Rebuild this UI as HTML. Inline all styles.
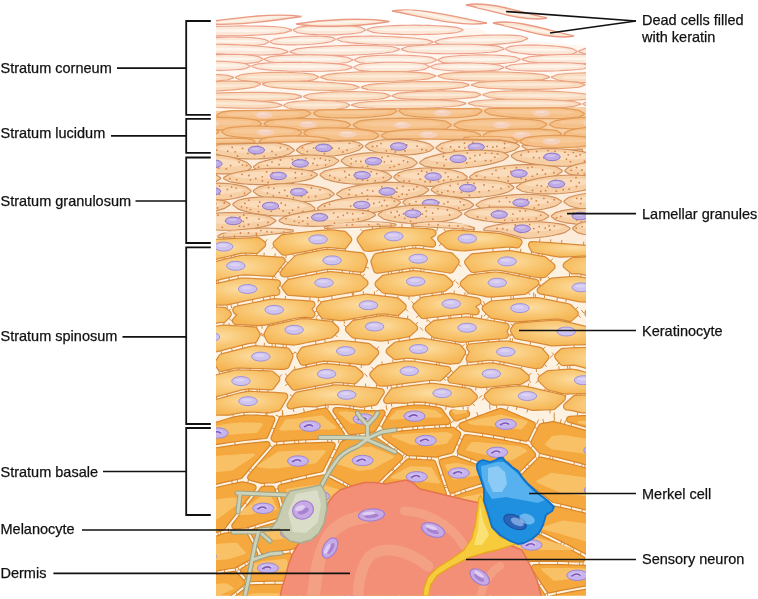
<!DOCTYPE html>
<html><head><meta charset="utf-8"><style>
html,body{margin:0;padding:0;background:#fff;width:758px;height:599px;overflow:hidden}
svg{display:block}
text{font-family:"Liberation Sans",sans-serif;font-size:14.5px;fill:#111;stroke:#111;stroke-width:0.25px}
body{-webkit-font-smoothing:antialiased}
#lbl{will-change:transform}
</style></head><body>
<svg width="758" height="599" viewBox="0 0 758 599">
<defs>
<clipPath id="blk"><rect x="216" y="0" width="370" height="595.7"/></clipPath>
<radialGradient id="gs" cx="0.5" cy="0.4" r="0.6"><stop offset="0" stop-color="#fcdda2"/><stop offset="0.5" stop-color="#f9c977"/><stop offset="1" stop-color="#f5b655"/></radialGradient>
</defs>
<g clip-path="url(#blk)">
<rect x="216" y="0" width="370" height="595.7" fill="#fff"/>
<path d="M216,28 L480,28 L492,38 L586,46 L586,112 L216,112Z" fill="#fff6ef"/>
<rect x="216" y="222" width="370" height="373.70000000000005" fill="#fdf2e1"/>
<path d="M216,111 L586,107 L586,149.0 L581,148.8913043478261 L576,148.7826086956522 L571,148.67391304347825 L566,148.56521739130434 L561,148.45652173913044 L556,148.34782608695653 L551,148.2391304347826 L546,148.1304347826087 L541,148.02173913043478 L536,147.2 L531,146.2 L526,145.2 L521,144.2 L516,143.2 L511,142.2 L506,141.2 L501,140.2 L496,139.96 L491,139.91 L486,139.86 L481,139.81 L476,139.76 L471,139.71 L466,139.66 L461,139.61 L456,139.56 L451,139.51 L446,139.46 L441,139.41 L436,139.36 L431,139.31 L426,139.26 L421,139.21 L416,139.16 L411,139.11 L406,139.06 L401,139.01 L396,139.12 L391,139.27 L386,139.42 L381,139.57 L376,139.72 L371,139.87 L366,140.02 L361,140.17 L356,140.32 L351,140.47 L346,140.62 L341,140.77 L336,140.92 L331,141.07 L326,141.22 L321,141.37 L316,141.52 L311,141.67 L306,141.82 L301,141.97 L296,142.0952380952381 L291,142.21428571428572 L286,142.33333333333334 L281,142.45238095238096 L276,142.57142857142858 L271,142.6904761904762 L266,142.8095238095238 L261,142.92857142857142 L256,143.04761904761904 L251,143.16666666666666 L246,143.28571428571428 L241,143.4047619047619 L236,143.52380952380952 L231,143.64285714285714 L226,143.76190476190476 L221,143.88095238095238 L216,144.0Z" fill="#f6cfa4"/>
<path d="M216,144.0 L221,143.88095238095238 L226,143.76190476190476 L231,143.64285714285714 L236,143.52380952380952 L241,143.4047619047619 L246,143.28571428571428 L251,143.16666666666666 L256,143.04761904761904 L261,142.92857142857142 L266,142.8095238095238 L271,142.6904761904762 L276,142.57142857142858 L281,142.45238095238096 L286,142.33333333333334 L291,142.21428571428572 L296,142.0952380952381 L301,141.97 L306,141.82 L311,141.67 L316,141.52 L321,141.37 L326,141.22 L331,141.07 L336,140.92 L341,140.77 L346,140.62 L351,140.47 L356,140.32 L361,140.17 L366,140.02 L371,139.87 L376,139.72 L381,139.57 L386,139.42 L391,139.27 L396,139.12 L401,139.01 L406,139.06 L411,139.11 L416,139.16 L421,139.21 L426,139.26 L431,139.31 L436,139.36 L441,139.41 L446,139.46 L451,139.51 L456,139.56 L461,139.61 L466,139.66 L471,139.71 L476,139.76 L481,139.81 L486,139.86 L491,139.91 L496,139.96 L501,140.2 L506,141.2 L511,142.2 L516,143.2 L521,144.2 L526,145.2 L531,146.2 L536,147.2 L541,148.02173913043478 L546,148.1304347826087 L551,148.2391304347826 L556,148.34782608695653 L561,148.45652173913044 L566,148.56521739130434 L571,148.67391304347825 L576,148.7826086956522 L581,148.8913043478261 L586,149.0 L586,244.0 L581,243.64285714285714 L576,243.28571428571428 L571,242.92857142857142 L566,242.57142857142858 L561,242.21428571428572 L556,241.85714285714286 L551,241.5 L546,241.14285714285714 L541,240.78571428571428 L536,240.42857142857142 L531,240.07142857142858 L526,238.93333333333334 L521,237.6 L516,236.26666666666668 L511,234.93333333333334 L506,233.6 L501,232.26666666666668 L496,231.7 L491,231.325 L486,230.95 L481,230.575 L476,230.2 L471,229.825 L466,229.45 L461,229.075 L456,228.8 L451,228.55 L446,228.3 L441,228.05 L436,227.8 L431,227.55 L426,227.3 L421,227.05 L416,226.8 L411,226.55 L406,226.3 L401,226.05 L396,226.15 L391,226.3375 L386,226.525 L381,226.7125 L376,226.9 L371,227.0875 L366,227.275 L361,227.4625 L356,227.65 L351,227.8375 L346,228.025 L341,228.2125 L336,228.4 L331,228.5875 L326,228.775 L321,228.9625 L316,229.46666666666667 L311,230.05 L306,230.63333333333333 L301,231.21666666666667 L296,231.8 L291,232.38333333333333 L286,232.96666666666667 L281,233.55 L276,234.13333333333333 L271,234.71666666666667 L266,235.3 L261,235.88333333333333 L256,236.1818181818182 L251,236.4090909090909 L246,236.63636363636363 L241,236.86363636363637 L236,237.0909090909091 L231,237.3181818181818 L226,237.54545454545453 L221,237.77272727272728 L216,238.0Z" fill="#fcebd9"/>
<path d="M176.4,31.3 L176.2,31.4 L176.1,31.5 L176.0,31.7 L176.1,31.9 L176.2,32.1 L176.4,32.2 L183.3,34.3 L183.4,34.3 L191.7,35.0 L191.7,35.0 L200.1,35.5 L200.1,35.5 L208.5,35.7 L208.6,35.7 L217.0,35.9 L217.0,35.9 L225.4,35.9 L225.4,35.9 L233.8,35.8 L233.8,35.8 L242.2,35.7 L242.2,35.7 L250.6,35.4 L250.6,35.4 L259.0,35.0 L259.0,35.0 L267.4,34.5 L267.4,34.5 L275.8,33.9 L275.8,33.9 L284.2,32.9 L284.3,32.9 L291.2,30.6 L291.4,30.5 L291.5,30.3 L291.5,30.1 L291.5,29.9 L291.4,29.8 L291.2,29.6 L284.3,27.5 L284.2,27.5 L275.8,26.8 L275.8,26.8 L267.4,26.4 L267.4,26.4 L259.0,26.1 L259.0,26.1 L250.6,26.0 L250.6,26.0 L242.2,25.9 L242.2,25.9 L233.8,26.0 L233.8,26.0 L225.4,26.2 L225.4,26.2 L217.0,26.4 L217.0,26.4 L208.6,26.8 L208.5,26.8 L200.1,27.3 L200.1,27.3 L191.7,28.0 L191.7,28.0 L183.4,28.9 L183.3,29.0Z" fill="#fce8d8" stroke="#eca08a" stroke-width="1.15"/>
<path d="M187.9,30.7 L187.7,30.8 L187.6,30.8 L187.6,30.9 L187.6,30.9 L187.7,31.0 L187.9,31.0 L193.4,31.6 L193.5,31.7 L200.1,31.9 L200.1,31.9 L206.9,32.0 L206.9,32.0 L213.6,32.1 L213.6,32.1 L220.3,32.1 L220.3,32.1 L227.1,32.1 L227.1,32.1 L233.8,32.1 L233.8,32.1 L240.5,32.1 L240.5,32.1 L247.2,32.0 L247.2,32.0 L254.0,31.9 L254.0,31.9 L260.7,31.7 L260.7,31.7 L267.4,31.5 L267.4,31.5 L274.1,31.2 L274.2,31.2 L279.7,30.5 L279.8,30.5 L279.9,30.4 L280.0,30.4 L279.9,30.3 L279.8,30.3 L279.7,30.2 L274.2,29.6 L274.1,29.6 L267.4,29.4 L267.4,29.4 L260.7,29.3 L260.7,29.3 L254.0,29.2 L254.0,29.2 L247.2,29.1 L247.2,29.1 L240.5,29.1 L240.5,29.1 L233.8,29.2 L233.8,29.2 L227.1,29.2 L227.1,29.2 L220.3,29.3 L220.3,29.3 L213.6,29.4 L213.6,29.4 L206.9,29.5 L206.9,29.5 L200.1,29.7 L200.1,29.8 L193.5,30.0 L193.4,30.0Z" fill="#fef5ec" opacity="1"/>
<path d="M293.5,29.7 L293.4,29.8 L293.3,29.9 L293.3,30.1 L293.3,30.3 L293.4,30.4 L293.5,30.5 L297.8,32.7 L298.0,32.8 L303.2,33.5 L303.2,33.5 L308.4,34.1 L308.4,34.1 L313.7,34.4 L313.7,34.4 L318.9,34.7 L318.9,34.7 L324.2,34.8 L324.2,34.8 L329.4,34.8 L329.4,34.8 L334.7,34.8 L334.7,34.8 L339.9,34.6 L340.0,34.6 L345.2,34.3 L345.2,34.3 L350.5,33.9 L350.5,33.9 L355.7,33.3 L355.7,33.3 L360.9,32.5 L361.0,32.5 L365.3,30.3 L365.5,30.1 L365.6,30.0 L365.6,29.8 L365.6,29.6 L365.5,29.5 L365.3,29.4 L361.0,27.2 L360.9,27.1 L355.7,26.4 L355.7,26.4 L350.5,25.8 L350.5,25.8 L345.2,25.5 L345.2,25.5 L340.0,25.2 L339.9,25.2 L334.7,25.1 L334.7,25.1 L329.4,25.1 L329.4,25.1 L324.2,25.2 L324.2,25.2 L318.9,25.3 L318.9,25.3 L313.7,25.6 L313.7,25.6 L308.4,26.0 L308.4,26.0 L303.2,26.6 L303.2,26.6 L298.0,27.4 L297.8,27.5Z" fill="#fce8d8" stroke="#eca08a" stroke-width="1.15"/>
<path d="M300.7,29.6 L300.6,29.6 L300.5,29.6 L300.5,29.7 L300.5,29.8 L300.6,29.8 L300.7,29.8 L304.2,30.5 L304.3,30.5 L308.4,30.7 L308.4,30.7 L312.6,30.9 L312.6,30.9 L316.8,31.0 L316.8,31.0 L321.0,31.1 L321.0,31.1 L325.2,31.1 L325.2,31.1 L329.4,31.1 L329.4,31.1 L333.6,31.1 L333.7,31.1 L337.8,31.0 L337.9,31.0 L342.0,31.0 L342.1,31.0 L346.3,30.8 L346.3,30.8 L350.5,30.7 L350.5,30.7 L354.6,30.4 L354.7,30.4 L358.2,29.7 L358.3,29.7 L358.4,29.7 L358.4,29.6 L358.4,29.6 L358.3,29.5 L358.2,29.5 L354.7,28.8 L354.6,28.8 L350.5,28.6 L350.5,28.6 L346.3,28.4 L346.3,28.4 L342.1,28.3 L342.0,28.3 L337.9,28.2 L337.8,28.2 L333.7,28.2 L333.6,28.2 L329.4,28.2 L329.4,28.2 L325.2,28.2 L325.2,28.2 L321.0,28.3 L321.0,28.3 L316.8,28.4 L316.8,28.4 L312.6,28.5 L312.6,28.5 L308.4,28.6 L308.4,28.6 L304.3,28.9 L304.2,28.9Z" fill="#fef5ec" opacity="1"/>
<path d="M367.5,29.3 L367.3,29.4 L367.2,29.6 L367.2,29.8 L367.2,30.0 L367.3,30.2 L367.5,30.3 L373.1,32.4 L373.3,32.4 L380.2,33.2 L380.2,33.2 L387.2,33.7 L387.2,33.7 L394.1,34.1 L394.1,34.1 L401.1,34.4 L401.1,34.4 L408.1,34.5 L408.1,34.5 L415.1,34.6 L415.1,34.6 L422.0,34.5 L422.1,34.5 L429.0,34.4 L429.0,34.4 L436.0,34.2 L436.0,34.2 L443.0,33.8 L443.0,33.8 L449.9,33.3 L450.0,33.3 L456.9,32.5 L457.0,32.5 L462.6,30.5 L462.8,30.4 L462.9,30.2 L463.0,30.0 L462.9,29.8 L462.8,29.6 L462.6,29.5 L457.0,27.4 L456.9,27.4 L450.0,26.6 L449.9,26.6 L443.0,26.1 L443.0,26.1 L436.0,25.7 L436.0,25.7 L429.0,25.4 L429.0,25.4 L422.1,25.3 L422.0,25.3 L415.1,25.2 L415.1,25.2 L408.1,25.3 L408.1,25.3 L401.1,25.4 L401.1,25.4 L394.1,25.6 L394.1,25.6 L387.2,26.0 L387.2,26.0 L380.2,26.5 L380.2,26.5 L373.3,27.3 L373.1,27.3Z" fill="#fce8d8" stroke="#eca08a" stroke-width="1.15"/>
<path d="M377.0,29.4 L376.9,29.5 L376.8,29.5 L376.8,29.6 L376.8,29.6 L376.9,29.7 L377.0,29.7 L381.5,30.3 L381.6,30.3 L387.1,30.6 L387.2,30.6 L392.7,30.7 L392.7,30.7 L398.3,30.9 L398.3,30.9 L403.9,30.9 L403.9,30.9 L409.5,31.0 L409.5,31.0 L415.1,31.0 L415.1,31.0 L420.6,31.0 L420.7,31.0 L426.2,31.0 L426.2,31.0 L431.8,30.9 L431.8,30.9 L437.4,30.8 L437.4,30.8 L443.0,30.6 L443.0,30.6 L448.5,30.4 L448.6,30.4 L453.1,29.8 L453.3,29.7 L453.4,29.7 L453.4,29.6 L453.4,29.6 L453.3,29.5 L453.1,29.5 L448.6,28.9 L448.5,28.9 L443.0,28.6 L443.0,28.6 L437.4,28.5 L437.4,28.5 L431.8,28.3 L431.8,28.3 L426.2,28.3 L426.2,28.3 L420.7,28.2 L420.6,28.2 L415.1,28.2 L415.1,28.2 L409.5,28.2 L409.5,28.2 L403.9,28.2 L403.9,28.2 L398.3,28.3 L398.3,28.3 L392.7,28.4 L392.7,28.4 L387.2,28.6 L387.1,28.6 L381.6,28.8 L381.5,28.8Z" fill="#fef5ec" opacity="1"/>
<path d="M116.7,41.7 L116.5,41.9 L116.4,42.0 L116.4,42.2 L116.4,42.4 L116.5,42.6 L116.7,42.7 L121.5,44.7 L121.7,44.7 L127.5,45.4 L127.6,45.4 L133.5,45.9 L133.5,45.9 L139.5,46.2 L139.5,46.2 L145.4,46.4 L145.4,46.4 L151.4,46.5 L151.4,46.5 L157.3,46.5 L157.3,46.5 L163.3,46.4 L163.3,46.4 L169.2,46.2 L169.2,46.2 L175.2,45.9 L175.2,45.9 L181.2,45.4 L181.2,45.4 L187.1,44.9 L187.1,44.9 L193.0,44.0 L193.1,44.0 L198.0,41.8 L198.1,41.7 L198.2,41.6 L198.3,41.4 L198.2,41.2 L198.1,41.0 L198.0,40.9 L193.1,38.9 L193.0,38.9 L187.1,38.1 L187.1,38.1 L181.2,37.7 L181.2,37.7 L175.2,37.4 L175.2,37.4 L169.2,37.2 L169.2,37.2 L163.3,37.1 L163.3,37.1 L157.3,37.1 L157.3,37.1 L151.4,37.2 L151.4,37.2 L145.4,37.4 L145.4,37.4 L139.5,37.7 L139.5,37.7 L133.5,38.2 L133.5,38.2 L127.6,38.7 L127.5,38.7 L121.7,39.6 L121.5,39.6Z" fill="#fce8d8" stroke="#eca08a" stroke-width="1.15"/>
<path d="M124.8,41.5 L124.7,41.5 L124.6,41.6 L124.6,41.6 L124.6,41.7 L124.7,41.7 L124.8,41.8 L128.7,42.4 L128.8,42.4 L133.5,42.6 L133.5,42.6 L138.3,42.7 L138.3,42.7 L143.0,42.8 L143.0,42.8 L147.8,42.9 L147.8,42.9 L152.6,42.9 L152.6,42.9 L157.3,42.9 L157.3,42.9 L162.1,42.9 L162.1,42.9 L166.9,42.8 L166.9,42.8 L171.6,42.7 L171.6,42.7 L176.4,42.6 L176.4,42.6 L181.2,42.4 L181.2,42.4 L185.9,42.2 L186.0,42.1 L189.8,41.5 L190.0,41.5 L190.1,41.4 L190.1,41.4 L190.1,41.3 L190.0,41.3 L189.8,41.2 L186.0,40.6 L185.9,40.6 L181.2,40.4 L181.2,40.4 L176.4,40.3 L176.4,40.3 L171.6,40.2 L171.6,40.2 L166.9,40.1 L166.9,40.1 L162.1,40.1 L162.1,40.1 L157.3,40.1 L157.3,40.1 L152.6,40.1 L152.6,40.1 L147.8,40.2 L147.8,40.2 L143.0,40.3 L143.0,40.3 L138.3,40.4 L138.3,40.4 L133.5,40.6 L133.5,40.6 L128.8,40.8 L128.7,40.8Z" fill="#fef5ec" opacity="1"/>
<path d="M199.9,40.9 L199.8,41.0 L199.7,41.2 L199.7,41.4 L199.7,41.6 L199.8,41.7 L199.9,41.8 L204.0,43.9 L204.1,43.9 L209.1,44.7 L209.1,44.7 L214.1,45.2 L214.1,45.2 L219.1,45.6 L219.1,45.6 L224.2,45.9 L224.2,45.9 L229.2,46.1 L229.2,46.1 L234.2,46.1 L234.2,46.1 L239.2,46.1 L239.2,46.1 L244.3,46.0 L244.3,46.0 L249.3,45.8 L249.3,45.8 L254.3,45.5 L254.3,45.5 L259.3,45.0 L259.4,45.0 L264.3,44.3 L264.4,44.2 L268.5,42.2 L268.6,42.1 L268.7,42.0 L268.8,41.8 L268.7,41.6 L268.6,41.5 L268.5,41.3 L264.4,39.3 L264.3,39.3 L259.4,38.5 L259.3,38.5 L254.3,37.9 L254.3,37.9 L249.3,37.5 L249.3,37.5 L244.3,37.3 L244.3,37.3 L239.2,37.1 L239.2,37.1 L234.2,37.0 L234.2,37.0 L229.2,37.0 L229.2,37.0 L224.2,37.2 L224.2,37.2 L219.1,37.4 L219.1,37.4 L214.1,37.7 L214.1,37.7 L209.1,38.2 L209.1,38.2 L204.1,38.9 L204.0,38.9Z" fill="#fce8d8" stroke="#eca08a" stroke-width="1.15"/>
<path d="M206.8,41.1 L206.7,41.1 L206.6,41.2 L206.6,41.2 L206.6,41.3 L206.7,41.3 L206.8,41.4 L210.0,42.0 L210.2,42.0 L214.1,42.2 L214.1,42.2 L218.1,42.4 L218.1,42.4 L222.1,42.5 L222.2,42.5 L226.2,42.6 L226.2,42.6 L230.2,42.6 L230.2,42.6 L234.2,42.7 L234.2,42.7 L238.2,42.7 L238.2,42.7 L242.3,42.6 L242.3,42.6 L246.3,42.6 L246.3,42.6 L250.3,42.5 L250.3,42.5 L254.3,42.3 L254.3,42.3 L258.3,42.1 L258.4,42.1 L261.6,41.5 L261.8,41.5 L261.8,41.4 L261.9,41.4 L261.8,41.3 L261.8,41.2 L261.6,41.2 L258.4,40.6 L258.3,40.6 L254.3,40.4 L254.3,40.4 L250.3,40.2 L250.3,40.2 L246.3,40.1 L246.3,40.1 L242.3,40.0 L242.3,40.0 L238.2,39.9 L238.2,39.9 L234.2,39.9 L234.2,39.9 L230.2,39.9 L230.2,39.9 L226.2,40.0 L226.2,40.0 L222.2,40.0 L222.1,40.0 L218.1,40.1 L218.1,40.1 L214.1,40.3 L214.1,40.3 L210.2,40.5 L210.0,40.5Z" fill="#fef5ec" opacity="1"/>
<path d="M270.3,41.3 L270.2,41.4 L270.1,41.6 L270.0,41.8 L270.1,42.0 L270.2,42.1 L270.3,42.2 L274.1,43.9 L274.2,43.9 L278.9,44.4 L278.9,44.4 L283.6,44.7 L283.6,44.7 L288.4,44.9 L288.4,44.9 L293.1,44.9 L293.1,44.9 L297.9,44.8 L297.9,44.8 L302.6,44.7 L302.6,44.7 L307.3,44.5 L307.4,44.5 L312.1,44.2 L312.1,44.2 L316.8,43.7 L316.8,43.7 L321.6,43.2 L321.6,43.2 L326.3,42.6 L326.3,42.6 L331.0,41.7 L331.1,41.7 L334.9,39.7 L335.1,39.6 L335.1,39.4 L335.2,39.2 L335.1,39.0 L335.0,38.9 L334.9,38.8 L331.1,37.1 L331.0,37.1 L326.3,36.6 L326.3,36.6 L321.6,36.3 L321.6,36.3 L316.8,36.1 L316.8,36.1 L312.1,36.1 L312.1,36.1 L307.4,36.2 L307.3,36.2 L302.6,36.3 L302.6,36.3 L297.9,36.5 L297.9,36.5 L293.1,36.9 L293.1,36.9 L288.4,37.3 L288.4,37.3 L283.6,37.8 L283.6,37.8 L278.9,38.4 L278.9,38.4 L274.2,39.3 L274.1,39.4Z" fill="#fce8d8" stroke="#eca08a" stroke-width="1.15"/>
<path d="M276.8,40.4 L276.7,40.5 L276.6,40.5 L276.6,40.6 L276.6,40.6 L276.7,40.7 L276.8,40.7 L279.8,41.2 L279.9,41.2 L283.6,41.4 L283.6,41.4 L287.4,41.5 L287.4,41.5 L291.2,41.5 L291.2,41.5 L295.0,41.5 L295.0,41.5 L298.8,41.5 L298.8,41.5 L302.6,41.5 L302.6,41.5 L306.4,41.4 L306.4,41.4 L310.2,41.3 L310.2,41.3 L314.0,41.2 L314.0,41.2 L317.8,41.0 L317.8,41.0 L321.6,40.8 L321.6,40.8 L325.3,40.6 L325.4,40.5 L328.4,40.0 L328.6,39.9 L328.6,39.9 L328.7,39.8 L328.6,39.8 L328.5,39.7 L328.4,39.7 L325.4,39.2 L325.3,39.2 L321.6,39.0 L321.6,39.0 L317.8,38.9 L317.8,38.9 L314.0,38.9 L314.0,38.9 L310.2,38.9 L310.2,38.9 L306.4,38.9 L306.4,38.9 L302.6,38.9 L302.6,38.9 L298.8,39.0 L298.8,39.0 L295.0,39.1 L295.0,39.1 L291.2,39.2 L291.2,39.2 L287.4,39.4 L287.4,39.4 L283.6,39.6 L283.6,39.6 L279.9,39.8 L279.8,39.9Z" fill="#fef5ec" opacity="1"/>
<path d="M337.3,38.8 L337.1,38.9 L337.0,39.0 L336.9,39.2 L337.0,39.4 L337.1,39.6 L337.3,39.7 L342.8,41.7 L342.9,41.7 L349.8,42.6 L349.8,42.6 L356.8,43.3 L356.9,43.3 L363.9,43.8 L363.9,43.8 L370.9,44.2 L370.9,44.2 L377.9,44.6 L377.9,44.6 L384.9,44.8 L384.9,44.8 L391.9,45.0 L391.9,45.0 L398.9,45.1 L398.9,45.1 L405.9,45.1 L405.9,45.1 L412.9,44.9 L412.9,44.9 L419.9,44.7 L419.9,44.7 L426.9,44.2 L427.0,44.2 L432.5,42.6 L432.6,42.5 L432.8,42.3 L432.8,42.1 L432.8,41.9 L432.7,41.7 L432.5,41.6 L427.0,39.6 L426.9,39.6 L419.9,38.7 L419.9,38.7 L412.9,38.0 L412.9,38.0 L405.9,37.5 L405.9,37.5 L398.9,37.1 L398.9,37.1 L391.9,36.7 L391.9,36.7 L384.9,36.5 L384.9,36.5 L377.9,36.3 L377.9,36.3 L370.9,36.2 L370.9,36.2 L363.9,36.3 L363.9,36.3 L356.9,36.4 L356.8,36.4 L349.8,36.6 L349.8,36.6 L342.9,37.1 L342.8,37.1Z" fill="#fce8d8" stroke="#eca08a" stroke-width="1.15"/>
<path d="M346.8,39.8 L346.7,39.8 L346.6,39.9 L346.5,39.9 L346.6,40.0 L346.6,40.0 L346.8,40.1 L351.2,40.7 L351.3,40.7 L356.8,40.9 L356.9,40.9 L362.4,41.1 L362.5,41.1 L368.1,41.3 L368.1,41.3 L373.7,41.4 L373.7,41.4 L379.3,41.5 L379.3,41.5 L384.9,41.6 L384.9,41.6 L390.5,41.7 L390.5,41.7 L396.1,41.7 L396.1,41.7 L401.7,41.7 L401.7,41.7 L407.3,41.6 L407.3,41.6 L412.9,41.6 L412.9,41.6 L418.5,41.4 L418.6,41.4 L422.9,40.9 L423.1,40.9 L423.2,40.9 L423.2,40.8 L423.2,40.7 L423.1,40.7 L423.0,40.6 L418.6,40.1 L418.5,40.0 L412.9,39.8 L412.9,39.8 L407.3,39.6 L407.3,39.6 L401.7,39.4 L401.7,39.4 L396.1,39.3 L396.1,39.3 L390.5,39.2 L390.5,39.2 L384.9,39.1 L384.9,39.1 L379.3,39.1 L379.3,39.1 L373.7,39.0 L373.7,39.0 L368.1,39.0 L368.1,39.0 L362.5,39.1 L362.4,39.1 L356.9,39.2 L356.8,39.2 L351.3,39.3 L351.2,39.3Z" fill="#fef5ec" opacity="1"/>
<path d="M435.1,41.6 L434.9,41.7 L434.8,41.9 L434.8,42.1 L434.8,42.3 L435.0,42.4 L435.1,42.5 L440.6,44.5 L440.8,44.6 L447.4,45.1 L447.4,45.1 L454.2,45.4 L454.2,45.4 L460.9,45.5 L460.9,45.5 L467.7,45.5 L467.7,45.5 L474.4,45.4 L474.4,45.4 L481.2,45.2 L481.2,45.2 L487.9,44.8 L487.9,44.8 L494.7,44.4 L494.7,44.4 L501.4,43.9 L501.4,43.9 L508.2,43.3 L508.2,43.3 L514.9,42.4 L514.9,42.4 L521.6,41.4 L521.7,41.3 L527.3,38.9 L527.4,38.8 L527.5,38.6 L527.6,38.4 L527.5,38.2 L527.4,38.1 L527.2,38.0 L521.7,36.0 L521.6,36.0 L514.9,35.4 L514.9,35.4 L508.2,35.1 L508.2,35.1 L501.4,35.0 L501.4,35.0 L494.7,35.0 L494.7,35.0 L487.9,35.1 L487.9,35.1 L481.2,35.3 L481.2,35.3 L474.4,35.7 L474.4,35.7 L467.7,36.1 L467.7,36.1 L460.9,36.6 L460.9,36.6 L454.2,37.3 L454.2,37.3 L447.4,38.1 L447.4,38.1 L440.8,39.2 L440.6,39.2Z" fill="#fce8d8" stroke="#eca08a" stroke-width="1.15"/>
<path d="M444.3,40.4 L444.2,40.4 L444.1,40.4 L444.1,40.5 L444.1,40.6 L444.2,40.6 L444.3,40.6 L448.7,41.2 L448.8,41.2 L454.2,41.4 L454.2,41.4 L459.6,41.5 L459.6,41.5 L465.0,41.5 L465.0,41.5 L470.4,41.5 L470.4,41.5 L475.8,41.5 L475.8,41.5 L481.2,41.4 L481.2,41.4 L486.6,41.3 L486.6,41.3 L492.0,41.2 L492.0,41.2 L497.4,41.0 L497.4,41.0 L502.8,40.9 L502.8,40.9 L508.2,40.6 L508.2,40.6 L513.5,40.3 L513.6,40.3 L518.1,39.5 L518.2,39.5 L518.3,39.5 L518.3,39.4 L518.3,39.3 L518.2,39.3 L518.0,39.3 L513.6,38.7 L513.5,38.7 L508.2,38.5 L508.2,38.5 L502.8,38.4 L502.8,38.4 L497.4,38.4 L497.4,38.4 L492.0,38.4 L492.0,38.4 L486.6,38.4 L486.6,38.4 L481.2,38.5 L481.2,38.5 L475.8,38.6 L475.8,38.6 L470.4,38.7 L470.4,38.7 L465.0,38.9 L465.0,38.9 L459.6,39.1 L459.6,39.1 L454.2,39.3 L454.2,39.3 L448.8,39.6 L448.7,39.6Z" fill="#fef5ec" opacity="1"/>
<path d="M179.4,47.0 L179.2,47.1 L179.0,47.3 L179.0,47.5 L179.0,47.7 L179.1,47.9 L179.3,48.0 L185.8,50.4 L185.9,50.5 L193.8,51.6 L193.8,51.6 L201.7,52.4 L201.7,52.4 L209.7,53.1 L209.7,53.1 L217.6,53.7 L217.6,53.7 L225.5,54.2 L225.5,54.2 L233.5,54.5 L233.5,54.5 L241.4,54.8 L241.4,54.8 L249.3,54.9 L249.3,54.9 L257.3,55.0 L257.3,55.0 L265.2,54.9 L265.2,54.9 L273.1,54.6 L273.1,54.6 L281.0,54.1 L281.1,54.1 L287.6,52.1 L287.8,52.0 L287.9,51.9 L287.9,51.7 L287.9,51.5 L287.8,51.3 L287.6,51.2 L281.1,48.7 L281.0,48.7 L273.1,47.6 L273.1,47.6 L265.2,46.7 L265.2,46.7 L257.3,46.0 L257.3,46.0 L249.3,45.4 L249.3,45.4 L241.4,45.0 L241.4,45.0 L233.5,44.6 L233.5,44.6 L225.5,44.4 L225.5,44.4 L217.6,44.2 L217.6,44.2 L209.7,44.2 L209.7,44.2 L201.7,44.3 L201.7,44.3 L193.8,44.5 L193.8,44.5 L185.9,45.0 L185.8,45.1Z" fill="#fce8d8" stroke="#eca08a" stroke-width="1.15"/>
<path d="M190.2,48.5 L190.0,48.5 L189.9,48.6 L189.9,48.6 L189.9,48.7 L190.0,48.8 L190.1,48.8 L195.4,49.5 L195.4,49.5 L201.7,49.9 L201.7,49.9 L208.1,50.1 L208.1,50.1 L214.4,50.3 L214.4,50.3 L220.8,50.5 L220.8,50.5 L227.1,50.6 L227.1,50.6 L233.5,50.8 L233.5,50.8 L239.8,50.8 L239.8,50.8 L246.2,50.9 L246.2,50.9 L252.5,50.9 L252.5,50.9 L258.8,50.9 L258.8,50.9 L265.2,50.8 L265.2,50.8 L271.5,50.6 L271.6,50.6 L276.8,50.0 L276.9,50.0 L277.0,50.0 L277.0,49.9 L277.0,49.8 L276.9,49.8 L276.8,49.8 L271.6,49.0 L271.5,49.0 L265.2,48.7 L265.2,48.7 L258.8,48.4 L258.8,48.4 L252.5,48.2 L252.5,48.2 L246.2,48.0 L246.2,48.0 L239.8,47.9 L239.8,47.9 L233.5,47.8 L233.5,47.8 L227.1,47.7 L227.1,47.7 L220.8,47.7 L220.8,47.7 L214.4,47.7 L214.4,47.7 L208.1,47.7 L208.1,47.7 L201.7,47.8 L201.7,47.8 L195.4,47.9 L195.4,47.9Z" fill="#fef5ec" opacity="1"/>
<path d="M290.4,51.2 L290.2,51.3 L290.1,51.5 L290.1,51.7 L290.1,51.9 L290.2,52.0 L290.4,52.1 L296.9,54.2 L297.0,54.2 L304.9,54.8 L304.9,54.8 L312.9,55.2 L312.9,55.2 L320.8,55.4 L320.8,55.4 L328.8,55.4 L328.8,55.4 L336.7,55.4 L336.7,55.4 L344.7,55.3 L344.7,55.3 L352.7,55.1 L352.7,55.0 L360.6,54.7 L360.6,54.7 L368.6,54.3 L368.6,54.3 L376.5,53.7 L376.5,53.7 L384.5,53.0 L384.5,53.0 L392.4,52.0 L392.5,52.0 L399.0,49.6 L399.2,49.5 L399.3,49.4 L399.3,49.2 L399.3,49.0 L399.2,48.8 L399.0,48.7 L392.5,46.7 L392.4,46.7 L384.5,46.0 L384.5,46.0 L376.5,45.7 L376.5,45.7 L368.6,45.5 L368.6,45.5 L360.6,45.4 L360.6,45.4 L352.7,45.4 L352.7,45.4 L344.7,45.6 L344.7,45.6 L336.7,45.8 L336.7,45.8 L328.8,46.1 L328.8,46.1 L320.8,46.6 L320.8,46.6 L312.9,47.1 L312.9,47.1 L304.9,47.8 L304.9,47.9 L297.0,48.8 L296.9,48.9Z" fill="#fce8d8" stroke="#eca08a" stroke-width="1.15"/>
<path d="M301.2,50.4 L301.1,50.4 L301.0,50.4 L301.0,50.5 L301.0,50.6 L301.1,50.6 L301.3,50.6 L306.4,51.2 L306.5,51.2 L312.9,51.4 L312.9,51.4 L319.2,51.5 L319.2,51.5 L325.6,51.6 L325.6,51.6 L332.0,51.6 L332.0,51.6 L338.3,51.6 L338.3,51.6 L344.7,51.6 L344.7,51.6 L351.1,51.5 L351.1,51.5 L357.4,51.4 L357.4,51.4 L363.8,51.3 L363.8,51.3 L370.2,51.1 L370.2,51.1 L376.5,50.9 L376.5,50.9 L382.9,50.6 L383.0,50.6 L388.2,49.9 L388.3,49.9 L388.4,49.8 L388.4,49.7 L388.4,49.7 L388.3,49.6 L388.1,49.6 L383.0,49.0 L382.9,49.0 L376.5,48.8 L376.5,48.8 L370.2,48.7 L370.2,48.7 L363.8,48.6 L363.8,48.6 L357.4,48.6 L357.4,48.6 L351.1,48.6 L351.1,48.6 L344.7,48.7 L344.7,48.7 L338.3,48.7 L338.3,48.7 L332.0,48.8 L332.0,48.8 L325.6,49.0 L325.6,49.0 L319.2,49.1 L319.2,49.1 L312.9,49.3 L312.9,49.3 L306.5,49.6 L306.4,49.7Z" fill="#fef5ec" opacity="1"/>
<path d="M401.8,48.7 L401.6,48.8 L401.5,48.9 L401.4,49.1 L401.5,49.3 L401.6,49.5 L401.8,49.6 L407.8,51.7 L408.0,51.7 L415.4,52.5 L415.4,52.5 L422.8,53.0 L422.9,53.0 L430.3,53.4 L430.3,53.4 L437.8,53.6 L437.8,53.6 L445.3,53.7 L445.3,53.7 L452.8,53.7 L452.8,53.7 L460.2,53.6 L460.2,53.6 L467.7,53.5 L467.7,53.5 L475.2,53.2 L475.2,53.2 L482.7,52.8 L482.7,52.8 L490.1,52.2 L490.1,52.2 L497.6,51.4 L497.7,51.3 L503.7,49.2 L503.9,49.1 L504.0,48.9 L504.1,48.7 L504.0,48.5 L503.9,48.4 L503.7,48.3 L497.7,46.1 L497.6,46.1 L490.1,45.4 L490.1,45.4 L482.7,44.9 L482.7,44.9 L475.2,44.5 L475.2,44.5 L467.7,44.3 L467.7,44.3 L460.2,44.2 L460.2,44.2 L452.8,44.2 L452.8,44.2 L445.3,44.2 L445.3,44.2 L437.8,44.4 L437.8,44.4 L430.3,44.7 L430.3,44.7 L422.9,45.1 L422.8,45.1 L415.4,45.7 L415.4,45.7 L408.0,46.5 L407.8,46.5Z" fill="#fce8d8" stroke="#eca08a" stroke-width="1.15"/>
<path d="M412.0,48.6 L411.8,48.6 L411.7,48.6 L411.7,48.7 L411.7,48.8 L411.8,48.8 L412.0,48.8 L416.8,49.5 L416.9,49.5 L422.8,49.7 L422.9,49.7 L428.8,49.9 L428.8,49.9 L434.8,50.0 L434.8,50.0 L440.8,50.0 L440.8,50.0 L446.8,50.1 L446.8,50.1 L452.8,50.1 L452.8,50.1 L458.7,50.0 L458.7,50.0 L464.7,50.0 L464.7,50.0 L470.7,49.9 L470.7,49.9 L476.7,49.8 L476.7,49.8 L482.7,49.6 L482.7,49.6 L488.6,49.4 L488.7,49.4 L493.5,48.7 L493.7,48.7 L493.8,48.6 L493.8,48.6 L493.8,48.5 L493.7,48.5 L493.5,48.4 L488.7,47.8 L488.6,47.8 L482.7,47.6 L482.7,47.6 L476.7,47.4 L476.7,47.4 L470.7,47.3 L470.7,47.3 L464.7,47.2 L464.7,47.2 L458.7,47.2 L458.7,47.2 L452.8,47.2 L452.8,47.2 L446.8,47.2 L446.8,47.2 L440.8,47.3 L440.8,47.3 L434.8,47.4 L434.8,47.4 L428.8,47.5 L428.8,47.5 L422.9,47.6 L422.8,47.6 L416.9,47.9 L416.8,47.9Z" fill="#fef5ec" opacity="1"/>
<path d="M506.0,48.3 L505.8,48.4 L505.7,48.6 L505.7,48.7 L505.7,48.9 L505.8,49.1 L505.9,49.2 L510.2,51.5 L510.3,51.6 L515.4,52.6 L515.5,52.6 L520.6,53.3 L520.6,53.3 L525.8,53.9 L525.8,53.9 L531.0,54.4 L531.0,54.4 L536.2,54.7 L536.2,54.7 L541.3,54.9 L541.3,54.9 L546.5,55.1 L546.5,55.1 L551.7,55.1 L551.7,55.1 L556.9,55.1 L556.9,55.1 L562.0,54.9 L562.1,54.9 L567.2,54.6 L567.2,54.6 L572.3,54.0 L572.5,53.9 L576.7,51.9 L576.8,51.8 L576.9,51.7 L577.0,51.5 L577.0,51.3 L576.9,51.1 L576.7,51.0 L572.5,48.7 L572.3,48.6 L567.2,47.6 L567.2,47.6 L562.1,46.9 L562.0,46.9 L556.9,46.3 L556.9,46.3 L551.7,45.9 L551.7,45.9 L546.5,45.5 L546.5,45.5 L541.3,45.3 L541.3,45.3 L536.2,45.1 L536.2,45.1 L531.0,45.1 L531.0,45.1 L525.8,45.1 L525.8,45.1 L520.6,45.3 L520.6,45.3 L515.5,45.7 L515.4,45.7 L510.4,46.3 L510.2,46.3Z" fill="#fce8d8" stroke="#eca08a" stroke-width="1.15"/>
<path d="M513.0,49.3 L512.9,49.3 L512.8,49.3 L512.8,49.4 L512.8,49.5 L512.9,49.5 L513.0,49.5 L516.4,50.2 L516.5,50.3 L520.6,50.5 L520.6,50.6 L524.8,50.8 L524.8,50.8 L528.9,50.9 L528.9,50.9 L533.0,51.1 L533.1,51.1 L537.2,51.2 L537.2,51.2 L541.3,51.3 L541.3,51.3 L545.5,51.3 L545.5,51.3 L549.6,51.3 L549.6,51.3 L553.8,51.3 L553.8,51.3 L557.9,51.2 L557.9,51.2 L562.0,51.1 L562.1,51.1 L566.1,51.0 L566.2,51.0 L569.6,50.4 L569.7,50.3 L569.8,50.3 L569.9,50.2 L569.8,50.2 L569.8,50.1 L569.6,50.1 L566.2,49.4 L566.1,49.4 L562.1,49.1 L562.0,49.1 L557.9,48.8 L557.9,48.8 L553.8,48.7 L553.8,48.7 L549.6,48.5 L549.6,48.5 L545.5,48.4 L545.5,48.4 L541.3,48.4 L541.3,48.4 L537.2,48.3 L537.2,48.3 L533.1,48.3 L533.0,48.3 L528.9,48.3 L528.9,48.3 L524.8,48.4 L524.8,48.4 L520.6,48.5 L520.6,48.5 L516.5,48.7 L516.4,48.7Z" fill="#fef5ec" opacity="1"/>
<path d="M578.8,51.0 L578.7,51.1 L578.5,51.3 L578.5,51.5 L578.6,51.7 L578.7,51.8 L578.9,51.9 L584.6,53.8 L584.7,53.8 L591.7,54.3 L591.7,54.3 L598.8,54.5 L598.8,54.5 L605.9,54.6 L605.9,54.6 L612.9,54.5 L612.9,54.5 L620.0,54.4 L620.0,54.4 L627.1,54.1 L627.1,54.1 L634.2,53.8 L634.2,53.8 L641.2,53.3 L641.2,53.3 L648.3,52.7 L648.3,52.7 L655.4,52.0 L655.4,52.0 L662.4,51.2 L662.5,51.2 L669.5,50.1 L669.6,50.1 L675.3,47.7 L675.5,47.6 L675.6,47.4 L675.6,47.2 L675.6,47.0 L675.5,46.8 L675.3,46.7 L669.6,44.9 L669.5,44.8 L662.5,44.3 L662.4,44.3 L655.4,44.1 L655.4,44.1 L648.3,44.1 L648.3,44.1 L641.2,44.1 L641.2,44.1 L634.2,44.3 L634.2,44.3 L627.1,44.5 L627.1,44.5 L620.0,44.9 L620.0,44.9 L612.9,45.4 L612.9,45.4 L605.9,45.9 L605.9,45.9 L598.8,46.6 L598.8,46.6 L591.7,47.4 L591.7,47.5 L584.7,48.6 L584.6,48.6Z" fill="#fce8d8" stroke="#eca08a" stroke-width="1.15"/>
<path d="M588.5,49.5 L588.3,49.6 L588.3,49.6 L588.2,49.7 L588.3,49.7 L588.4,49.8 L588.5,49.8 L593.1,50.4 L593.2,50.4 L598.8,50.5 L598.8,50.5 L604.4,50.6 L604.5,50.6 L610.1,50.6 L610.1,50.6 L615.8,50.6 L615.8,50.6 L621.4,50.5 L621.4,50.5 L627.1,50.5 L627.1,50.5 L632.7,50.4 L632.7,50.4 L638.4,50.2 L638.4,50.2 L644.1,50.0 L644.1,50.0 L649.7,49.8 L649.7,49.8 L655.4,49.6 L655.4,49.6 L661.0,49.3 L661.1,49.2 L665.7,48.5 L665.8,48.5 L665.9,48.4 L665.9,48.4 L665.9,48.3 L665.8,48.3 L665.7,48.2 L661.1,47.7 L661.0,47.7 L655.4,47.5 L655.4,47.5 L649.7,47.5 L649.7,47.5 L644.1,47.4 L644.1,47.4 L638.4,47.5 L638.4,47.5 L632.7,47.5 L632.7,47.5 L627.1,47.6 L627.1,47.6 L621.4,47.7 L621.4,47.7 L615.8,47.8 L615.8,47.8 L610.1,48.0 L610.1,48.0 L604.5,48.2 L604.4,48.2 L598.8,48.5 L598.8,48.5 L593.2,48.8 L593.1,48.8Z" fill="#fef5ec" opacity="1"/>
<path d="M118.9,58.9 L118.7,59.0 L118.6,59.2 L118.6,59.4 L118.7,59.5 L118.8,59.7 L118.9,59.8 L123.6,62.0 L123.8,62.1 L129.5,62.9 L129.5,62.9 L135.2,63.4 L135.2,63.4 L141.0,63.7 L141.0,63.7 L146.7,64.0 L146.7,64.0 L152.5,64.1 L152.5,64.1 L158.3,64.1 L158.3,64.1 L164.0,64.0 L164.0,64.0 L169.8,63.8 L169.8,63.8 L175.5,63.5 L175.5,63.5 L181.3,63.1 L181.3,63.1 L187.0,62.5 L187.1,62.5 L192.7,61.6 L192.9,61.6 L197.6,59.3 L197.8,59.1 L197.9,59.0 L197.9,58.8 L197.9,58.6 L197.8,58.5 L197.6,58.4 L192.9,56.1 L192.7,56.1 L187.1,55.3 L187.0,55.3 L181.3,54.8 L181.3,54.8 L175.5,54.4 L175.5,54.4 L169.8,54.2 L169.8,54.2 L164.0,54.1 L164.0,54.1 L158.3,54.1 L158.3,54.1 L152.5,54.2 L152.5,54.2 L146.7,54.4 L146.7,54.4 L141.0,54.7 L141.0,54.7 L135.2,55.1 L135.2,55.1 L129.5,55.7 L129.5,55.7 L123.8,56.6 L123.6,56.6Z" fill="#fce8d8" stroke="#eca08a" stroke-width="1.15"/>
<path d="M126.8,58.7 L126.6,58.8 L126.6,58.8 L126.5,58.9 L126.6,58.9 L126.7,59.0 L126.8,59.0 L130.6,59.7 L130.7,59.7 L135.2,59.9 L135.2,59.9 L139.8,60.1 L139.8,60.1 L144.4,60.2 L144.4,60.2 L149.0,60.2 L149.1,60.2 L153.7,60.3 L153.7,60.3 L158.3,60.3 L158.3,60.3 L162.9,60.3 L162.9,60.3 L167.5,60.2 L167.5,60.2 L172.1,60.1 L172.1,60.1 L176.7,60.0 L176.7,60.0 L181.3,59.8 L181.3,59.8 L185.8,59.5 L186.0,59.5 L189.8,58.8 L189.9,58.8 L190.0,58.8 L190.0,58.7 L190.0,58.6 L189.9,58.6 L189.7,58.6 L186.0,57.9 L185.8,57.9 L181.3,57.6 L181.3,57.6 L176.7,57.5 L176.7,57.5 L172.1,57.4 L172.1,57.4 L167.5,57.3 L167.5,57.3 L162.9,57.3 L162.9,57.3 L158.3,57.3 L158.3,57.3 L153.7,57.3 L153.7,57.3 L149.1,57.4 L149.0,57.4 L144.4,57.5 L144.4,57.5 L139.8,57.6 L139.8,57.6 L135.2,57.8 L135.2,57.8 L130.7,58.0 L130.6,58.0Z" fill="#fef5ec" opacity="1"/>
<path d="M199.3,58.4 L199.2,58.5 L199.1,58.7 L199.1,58.9 L199.2,59.1 L199.3,59.2 L203.1,61.4 L203.3,61.5 L207.8,62.3 L207.9,62.3 L212.5,62.9 L212.5,62.9 L217.1,63.3 L217.2,63.3 L221.8,63.5 L221.8,63.5 L226.4,63.7 L226.5,63.7 L231.1,63.8 L231.1,63.8 L235.7,63.8 L235.7,63.8 L240.4,63.7 L240.4,63.7 L245.0,63.5 L245.0,63.5 L249.7,63.1 L249.7,63.1 L254.3,62.6 L254.3,62.6 L258.9,61.9 L259.0,61.8 L262.8,59.7 L263.0,59.6 L263.1,59.4 L263.1,59.2 L263.0,59.0 L262.8,58.8 L259.0,56.7 L258.9,56.6 L254.3,55.8 L254.3,55.8 L249.7,55.2 L249.7,55.2 L245.0,54.8 L245.0,54.8 L240.4,54.5 L240.4,54.5 L235.7,54.3 L235.7,54.3 L231.1,54.3 L231.1,54.3 L226.5,54.3 L226.4,54.3 L221.8,54.4 L221.8,54.4 L217.2,54.6 L217.1,54.6 L212.5,54.9 L212.5,54.9 L207.9,55.4 L207.8,55.5 L203.3,56.2 L203.1,56.3Z" fill="#fce8d8" stroke="#eca08a" stroke-width="1.15"/>
<path d="M205.7,58.5 L205.6,58.6 L205.5,58.6 L205.5,58.7 L205.6,58.8 L205.7,58.8 L208.7,59.4 L208.9,59.5 L212.5,59.7 L212.5,59.7 L216.2,59.9 L216.2,59.9 L219.9,60.0 L219.9,60.0 L223.7,60.1 L223.7,60.1 L227.4,60.1 L227.4,60.1 L231.1,60.2 L231.1,60.2 L234.8,60.2 L234.8,60.2 L238.5,60.1 L238.5,60.1 L242.2,60.1 L242.2,60.1 L246.0,60.0 L246.0,60.0 L249.7,59.8 L249.7,59.8 L253.3,59.6 L253.5,59.6 L256.5,58.9 L256.6,58.9 L256.7,58.8 L256.7,58.8 L256.6,58.7 L256.5,58.7 L253.5,58.0 L253.3,58.0 L249.7,57.8 L249.7,57.8 L246.0,57.6 L246.0,57.6 L242.2,57.5 L242.2,57.5 L238.5,57.4 L238.5,57.4 L234.8,57.3 L234.8,57.3 L231.1,57.3 L231.1,57.3 L227.4,57.3 L227.4,57.3 L223.7,57.3 L223.7,57.3 L219.9,57.4 L219.9,57.4 L216.2,57.5 L216.2,57.5 L212.5,57.7 L212.5,57.7 L208.9,57.9 L208.7,57.9Z" fill="#fef5ec" opacity="1"/>
<path d="M264.7,58.8 L264.6,58.9 L264.5,59.1 L264.4,59.3 L264.5,59.5 L264.6,59.6 L264.7,59.7 L270.0,61.9 L270.1,61.9 L276.5,62.8 L276.5,62.8 L282.9,63.4 L282.9,63.4 L289.3,63.8 L289.3,63.8 L295.7,64.1 L295.7,64.1 L302.2,64.3 L302.2,64.3 L308.6,64.4 L308.6,64.4 L315.0,64.4 L315.0,64.4 L321.4,64.3 L321.4,64.3 L327.9,64.1 L327.9,64.1 L334.3,63.7 L334.3,63.7 L340.7,63.2 L340.7,63.2 L347.1,62.5 L347.2,62.5 L352.4,60.3 L352.6,60.2 L352.7,60.1 L352.7,59.9 L352.7,59.7 L352.6,59.5 L352.4,59.4 L347.2,57.2 L347.1,57.2 L340.7,56.4 L340.7,56.4 L334.3,55.8 L334.3,55.8 L327.9,55.3 L327.9,55.3 L321.4,55.0 L321.4,55.0 L315.0,54.9 L315.0,54.9 L308.6,54.8 L308.6,54.8 L302.2,54.8 L302.2,54.8 L295.7,54.9 L295.7,54.9 L289.3,55.1 L289.3,55.1 L282.9,55.4 L282.9,55.4 L276.5,55.9 L276.5,55.9 L270.1,56.7 L270.0,56.7Z" fill="#fce8d8" stroke="#eca08a" stroke-width="1.15"/>
<path d="M273.5,59.0 L273.4,59.1 L273.3,59.1 L273.3,59.2 L273.3,59.2 L273.4,59.3 L273.5,59.3 L277.7,60.0 L277.8,60.0 L282.9,60.2 L282.9,60.2 L288.0,60.4 L288.0,60.4 L293.2,60.5 L293.2,60.5 L298.3,60.6 L298.3,60.6 L303.4,60.7 L303.5,60.7 L308.6,60.7 L308.6,60.7 L313.7,60.7 L313.7,60.7 L318.9,60.7 L318.9,60.7 L324.0,60.6 L324.0,60.6 L329.1,60.5 L329.2,60.5 L334.3,60.4 L334.3,60.4 L339.4,60.1 L339.5,60.1 L343.7,59.5 L343.8,59.5 L343.9,59.4 L343.9,59.4 L343.9,59.3 L343.8,59.3 L343.7,59.2 L339.5,58.6 L339.4,58.6 L334.3,58.3 L334.3,58.3 L329.2,58.1 L329.1,58.1 L324.0,58.0 L324.0,58.0 L318.9,57.9 L318.9,57.9 L313.7,57.9 L313.7,57.9 L308.6,57.8 L308.6,57.8 L303.5,57.8 L303.4,57.8 L298.3,57.9 L298.3,57.9 L293.2,57.9 L293.2,57.9 L288.0,58.0 L288.0,58.0 L282.9,58.2 L282.9,58.2 L277.8,58.4 L277.7,58.4Z" fill="#fef5ec" opacity="1"/>
<path d="M354.6,59.4 L354.4,59.5 L354.3,59.7 L354.3,59.9 L354.3,60.1 L354.4,60.2 L354.6,60.3 L359.5,62.5 L359.6,62.6 L365.5,63.4 L365.5,63.4 L371.5,63.9 L371.5,63.9 L377.4,64.3 L377.5,64.3 L383.4,64.6 L383.4,64.6 L389.4,64.8 L389.4,64.8 L395.4,64.8 L395.4,64.8 L401.3,64.8 L401.3,64.8 L407.3,64.6 L407.3,64.6 L413.3,64.4 L413.3,64.4 L419.2,64.0 L419.3,64.0 L425.2,63.5 L425.2,63.5 L431.1,62.7 L431.3,62.7 L436.1,60.5 L436.3,60.4 L436.4,60.2 L436.4,60.0 L436.4,59.9 L436.3,59.7 L436.1,59.6 L431.3,57.4 L431.1,57.4 L425.2,56.5 L425.2,56.5 L419.3,56.0 L419.2,56.0 L413.3,55.6 L413.3,55.6 L407.3,55.3 L407.3,55.3 L401.3,55.2 L401.3,55.2 L395.4,55.1 L395.4,55.1 L389.4,55.1 L389.4,55.1 L383.4,55.3 L383.4,55.3 L377.5,55.5 L377.4,55.5 L371.5,55.9 L371.5,55.9 L365.5,56.4 L365.5,56.4 L359.6,57.2 L359.5,57.3Z" fill="#fce8d8" stroke="#eca08a" stroke-width="1.15"/>
<path d="M362.7,59.5 L362.6,59.5 L362.5,59.6 L362.5,59.6 L362.5,59.7 L362.6,59.7 L362.7,59.8 L366.7,60.4 L366.8,60.4 L371.5,60.7 L371.5,60.7 L376.3,60.9 L376.3,60.9 L381.0,61.0 L381.0,61.0 L385.8,61.1 L385.8,61.1 L390.6,61.1 L390.6,61.1 L395.4,61.1 L395.4,61.1 L400.1,61.1 L400.1,61.1 L404.9,61.1 L404.9,61.1 L409.7,61.0 L409.7,61.0 L414.5,60.9 L414.5,60.9 L419.2,60.7 L419.3,60.7 L424.0,60.5 L424.1,60.5 L428.0,59.8 L428.1,59.8 L428.2,59.7 L428.2,59.7 L428.2,59.6 L428.1,59.6 L428.0,59.5 L424.1,58.9 L424.0,58.9 L419.3,58.6 L419.2,58.6 L414.5,58.5 L414.5,58.5 L409.7,58.4 L409.7,58.4 L404.9,58.3 L404.9,58.3 L400.1,58.2 L400.1,58.2 L395.4,58.2 L395.4,58.2 L390.6,58.2 L390.6,58.2 L385.8,58.3 L385.8,58.3 L381.0,58.3 L381.0,58.3 L376.3,58.4 L376.3,58.4 L371.5,58.6 L371.5,58.6 L366.8,58.8 L366.7,58.9Z" fill="#fef5ec" opacity="1"/>
<path d="M438.2,59.6 L438.1,59.7 L438.0,59.8 L437.9,60.0 L438.0,60.2 L438.1,60.4 L438.2,60.5 L443.1,62.6 L443.2,62.6 L449.1,63.3 L449.1,63.3 L455.1,63.8 L455.1,63.8 L461.1,64.1 L461.1,64.1 L467.1,64.3 L467.1,64.3 L473.0,64.4 L473.1,64.4 L479.0,64.4 L479.0,64.4 L485.0,64.3 L485.0,64.3 L491.0,64.1 L491.0,64.1 L497.0,63.8 L497.0,63.8 L502.9,63.4 L503.0,63.4 L508.9,62.8 L508.9,62.8 L514.8,62.0 L515.0,62.0 L519.8,59.8 L520.0,59.7 L520.1,59.5 L520.1,59.3 L520.1,59.2 L520.0,59.0 L519.8,58.9 L515.0,56.8 L514.8,56.8 L508.9,56.0 L508.9,56.0 L503.0,55.6 L502.9,55.6 L497.0,55.2 L497.0,55.2 L491.0,55.0 L491.0,55.0 L485.0,54.9 L485.0,54.9 L479.0,54.9 L479.0,54.9 L473.1,55.0 L473.0,55.0 L467.1,55.2 L467.1,55.2 L461.1,55.5 L461.1,55.5 L455.1,56.0 L455.1,56.0 L449.1,56.5 L449.1,56.5 L443.2,57.4 L443.1,57.4Z" fill="#fce8d8" stroke="#eca08a" stroke-width="1.15"/>
<path d="M446.4,59.4 L446.3,59.4 L446.2,59.4 L446.1,59.5 L446.2,59.6 L446.3,59.6 L446.4,59.6 L450.3,60.3 L450.4,60.3 L455.1,60.5 L455.1,60.5 L459.9,60.6 L459.9,60.6 L464.7,60.7 L464.7,60.7 L469.5,60.8 L469.5,60.8 L474.2,60.8 L474.2,60.8 L479.0,60.8 L479.0,60.8 L483.8,60.8 L483.8,60.8 L488.6,60.7 L488.6,60.7 L493.4,60.6 L493.4,60.6 L498.2,60.5 L498.2,60.5 L502.9,60.3 L503.0,60.3 L507.7,60.1 L507.8,60.1 L511.7,59.4 L511.8,59.4 L511.9,59.3 L511.9,59.3 L511.9,59.2 L511.8,59.2 L511.7,59.2 L507.8,58.5 L507.7,58.5 L503.0,58.3 L502.9,58.3 L498.2,58.2 L498.2,58.2 L493.4,58.1 L493.4,58.1 L488.6,58.0 L488.6,58.0 L483.8,58.0 L483.8,58.0 L479.0,58.0 L479.0,58.0 L474.2,58.0 L474.2,58.0 L469.5,58.1 L469.5,58.1 L464.7,58.1 L464.7,58.1 L459.9,58.3 L459.9,58.3 L455.1,58.4 L455.1,58.4 L450.4,58.7 L450.3,58.7Z" fill="#fef5ec" opacity="1"/>
<path d="M522.5,58.9 L522.3,59.0 L522.1,59.1 L522.1,59.3 L522.1,59.5 L522.3,59.7 L522.5,59.8 L529.3,61.9 L529.4,61.9 L537.8,62.6 L537.8,62.6 L546.2,63.1 L546.2,63.1 L554.7,63.4 L554.7,63.4 L563.1,63.6 L563.1,63.6 L571.6,63.7 L571.6,63.7 L580.0,63.7 L580.0,63.7 L588.5,63.6 L588.5,63.6 L596.9,63.4 L596.9,63.4 L605.4,63.0 L605.4,63.0 L613.8,62.6 L613.8,62.6 L622.3,62.0 L622.3,62.0 L630.7,61.2 L630.8,61.2 L637.6,59.0 L637.8,58.9 L637.9,58.8 L638.0,58.6 L637.9,58.3 L637.8,58.2 L637.6,58.1 L630.8,56.0 L630.7,56.0 L622.3,55.3 L622.3,55.3 L613.8,54.8 L613.8,54.8 L605.4,54.5 L605.4,54.5 L596.9,54.3 L596.9,54.3 L588.5,54.2 L588.5,54.2 L580.0,54.2 L580.0,54.2 L571.6,54.3 L571.6,54.3 L563.1,54.5 L563.1,54.5 L554.7,54.8 L554.7,54.8 L546.2,55.3 L546.2,55.3 L537.8,55.9 L537.8,55.9 L529.4,56.7 L529.3,56.7Z" fill="#fce8d8" stroke="#eca08a" stroke-width="1.15"/>
<path d="M534.0,58.6 L533.8,58.6 L533.7,58.7 L533.7,58.8 L533.7,58.8 L533.8,58.9 L534.0,58.9 L539.4,59.5 L539.5,59.5 L546.2,59.7 L546.2,59.7 L553.0,59.9 L553.0,59.9 L559.8,60.0 L559.8,60.0 L566.5,60.0 L566.5,60.0 L573.3,60.1 L573.3,60.1 L580.0,60.1 L580.0,60.1 L586.8,60.0 L586.8,60.0 L593.5,60.0 L593.6,60.0 L600.3,59.9 L600.3,59.9 L607.1,59.7 L607.1,59.7 L613.8,59.6 L613.8,59.6 L620.5,59.3 L620.6,59.3 L626.1,58.7 L626.2,58.6 L626.3,58.6 L626.4,58.5 L626.3,58.5 L626.2,58.4 L626.1,58.4 L620.6,57.8 L620.5,57.8 L613.8,57.5 L613.8,57.5 L607.1,57.4 L607.1,57.4 L600.3,57.3 L600.3,57.3 L593.6,57.3 L593.5,57.3 L586.8,57.2 L586.8,57.2 L580.0,57.2 L580.0,57.2 L573.3,57.3 L573.3,57.3 L566.5,57.3 L566.5,57.3 L559.8,57.4 L559.8,57.4 L553.0,57.5 L553.0,57.5 L546.2,57.7 L546.2,57.7 L539.5,58.0 L539.4,58.0Z" fill="#fef5ec" opacity="1"/>
<path d="M178.5,64.8 L178.4,64.9 L178.3,65.1 L178.3,65.2 L178.3,65.4 L178.4,65.6 L178.5,65.7 L182.7,67.7 L182.9,67.8 L188.0,68.6 L188.1,68.6 L193.3,69.2 L193.3,69.2 L198.5,69.6 L198.5,69.6 L203.7,69.9 L203.7,69.9 L209.0,70.1 L209.0,70.1 L214.2,70.2 L214.2,70.2 L219.4,70.3 L219.4,70.3 L224.7,70.2 L224.7,70.2 L229.9,70.0 L229.9,70.0 L235.1,69.7 L235.1,69.7 L240.3,69.3 L240.4,69.3 L245.5,68.6 L245.7,68.6 L249.9,66.6 L250.0,66.5 L250.1,66.4 L250.1,66.2 L250.1,66.0 L250.0,65.8 L249.9,65.7 L245.7,63.7 L245.5,63.6 L240.4,62.8 L240.3,62.8 L235.1,62.3 L235.1,62.3 L229.9,61.8 L229.9,61.8 L224.7,61.5 L224.7,61.5 L219.4,61.3 L219.4,61.3 L214.2,61.2 L214.2,61.2 L209.0,61.2 L209.0,61.2 L203.7,61.3 L203.7,61.3 L198.5,61.4 L198.5,61.4 L193.3,61.7 L193.3,61.7 L188.1,62.1 L188.0,62.1 L182.9,62.8 L182.7,62.9Z" fill="#fce8d8" stroke="#eca08a" stroke-width="1.15"/>
<path d="M185.7,65.1 L185.6,65.2 L185.5,65.2 L185.4,65.3 L185.5,65.3 L185.5,65.4 L185.7,65.4 L189.0,66.0 L189.1,66.0 L193.3,66.3 L193.3,66.3 L197.5,66.5 L197.5,66.5 L201.6,66.6 L201.6,66.6 L205.8,66.7 L205.8,66.7 L210.0,66.7 L210.0,66.7 L214.2,66.8 L214.2,66.8 L218.4,66.8 L218.4,66.8 L222.6,66.8 L222.6,66.8 L226.7,66.7 L226.8,66.7 L230.9,66.6 L230.9,66.6 L235.1,66.5 L235.1,66.5 L239.2,66.3 L239.4,66.3 L242.7,65.7 L242.8,65.7 L242.9,65.6 L243.0,65.6 L242.9,65.5 L242.9,65.5 L242.7,65.4 L239.4,64.8 L239.2,64.8 L235.1,64.6 L235.1,64.5 L230.9,64.4 L230.9,64.4 L226.8,64.3 L226.7,64.3 L222.6,64.2 L222.6,64.2 L218.4,64.1 L218.4,64.1 L214.2,64.1 L214.2,64.1 L210.0,64.1 L210.0,64.1 L205.8,64.1 L205.8,64.1 L201.6,64.1 L201.6,64.1 L197.5,64.2 L197.5,64.2 L193.3,64.3 L193.3,64.3 L189.1,64.5 L189.0,64.6Z" fill="#fef5ec" opacity="1"/>
<path d="M252.2,65.7 L252.0,65.8 L251.9,66.0 L251.9,66.2 L251.9,66.4 L252.0,66.6 L252.2,66.7 L258.1,68.7 L258.2,68.8 L265.4,69.6 L265.4,69.6 L272.7,70.2 L272.7,70.2 L280.0,70.6 L280.0,70.6 L287.3,71.0 L287.3,71.0 L294.6,71.2 L294.6,71.2 L301.9,71.3 L302.0,71.3 L309.2,71.4 L309.3,71.4 L316.6,71.3 L316.6,71.3 L323.9,71.2 L323.9,71.2 L331.2,70.9 L331.2,70.9 L338.5,70.5 L338.5,70.5 L345.7,69.8 L345.8,69.8 L351.7,67.9 L351.9,67.8 L352.0,67.6 L352.0,67.4 L352.0,67.2 L351.9,67.1 L351.7,67.0 L345.8,64.9 L345.7,64.9 L338.5,64.0 L338.5,64.0 L331.2,63.4 L331.2,63.4 L323.9,63.0 L323.9,63.0 L316.6,62.7 L316.6,62.7 L309.3,62.4 L309.2,62.4 L302.0,62.3 L301.9,62.3 L294.6,62.3 L294.6,62.3 L287.3,62.3 L287.3,62.3 L280.0,62.5 L280.0,62.5 L272.7,62.7 L272.7,62.7 L265.4,63.1 L265.4,63.1 L258.2,63.8 L258.1,63.8Z" fill="#fce8d8" stroke="#eca08a" stroke-width="1.15"/>
<path d="M262.2,66.2 L262.0,66.2 L261.9,66.3 L261.9,66.3 L261.9,66.4 L262.0,66.5 L262.2,66.5 L266.8,67.1 L266.9,67.1 L272.7,67.4 L272.7,67.4 L278.6,67.5 L278.6,67.5 L284.4,67.7 L284.4,67.7 L290.3,67.8 L290.3,67.8 L296.1,67.8 L296.1,67.8 L301.9,67.9 L302.0,67.9 L307.8,67.9 L307.8,67.9 L313.6,67.9 L313.6,67.9 L319.5,67.8 L319.5,67.8 L325.3,67.8 L325.3,67.8 L331.2,67.6 L331.2,67.6 L337.0,67.4 L337.1,67.4 L341.7,66.9 L341.9,66.8 L342.0,66.8 L342.0,66.7 L342.0,66.7 L341.9,66.6 L341.7,66.6 L337.1,66.0 L337.0,65.9 L331.2,65.7 L331.2,65.7 L325.3,65.5 L325.3,65.5 L319.5,65.4 L319.5,65.4 L313.6,65.3 L313.6,65.3 L307.8,65.2 L307.8,65.2 L302.0,65.2 L301.9,65.2 L296.1,65.2 L296.1,65.2 L290.3,65.2 L290.3,65.2 L284.4,65.2 L284.4,65.2 L278.6,65.3 L278.6,65.3 L272.7,65.4 L272.7,65.4 L266.9,65.6 L266.8,65.6Z" fill="#fef5ec" opacity="1"/>
<path d="M354.0,67.0 L353.8,67.1 L353.7,67.3 L353.7,67.5 L353.8,67.6 L353.9,67.8 L354.0,67.9 L358.5,70.1 L358.6,70.1 L364.1,70.9 L364.1,70.9 L369.5,71.4 L369.6,71.4 L375.0,71.7 L375.1,71.7 L380.5,71.9 L380.5,71.9 L386.0,72.0 L386.0,72.0 L391.5,72.0 L391.5,72.0 L397.0,71.9 L397.0,71.9 L402.5,71.7 L402.5,71.7 L408.0,71.4 L408.0,71.4 L413.5,70.9 L413.5,70.9 L419.0,70.3 L419.0,70.3 L424.4,69.4 L424.5,69.4 L429.1,67.1 L429.2,67.0 L429.3,66.9 L429.3,66.7 L429.3,66.5 L429.2,66.4 L429.0,66.2 L424.5,64.1 L424.4,64.0 L419.0,63.3 L419.0,63.3 L413.5,62.8 L413.5,62.8 L408.0,62.5 L408.0,62.5 L402.5,62.3 L402.5,62.3 L397.0,62.2 L397.0,62.2 L391.5,62.2 L391.5,62.2 L386.0,62.3 L386.0,62.3 L380.5,62.5 L380.5,62.5 L375.1,62.8 L375.0,62.8 L369.6,63.2 L369.5,63.2 L364.1,63.8 L364.1,63.8 L358.6,64.7 L358.5,64.7Z" fill="#fce8d8" stroke="#eca08a" stroke-width="1.15"/>
<path d="M361.5,66.8 L361.4,66.8 L361.3,66.8 L361.3,66.9 L361.3,66.9 L361.4,67.0 L361.5,67.0 L365.1,67.7 L365.2,67.7 L369.5,67.9 L369.6,67.9 L373.9,68.1 L374.0,68.1 L378.3,68.2 L378.3,68.2 L382.7,68.2 L382.7,68.2 L387.1,68.2 L387.1,68.2 L391.5,68.2 L391.5,68.2 L395.9,68.2 L395.9,68.2 L400.3,68.2 L400.3,68.2 L404.7,68.1 L404.7,68.1 L409.1,67.9 L409.1,67.9 L413.5,67.7 L413.5,67.7 L417.8,67.5 L417.9,67.5 L421.5,66.8 L421.7,66.8 L421.7,66.7 L421.8,66.7 L421.7,66.6 L421.7,66.6 L421.5,66.5 L417.9,65.9 L417.8,65.9 L413.5,65.6 L413.5,65.6 L409.1,65.5 L409.1,65.5 L404.7,65.4 L404.7,65.4 L400.3,65.3 L400.3,65.3 L395.9,65.3 L395.9,65.3 L391.5,65.3 L391.5,65.3 L387.1,65.3 L387.1,65.3 L382.7,65.4 L382.7,65.4 L378.3,65.5 L378.3,65.5 L374.0,65.6 L373.9,65.6 L369.6,65.8 L369.5,65.8 L365.2,66.1 L365.1,66.1Z" fill="#fef5ec" opacity="1"/>
<path d="M431.0,66.2 L430.9,66.3 L430.8,66.5 L430.7,66.7 L430.8,66.9 L430.9,67.0 L431.0,67.2 L435.2,69.0 L435.4,69.0 L440.6,69.8 L440.6,69.8 L445.9,70.3 L445.9,70.3 L451.2,70.7 L451.2,70.7 L456.5,71.0 L456.6,71.0 L461.9,71.1 L461.9,71.1 L467.2,71.2 L467.2,71.2 L472.5,71.2 L472.5,71.2 L477.8,71.2 L477.8,71.2 L483.1,71.0 L483.1,71.0 L488.4,70.7 L488.4,70.7 L493.7,70.3 L493.8,70.3 L499.0,69.7 L499.1,69.6 L503.3,67.9 L503.5,67.8 L503.6,67.6 L503.6,67.4 L503.6,67.2 L503.5,67.1 L503.3,67.0 L499.1,65.1 L499.0,65.1 L493.8,64.3 L493.7,64.3 L488.4,63.8 L488.4,63.8 L483.1,63.4 L483.1,63.4 L477.8,63.2 L477.8,63.2 L472.5,63.0 L472.5,63.0 L467.2,62.9 L467.2,62.9 L461.9,62.9 L461.9,62.9 L456.6,62.9 L456.5,62.9 L451.2,63.1 L451.2,63.1 L445.9,63.4 L445.9,63.4 L440.6,63.8 L440.6,63.8 L435.4,64.4 L435.2,64.5Z" fill="#fce8d8" stroke="#eca08a" stroke-width="1.15"/>
<path d="M438.3,66.5 L438.1,66.5 L438.1,66.6 L438.0,66.6 L438.1,66.7 L438.1,66.8 L438.3,66.8 L441.6,67.3 L441.7,67.4 L445.9,67.6 L445.9,67.6 L450.2,67.7 L450.2,67.7 L454.4,67.8 L454.4,67.8 L458.7,67.9 L458.7,67.9 L462.9,68.0 L462.9,68.0 L467.2,68.0 L467.2,68.0 L471.4,68.0 L471.4,68.0 L475.7,68.0 L475.7,68.0 L479.9,67.9 L479.9,67.9 L484.2,67.9 L484.2,67.9 L488.4,67.7 L488.5,67.7 L492.6,67.5 L492.7,67.5 L496.1,67.0 L496.2,67.0 L496.3,66.9 L496.3,66.9 L496.3,66.8 L496.2,66.8 L496.1,66.7 L492.7,66.2 L492.6,66.2 L488.5,65.9 L488.4,65.9 L484.2,65.8 L484.2,65.8 L479.9,65.7 L479.9,65.7 L475.7,65.6 L475.7,65.6 L471.4,65.5 L471.4,65.5 L467.2,65.5 L467.2,65.5 L462.9,65.5 L462.9,65.5 L458.7,65.5 L458.7,65.5 L454.4,65.6 L454.4,65.6 L450.2,65.7 L450.2,65.7 L445.9,65.8 L445.9,65.8 L441.7,66.0 L441.6,66.0Z" fill="#fef5ec" opacity="1"/>
<path d="M505.6,66.9 L505.4,67.1 L505.3,67.2 L505.3,67.4 L505.3,67.6 L505.5,67.8 L505.6,67.9 L510.4,69.6 L510.6,69.7 L516.6,70.3 L516.6,70.3 L522.7,70.7 L522.7,70.7 L528.8,70.9 L528.8,70.9 L534.9,71.1 L534.9,71.1 L541.0,71.1 L541.0,71.1 L547.1,71.1 L547.1,71.1 L553.2,71.0 L553.2,71.0 L559.3,70.8 L559.3,70.7 L565.4,70.4 L565.4,70.4 L571.5,70.0 L571.5,70.0 L577.6,69.5 L577.6,69.5 L583.6,68.7 L583.7,68.7 L588.6,66.8 L588.7,66.7 L588.8,66.5 L588.9,66.3 L588.8,66.1 L588.7,65.9 L588.5,65.8 L583.7,64.1 L583.6,64.0 L577.6,63.4 L577.6,63.4 L571.5,63.0 L571.5,63.0 L565.4,62.8 L565.4,62.8 L559.3,62.6 L559.3,62.6 L553.2,62.6 L553.2,62.6 L547.1,62.6 L547.1,62.6 L541.0,62.8 L541.0,62.8 L534.9,63.0 L534.9,63.0 L528.8,63.3 L528.8,63.3 L522.7,63.7 L522.7,63.7 L516.6,64.2 L516.6,64.2 L510.6,65.0 L510.4,65.1Z" fill="#fce8d8" stroke="#eca08a" stroke-width="1.15"/>
<path d="M513.9,66.6 L513.8,66.6 L513.7,66.7 L513.7,66.7 L513.7,66.8 L513.8,66.8 L513.9,66.9 L517.8,67.4 L517.9,67.4 L522.7,67.6 L522.7,67.6 L527.6,67.7 L527.6,67.7 L532.4,67.8 L532.5,67.8 L537.3,67.8 L537.3,67.8 L542.2,67.8 L542.2,67.8 L547.1,67.8 L547.1,67.8 L552.0,67.8 L552.0,67.8 L556.8,67.7 L556.8,67.7 L561.7,67.6 L561.7,67.6 L566.6,67.5 L566.6,67.5 L571.5,67.3 L571.5,67.3 L576.3,67.1 L576.4,67.1 L580.3,66.5 L580.4,66.5 L580.5,66.4 L580.5,66.4 L580.5,66.3 L580.4,66.3 L580.3,66.3 L576.4,65.7 L576.3,65.7 L571.5,65.5 L571.5,65.5 L566.6,65.4 L566.6,65.4 L561.7,65.3 L561.7,65.3 L556.8,65.3 L556.8,65.3 L552.0,65.3 L552.0,65.3 L547.1,65.3 L547.1,65.3 L542.2,65.3 L542.2,65.3 L537.3,65.4 L537.3,65.4 L532.5,65.5 L532.4,65.5 L527.6,65.6 L527.6,65.6 L522.7,65.8 L522.7,65.8 L517.9,66.0 L517.8,66.0Z" fill="#fef5ec" opacity="1"/>
<path d="M126.8,78.6 L126.6,78.7 L126.5,78.9 L126.5,79.1 L126.5,79.3 L126.6,79.4 L126.8,79.5 L133.0,81.3 L133.1,81.4 L140.9,82.0 L140.9,82.0 L148.7,82.4 L148.7,82.4 L156.6,82.6 L156.6,82.6 L164.4,82.7 L164.4,82.7 L172.2,82.7 L172.2,82.7 L180.0,82.6 L180.0,82.6 L187.9,82.5 L187.9,82.5 L195.7,82.2 L195.7,82.2 L203.5,81.9 L203.5,81.9 L211.3,81.4 L211.4,81.4 L219.2,80.9 L219.2,80.8 L227.0,80.0 L227.1,80.0 L233.3,78.0 L233.4,77.9 L233.6,77.7 L233.6,77.5 L233.6,77.3 L233.4,77.2 L233.3,77.1 L227.1,75.3 L227.0,75.2 L219.2,74.6 L219.2,74.6 L211.4,74.3 L211.3,74.3 L203.5,74.0 L203.5,74.0 L195.7,73.9 L195.7,73.9 L187.9,73.9 L187.9,73.9 L180.0,74.0 L180.0,74.0 L172.2,74.1 L172.2,74.1 L164.4,74.4 L164.4,74.4 L156.6,74.7 L156.6,74.7 L148.7,75.2 L148.7,75.2 L140.9,75.8 L140.9,75.8 L133.1,76.6 L133.0,76.6Z" fill="#fadcc0" stroke="#eaa27e" stroke-width="1.15"/>
<path d="M137.5,78.1 L137.3,78.1 L137.2,78.2 L137.2,78.2 L137.2,78.3 L137.3,78.3 L137.5,78.4 L142.4,78.9 L142.5,78.9 L148.7,79.1 L148.7,79.1 L155.0,79.2 L155.0,79.2 L161.3,79.3 L161.3,79.3 L167.5,79.3 L167.5,79.3 L173.8,79.3 L173.8,79.3 L180.0,79.3 L180.0,79.3 L186.3,79.3 L186.3,79.3 L192.6,79.2 L192.6,79.2 L198.8,79.1 L198.8,79.1 L205.1,78.9 L205.1,78.9 L211.3,78.8 L211.4,78.8 L217.6,78.5 L217.6,78.5 L222.6,77.9 L222.8,77.9 L222.9,77.8 L222.9,77.8 L222.9,77.7 L222.8,77.7 L222.6,77.6 L217.6,77.1 L217.6,77.1 L211.4,76.9 L211.3,76.9 L205.1,76.8 L205.1,76.8 L198.8,76.7 L198.8,76.7 L192.6,76.7 L192.6,76.7 L186.3,76.7 L186.3,76.7 L180.0,76.7 L180.0,76.7 L173.8,76.7 L173.8,76.7 L167.5,76.8 L167.5,76.8 L161.3,76.9 L161.3,76.9 L155.0,77.1 L155.0,77.1 L148.7,77.2 L148.7,77.2 L142.5,77.5 L142.4,77.5Z" fill="#fce9d6" opacity="1"/>
<path d="M235.8,77.1 L235.7,77.2 L235.6,77.3 L235.5,77.5 L235.6,77.7 L235.7,77.9 L235.8,78.0 L240.8,80.2 L241.0,80.3 L246.9,81.1 L247.0,81.1 L253.0,81.6 L253.0,81.6 L259.1,82.0 L259.1,82.0 L265.1,82.2 L265.1,82.2 L271.2,82.3 L271.2,82.3 L277.2,82.4 L277.2,82.3 L283.3,82.3 L283.3,82.3 L289.3,82.1 L289.3,82.1 L295.4,81.8 L295.4,81.8 L301.4,81.4 L301.5,81.4 L307.5,80.8 L307.5,80.8 L313.5,79.9 L313.6,79.9 L318.6,77.6 L318.8,77.5 L318.9,77.3 L318.9,77.1 L318.9,76.9 L318.8,76.8 L318.6,76.7 L313.6,74.4 L313.5,74.4 L307.5,73.6 L307.5,73.6 L301.5,73.0 L301.4,73.0 L295.4,72.7 L295.4,72.7 L289.3,72.4 L289.3,72.4 L283.3,72.3 L283.3,72.3 L277.2,72.3 L277.2,72.3 L271.2,72.4 L271.2,72.4 L265.1,72.5 L265.1,72.5 L259.1,72.8 L259.1,72.8 L253.0,73.3 L253.0,73.3 L247.0,73.8 L246.9,73.9 L241.0,74.7 L240.8,74.8Z" fill="#fadcc0" stroke="#eaa27e" stroke-width="1.15"/>
<path d="M244.1,76.9 L244.0,77.0 L243.9,77.0 L243.9,77.1 L243.9,77.1 L244.0,77.2 L244.1,77.2 L248.1,77.9 L248.2,77.9 L253.0,78.1 L253.0,78.1 L257.8,78.3 L257.9,78.3 L262.7,78.4 L262.7,78.4 L267.5,78.5 L267.5,78.5 L272.4,78.5 L272.4,78.5 L277.2,78.5 L277.2,78.5 L282.1,78.5 L282.1,78.5 L286.9,78.4 L286.9,78.4 L291.8,78.4 L291.8,78.4 L296.6,78.2 L296.6,78.2 L301.4,78.1 L301.5,78.1 L306.2,77.8 L306.4,77.8 L310.3,77.1 L310.5,77.1 L310.6,77.0 L310.6,77.0 L310.6,76.9 L310.5,76.9 L310.3,76.8 L306.4,76.1 L306.2,76.1 L301.5,75.9 L301.4,75.9 L296.6,75.7 L296.6,75.7 L291.8,75.6 L291.8,75.6 L286.9,75.5 L286.9,75.5 L282.1,75.5 L282.1,75.5 L277.2,75.5 L277.2,75.5 L272.4,75.5 L272.4,75.5 L267.5,75.6 L267.5,75.6 L262.7,75.7 L262.7,75.7 L257.9,75.8 L257.8,75.8 L253.0,76.0 L253.0,76.0 L248.2,76.2 L248.1,76.2Z" fill="#fce9d6" opacity="1"/>
<path d="M321.1,76.6 L320.9,76.7 L320.8,76.9 L320.7,77.1 L320.8,77.3 L320.9,77.5 L321.1,77.6 L327.9,79.8 L328.1,79.8 L336.4,80.6 L336.4,80.6 L344.7,81.1 L344.8,81.1 L353.1,81.4 L353.1,81.4 L361.5,81.6 L361.5,81.6 L369.9,81.6 L369.9,81.6 L378.2,81.6 L378.2,81.6 L386.6,81.5 L386.6,81.5 L395.0,81.3 L395.0,81.3 L403.4,80.9 L403.4,80.9 L411.7,80.4 L411.7,80.4 L420.1,79.8 L420.1,79.8 L428.4,78.9 L428.5,78.9 L435.4,76.5 L435.6,76.4 L435.7,76.3 L435.8,76.1 L435.7,75.9 L435.6,75.7 L435.4,75.6 L428.5,73.4 L428.4,73.4 L420.1,72.6 L420.1,72.6 L411.7,72.1 L411.7,72.1 L403.4,71.8 L403.4,71.8 L395.0,71.6 L395.0,71.6 L386.6,71.5 L386.6,71.5 L378.2,71.6 L378.2,71.6 L369.9,71.7 L369.9,71.7 L361.5,71.9 L361.5,71.9 L353.1,72.3 L353.1,72.3 L344.8,72.7 L344.7,72.7 L336.4,73.4 L336.4,73.4 L328.1,74.3 L327.9,74.3Z" fill="#fadcc0" stroke="#eaa27e" stroke-width="1.15"/>
<path d="M332.5,76.3 L332.4,76.3 L332.3,76.4 L332.2,76.4 L332.3,76.5 L332.4,76.6 L332.5,76.6 L338.0,77.2 L338.1,77.3 L344.7,77.5 L344.8,77.5 L351.4,77.6 L351.4,77.6 L358.1,77.7 L358.1,77.7 L364.8,77.8 L364.8,77.8 L371.5,77.8 L371.5,77.8 L378.2,77.8 L378.2,77.8 L384.9,77.8 L384.9,77.8 L391.6,77.7 L391.6,77.7 L398.3,77.6 L398.3,77.6 L405.0,77.4 L405.0,77.4 L411.7,77.3 L411.7,77.3 L418.4,77.0 L418.5,77.0 L424.0,76.3 L424.1,76.2 L424.2,76.2 L424.3,76.1 L424.2,76.1 L424.1,76.0 L424.0,76.0 L418.5,75.3 L418.4,75.3 L411.7,75.1 L411.7,75.1 L405.0,74.9 L405.0,74.9 L398.3,74.9 L398.3,74.9 L391.6,74.8 L391.6,74.8 L384.9,74.8 L384.9,74.8 L378.2,74.8 L378.2,74.8 L371.5,74.8 L371.5,74.8 L364.8,74.9 L364.8,74.9 L358.1,75.0 L358.1,75.0 L351.4,75.1 L351.4,75.1 L344.8,75.3 L344.7,75.3 L338.1,75.6 L338.0,75.6Z" fill="#fce9d6" opacity="1"/>
<path d="M438.4,75.6 L438.2,75.7 L438.1,75.9 L438.0,76.1 L438.1,76.3 L438.2,76.4 L438.4,76.5 L444.9,78.7 L445.0,78.7 L453.1,79.6 L453.1,79.6 L461.2,80.2 L461.2,80.2 L469.3,80.6 L469.4,80.6 L477.5,80.9 L477.5,80.9 L485.6,81.2 L485.6,81.2 L493.7,81.3 L493.7,81.3 L501.8,81.3 L501.8,81.3 L510.0,81.2 L510.0,81.2 L518.1,81.1 L518.1,81.1 L526.2,80.8 L526.2,80.8 L534.3,80.3 L534.3,80.3 L542.4,79.6 L542.5,79.6 L549.1,77.6 L549.3,77.5 L549.4,77.3 L549.4,77.1 L549.4,76.9 L549.3,76.7 L549.1,76.6 L542.5,74.5 L542.4,74.5 L534.3,73.6 L534.3,73.6 L526.2,73.0 L526.2,73.0 L518.1,72.6 L518.1,72.6 L510.0,72.2 L510.0,72.2 L501.8,72.0 L501.8,72.0 L493.7,71.9 L493.7,71.9 L485.6,71.9 L485.6,71.9 L477.5,71.9 L477.5,71.9 L469.4,72.1 L469.3,72.1 L461.2,72.4 L461.2,72.4 L453.1,72.9 L453.1,72.9 L445.0,73.6 L444.9,73.6Z" fill="#fadcc0" stroke="#eaa27e" stroke-width="1.15"/>
<path d="M449.4,76.0 L449.3,76.0 L449.2,76.1 L449.2,76.1 L449.2,76.2 L449.3,76.2 L449.4,76.3 L454.7,76.9 L454.8,76.9 L461.2,77.2 L461.2,77.2 L467.7,77.4 L467.7,77.4 L474.2,77.5 L474.2,77.5 L480.7,77.6 L480.7,77.6 L487.2,77.7 L487.2,77.7 L493.7,77.7 L493.7,77.7 L500.2,77.7 L500.2,77.7 L506.7,77.7 L506.7,77.7 L513.2,77.6 L513.2,77.6 L519.7,77.5 L519.7,77.5 L526.2,77.4 L526.2,77.4 L532.7,77.2 L532.8,77.2 L538.0,76.6 L538.1,76.6 L538.2,76.5 L538.3,76.5 L538.2,76.4 L538.2,76.3 L538.0,76.3 L532.8,75.7 L532.7,75.7 L526.2,75.4 L526.2,75.4 L519.7,75.2 L519.7,75.2 L513.2,75.1 L513.2,75.1 L506.7,75.0 L506.7,75.0 L500.2,74.9 L500.2,74.9 L493.7,74.9 L493.7,74.9 L487.2,74.9 L487.2,74.9 L480.7,74.9 L480.7,74.9 L474.2,74.9 L474.2,74.9 L467.7,75.0 L467.7,75.0 L461.2,75.2 L461.2,75.2 L454.8,75.4 L454.7,75.4Z" fill="#fce9d6" opacity="1"/>
<path d="M551.8,76.7 L551.6,76.8 L551.5,76.9 L551.4,77.1 L551.5,77.3 L551.6,77.5 L551.8,77.6 L557.5,80.0 L557.7,80.0 L564.6,81.0 L564.6,81.0 L571.7,81.7 L571.7,81.7 L578.7,82.2 L578.7,82.2 L585.7,82.5 L585.7,82.5 L592.7,82.8 L592.7,82.8 L599.8,83.0 L599.8,83.0 L606.8,83.1 L606.8,83.1 L613.8,83.0 L613.8,83.0 L620.8,82.9 L620.8,82.9 L627.9,82.6 L627.9,82.6 L634.9,82.1 L634.9,82.1 L641.8,81.4 L642.0,81.4 L647.7,79.2 L647.9,79.1 L648.0,78.9 L648.1,78.7 L648.0,78.5 L647.9,78.4 L647.8,78.3 L642.0,75.9 L641.9,75.9 L634.9,74.9 L634.9,74.9 L627.9,74.2 L627.9,74.2 L620.8,73.7 L620.8,73.7 L613.8,73.3 L613.8,73.3 L606.8,73.1 L606.8,73.1 L599.8,72.9 L599.8,72.9 L592.7,72.8 L592.7,72.8 L585.7,72.9 L585.7,72.9 L578.7,73.0 L578.7,73.0 L571.7,73.3 L571.7,73.3 L564.6,73.8 L564.6,73.8 L557.7,74.5 L557.5,74.5Z" fill="#fadcc0" stroke="#eaa27e" stroke-width="1.15"/>
<path d="M561.4,77.3 L561.2,77.3 L561.1,77.3 L561.1,77.4 L561.1,77.5 L561.2,77.5 L561.4,77.5 L566.0,78.3 L566.1,78.3 L571.6,78.6 L571.7,78.6 L577.3,78.8 L577.3,78.8 L582.9,78.9 L582.9,78.9 L588.5,79.0 L588.5,79.0 L594.1,79.1 L594.1,79.1 L599.8,79.2 L599.8,79.2 L605.4,79.2 L605.4,79.2 L611.0,79.2 L611.0,79.2 L616.6,79.1 L616.6,79.1 L622.2,79.0 L622.2,79.0 L627.9,78.9 L627.9,78.9 L633.4,78.7 L633.5,78.7 L638.2,78.0 L638.3,78.0 L638.4,77.9 L638.4,77.9 L638.4,77.8 L638.3,77.8 L638.2,77.7 L633.5,77.0 L633.4,77.0 L627.9,76.7 L627.9,76.7 L622.2,76.5 L622.2,76.5 L616.6,76.4 L616.6,76.4 L611.0,76.3 L611.0,76.3 L605.4,76.2 L605.4,76.2 L599.8,76.1 L599.8,76.1 L594.1,76.1 L594.1,76.1 L588.5,76.1 L588.5,76.1 L582.9,76.2 L582.9,76.2 L577.3,76.3 L577.3,76.3 L571.7,76.4 L571.6,76.4 L566.1,76.6 L566.0,76.6Z" fill="#fce9d6" opacity="1"/>
<path d="M171.1,87.9 L170.9,88.0 L170.8,88.2 L170.8,88.4 L170.8,88.6 L170.9,88.7 L171.1,88.8 L176.4,90.7 L176.5,90.7 L183.0,91.2 L183.0,91.2 L189.5,91.4 L189.5,91.4 L196.0,91.4 L196.1,91.4 L202.6,91.4 L202.6,91.4 L209.1,91.2 L209.1,91.2 L215.7,91.0 L215.7,91.0 L222.2,90.6 L222.2,90.6 L228.7,90.2 L228.8,90.2 L235.3,89.6 L235.3,89.6 L241.8,88.9 L241.8,88.9 L248.4,88.1 L248.4,88.1 L254.8,87.0 L255.0,87.0 L260.3,84.6 L260.4,84.5 L260.5,84.3 L260.6,84.1 L260.5,84.0 L260.4,83.8 L260.2,83.7 L255.0,81.9 L254.8,81.8 L248.4,81.4 L248.4,81.4 L241.8,81.1 L241.8,81.1 L235.3,81.1 L235.3,81.1 L228.8,81.1 L228.7,81.1 L222.2,81.3 L222.2,81.3 L215.7,81.6 L215.7,81.6 L209.1,81.9 L209.1,81.9 L202.6,82.4 L202.6,82.4 L196.1,82.9 L196.0,82.9 L189.5,83.6 L189.5,83.6 L183.0,84.4 L183.0,84.4 L176.5,85.5 L176.4,85.6Z" fill="#fadcc0" stroke="#eaa27e" stroke-width="1.15"/>
<path d="M180.0,86.5 L179.9,86.5 L179.8,86.5 L179.7,86.6 L179.8,86.7 L179.9,86.7 L180.0,86.7 L184.2,87.3 L184.3,87.3 L189.5,87.4 L189.5,87.4 L194.7,87.5 L194.8,87.5 L200.0,87.5 L200.0,87.5 L205.2,87.5 L205.2,87.5 L210.4,87.5 L210.4,87.5 L215.7,87.4 L215.7,87.4 L220.9,87.3 L220.9,87.3 L226.1,87.1 L226.1,87.1 L231.4,87.0 L231.4,87.0 L236.6,86.8 L236.6,86.8 L241.8,86.5 L241.8,86.5 L247.0,86.2 L247.1,86.2 L251.4,85.5 L251.5,85.4 L251.6,85.4 L251.6,85.3 L251.6,85.3 L251.5,85.2 L251.3,85.2 L247.1,84.6 L247.0,84.6 L241.8,84.5 L241.8,84.5 L236.6,84.4 L236.6,84.4 L231.4,84.4 L231.4,84.4 L226.1,84.4 L226.1,84.4 L220.9,84.5 L220.9,84.5 L215.7,84.6 L215.7,84.6 L210.4,84.7 L210.4,84.7 L205.2,84.8 L205.2,84.8 L200.0,85.0 L200.0,85.0 L194.8,85.2 L194.7,85.2 L189.5,85.4 L189.5,85.4 L184.3,85.7 L184.2,85.8Z" fill="#fce9d6" opacity="1"/>
<path d="M262.9,83.7 L262.7,83.8 L262.6,83.9 L262.5,84.1 L262.6,84.3 L262.7,84.5 L262.9,84.6 L268.4,86.7 L268.5,86.7 L275.5,87.6 L275.6,87.6 L282.6,88.3 L282.6,88.3 L289.6,88.9 L289.7,88.9 L296.7,89.4 L296.7,89.4 L303.7,89.7 L303.8,89.7 L310.8,90.0 L310.8,90.0 L317.8,90.2 L317.9,90.2 L324.9,90.3 L324.9,90.3 L332.0,90.3 L332.0,90.3 L339.0,90.2 L339.0,90.2 L346.0,90.0 L346.1,90.0 L353.1,89.5 L353.2,89.5 L358.7,87.8 L358.9,87.7 L359.0,87.6 L359.1,87.4 L359.0,87.2 L358.9,87.0 L358.7,86.9 L353.2,84.9 L353.1,84.8 L346.1,83.9 L346.0,83.9 L339.0,83.2 L339.0,83.2 L332.0,82.6 L332.0,82.6 L324.9,82.2 L324.9,82.2 L317.9,81.8 L317.8,81.8 L310.8,81.5 L310.8,81.5 L303.8,81.3 L303.7,81.3 L296.7,81.2 L296.7,81.2 L289.7,81.2 L289.6,81.2 L282.6,81.3 L282.6,81.3 L275.6,81.5 L275.5,81.5 L268.5,82.0 L268.4,82.0Z" fill="#fadcc0" stroke="#eaa27e" stroke-width="1.15"/>
<path d="M272.5,84.8 L272.3,84.9 L272.2,84.9 L272.2,85.0 L272.2,85.0 L272.3,85.1 L272.5,85.1 L276.9,85.7 L277.0,85.7 L282.6,86.0 L282.6,86.0 L288.2,86.2 L288.2,86.2 L293.9,86.4 L293.9,86.4 L299.5,86.5 L299.5,86.5 L305.2,86.6 L305.2,86.7 L310.8,86.7 L310.8,86.7 L316.4,86.8 L316.4,86.8 L322.1,86.8 L322.1,86.8 L327.7,86.8 L327.7,86.8 L333.4,86.8 L333.4,86.8 L339.0,86.7 L339.0,86.7 L344.6,86.6 L344.7,86.6 L349.1,86.1 L349.3,86.1 L349.4,86.0 L349.4,85.9 L349.4,85.9 L349.3,85.8 L349.1,85.8 L344.7,85.2 L344.6,85.2 L339.0,84.9 L339.0,84.9 L333.4,84.7 L333.4,84.7 L327.7,84.5 L327.7,84.5 L322.1,84.4 L322.1,84.4 L316.4,84.3 L316.4,84.3 L310.8,84.2 L310.8,84.2 L305.2,84.1 L305.2,84.1 L299.5,84.1 L299.5,84.1 L293.9,84.1 L293.9,84.1 L288.2,84.1 L288.2,84.1 L282.6,84.2 L282.6,84.2 L277.0,84.3 L276.9,84.3Z" fill="#fce9d6" opacity="1"/>
<path d="M361.7,86.9 L361.5,87.0 L361.4,87.2 L361.4,87.4 L361.4,87.6 L361.5,87.8 L361.7,87.9 L368.0,89.6 L368.1,89.7 L375.9,90.2 L375.9,90.2 L383.7,90.5 L383.7,90.5 L391.6,90.7 L391.6,90.7 L399.5,90.7 L399.5,90.7 L407.3,90.7 L407.3,90.7 L415.2,90.6 L415.2,90.6 L423.0,90.3 L423.0,90.3 L430.9,90.0 L430.9,90.0 L438.8,89.6 L438.8,89.6 L446.6,89.1 L446.6,89.1 L454.5,88.4 L454.5,88.4 L462.3,87.5 L462.4,87.5 L468.7,85.4 L468.8,85.3 L469.0,85.1 L469.0,84.9 L469.0,84.7 L468.8,84.5 L468.6,84.4 L462.4,82.6 L462.3,82.6 L454.5,82.1 L454.5,82.1 L446.6,81.8 L446.6,81.8 L438.8,81.6 L438.8,81.6 L430.9,81.5 L430.9,81.5 L423.0,81.6 L423.0,81.6 L415.2,81.7 L415.2,81.7 L407.3,81.9 L407.3,81.9 L399.5,82.3 L399.5,82.3 L391.6,82.7 L391.6,82.7 L383.7,83.2 L383.7,83.2 L375.9,83.9 L375.9,83.9 L368.1,84.8 L368.0,84.8Z" fill="#fadcc0" stroke="#eaa27e" stroke-width="1.15"/>
<path d="M372.4,86.1 L372.3,86.1 L372.2,86.2 L372.1,86.2 L372.2,86.3 L372.3,86.3 L372.4,86.4 L377.4,86.9 L377.5,86.9 L383.7,87.1 L383.7,87.1 L390.0,87.2 L390.0,87.2 L396.3,87.2 L396.3,87.2 L402.6,87.2 L402.6,87.2 L408.9,87.2 L408.9,87.2 L415.2,87.2 L415.2,87.2 L421.5,87.1 L421.5,87.1 L427.8,87.0 L427.8,87.0 L434.0,86.9 L434.0,86.9 L440.3,86.7 L440.3,86.7 L446.6,86.5 L446.6,86.5 L452.9,86.2 L452.9,86.2 L458.0,85.6 L458.1,85.6 L458.2,85.5 L458.2,85.5 L458.2,85.4 L458.1,85.4 L457.9,85.3 L452.9,84.8 L452.9,84.8 L446.6,84.6 L446.6,84.6 L440.3,84.5 L440.3,84.5 L434.0,84.5 L434.0,84.5 L427.8,84.5 L427.8,84.5 L421.5,84.5 L421.5,84.5 L415.2,84.5 L415.2,84.5 L408.9,84.6 L408.9,84.6 L402.6,84.7 L402.6,84.7 L396.3,84.8 L396.3,84.8 L390.0,85.0 L390.0,85.0 L383.7,85.2 L383.7,85.2 L377.5,85.4 L377.4,85.4Z" fill="#fce9d6" opacity="1"/>
<path d="M471.8,84.4 L471.7,84.5 L471.5,84.6 L471.5,84.8 L471.5,85.0 L471.5,85.1 L471.7,85.3 L471.8,85.3 L478.4,87.3 L478.5,87.3 L486.8,88.0 L486.8,88.1 L495.1,88.5 L495.1,88.5 L503.3,88.9 L503.4,88.9 L511.6,89.1 L511.6,89.1 L519.9,89.3 L519.9,89.3 L528.2,89.3 L528.2,89.3 L536.5,89.3 L536.5,89.3 L544.8,89.1 L544.8,89.1 L553.1,88.9 L553.1,88.9 L561.4,88.5 L561.4,88.5 L569.6,88.0 L569.7,88.0 L577.9,87.3 L578.0,87.3 L584.6,85.3 L584.8,85.2 L584.9,85.1 L584.9,84.9 L584.9,84.7 L584.9,84.6 L584.8,84.4 L584.6,84.4 L578.0,82.4 L577.9,82.4 L569.7,81.7 L569.6,81.7 L561.4,81.2 L561.4,81.2 L553.1,80.8 L553.1,80.8 L544.8,80.6 L544.8,80.6 L536.5,80.4 L536.5,80.4 L528.2,80.4 L528.2,80.4 L519.9,80.5 L519.9,80.5 L511.6,80.6 L511.6,80.6 L503.4,80.8 L503.3,80.8 L495.1,81.2 L495.1,81.2 L486.8,81.7 L486.8,81.7 L478.5,82.4 L478.4,82.4Z" fill="#fadcc0" stroke="#eaa27e" stroke-width="1.15"/>
<path d="M483.1,84.4 L483.0,84.4 L482.9,84.5 L482.8,84.5 L482.8,84.6 L482.9,84.6 L483.0,84.7 L483.1,84.7 L488.4,85.3 L488.5,85.3 L495.1,85.5 L495.1,85.5 L501.7,85.7 L501.7,85.7 L508.3,85.8 L508.3,85.8 L515.0,85.8 L515.0,85.8 L521.6,85.9 L521.6,85.9 L528.2,85.9 L528.2,85.9 L534.8,85.9 L534.8,85.9 L541.5,85.8 L541.5,85.8 L548.1,85.8 L548.1,85.8 L554.7,85.7 L554.7,85.7 L561.4,85.5 L561.4,85.5 L568.0,85.3 L568.0,85.3 L573.3,84.7 L573.4,84.7 L573.5,84.6 L573.6,84.6 L573.6,84.5 L573.5,84.5 L573.4,84.4 L573.3,84.4 L568.0,83.8 L568.0,83.8 L561.4,83.6 L561.4,83.6 L554.7,83.4 L554.7,83.4 L548.1,83.3 L548.1,83.3 L541.5,83.3 L541.5,83.3 L534.8,83.2 L534.8,83.2 L528.2,83.2 L528.2,83.2 L521.6,83.2 L521.6,83.2 L515.0,83.3 L515.0,83.3 L508.3,83.3 L508.3,83.3 L501.7,83.5 L501.7,83.5 L495.1,83.6 L495.1,83.6 L488.5,83.8 L488.4,83.8Z" fill="#fce9d6" opacity="1"/>
<path d="M587.2,84.4 L587.0,84.5 L586.9,84.7 L586.9,84.9 L586.9,85.0 L587.0,85.2 L587.1,85.3 L591.4,87.5 L591.5,87.5 L596.6,88.4 L596.7,88.4 L601.8,89.0 L601.9,89.0 L607.1,89.5 L607.1,89.5 L612.3,89.9 L612.3,89.9 L617.5,90.1 L617.5,90.1 L622.7,90.3 L622.7,90.3 L627.9,90.4 L627.9,90.4 L633.1,90.4 L633.1,90.4 L638.3,90.2 L638.3,90.2 L643.5,90.0 L643.5,90.0 L648.7,89.6 L648.8,89.6 L653.9,89.0 L654.0,88.9 L658.2,87.0 L658.4,86.9 L658.5,86.7 L658.5,86.5 L658.5,86.3 L658.4,86.2 L658.3,86.1 L654.0,83.9 L653.9,83.9 L648.8,83.0 L648.7,83.0 L643.5,82.3 L643.5,82.3 L638.3,81.9 L638.3,81.9 L633.1,81.5 L633.1,81.5 L627.9,81.2 L627.9,81.2 L622.7,81.1 L622.7,81.1 L617.5,81.0 L617.5,81.0 L612.3,81.0 L612.3,81.0 L607.1,81.1 L607.1,81.1 L601.9,81.4 L601.8,81.4 L596.7,81.8 L596.6,81.8 L591.5,82.4 L591.4,82.5Z" fill="#fadcc0" stroke="#eaa27e" stroke-width="1.15"/>
<path d="M594.3,85.0 L594.1,85.0 L594.1,85.1 L594.0,85.1 L594.1,85.2 L594.1,85.2 L594.3,85.3 L597.6,85.9 L597.7,85.9 L601.8,86.2 L601.9,86.2 L606.0,86.4 L606.0,86.4 L610.2,86.5 L610.2,86.5 L614.4,86.6 L614.4,86.6 L618.5,86.7 L618.5,86.7 L622.7,86.8 L622.7,86.8 L626.9,86.8 L626.9,86.8 L631.0,86.8 L631.0,86.8 L635.2,86.8 L635.2,86.8 L639.4,86.7 L639.4,86.7 L643.5,86.6 L643.5,86.6 L647.6,86.4 L647.8,86.4 L651.1,85.8 L651.2,85.7 L651.3,85.7 L651.4,85.6 L651.3,85.6 L651.3,85.5 L651.1,85.5 L647.8,84.9 L647.6,84.8 L643.5,84.6 L643.5,84.6 L639.4,84.4 L639.4,84.4 L635.2,84.2 L635.2,84.2 L631.0,84.1 L631.0,84.1 L626.9,84.1 L626.9,84.1 L622.7,84.0 L622.7,84.0 L618.5,84.0 L618.5,84.0 L614.4,84.0 L614.4,84.0 L610.2,84.0 L610.2,84.0 L606.0,84.1 L606.0,84.1 L601.9,84.2 L601.8,84.2 L597.7,84.4 L597.6,84.4Z" fill="#fce9d6" opacity="1"/>
<path d="M123.8,95.2 L123.6,95.4 L123.5,95.6 L123.5,95.8 L123.6,96.0 L123.8,96.1 L127.7,98.5 L127.8,98.5 L132.5,99.4 L132.5,99.5 L137.2,100.1 L137.3,100.1 L142.0,100.6 L142.0,100.6 L146.7,101.0 L146.7,101.0 L151.5,101.3 L151.5,101.3 L156.2,101.4 L156.2,101.4 L161.0,101.5 L161.0,101.5 L165.7,101.5 L165.7,101.5 L170.4,101.3 L170.5,101.3 L175.2,101.1 L175.2,101.1 L179.9,100.6 L180.0,100.6 L184.6,99.9 L184.8,99.9 L188.7,97.7 L188.8,97.6 L188.9,97.4 L188.9,97.2 L188.8,97.0 L188.7,96.8 L184.8,94.5 L184.6,94.4 L180.0,93.5 L179.9,93.5 L175.2,92.8 L175.2,92.8 L170.5,92.3 L170.4,92.3 L165.7,91.9 L165.7,91.9 L161.0,91.7 L161.0,91.7 L156.2,91.5 L156.2,91.5 L151.5,91.4 L151.5,91.4 L146.7,91.5 L146.7,91.5 L142.0,91.6 L142.0,91.6 L137.3,91.9 L137.2,91.9 L132.5,92.3 L132.5,92.3 L127.8,93.0 L127.7,93.1Z" fill="#fadcc0" stroke="#eaa27e" stroke-width="1.15"/>
<path d="M130.3,95.8 L130.1,95.8 L130.1,95.9 L130.1,96.0 L130.1,96.0 L130.3,96.1 L133.4,96.8 L133.5,96.8 L137.2,97.1 L137.3,97.1 L141.0,97.3 L141.0,97.3 L144.8,97.4 L144.8,97.4 L148.6,97.5 L148.6,97.5 L152.4,97.6 L152.4,97.6 L156.2,97.7 L156.2,97.7 L160.0,97.7 L160.0,97.7 L163.8,97.7 L163.8,97.7 L167.6,97.6 L167.6,97.6 L171.4,97.5 L171.4,97.5 L175.2,97.4 L175.2,97.4 L178.9,97.2 L179.1,97.2 L182.2,96.5 L182.3,96.5 L182.4,96.4 L182.4,96.4 L182.3,96.3 L182.2,96.3 L179.0,95.6 L178.9,95.6 L175.2,95.3 L175.2,95.3 L171.4,95.1 L171.4,95.1 L167.6,94.9 L167.6,94.9 L163.8,94.8 L163.8,94.8 L160.0,94.7 L160.0,94.7 L156.2,94.7 L156.2,94.7 L152.4,94.7 L152.4,94.7 L148.6,94.7 L148.6,94.7 L144.8,94.7 L144.8,94.7 L141.0,94.8 L141.0,94.8 L137.3,94.9 L137.2,94.9 L133.5,95.1 L133.4,95.2Z" fill="#fce9d6" opacity="1"/>
<path d="M191.0,96.8 L190.8,96.9 L190.7,97.1 L190.6,97.3 L190.7,97.5 L190.8,97.6 L191.0,97.8 L197.5,99.7 L197.6,99.7 L205.6,100.5 L205.6,100.5 L213.7,100.9 L213.7,100.9 L221.8,101.2 L221.8,101.2 L229.9,101.4 L229.9,101.4 L238.0,101.5 L238.0,101.5 L246.1,101.5 L246.1,101.5 L254.2,101.4 L254.2,101.4 L262.3,101.2 L262.3,101.2 L270.4,100.9 L270.4,100.9 L278.5,100.5 L278.5,100.5 L286.6,100.0 L286.6,100.0 L294.7,99.2 L294.8,99.1 L301.3,97.1 L301.5,97.0 L301.6,96.8 L301.7,96.6 L301.6,96.4 L301.5,96.2 L301.3,96.1 L294.8,94.1 L294.7,94.1 L286.6,93.4 L286.6,93.4 L278.5,92.9 L278.5,92.9 L270.4,92.6 L270.4,92.6 L262.3,92.4 L262.3,92.4 L254.2,92.4 L254.2,92.4 L246.1,92.4 L246.1,92.4 L238.0,92.5 L238.0,92.5 L229.9,92.6 L229.9,92.6 L221.8,92.9 L221.8,92.9 L213.7,93.3 L213.7,93.3 L205.6,93.9 L205.6,93.9 L197.6,94.7 L197.5,94.7Z" fill="#fadcc0" stroke="#eaa27e" stroke-width="1.15"/>
<path d="M202.0,96.6 L201.9,96.6 L201.8,96.7 L201.7,96.7 L201.8,96.8 L201.9,96.9 L202.0,96.9 L207.2,97.5 L207.3,97.5 L213.7,97.7 L213.7,97.7 L220.2,97.8 L220.2,97.8 L226.7,97.9 L226.7,97.9 L233.2,98.0 L233.2,98.0 L239.7,98.0 L239.7,98.0 L246.1,98.0 L246.1,98.0 L252.6,98.0 L252.6,98.0 L259.1,97.9 L259.1,97.9 L265.6,97.8 L265.6,97.8 L272.1,97.7 L272.1,97.7 L278.5,97.5 L278.5,97.5 L285.0,97.3 L285.1,97.3 L290.3,96.7 L290.4,96.6 L290.5,96.6 L290.5,96.5 L290.5,96.5 L290.4,96.4 L290.3,96.4 L285.1,95.8 L285.0,95.8 L278.5,95.6 L278.5,95.6 L272.1,95.4 L272.1,95.4 L265.6,95.3 L265.6,95.3 L259.1,95.3 L259.1,95.3 L252.6,95.3 L252.6,95.3 L246.1,95.3 L246.1,95.3 L239.7,95.3 L239.7,95.3 L233.2,95.3 L233.2,95.3 L226.7,95.4 L226.7,95.4 L220.2,95.6 L220.2,95.6 L213.7,95.7 L213.7,95.7 L207.3,96.0 L207.2,96.0Z" fill="#fce9d6" opacity="1"/>
<path d="M304.0,96.1 L303.8,96.2 L303.7,96.4 L303.7,96.6 L303.7,96.8 L303.8,96.9 L304.0,97.0 L309.1,99.0 L309.2,99.1 L315.4,99.8 L315.4,99.8 L321.7,100.2 L321.7,100.2 L328.0,100.5 L328.0,100.6 L334.3,100.7 L334.3,100.7 L340.6,100.8 L340.6,100.8 L346.8,100.8 L346.8,100.8 L353.1,100.7 L353.1,100.7 L359.4,100.5 L359.4,100.5 L365.7,100.2 L365.7,100.2 L372.0,99.8 L372.0,99.8 L378.3,99.3 L378.3,99.3 L384.5,98.4 L384.6,98.4 L389.7,96.3 L389.9,96.2 L390.0,96.1 L390.0,95.9 L390.0,95.7 L389.9,95.5 L389.7,95.4 L384.6,93.4 L384.5,93.4 L378.3,92.7 L378.3,92.7 L372.0,92.2 L372.0,92.2 L365.7,91.9 L365.7,91.9 L359.4,91.7 L359.4,91.7 L353.1,91.6 L353.1,91.6 L346.8,91.6 L346.8,91.6 L340.6,91.7 L340.6,91.7 L334.3,91.9 L334.3,91.9 L328.0,92.2 L328.0,92.2 L321.7,92.6 L321.7,92.6 L315.4,93.2 L315.4,93.2 L309.2,94.0 L309.1,94.0Z" fill="#fadcc0" stroke="#eaa27e" stroke-width="1.15"/>
<path d="M312.6,95.9 L312.4,95.9 L312.3,96.0 L312.3,96.0 L312.3,96.1 L312.4,96.1 L312.6,96.2 L316.6,96.8 L316.7,96.8 L321.7,97.0 L321.7,97.0 L326.7,97.1 L326.7,97.1 L331.8,97.2 L331.8,97.2 L336.8,97.3 L336.8,97.3 L341.8,97.3 L341.8,97.3 L346.8,97.3 L346.8,97.3 L351.9,97.3 L351.9,97.3 L356.9,97.2 L356.9,97.2 L361.9,97.1 L361.9,97.1 L367.0,97.0 L367.0,97.0 L372.0,96.8 L372.0,96.8 L377.0,96.6 L377.1,96.6 L381.1,96.0 L381.3,95.9 L381.3,95.9 L381.4,95.8 L381.3,95.8 L381.3,95.7 L381.1,95.7 L377.1,95.1 L377.0,95.1 L372.0,94.9 L372.0,94.9 L367.0,94.7 L367.0,94.7 L361.9,94.6 L361.9,94.6 L356.9,94.6 L356.9,94.6 L351.9,94.5 L351.9,94.5 L346.8,94.5 L346.8,94.5 L341.8,94.6 L341.8,94.6 L336.8,94.6 L336.8,94.6 L331.8,94.7 L331.8,94.7 L326.7,94.8 L326.7,94.8 L321.7,95.0 L321.7,95.0 L316.7,95.3 L316.6,95.3Z" fill="#fce9d6" opacity="1"/>
<path d="M392.1,95.4 L392.0,95.5 L391.9,95.7 L391.8,95.8 L391.9,96.0 L392.0,96.2 L392.2,96.3 L397.3,98.1 L397.4,98.1 L403.8,98.8 L403.9,98.8 L410.3,99.1 L410.4,99.1 L416.8,99.4 L416.9,99.4 L423.3,99.5 L423.4,99.5 L429.8,99.6 L429.9,99.6 L436.3,99.5 L436.4,99.5 L442.8,99.4 L442.9,99.4 L449.3,99.2 L449.4,99.2 L455.8,98.9 L455.9,98.9 L462.3,98.5 L462.4,98.5 L468.8,97.9 L468.9,97.9 L475.3,97.1 L475.4,97.1 L480.6,95.1 L480.7,95.0 L480.8,94.9 L480.9,94.7 L480.8,94.5 L480.7,94.3 L480.5,94.2 L475.4,92.4 L475.3,92.4 L468.9,91.8 L468.8,91.8 L462.4,91.4 L462.3,91.4 L455.9,91.1 L455.8,91.1 L449.4,91.0 L449.3,91.0 L442.9,90.9 L442.8,90.9 L436.4,91.0 L436.3,91.0 L429.9,91.1 L429.8,91.1 L423.4,91.3 L423.3,91.3 L416.9,91.6 L416.8,91.6 L410.4,92.1 L410.3,92.1 L403.9,92.6 L403.8,92.6 L397.4,93.4 L397.3,93.4Z" fill="#fadcc0" stroke="#eaa27e" stroke-width="1.15"/>
<path d="M401.0,95.0 L400.9,95.0 L400.8,95.1 L400.7,95.1 L400.8,95.2 L400.9,95.2 L401.0,95.3 L405.1,95.8 L405.2,95.8 L410.3,96.0 L410.4,96.0 L415.5,96.1 L415.6,96.1 L420.7,96.2 L420.8,96.2 L425.9,96.2 L426.0,96.2 L431.1,96.3 L431.2,96.3 L436.3,96.2 L436.4,96.2 L441.5,96.2 L441.6,96.2 L446.7,96.1 L446.8,96.1 L451.9,96.0 L452.0,96.0 L457.1,95.9 L457.2,95.9 L462.3,95.8 L462.4,95.8 L467.5,95.5 L467.6,95.5 L471.7,94.9 L471.9,94.9 L471.9,94.8 L472.0,94.8 L471.9,94.7 L471.8,94.7 L471.7,94.6 L467.6,94.1 L467.5,94.1 L462.4,93.9 L462.3,93.9 L457.2,93.8 L457.1,93.8 L452.0,93.7 L451.9,93.7 L446.8,93.7 L446.7,93.7 L441.6,93.7 L441.5,93.7 L436.4,93.7 L436.3,93.7 L431.2,93.7 L431.1,93.7 L426.0,93.8 L425.9,93.8 L420.8,93.9 L420.7,93.9 L415.6,94.0 L415.5,94.0 L410.4,94.2 L410.3,94.2 L405.2,94.4 L405.1,94.4Z" fill="#fce9d6" opacity="1"/>
<path d="M483.3,94.2 L483.1,94.3 L483.0,94.5 L482.9,94.7 L483.0,94.9 L483.1,95.1 L483.3,95.2 L489.8,97.5 L489.9,97.5 L497.8,98.5 L497.8,98.5 L505.7,99.2 L505.7,99.2 L513.7,99.7 L513.7,99.7 L521.6,100.1 L521.6,100.1 L529.6,100.4 L529.6,100.4 L537.6,100.6 L537.6,100.6 L545.5,100.7 L545.5,100.7 L553.5,100.8 L553.5,100.8 L561.4,100.7 L561.4,100.7 L569.4,100.4 L569.4,100.4 L577.3,100.0 L577.4,100.0 L585.3,99.4 L585.4,99.4 L591.9,97.3 L592.0,97.2 L592.2,97.0 L592.2,96.8 L592.2,96.6 L592.1,96.5 L591.9,96.4 L585.4,94.0 L585.3,94.0 L577.4,93.0 L577.4,93.0 L569.4,92.3 L569.4,92.3 L561.4,91.8 L561.4,91.8 L553.5,91.4 L553.5,91.4 L545.5,91.1 L545.5,91.1 L537.6,90.9 L537.6,90.9 L529.6,90.8 L529.6,90.8 L521.6,90.8 L521.6,90.8 L513.7,90.9 L513.7,90.9 L505.7,91.1 L505.7,91.1 L497.8,91.5 L497.8,91.5 L489.9,92.1 L489.8,92.2Z" fill="#fadcc0" stroke="#eaa27e" stroke-width="1.15"/>
<path d="M494.1,95.0 L494.0,95.0 L493.9,95.1 L493.8,95.1 L493.9,95.2 L494.0,95.2 L494.1,95.3 L499.3,96.0 L499.4,96.0 L505.7,96.3 L505.7,96.3 L512.1,96.5 L512.1,96.5 L518.5,96.6 L518.5,96.6 L524.8,96.8 L524.8,96.8 L531.2,96.9 L531.2,96.9 L537.6,96.9 L537.6,96.9 L543.9,97.0 L543.9,97.0 L550.3,97.0 L550.3,97.0 L556.7,96.9 L556.7,96.9 L563.0,96.9 L563.0,96.9 L569.4,96.7 L569.4,96.7 L575.7,96.5 L575.8,96.5 L581.0,95.9 L581.1,95.9 L581.2,95.8 L581.3,95.8 L581.2,95.7 L581.2,95.7 L581.0,95.6 L575.8,94.9 L575.7,94.9 L569.4,94.6 L569.4,94.6 L563.0,94.4 L563.0,94.4 L556.7,94.3 L556.7,94.3 L550.3,94.1 L550.3,94.1 L543.9,94.1 L543.9,94.1 L537.6,94.0 L537.6,94.0 L531.2,94.0 L531.2,94.0 L524.8,94.0 L524.8,94.0 L518.5,94.0 L518.5,94.0 L512.1,94.1 L512.1,94.1 L505.7,94.2 L505.7,94.2 L499.4,94.4 L499.3,94.4Z" fill="#fce9d6" opacity="1"/>
<path d="M594.2,96.4 L594.0,96.5 L593.9,96.7 L593.9,96.8 L593.9,97.0 L594.1,97.2 L594.2,97.3 L598.1,99.1 L598.2,99.1 L603.0,99.7 L603.0,99.7 L607.9,100.0 L607.9,100.0 L612.7,100.2 L612.7,100.2 L617.6,100.3 L617.6,100.3 L622.4,100.3 L622.4,100.3 L627.3,100.2 L627.3,100.2 L632.2,100.0 L632.2,100.0 L637.0,99.7 L637.0,99.7 L641.9,99.4 L641.9,99.4 L646.7,98.9 L646.7,98.9 L651.6,98.3 L651.6,98.3 L656.4,97.4 L656.5,97.4 L660.4,95.3 L660.6,95.2 L660.7,95.1 L660.7,94.9 L660.6,94.7 L660.5,94.5 L660.4,94.4 L656.5,92.7 L656.4,92.6 L651.6,92.0 L651.6,92.0 L646.7,91.7 L646.7,91.7 L641.9,91.5 L641.9,91.5 L637.0,91.4 L637.0,91.4 L632.2,91.4 L632.2,91.4 L627.3,91.5 L627.3,91.5 L622.4,91.7 L622.4,91.7 L617.6,92.0 L617.6,92.0 L612.7,92.3 L612.7,92.3 L607.9,92.8 L607.9,92.8 L603.0,93.4 L603.0,93.5 L598.2,94.3 L598.1,94.4Z" fill="#fadcc0" stroke="#eaa27e" stroke-width="1.15"/>
<path d="M600.8,95.7 L600.7,95.7 L600.6,95.8 L600.6,95.9 L600.6,95.9 L600.7,96.0 L600.8,96.0 L603.9,96.5 L604.0,96.5 L607.8,96.7 L607.9,96.7 L611.7,96.8 L611.8,96.8 L615.6,96.9 L615.6,96.9 L619.5,96.9 L619.5,96.9 L623.4,96.9 L623.4,96.9 L627.3,96.9 L627.3,96.9 L631.2,96.8 L631.2,96.8 L635.1,96.7 L635.1,96.7 L639.0,96.6 L639.0,96.6 L642.8,96.5 L642.9,96.5 L646.7,96.3 L646.8,96.3 L650.6,96.0 L650.7,96.0 L653.8,95.4 L653.9,95.4 L654.0,95.3 L654.0,95.3 L654.0,95.2 L653.9,95.2 L653.8,95.1 L650.7,94.6 L650.6,94.6 L646.8,94.4 L646.7,94.4 L642.9,94.3 L642.8,94.3 L639.0,94.2 L639.0,94.2 L635.1,94.2 L635.1,94.2 L631.2,94.2 L631.2,94.2 L627.3,94.3 L627.3,94.3 L623.4,94.3 L623.4,94.3 L619.5,94.4 L619.5,94.4 L615.6,94.5 L615.6,94.5 L611.8,94.6 L611.7,94.6 L607.9,94.8 L607.8,94.8 L604.0,95.1 L603.9,95.1Z" fill="#fce9d6" opacity="1"/>
<path d="M180.4,101.6 L180.2,101.7 L180.1,101.9 L180.0,102.1 L180.1,102.3 L180.2,102.4 L180.4,102.6 L186.2,104.6 L186.3,104.6 L193.7,105.5 L193.7,105.5 L201.2,106.2 L201.2,106.2 L208.6,106.8 L208.6,106.8 L216.1,107.3 L216.1,107.3 L223.5,107.6 L223.5,107.6 L231.0,107.9 L231.0,107.9 L238.4,108.1 L238.4,108.1 L245.9,108.2 L245.9,108.2 L253.3,108.2 L253.3,108.2 L260.8,108.2 L260.8,108.2 L268.2,107.9 L268.2,107.9 L275.6,107.5 L275.7,107.4 L281.5,105.8 L281.7,105.7 L281.9,105.6 L281.9,105.4 L281.9,105.2 L281.8,105.0 L281.6,104.9 L275.7,102.9 L275.6,102.9 L268.2,101.9 L268.2,101.9 L260.8,101.2 L260.8,101.2 L253.3,100.6 L253.3,100.6 L245.9,100.2 L245.9,100.2 L238.4,99.8 L238.4,99.8 L231.0,99.5 L231.0,99.5 L223.5,99.3 L223.5,99.3 L216.1,99.2 L216.1,99.2 L208.6,99.2 L208.6,99.2 L201.2,99.3 L201.2,99.3 L193.7,99.5 L193.7,99.5 L186.3,100.0 L186.2,100.0Z" fill="#fadcc0" stroke="#eaa27e" stroke-width="1.15"/>
<path d="M190.5,102.8 L190.4,102.8 L190.2,102.9 L190.2,102.9 L190.2,103.0 L190.3,103.0 L190.5,103.1 L195.2,103.7 L195.2,103.7 L201.2,104.0 L201.2,104.0 L207.1,104.2 L207.1,104.2 L213.1,104.3 L213.1,104.3 L219.0,104.5 L219.0,104.5 L225.0,104.6 L225.0,104.6 L231.0,104.7 L231.0,104.7 L236.9,104.7 L236.9,104.7 L242.9,104.8 L242.9,104.8 L248.8,104.8 L248.8,104.8 L254.8,104.7 L254.8,104.7 L260.8,104.7 L260.8,104.7 L266.7,104.5 L266.8,104.5 L271.4,104.1 L271.6,104.0 L271.7,104.0 L271.7,103.9 L271.7,103.9 L271.6,103.8 L271.5,103.8 L266.8,103.2 L266.7,103.2 L260.8,102.9 L260.8,102.9 L254.8,102.7 L254.8,102.7 L248.8,102.5 L248.8,102.5 L242.9,102.4 L242.9,102.4 L236.9,102.2 L236.9,102.2 L231.0,102.2 L231.0,102.2 L225.0,102.1 L225.0,102.1 L219.0,102.1 L219.0,102.1 L213.1,102.1 L213.1,102.1 L207.1,102.1 L207.1,102.1 L201.2,102.2 L201.2,102.2 L195.3,102.3 L195.2,102.3Z" fill="#fce9d6" opacity="1"/>
<path d="M283.9,105.0 L283.7,105.1 L283.7,105.3 L283.7,105.5 L283.7,105.7 L283.9,105.8 L287.8,108.0 L288.0,108.0 L292.7,108.8 L292.7,108.8 L297.5,109.3 L297.5,109.3 L302.3,109.7 L302.3,109.7 L307.1,109.9 L307.1,109.9 L311.9,110.1 L311.9,110.1 L316.7,110.1 L316.7,110.1 L321.4,110.0 L321.5,110.0 L326.2,109.9 L326.2,109.9 L331.0,109.6 L331.0,109.6 L335.8,109.2 L335.8,109.2 L340.6,108.6 L340.6,108.6 L345.3,107.8 L345.5,107.8 L349.4,105.6 L349.6,105.4 L349.7,105.2 L349.7,105.0 L349.6,104.8 L349.4,104.7 L345.5,102.5 L345.3,102.5 L340.6,101.7 L340.6,101.7 L335.8,101.2 L335.8,101.2 L331.0,100.8 L331.0,100.8 L326.2,100.6 L326.2,100.6 L321.5,100.5 L321.4,100.5 L316.7,100.4 L316.7,100.4 L311.9,100.5 L311.9,100.5 L307.1,100.7 L307.1,100.7 L302.3,101.0 L302.3,101.0 L297.5,101.4 L297.5,101.4 L292.7,101.9 L292.7,101.9 L288.0,102.7 L287.8,102.8Z" fill="#fadcc0" stroke="#eaa27e" stroke-width="1.15"/>
<path d="M290.5,104.9 L290.3,104.9 L290.3,105.0 L290.3,105.0 L290.3,105.1 L290.5,105.1 L293.6,105.8 L293.7,105.8 L297.5,106.0 L297.5,106.0 L301.3,106.2 L301.3,106.2 L305.1,106.3 L305.2,106.3 L309.0,106.4 L309.0,106.4 L312.8,106.4 L312.8,106.4 L316.7,106.4 L316.7,106.4 L320.5,106.4 L320.5,106.4 L324.3,106.3 L324.3,106.3 L328.2,106.3 L328.2,106.3 L332.0,106.1 L332.0,106.1 L335.8,106.0 L335.8,106.0 L339.6,105.7 L339.7,105.7 L342.9,105.1 L343.0,105.0 L343.1,105.0 L343.1,104.9 L343.0,104.8 L342.9,104.8 L339.7,104.2 L339.6,104.1 L335.8,103.9 L335.8,103.9 L332.0,103.7 L332.0,103.7 L328.2,103.6 L328.2,103.6 L324.3,103.6 L324.3,103.6 L320.5,103.5 L320.5,103.5 L316.7,103.5 L316.7,103.5 L312.8,103.5 L312.8,103.5 L309.0,103.6 L309.0,103.6 L305.2,103.7 L305.1,103.7 L301.3,103.8 L301.3,103.8 L297.5,104.0 L297.5,104.0 L293.7,104.2 L293.6,104.2Z" fill="#fce9d6" opacity="1"/>
<path d="M351.9,104.6 L351.8,104.7 L351.6,104.8 L351.6,105.0 L351.6,105.2 L351.6,105.4 L351.8,105.5 L351.9,105.6 L358.5,107.3 L358.6,107.3 L366.9,107.9 L366.9,107.9 L375.3,108.3 L375.3,108.3 L383.6,108.5 L383.6,108.5 L392.0,108.6 L392.0,108.6 L400.3,108.6 L400.3,108.6 L408.7,108.5 L408.7,108.5 L417.0,108.3 L417.0,108.3 L425.4,108.1 L425.4,108.1 L433.7,107.7 L433.8,107.7 L442.1,107.3 L442.1,107.3 L450.5,106.7 L450.5,106.7 L458.8,105.8 L458.9,105.8 L465.5,103.9 L465.6,103.8 L465.7,103.6 L465.8,103.5 L465.8,103.3 L465.7,103.1 L465.6,103.0 L465.4,102.9 L458.9,101.2 L458.8,101.1 L450.5,100.6 L450.5,100.6 L442.1,100.2 L442.1,100.2 L433.8,100.0 L433.7,100.0 L425.4,99.9 L425.4,99.9 L417.0,99.9 L417.0,99.9 L408.7,100.0 L408.7,100.0 L400.3,100.2 L400.3,100.2 L392.0,100.4 L392.0,100.4 L383.6,100.8 L383.6,100.8 L375.3,101.2 L375.3,101.2 L366.9,101.8 L366.9,101.8 L358.6,102.7 L358.5,102.7Z" fill="#fadcc0" stroke="#eaa27e" stroke-width="1.15"/>
<path d="M363.3,104.1 L363.1,104.1 L363.0,104.1 L363.0,104.2 L363.0,104.2 L363.1,104.3 L363.2,104.3 L363.3,104.3 L368.6,104.9 L368.6,104.9 L375.3,105.1 L375.3,105.1 L382.0,105.2 L382.0,105.2 L388.6,105.2 L388.6,105.2 L395.3,105.2 L395.3,105.2 L402.0,105.2 L402.0,105.2 L408.7,105.2 L408.7,105.2 L415.4,105.2 L415.4,105.2 L422.1,105.1 L422.1,105.1 L428.7,105.0 L428.7,105.0 L435.4,104.9 L435.4,104.9 L442.1,104.7 L442.1,104.7 L448.8,104.4 L448.8,104.4 L454.1,103.8 L454.2,103.8 L454.3,103.8 L454.4,103.7 L454.4,103.7 L454.3,103.6 L454.2,103.6 L454.1,103.5 L448.8,103.0 L448.8,103.0 L442.1,102.8 L442.1,102.8 L435.4,102.7 L435.4,102.7 L428.7,102.7 L428.7,102.7 L422.1,102.6 L422.1,102.6 L415.4,102.6 L415.4,102.6 L408.7,102.7 L408.7,102.7 L402.0,102.7 L402.0,102.7 L395.3,102.8 L395.3,102.8 L388.6,102.9 L388.6,102.9 L382.0,103.0 L382.0,103.0 L375.3,103.2 L375.3,103.2 L368.6,103.5 L368.6,103.5Z" fill="#fce9d6" opacity="1"/>
<path d="M468.8,102.9 L468.6,103.0 L468.5,103.1 L468.4,103.3 L468.4,103.5 L468.5,103.6 L468.6,103.8 L468.8,103.8 L475.3,105.8 L475.4,105.8 L483.6,106.6 L483.6,106.6 L491.8,107.2 L491.8,107.2 L500.0,107.5 L500.1,107.6 L508.3,107.8 L508.3,107.8 L516.5,108.0 L516.5,108.0 L524.7,108.1 L524.7,108.1 L532.9,108.1 L532.9,108.1 L541.1,108.0 L541.1,108.0 L549.4,107.8 L549.4,107.8 L557.6,107.5 L557.6,107.5 L565.8,107.1 L565.8,107.1 L574.0,106.4 L574.1,106.3 L580.6,104.4 L580.8,104.4 L580.9,104.2 L581.0,104.1 L581.0,103.9 L580.9,103.7 L580.8,103.6 L580.6,103.5 L574.1,101.5 L574.0,101.5 L565.8,100.7 L565.8,100.7 L557.6,100.2 L557.6,100.2 L549.4,99.8 L549.4,99.8 L541.1,99.5 L541.1,99.5 L532.9,99.3 L532.9,99.3 L524.7,99.2 L524.7,99.2 L516.5,99.2 L516.5,99.2 L508.3,99.3 L508.3,99.3 L500.1,99.5 L500.0,99.5 L491.8,99.8 L491.8,99.8 L483.6,100.3 L483.6,100.3 L475.4,101.0 L475.3,101.0Z" fill="#fadcc0" stroke="#eaa27e" stroke-width="1.15"/>
<path d="M480.0,103.1 L479.8,103.2 L479.8,103.2 L479.7,103.2 L479.7,103.3 L479.7,103.4 L479.8,103.4 L480.0,103.4 L485.2,104.0 L485.3,104.0 L491.8,104.3 L491.8,104.3 L498.4,104.4 L498.4,104.4 L505.0,104.5 L505.0,104.5 L511.6,104.6 L511.6,104.6 L518.1,104.7 L518.1,104.7 L524.7,104.7 L524.7,104.7 L531.3,104.7 L531.3,104.7 L537.9,104.7 L537.9,104.7 L544.4,104.6 L544.4,104.6 L551.0,104.5 L551.0,104.5 L557.6,104.4 L557.6,104.4 L564.1,104.2 L564.2,104.2 L569.4,103.6 L569.6,103.6 L569.7,103.5 L569.7,103.5 L569.7,103.4 L569.7,103.4 L569.6,103.3 L569.4,103.3 L564.2,102.7 L564.1,102.7 L557.6,102.5 L557.6,102.5 L551.0,102.3 L551.0,102.3 L544.4,102.2 L544.4,102.2 L537.9,102.1 L537.9,102.1 L531.3,102.1 L531.3,102.1 L524.7,102.0 L524.7,102.0 L518.1,102.0 L518.1,102.0 L511.6,102.1 L511.6,102.1 L505.0,102.1 L505.0,102.1 L498.4,102.2 L498.4,102.2 L491.8,102.3 L491.8,102.3 L485.3,102.6 L485.2,102.6Z" fill="#fce9d6" opacity="1"/>
<path d="M583.2,103.5 L583.0,103.6 L582.9,103.8 L582.9,104.0 L582.9,104.1 L583.0,104.3 L583.2,104.4 L587.4,106.3 L587.6,106.4 L592.7,107.0 L592.7,107.0 L597.9,107.4 L598.0,107.4 L603.2,107.7 L603.2,107.7 L608.4,107.8 L608.4,107.8 L613.7,107.9 L613.7,107.9 L618.9,107.8 L618.9,107.8 L624.1,107.6 L624.1,107.6 L629.4,107.4 L629.4,107.4 L634.6,107.0 L634.6,107.0 L639.8,106.6 L639.8,106.6 L645.1,105.9 L645.1,105.9 L650.2,105.1 L650.4,105.0 L654.6,102.9 L654.8,102.8 L654.9,102.6 L654.9,102.5 L654.8,102.3 L654.7,102.1 L654.6,102.0 L650.4,100.1 L650.2,100.0 L645.1,99.4 L645.1,99.4 L639.8,99.0 L639.8,99.0 L634.6,98.7 L634.6,98.7 L629.4,98.6 L629.4,98.6 L624.1,98.6 L624.1,98.6 L618.9,98.6 L618.9,98.6 L613.7,98.8 L613.7,98.8 L608.4,99.0 L608.4,99.0 L603.2,99.4 L603.2,99.4 L598.0,99.8 L597.9,99.8 L592.7,100.5 L592.7,100.5 L587.6,101.3 L587.4,101.4Z" fill="#fadcc0" stroke="#eaa27e" stroke-width="1.15"/>
<path d="M590.3,103.0 L590.2,103.0 L590.1,103.1 L590.1,103.1 L590.1,103.2 L590.2,103.2 L590.3,103.3 L593.7,103.8 L593.8,103.9 L597.9,104.1 L598.0,104.1 L602.1,104.2 L602.1,104.2 L606.3,104.3 L606.3,104.3 L610.5,104.3 L610.5,104.3 L614.7,104.3 L614.7,104.3 L618.9,104.3 L618.9,104.3 L623.1,104.2 L623.1,104.2 L627.3,104.2 L627.3,104.2 L631.5,104.1 L631.5,104.1 L635.6,103.9 L635.7,103.9 L639.8,103.7 L639.8,103.7 L644.0,103.5 L644.1,103.5 L647.5,102.8 L647.6,102.8 L647.7,102.7 L647.7,102.7 L647.7,102.6 L647.6,102.6 L647.5,102.5 L644.1,102.0 L644.0,102.0 L639.8,101.8 L639.8,101.8 L635.7,101.6 L635.6,101.6 L631.5,101.6 L631.5,101.6 L627.3,101.5 L627.3,101.5 L623.1,101.5 L623.1,101.5 L618.9,101.5 L618.9,101.5 L614.7,101.6 L614.7,101.6 L610.5,101.6 L610.5,101.7 L606.3,101.8 L606.3,101.8 L602.1,101.9 L602.1,101.9 L598.0,102.1 L597.9,102.1 L593.8,102.3 L593.7,102.4Z" fill="#fce9d6" opacity="1"/>
<path d="M200.0,23.0 C228.4,18.8 273.1,12.3 301.5,16.5 C273.1,20.7 228.4,27.2 200.0,23.0Z" fill="#fbe5d3" stroke="#ea9a82" stroke-width="1.4"/>
<path d="M210.0,22.7 C232.8,21.0 268.7,14.5 291.5,16.2 C268.7,17.9 232.8,24.4 210.0,22.7Z" fill="#fdf3e9"/>
<path d="M296.0,24.0 C322.2,19.6 363.3,17.1 389.5,21.5 C363.3,25.9 322.2,28.4 296.0,24.0Z" fill="#fbe5d3" stroke="#ea9a82" stroke-width="1.4"/>
<path d="M306.0,23.7 C326.6,21.9 358.9,19.4 379.5,21.2 C358.9,23.0 326.6,25.5 306.0,23.7Z" fill="#fdf3e9"/>
<path d="M392.0,11.0 C418.6,6.2 460.4,18.2 487.0,23.0 C460.4,27.8 418.6,15.8 392.0,11.0Z" fill="#fbe5d3" stroke="#ea9a82" stroke-width="1.4"/>
<path d="M402.0,10.7 C423.0,8.8 456.0,20.8 477.0,22.7 C456.0,24.6 423.0,12.6 402.0,10.7Z" fill="#fdf3e9"/>
<path d="M156.0,119.1 L156.0,119.5 L156.2,119.8 L156.5,120.0 L156.9,120.1 L162.7,120.5 L162.7,120.5 L168.5,120.7 L168.5,120.7 L174.4,120.9 L174.4,120.9 L180.2,120.9 L180.2,120.9 L186.0,120.9 L186.1,120.9 L191.9,120.7 L191.9,120.6 L197.7,120.3 L197.7,120.3 L203.5,119.8 L203.6,119.8 L209.1,118.9 L209.5,118.8 L213.5,116.3 L213.8,116.0 L214.0,115.6 L214.0,115.2 L213.8,114.9 L213.5,114.6 L209.5,112.0 L209.1,111.8 L203.7,110.8 L203.5,110.8 L157.2,111.2 L156.8,111.3 L156.5,111.5 L156.2,111.8 L156.2,112.2Z" fill="#f6c089" stroke="#e39c58" stroke-width="1.3"/>
<path d="M161.4,116.1 L161.5,116.2 L161.6,116.4 L161.9,116.5 L162.2,116.5 L166.8,116.6 L166.8,116.6 L171.5,116.7 L171.5,116.7 L176.2,116.8 L176.2,116.8 L180.8,116.8 L180.9,116.8 L185.5,116.8 L185.5,116.8 L190.2,116.7 L190.2,116.7 L194.8,116.6 L194.9,116.6 L199.5,116.4 L199.5,116.4 L204.0,116.0 L204.3,116.0 L207.5,115.0 L207.7,114.9 L207.9,114.7 L207.9,114.5 L207.7,114.4 L207.5,114.3 L204.3,113.2 L204.0,113.2 L199.6,112.8 L199.5,112.8 L162.4,112.9 L162.1,113.0 L161.8,113.0 L161.7,113.2 L161.6,113.3Z" fill="#f8cd9e" opacity="0.7"/>
<ellipse cx="177.1" cy="115.7" rx="9" ry="3.3" fill="#f5d0ba" stroke="none" stroke-width="1"/>
<ellipse cx="176.1" cy="114.5" rx="5.0" ry="1.2" fill="#ffffff" opacity="0.25"/>
<path d="M229.2,111.0 L229.1,111.0 L222.4,112.0 L222.1,112.1 L217.5,114.5 L217.2,114.8 L217.0,115.1 L216.9,115.4 L217.0,115.8 L217.2,116.1 L217.5,116.3 L222.1,118.5 L222.4,118.6 L229.1,119.3 L229.2,119.4 L236.0,119.8 L236.1,119.8 L243.0,120.0 L243.0,120.1 L249.9,120.2 L249.9,120.2 L256.8,120.2 L256.9,120.2 L263.8,120.1 L263.8,120.1 L270.7,119.9 L270.7,119.9 L277.6,119.6 L277.7,119.6 L284.6,119.1 L284.6,119.1 L291.5,118.6 L291.5,118.6 L298.4,117.8 L298.5,117.8 L305.2,116.8 L305.5,116.7 L310.1,114.2 L310.4,114.0 L310.6,113.7 L310.7,113.3 L310.6,113.0 L310.4,112.7 L310.1,112.5 L305.5,110.3 L305.2,110.2 L303.6,110.0 L303.5,110.0 L232.8,110.6 L232.7,110.6Z" fill="#f6c089" stroke="#e39c58" stroke-width="1.3"/>
<path d="M236.0,112.3 L235.9,112.3 L230.6,112.7 L230.3,112.8 L226.6,113.7 L226.4,113.8 L226.2,114.0 L226.2,114.1 L226.2,114.2 L226.4,114.4 L226.6,114.5 L230.3,115.3 L230.6,115.4 L235.9,115.7 L236.0,115.7 L241.5,115.8 L241.5,115.8 L247.0,115.9 L247.0,115.9 L252.6,116.0 L252.6,116.0 L258.1,116.0 L258.1,116.0 L263.7,116.0 L263.7,116.0 L269.2,115.9 L269.2,115.9 L274.8,115.7 L274.8,115.7 L280.3,115.6 L280.3,115.6 L285.8,115.4 L285.9,115.4 L291.4,115.1 L291.4,115.1 L296.8,114.6 L297.0,114.6 L300.7,113.6 L301.0,113.5 L301.1,113.4 L301.2,113.3 L301.1,113.1 L301.0,113.0 L300.7,112.9 L297.0,112.0 L296.8,112.0 L295.5,111.9 L295.4,111.9 L238.9,112.2 L238.8,112.2Z" fill="#f8cd9e" opacity="0.7"/>
<ellipse cx="263.9" cy="114.9" rx="9" ry="3.3" fill="#f5d0ba" stroke="none" stroke-width="1"/>
<ellipse cx="262.9" cy="113.7" rx="5.0" ry="1.2" fill="#ffffff" opacity="0.25"/>
<path d="M314.2,112.4 L313.9,112.7 L313.8,113.1 L313.8,113.5 L314.0,113.9 L314.3,114.1 L318.3,116.3 L318.7,116.5 L324.6,117.2 L324.6,117.2 L330.7,117.6 L330.7,117.6 L336.8,117.8 L336.8,117.8 L342.9,117.9 L342.9,117.9 L349.0,117.9 L349.0,117.9 L355.1,117.8 L355.2,117.8 L361.3,117.5 L361.3,117.5 L367.4,117.2 L367.4,117.2 L373.5,116.8 L373.5,116.7 L379.6,116.2 L379.6,116.2 L385.7,115.4 L385.7,115.4 L391.6,114.3 L392.0,114.2 L396.1,111.7 L396.4,111.4 L396.5,111.0 L396.5,110.6 L396.4,110.2 L396.0,110.0 L394.9,109.4 L394.4,109.2 L318.7,109.9 L318.2,110.0Z" fill="#f6c089" stroke="#e39c58" stroke-width="1.3"/>
<path d="M322.1,111.9 L321.9,112.1 L321.8,112.2 L321.8,112.4 L321.9,112.5 L322.2,112.6 L325.4,113.5 L325.7,113.6 L330.4,113.8 L330.5,113.8 L335.3,114.0 L335.3,114.0 L340.2,114.1 L340.2,114.1 L345.1,114.1 L345.1,114.1 L350.0,114.1 L350.0,114.1 L354.9,114.1 L354.9,114.1 L359.8,114.0 L359.8,114.0 L364.7,113.9 L364.7,113.9 L369.6,113.7 L369.6,113.7 L374.4,113.4 L374.5,113.4 L379.3,113.1 L379.4,113.1 L384.1,112.7 L384.3,112.7 L387.6,111.7 L387.9,111.5 L388.0,111.4 L388.0,111.2 L387.9,111.1 L387.6,111.0 L386.7,110.7 L386.3,110.7 L325.8,110.9 L325.3,111.0Z" fill="#f8cd9e" opacity="0.7"/>
<path d="M399.5,110.0 L399.3,110.3 L399.1,110.6 L399.1,111.0 L399.3,111.4 L399.5,111.6 L404.0,114.7 L404.3,114.9 L410.1,115.9 L410.2,115.9 L416.2,116.7 L416.2,116.7 L422.2,117.2 L422.3,117.2 L428.3,117.5 L428.3,117.5 L434.4,117.7 L434.4,117.7 L440.4,117.8 L440.5,117.8 L446.5,117.8 L446.5,117.8 L452.5,117.6 L452.6,117.6 L458.6,117.3 L458.6,117.3 L464.7,116.8 L464.7,116.8 L470.7,116.1 L470.8,116.1 L476.5,115.1 L476.9,114.9 L481.3,111.9 L481.6,111.6 L481.8,111.3 L481.8,110.9 L481.6,110.5 L481.4,110.2 L479.1,108.7 L478.9,108.6 L478.6,108.5 L401.0,109.2 L400.7,109.2 L400.5,109.4Z" fill="#f6c089" stroke="#e39c58" stroke-width="1.3"/>
<path d="M407.9,110.7 L407.6,110.8 L407.5,110.9 L407.5,111.1 L407.6,111.2 L407.9,111.4 L411.4,112.6 L411.7,112.6 L416.3,113.1 L416.4,113.1 L421.2,113.4 L421.2,113.4 L426.0,113.6 L426.1,113.6 L430.9,113.7 L430.9,113.7 L435.7,113.8 L435.7,113.8 L440.6,113.8 L440.6,113.8 L445.4,113.8 L445.4,113.8 L450.3,113.7 L450.3,113.7 L455.1,113.6 L455.1,113.6 L460.0,113.4 L460.0,113.4 L464.8,113.2 L464.8,113.2 L469.5,112.7 L469.8,112.7 L473.3,111.5 L473.5,111.4 L473.6,111.2 L473.6,111.1 L473.5,110.9 L473.3,110.8 L471.5,110.2 L471.3,110.1 L471.1,110.1 L409.0,110.4 L408.8,110.4 L408.6,110.4Z" fill="#f8cd9e" opacity="0.7"/>
<ellipse cx="442.7" cy="112.8" rx="9" ry="3.3" fill="#f5d0ba" stroke="none" stroke-width="1"/>
<ellipse cx="441.7" cy="111.6" rx="5.0" ry="1.2" fill="#ffffff" opacity="0.25"/>
<path d="M485.2,110.2 L484.9,110.4 L484.7,110.8 L484.6,111.1 L484.7,111.5 L484.9,111.8 L485.1,112.0 L490.2,114.6 L490.5,114.7 L497.6,115.9 L497.7,115.9 L505.0,116.7 L505.0,116.7 L512.4,117.3 L512.4,117.3 L519.7,117.8 L519.7,117.8 L527.1,118.2 L527.1,118.2 L534.4,118.5 L534.5,118.5 L541.8,118.6 L541.8,118.6 L549.2,118.7 L549.2,118.7 L556.5,118.6 L556.5,118.6 L563.9,118.4 L563.9,118.4 L571.2,118.0 L571.3,118.0 L578.4,117.2 L578.7,117.2 L583.7,114.9 L584.0,114.6 L584.2,114.3 L584.3,114.0 L584.2,113.6 L584.0,113.3 L583.7,113.1 L578.7,110.4 L578.4,110.3 L571.3,109.2 L571.2,109.2 L563.9,108.4 L563.9,108.4 L558.2,107.9 L558.1,107.9 L489.2,108.4 L488.8,108.5Z" fill="#f6c089" stroke="#e39c58" stroke-width="1.3"/>
<path d="M495.3,110.9 L495.1,111.0 L494.9,111.1 L494.9,111.3 L494.9,111.4 L495.1,111.5 L495.3,111.6 L499.3,112.7 L499.6,112.7 L505.3,113.2 L505.3,113.2 L511.2,113.5 L511.2,113.5 L517.1,113.8 L517.1,113.8 L522.9,114.0 L523.0,114.0 L528.8,114.1 L528.8,114.1 L534.7,114.2 L534.7,114.2 L540.6,114.3 L540.6,114.3 L546.5,114.3 L546.5,114.3 L552.4,114.3 L552.4,114.3 L558.3,114.2 L558.3,114.2 L564.2,114.0 L564.2,114.0 L569.9,113.7 L570.2,113.7 L574.1,112.8 L574.4,112.7 L574.5,112.6 L574.6,112.4 L574.5,112.3 L574.4,112.1 L574.2,112.1 L570.1,111.0 L569.9,111.0 L564.2,110.5 L564.1,110.5 L558.3,110.2 L558.3,110.2 L553.7,110.0 L553.6,110.0 L498.6,110.2 L498.2,110.2Z" fill="#f8cd9e" opacity="0.7"/>
<ellipse cx="541.6" cy="113.1" rx="9" ry="3.3" fill="#f5d0ba" stroke="none" stroke-width="1"/>
<ellipse cx="540.6" cy="111.9" rx="5.0" ry="1.2" fill="#ffffff" opacity="0.25"/>
<path d="M603.1,107.6 L603.0,107.6 L597.4,108.5 L597.4,108.5 L592.0,109.8 L591.6,109.9 L587.4,113.2 L587.2,113.5 L587.0,113.8 L587.0,114.2 L587.2,114.5 L587.4,114.8 L591.6,117.7 L592.0,117.9 L597.3,118.7 L597.4,118.8 L603.0,119.3 L603.1,119.3 L608.7,119.6 L608.7,119.6 L614.4,119.7 L614.4,119.7 L620.0,119.8 L620.1,119.8 L625.7,119.6 L625.7,119.6 L631.4,119.4 L631.4,119.4 L637.1,119.0 L637.1,119.0 L638.9,118.8 L639.2,118.7 L639.5,118.5 L639.7,118.2 L639.8,117.9 L639.8,108.2 L639.7,107.8 L639.5,107.5 L639.2,107.3 L638.8,107.2 L604.2,107.5 L604.1,107.5Z" fill="#f6c089" stroke="#e39c58" stroke-width="1.3"/>
<path d="M605.6,110.1 L605.5,110.1 L601.1,110.5 L601.0,110.5 L596.7,111.0 L596.4,111.1 L593.0,112.4 L592.8,112.5 L592.7,112.6 L592.7,112.8 L592.9,112.9 L593.1,113.0 L596.4,114.2 L596.7,114.2 L601.0,114.6 L601.0,114.6 L605.5,114.8 L605.6,114.8 L610.1,114.9 L610.1,114.9 L614.6,115.0 L614.6,115.0 L619.2,115.0 L619.2,115.0 L623.7,114.9 L623.7,114.9 L628.2,114.8 L628.2,114.8 L632.8,114.7 L632.8,114.7 L634.2,114.6 L634.5,114.6 L634.7,114.5 L634.9,114.4 L635.0,114.2 L635.0,110.4 L634.9,110.2 L634.7,110.1 L634.5,110.0 L634.2,110.0 L606.5,110.1 L606.4,110.1Z" fill="#f8cd9e" opacity="0.7"/>
<ellipse cx="611.0" cy="113.5" rx="9" ry="3.3" fill="#f5d0ba" stroke="none" stroke-width="1"/>
<ellipse cx="610.0" cy="112.3" rx="5.0" ry="1.2" fill="#ffffff" opacity="0.25"/>
<path d="M179.5,127.3 L179.9,127.4 L186.0,128.4 L186.0,128.4 L192.4,129.0 L192.4,129.0 L198.8,129.5 L198.8,129.5 L205.2,129.8 L205.2,129.8 L211.5,129.9 L211.6,129.9 L217.9,130.0 L217.9,130.0 L224.3,129.9 L224.3,129.9 L230.7,129.7 L230.7,129.7 L237.1,129.4 L237.1,129.4 L243.5,129.0 L243.5,129.0 L249.8,128.3 L249.9,128.3 L256.0,127.4 L256.4,127.2 L260.8,124.5 L261.1,124.3 L261.3,123.9 L261.3,123.5 L261.1,123.1 L260.8,122.8 L256.4,120.2 L256.0,120.0 L249.9,119.1 L249.8,119.1 L243.5,118.4 L243.5,118.4 L237.1,118.0 L237.1,118.0 L230.7,117.7 L230.7,117.7 L224.3,117.5 L224.3,117.5 L217.9,117.4 L217.9,117.4 L211.6,117.5 L211.5,117.5 L205.2,117.7 L205.2,117.7 L198.8,118.0 L198.8,118.0 L192.4,118.4 L192.4,118.4 L186.0,119.1 L186.0,119.1 L179.9,120.1 L179.5,120.2 L175.0,122.9 L174.7,123.2 L174.6,123.5 L174.6,124.0 L174.7,124.3 L175.0,124.6Z" fill="#f6c089" stroke="#e39c58" stroke-width="1.3"/>
<path d="M187.2,124.1 L187.5,124.2 L192.4,124.6 L192.4,124.6 L197.5,124.8 L197.5,124.8 L202.6,125.0 L202.6,125.0 L207.7,125.1 L207.7,125.1 L212.8,125.2 L212.8,125.2 L217.9,125.2 L217.9,125.2 L223.0,125.2 L223.1,125.2 L228.1,125.1 L228.2,125.1 L233.3,125.0 L233.3,125.0 L238.4,124.8 L238.4,124.8 L243.5,124.6 L243.5,124.6 L248.4,124.2 L248.7,124.1 L252.3,123.0 L252.5,122.9 L252.6,122.8 L252.6,122.6 L252.5,122.5 L252.3,122.4 L248.7,121.3 L248.4,121.2 L243.5,120.9 L243.5,120.9 L238.4,120.6 L238.4,120.6 L233.3,120.4 L233.3,120.4 L228.2,120.3 L228.1,120.3 L223.1,120.2 L223.0,120.2 L217.9,120.2 L217.9,120.2 L212.8,120.2 L212.8,120.2 L207.7,120.3 L207.7,120.3 L202.6,120.4 L202.6,120.4 L197.5,120.6 L197.5,120.6 L192.4,120.9 L192.4,120.9 L187.5,121.3 L187.2,121.3 L183.6,122.4 L183.4,122.5 L183.2,122.6 L183.2,122.8 L183.4,123.0 L183.6,123.1Z" fill="#f8cd9e" opacity="0.7"/>
<ellipse cx="210.2" cy="123.7" rx="9" ry="3.3" fill="#f5d0ba" stroke="none" stroke-width="1"/>
<ellipse cx="209.2" cy="122.5" rx="5.0" ry="1.2" fill="#ffffff" opacity="0.25"/>
<path d="M269.0,127.0 L269.3,127.1 L275.4,128.0 L275.5,128.0 L281.8,128.7 L281.8,128.7 L288.2,129.2 L288.2,129.2 L294.5,129.6 L294.6,129.6 L300.9,129.8 L300.9,129.8 L307.3,130.0 L307.3,130.0 L313.7,130.0 L313.7,130.0 L320.0,130.0 L320.0,130.0 L326.4,129.8 L326.4,129.8 L332.8,129.5 L332.8,129.5 L339.1,129.0 L339.2,129.0 L345.3,128.2 L345.6,128.1 L349.9,125.8 L350.2,125.6 L350.4,125.2 L350.4,124.8 L350.2,124.4 L349.9,124.1 L345.6,121.7 L345.3,121.6 L339.2,120.6 L339.1,120.6 L332.8,119.9 L332.8,119.9 L326.4,119.4 L326.4,119.4 L320.0,119.1 L320.0,119.1 L313.7,118.8 L313.7,118.8 L307.3,118.7 L307.3,118.7 L300.9,118.6 L300.9,118.6 L294.6,118.7 L294.5,118.7 L288.2,118.9 L288.2,118.9 L281.8,119.2 L281.8,119.2 L275.5,119.7 L275.4,119.7 L269.3,120.5 L268.9,120.6 L264.7,122.8 L264.4,123.1 L264.2,123.5 L264.2,123.9 L264.4,124.3 L264.7,124.6Z" fill="#f6c089" stroke="#e39c58" stroke-width="1.3"/>
<path d="M276.6,124.4 L276.9,124.4 L281.8,124.8 L281.8,124.8 L286.9,125.1 L286.9,125.1 L292.0,125.3 L292.0,125.3 L297.1,125.4 L297.1,125.4 L302.2,125.5 L302.2,125.5 L307.3,125.6 L307.3,125.6 L312.4,125.6 L312.4,125.6 L317.5,125.6 L317.5,125.6 L322.6,125.5 L322.6,125.5 L327.7,125.4 L327.7,125.4 L332.8,125.2 L332.8,125.2 L337.7,124.9 L338.0,124.8 L341.4,123.9 L341.6,123.8 L341.8,123.7 L341.8,123.5 L341.6,123.3 L341.4,123.2 L338.0,122.3 L337.7,122.2 L332.8,121.9 L332.8,121.9 L327.7,121.6 L327.7,121.6 L322.6,121.4 L322.6,121.4 L317.5,121.2 L317.5,121.2 L312.4,121.1 L312.4,121.1 L307.3,121.1 L307.3,121.1 L302.2,121.1 L302.2,121.1 L297.1,121.1 L297.1,121.1 L292.0,121.2 L292.0,121.2 L286.9,121.3 L286.9,121.3 L281.8,121.5 L281.8,121.5 L276.9,121.8 L276.6,121.8 L273.2,122.7 L273.0,122.8 L272.8,123.0 L272.8,123.2 L273.0,123.3 L273.2,123.4Z" fill="#f8cd9e" opacity="0.7"/>
<ellipse cx="307.9" cy="124.3" rx="9" ry="3.3" fill="#f5d0ba" stroke="none" stroke-width="1"/>
<ellipse cx="306.9" cy="123.1" rx="5.0" ry="1.2" fill="#ffffff" opacity="0.25"/>
<path d="M359.0,128.9 L359.4,129.0 L366.3,130.0 L366.3,130.0 L373.5,130.8 L373.5,130.8 L380.7,131.2 L380.7,131.3 L387.9,131.6 L387.9,131.6 L395.0,131.8 L395.1,131.8 L402.2,131.9 L402.2,131.9 L409.4,131.8 L409.4,131.8 L416.6,131.6 L416.6,131.6 L423.8,131.3 L423.8,131.3 L430.9,130.8 L431.0,130.8 L438.1,130.1 L438.2,130.1 L445.1,129.1 L445.4,129.0 L450.6,126.0 L450.9,125.7 L451.1,125.3 L451.1,124.9 L450.9,124.5 L450.6,124.2 L445.4,121.2 L445.1,121.1 L438.2,120.1 L438.1,120.1 L431.0,119.3 L430.9,119.3 L423.8,118.8 L423.8,118.8 L416.6,118.5 L416.6,118.5 L409.4,118.3 L409.4,118.3 L402.2,118.2 L402.2,118.2 L395.1,118.3 L395.0,118.3 L387.9,118.5 L387.9,118.5 L380.7,118.8 L380.7,118.8 L373.5,119.3 L373.5,119.3 L366.3,120.0 L366.3,120.0 L359.4,121.0 L359.0,121.1 L353.8,124.1 L353.5,124.4 L353.3,124.8 L353.3,125.2 L353.5,125.6 L353.8,125.9Z" fill="#f6c089" stroke="#e39c58" stroke-width="1.3"/>
<path d="M367.7,125.6 L367.9,125.6 L373.5,126.0 L373.5,126.0 L379.2,126.3 L379.3,126.3 L385.0,126.5 L385.0,126.5 L390.7,126.7 L390.7,126.7 L396.5,126.7 L396.5,126.7 L402.2,126.8 L402.2,126.8 L408.0,126.7 L408.0,126.7 L413.7,126.7 L413.7,126.7 L419.5,126.6 L419.5,126.5 L425.2,126.4 L425.2,126.4 L430.9,126.1 L431.0,126.1 L436.5,125.7 L436.8,125.6 L441.0,124.4 L441.2,124.3 L441.3,124.2 L441.3,124.0 L441.2,123.8 L441.0,123.7 L436.8,122.5 L436.5,122.5 L431.0,122.1 L430.9,122.1 L425.2,121.8 L425.2,121.8 L419.5,121.6 L419.5,121.6 L413.7,121.4 L413.7,121.4 L408.0,121.4 L408.0,121.4 L402.2,121.3 L402.2,121.3 L396.5,121.3 L396.5,121.3 L390.7,121.4 L390.7,121.4 L385.0,121.5 L385.0,121.5 L379.3,121.7 L379.2,121.7 L373.5,122.0 L373.5,122.0 L367.9,122.4 L367.7,122.5 L363.5,123.7 L363.3,123.8 L363.1,123.9 L363.1,124.1 L363.3,124.3 L363.5,124.4Z" fill="#f8cd9e" opacity="0.7"/>
<ellipse cx="402.0" cy="125.0" rx="9" ry="3.3" fill="#f5d0ba" stroke="none" stroke-width="1"/>
<ellipse cx="401.0" cy="123.8" rx="5.0" ry="1.2" fill="#ffffff" opacity="0.25"/>
<path d="M459.3,128.6 L459.6,128.7 L466.2,129.6 L466.3,129.6 L473.0,130.2 L473.1,130.2 L479.9,130.6 L479.9,130.6 L486.7,130.8 L486.7,130.8 L493.5,131.0 L493.5,131.0 L500.4,131.0 L500.4,131.0 L507.2,130.9 L507.2,130.9 L514.0,130.7 L514.0,130.7 L520.8,130.3 L520.9,130.3 L527.7,129.8 L527.7,129.8 L534.5,129.1 L534.5,129.1 L541.1,128.1 L541.5,128.0 L546.2,125.3 L546.5,125.0 L546.7,124.7 L546.7,124.2 L546.5,123.9 L546.2,123.6 L541.5,121.0 L541.1,120.9 L534.5,120.0 L534.5,119.9 L527.7,119.4 L527.7,119.4 L520.9,119.0 L520.8,119.0 L514.0,118.7 L514.0,118.7 L507.2,118.6 L507.2,118.6 L500.4,118.6 L500.4,118.6 L493.5,118.7 L493.5,118.7 L486.7,118.9 L486.7,118.9 L479.9,119.2 L479.9,119.2 L473.1,119.7 L473.0,119.7 L466.3,120.4 L466.2,120.4 L459.6,121.4 L459.3,121.6 L454.5,124.2 L454.2,124.5 L454.0,124.9 L454.0,125.3 L454.2,125.7 L454.5,126.0Z" fill="#f6c089" stroke="#e39c58" stroke-width="1.3"/>
<path d="M467.5,125.3 L467.8,125.3 L473.0,125.7 L473.1,125.7 L478.5,125.9 L478.5,125.9 L484.0,126.1 L484.0,126.1 L489.4,126.2 L489.4,126.2 L494.9,126.3 L494.9,126.3 L500.4,126.3 L500.4,126.3 L505.8,126.2 L505.8,126.2 L511.3,126.1 L511.3,126.1 L516.8,126.0 L516.8,126.0 L522.2,125.8 L522.2,125.8 L527.7,125.5 L527.7,125.5 L533.0,125.1 L533.2,125.1 L537.0,124.0 L537.3,123.9 L537.4,123.7 L537.4,123.6 L537.3,123.4 L537.0,123.3 L533.2,122.3 L533.0,122.2 L527.7,121.8 L527.7,121.8 L522.2,121.6 L522.2,121.6 L516.8,121.4 L516.8,121.4 L511.3,121.3 L511.3,121.3 L505.8,121.3 L505.8,121.3 L500.4,121.3 L500.4,121.3 L494.9,121.3 L494.9,121.3 L489.5,121.4 L489.4,121.4 L484.0,121.6 L484.0,121.6 L478.5,121.8 L478.5,121.8 L473.1,122.0 L473.0,122.0 L467.8,122.4 L467.5,122.5 L463.7,123.6 L463.4,123.7 L463.3,123.8 L463.3,124.0 L463.4,124.1 L463.7,124.3Z" fill="#f8cd9e" opacity="0.7"/>
<ellipse cx="501.5" cy="124.8" rx="9" ry="3.3" fill="#f5d0ba" stroke="none" stroke-width="1"/>
<ellipse cx="500.5" cy="123.6" rx="5.0" ry="1.2" fill="#ffffff" opacity="0.25"/>
<path d="M554.6,127.5 L554.9,127.6 L561.2,128.2 L561.2,128.2 L567.7,128.6 L567.7,128.6 L574.2,128.8 L574.2,128.8 L580.7,128.9 L580.7,128.9 L587.2,128.8 L587.2,128.8 L593.7,128.6 L593.7,128.6 L600.2,128.3 L600.2,128.3 L606.7,127.9 L606.7,127.9 L613.2,127.4 L613.2,127.4 L619.7,126.8 L619.7,126.8 L626.2,125.9 L626.2,125.9 L632.5,124.8 L632.8,124.7 L637.2,122.1 L637.5,121.9 L637.7,121.5 L637.7,121.0 L637.5,120.7 L637.2,120.4 L632.8,118.2 L632.5,118.1 L626.2,117.4 L626.2,117.4 L619.7,117.0 L619.7,117.0 L613.2,116.9 L613.2,116.9 L606.7,116.8 L606.7,116.8 L600.2,116.9 L600.2,116.9 L593.7,117.0 L593.7,117.0 L587.2,117.3 L587.2,117.3 L580.7,117.7 L580.7,117.7 L574.2,118.2 L574.2,118.2 L567.7,118.9 L567.7,118.9 L561.3,119.7 L561.2,119.7 L554.9,120.8 L554.6,121.0 L550.2,123.5 L549.9,123.8 L549.7,124.2 L549.7,124.6 L549.9,125.0 L550.3,125.3Z" fill="#f6c089" stroke="#e39c58" stroke-width="1.3"/>
<path d="M562.4,123.7 L562.7,123.7 L567.7,124.0 L567.7,124.0 L572.9,124.1 L572.9,124.1 L578.1,124.2 L578.1,124.2 L583.3,124.2 L583.3,124.2 L588.5,124.2 L588.5,124.2 L593.7,124.1 L593.7,124.1 L598.9,124.0 L598.9,124.0 L604.1,123.9 L604.1,123.9 L609.3,123.7 L609.3,123.7 L614.5,123.4 L614.5,123.4 L619.7,123.1 L619.7,123.1 L624.7,122.6 L625.0,122.6 L628.5,121.6 L628.8,121.4 L628.9,121.3 L628.9,121.1 L628.7,121.0 L628.5,120.9 L625.0,120.0 L624.7,119.9 L619.7,119.7 L619.7,119.7 L614.5,119.5 L614.5,119.5 L609.3,119.4 L609.3,119.4 L604.1,119.4 L604.1,119.4 L598.9,119.4 L598.9,119.4 L593.7,119.5 L593.7,119.5 L588.5,119.6 L588.5,119.6 L583.3,119.8 L583.3,119.8 L578.1,120.0 L578.1,120.0 L572.9,120.2 L572.9,120.2 L567.8,120.6 L567.7,120.6 L562.7,121.0 L562.4,121.1 L558.9,122.1 L558.7,122.2 L558.5,122.4 L558.5,122.5 L558.7,122.7 L559.0,122.8Z" fill="#f8cd9e" opacity="0.7"/>
<ellipse cx="591.7" cy="122.8" rx="9" ry="3.3" fill="#f5d0ba" stroke="none" stroke-width="1"/>
<ellipse cx="590.7" cy="121.6" rx="5.0" ry="1.2" fill="#ffffff" opacity="0.25"/>
<path d="M158.1,138.2 L158.1,138.2 L165.9,138.2 L165.9,138.2 L173.7,138.1 L173.7,138.1 L181.5,137.8 L181.5,137.8 L189.3,137.5 L189.3,137.5 L197.1,137.0 L197.2,137.0 L204.9,136.3 L205.0,136.3 L212.6,135.3 L212.9,135.2 L218.3,132.6 L218.6,132.4 L218.8,132.0 L218.8,131.7 L218.8,131.3 L218.6,131.0 L218.3,130.8 L212.9,128.2 L212.6,128.1 L205.0,127.2 L204.9,127.2 L197.2,126.6 L197.1,126.6 L189.3,126.2 L189.3,126.2 L181.5,126.0 L181.5,126.0 L173.7,125.8 L173.7,125.8 L165.9,125.8 L165.9,125.8 L158.1,125.9 L158.1,125.9 L156.7,126.0 L156.3,126.0 L156.0,126.3 L155.8,126.6 L155.7,126.9 L155.4,137.1 L155.5,137.5 L155.7,137.8 L156.0,138.0 L156.4,138.1Z" fill="#f6c089" stroke="#e39c58" stroke-width="1.3"/>
<path d="M163.1,133.4 L163.2,133.4 L169.4,133.4 L169.4,133.4 L175.6,133.4 L175.7,133.4 L181.9,133.3 L181.9,133.3 L188.1,133.1 L188.2,133.1 L194.4,132.9 L194.4,132.9 L200.6,132.7 L200.7,132.7 L206.8,132.3 L207.0,132.2 L211.3,131.2 L211.6,131.1 L211.7,131.0 L211.8,130.8 L211.7,130.7 L211.6,130.5 L211.3,130.4 L207.0,129.4 L206.8,129.4 L200.7,129.0 L200.6,129.0 L194.4,128.8 L194.4,128.8 L188.2,128.6 L188.2,128.6 L181.9,128.5 L181.9,128.5 L175.7,128.5 L175.6,128.5 L169.4,128.5 L169.4,128.5 L163.2,128.5 L163.1,128.5 L162.0,128.5 L161.8,128.6 L161.5,128.6 L161.3,128.8 L161.3,128.9 L161.0,133.0 L161.1,133.1 L161.2,133.3 L161.5,133.4 L161.8,133.4Z" fill="#f8cd9e" opacity="0.7"/>
<ellipse cx="185.5" cy="131.9" rx="9" ry="3.3" fill="#f5d0ba" stroke="none" stroke-width="1"/>
<ellipse cx="184.5" cy="130.7" rx="5.0" ry="1.2" fill="#ffffff" opacity="0.25"/>
<path d="M226.4,135.2 L226.8,135.3 L232.3,136.4 L232.4,136.4 L238.2,137.1 L238.3,137.1 L244.1,137.6 L244.1,137.6 L249.9,138.0 L250.0,138.0 L255.8,138.3 L255.8,138.3 L261.7,138.4 L261.7,138.4 L267.5,138.4 L267.6,138.4 L273.4,138.4 L273.4,138.4 L279.3,138.1 L279.3,138.1 L285.1,137.8 L285.1,137.8 L291.0,137.2 L291.0,137.2 L296.6,136.4 L297.0,136.2 L301.0,133.7 L301.3,133.4 L301.5,133.1 L301.5,132.7 L301.3,132.3 L301.1,132.0 L297.0,129.4 L296.6,129.2 L291.0,128.2 L291.0,128.2 L285.1,127.5 L285.1,127.5 L279.3,126.9 L279.3,126.9 L273.4,126.6 L273.4,126.6 L267.6,126.3 L267.5,126.3 L261.7,126.2 L261.7,126.2 L255.8,126.1 L255.8,126.1 L250.0,126.2 L249.9,126.2 L244.1,126.4 L244.1,126.4 L238.2,126.8 L238.2,126.8 L232.4,127.3 L232.3,127.3 L226.8,128.2 L226.4,128.3 L222.3,130.8 L222.0,131.1 L221.9,131.5 L221.9,131.9 L222.0,132.2 L222.3,132.5Z" fill="#f6c089" stroke="#e39c58" stroke-width="1.3"/>
<path d="M233.4,132.4 L233.7,132.5 L238.2,132.9 L238.3,132.9 L242.9,133.2 L242.9,133.2 L247.6,133.4 L247.6,133.4 L252.3,133.6 L252.3,133.6 L257.0,133.7 L257.0,133.7 L261.7,133.7 L261.7,133.7 L266.4,133.7 L266.4,133.7 L271.1,133.7 L271.1,133.7 L275.7,133.6 L275.8,133.6 L280.4,133.5 L280.5,133.5 L285.1,133.3 L285.2,133.3 L289.6,132.9 L289.9,132.9 L293.2,131.9 L293.4,131.7 L293.5,131.6 L293.5,131.4 L293.4,131.3 L293.2,131.2 L289.9,130.1 L289.6,130.1 L285.1,129.6 L285.1,129.6 L280.5,129.4 L280.4,129.4 L275.8,129.1 L275.7,129.1 L271.1,129.0 L271.1,129.0 L266.4,128.9 L266.4,128.9 L261.7,128.8 L261.7,128.8 L257.0,128.8 L257.0,128.8 L252.3,128.8 L252.3,128.8 L247.6,128.9 L247.6,128.9 L242.9,129.1 L242.9,129.1 L238.3,129.3 L238.2,129.3 L233.7,129.6 L233.4,129.7 L230.2,130.7 L230.0,130.8 L229.8,131.0 L229.8,131.1 L229.9,131.3 L230.2,131.4Z" fill="#f8cd9e" opacity="0.7"/>
<ellipse cx="265.3" cy="132.3" rx="9" ry="3.3" fill="#f5d0ba" stroke="none" stroke-width="1"/>
<ellipse cx="264.3" cy="131.1" rx="5.0" ry="1.2" fill="#ffffff" opacity="0.25"/>
<path d="M369.9,139.7 L370.1,139.7 L374.2,139.1 L374.6,138.9 L378.4,136.4 L378.7,136.1 L378.8,135.8 L378.8,135.4 L378.7,135.0 L378.4,134.8 L374.5,131.9 L374.2,131.8 L368.9,130.6 L368.9,130.6 L363.4,129.8 L363.4,129.8 L357.9,129.1 L357.9,129.1 L352.4,128.6 L352.4,128.6 L346.9,128.3 L346.9,128.3 L341.4,128.0 L341.3,128.0 L335.9,127.9 L335.8,127.9 L330.3,127.8 L330.3,127.8 L324.8,127.9 L324.8,127.9 L319.3,128.2 L319.3,128.2 L313.8,128.7 L313.8,128.7 L308.6,129.4 L308.2,129.6 L304.3,132.1 L304.0,132.4 L303.9,132.7 L303.9,133.1 L304.0,133.5 L304.3,133.8 L308.2,136.6 L308.6,136.8 L313.8,137.9 L313.8,137.9 L319.3,138.8 L319.3,138.8 L324.8,139.4 L324.8,139.4 L330.3,139.9 L330.4,139.9 L335.8,140.3 L335.9,140.3 L341.4,140.5 L341.4,140.5 L342.1,140.5 L342.1,140.5 L345.0,140.5 L360.0,140.0 L365.0,139.9Z" fill="#f6c089" stroke="#e39c58" stroke-width="1.3"/>
<path d="M364.2,135.4 L364.3,135.4 L367.6,135.1 L367.9,135.1 L371.0,134.1 L371.2,134.0 L371.3,133.8 L371.3,133.7 L371.2,133.5 L371.0,133.4 L367.9,132.3 L367.6,132.2 L363.4,131.8 L363.3,131.8 L359.0,131.4 L358.9,131.4 L354.6,131.2 L354.5,131.2 L350.1,131.0 L350.1,131.0 L345.7,130.8 L345.7,130.8 L341.3,130.7 L341.3,130.7 L336.9,130.7 L336.9,130.7 L332.5,130.6 L332.5,130.6 L328.1,130.7 L328.1,130.7 L323.7,130.8 L323.7,130.8 L319.3,131.0 L319.3,131.0 L315.1,131.3 L314.8,131.3 L311.7,132.4 L311.5,132.5 L311.3,132.6 L311.3,132.8 L311.4,132.9 L311.7,133.0 L314.8,134.1 L315.1,134.2 L319.3,134.7 L319.3,134.7 L323.7,135.0 L323.7,135.0 L328.1,135.3 L328.1,135.3 L332.5,135.5 L332.5,135.5 L336.9,135.6 L336.9,135.6 L341.3,135.7 L341.3,135.7 L341.9,135.7 L341.9,135.7 L344.2,135.7 L356.2,135.5 L360.2,135.5Z" fill="#f8cd9e" opacity="0.7"/>
<ellipse cx="347.8" cy="134.2" rx="9" ry="3.3" fill="#f5d0ba" stroke="none" stroke-width="1"/>
<ellipse cx="346.8" cy="133.0" rx="5.0" ry="1.2" fill="#ffffff" opacity="0.25"/>
<path d="M474.6,139.5 L474.9,139.4 L480.1,136.5 L480.4,136.3 L480.6,135.9 L480.6,135.5 L480.4,135.1 L480.1,134.8 L474.9,131.9 L474.6,131.8 L467.5,130.8 L467.5,130.8 L460.2,130.1 L460.2,130.1 L452.9,129.6 L452.9,129.6 L445.6,129.3 L445.6,129.3 L438.3,129.1 L438.3,129.1 L431.0,129.0 L431.0,129.0 L423.8,129.1 L423.7,129.1 L416.5,129.3 L416.4,129.3 L409.2,129.6 L409.2,129.6 L401.9,130.1 L401.9,130.1 L394.6,130.8 L394.6,130.8 L387.5,131.8 L387.2,131.9 L382.0,134.8 L381.7,135.0 L381.5,135.4 L381.5,135.8 L381.7,136.2 L382.0,136.5 L386.6,139.1 L387.1,139.2 L390.0,139.1 L400.0,138.8 L405.0,138.9 L410.0,138.9 L415.0,139.0 L420.0,139.0 L430.0,139.1 L435.0,139.2 L440.0,139.2 L445.0,139.3 L455.0,139.4 L460.0,139.4 L465.0,139.5 L470.0,139.5 L474.3,139.5 L474.5,139.5Z" fill="#f6c089" stroke="#e39c58" stroke-width="1.3"/>
<path d="M466.0,135.5 L466.2,135.5 L470.4,134.4 L470.6,134.2 L470.8,134.1 L470.8,133.9 L470.6,133.8 L470.4,133.6 L466.2,132.5 L466.0,132.5 L460.3,132.0 L460.3,132.0 L454.5,131.8 L454.5,131.8 L448.6,131.6 L448.6,131.6 L442.8,131.5 L442.8,131.5 L437.0,131.4 L437.0,131.4 L431.1,131.4 L431.1,131.4 L425.3,131.4 L425.3,131.4 L419.5,131.4 L419.5,131.4 L413.6,131.6 L413.6,131.6 L407.8,131.8 L407.8,131.8 L402.0,132.0 L401.9,132.0 L396.3,132.4 L396.0,132.5 L391.9,133.6 L391.6,133.7 L391.5,133.9 L391.5,134.1 L391.6,134.2 L391.9,134.3 L395.6,135.4 L396.0,135.4 L398.3,135.4 L406.3,135.3 L410.3,135.3 L414.3,135.3 L418.3,135.3 L422.3,135.3 L430.3,135.4 L434.3,135.4 L438.3,135.4 L442.3,135.4 L450.3,135.5 L454.3,135.5 L458.3,135.5 L462.3,135.5 L465.8,135.5 L465.9,135.5Z" fill="#f8cd9e" opacity="0.7"/>
<ellipse cx="428.4" cy="134.6" rx="9" ry="3.3" fill="#f5d0ba" stroke="none" stroke-width="1"/>
<ellipse cx="427.4" cy="133.4" rx="5.0" ry="1.2" fill="#ffffff" opacity="0.25"/>
<path d="M505.1,140.6 L505.1,140.6 L510.8,140.7 L510.9,140.7 L516.6,140.8 L516.6,140.8 L522.3,140.7 L522.3,140.7 L528.1,140.6 L528.1,140.6 L533.8,140.3 L533.8,140.3 L539.6,139.9 L539.6,139.9 L545.3,139.3 L545.3,139.3 L551.0,138.6 L551.1,138.6 L556.6,137.6 L556.9,137.4 L560.9,134.9 L561.1,134.6 L561.3,134.3 L561.3,133.9 L561.1,133.5 L560.8,133.2 L556.9,130.9 L556.6,130.7 L551.1,130.0 L551.0,129.9 L545.3,129.5 L545.3,129.5 L539.6,129.1 L539.6,129.1 L533.8,129.0 L533.8,129.0 L528.1,128.9 L528.1,128.9 L522.4,129.0 L522.3,129.0 L516.6,129.2 L516.6,129.2 L510.9,129.4 L510.8,129.4 L505.1,129.8 L505.1,129.8 L499.4,130.4 L499.4,130.4 L493.7,131.1 L493.6,131.1 L488.1,132.1 L487.8,132.3 L483.8,134.8 L483.5,135.1 L483.4,135.5 L483.4,135.9 L483.6,136.2 L483.9,136.5 L487.7,138.8 L488.1,139.0 L493.3,139.7 L493.5,139.7 L495.0,139.8 L500.0,139.8 L503.3,140.5 L503.5,140.5Z" fill="#f6c089" stroke="#e39c58" stroke-width="1.3"/>
<path d="M508.6,136.1 L508.6,136.1 L513.2,136.2 L513.2,136.2 L517.8,136.2 L517.8,136.2 L522.3,136.2 L522.4,136.2 L526.9,136.1 L527.0,136.1 L531.5,136.0 L531.6,136.0 L536.1,135.9 L536.2,135.9 L540.7,135.6 L540.8,135.6 L545.3,135.3 L545.4,135.3 L549.7,134.9 L550.0,134.9 L553.2,133.9 L553.4,133.8 L553.5,133.6 L553.5,133.5 L553.4,133.3 L553.1,133.2 L550.0,132.3 L549.7,132.2 L545.4,131.9 L545.3,131.9 L540.8,131.7 L540.7,131.7 L536.2,131.6 L536.1,131.6 L531.6,131.5 L531.5,131.5 L527.0,131.5 L527.0,131.5 L522.4,131.5 L522.4,131.5 L517.8,131.6 L517.8,131.6 L513.2,131.7 L513.2,131.7 L508.6,131.8 L508.6,131.8 L504.0,132.1 L504.0,132.1 L499.4,132.3 L499.4,132.4 L495.0,132.8 L494.7,132.8 L491.5,133.8 L491.3,133.9 L491.2,134.1 L491.2,134.2 L491.3,134.4 L491.6,134.5 L494.7,135.4 L495.0,135.5 L499.1,135.8 L499.2,135.8 L500.5,135.8 L504.5,135.8 L507.2,136.1 L507.3,136.1Z" fill="#f8cd9e" opacity="0.7"/>
<ellipse cx="521.6" cy="134.8" rx="9" ry="3.3" fill="#f5d0ba" stroke="none" stroke-width="1"/>
<ellipse cx="520.6" cy="133.6" rx="5.0" ry="1.2" fill="#ffffff" opacity="0.25"/>
<path d="M636.7,125.3 L636.7,125.3 L629.3,125.3 L629.2,125.3 L621.9,125.4 L621.8,125.4 L614.5,125.6 L614.4,125.6 L607.1,125.9 L607.0,125.9 L599.6,126.4 L599.6,126.4 L592.2,127.0 L592.2,127.0 L584.8,127.7 L584.8,127.7 L577.5,128.7 L577.4,128.7 L570.2,130.0 L569.9,130.1 L564.6,133.1 L564.3,133.4 L564.1,133.8 L564.2,134.2 L564.3,134.6 L564.7,134.9 L569.9,137.5 L570.2,137.6 L577.4,138.3 L577.4,138.3 L584.8,138.7 L584.8,138.7 L592.2,138.9 L592.2,138.9 L599.6,138.9 L599.6,138.9 L607.0,138.8 L607.0,138.8 L614.4,138.6 L614.4,138.6 L621.8,138.3 L621.8,138.3 L629.2,137.8 L629.3,137.8 L636.6,137.2 L636.7,137.2 L638.9,137.0 L639.3,136.9 L639.5,136.7 L639.7,136.4 L639.8,136.0 L639.8,126.3 L639.7,126.0 L639.5,125.7 L639.2,125.4 L638.8,125.4Z" fill="#f6c089" stroke="#e39c58" stroke-width="1.3"/>
<path d="M630.4,128.6 L630.4,128.6 L624.5,128.6 L624.5,128.6 L618.6,128.6 L618.6,128.6 L612.7,128.7 L612.6,128.7 L606.7,128.8 L606.7,128.8 L600.8,129.0 L600.8,129.0 L594.9,129.2 L594.9,129.2 L589.0,129.5 L588.9,129.5 L583.1,129.9 L583.0,129.9 L577.3,130.4 L577.0,130.5 L572.8,131.7 L572.5,131.8 L572.4,132.0 L572.4,132.1 L572.6,132.3 L572.8,132.4 L577.0,133.4 L577.3,133.5 L583.0,133.8 L583.0,133.8 L588.9,133.9 L589.0,133.9 L594.9,134.0 L594.9,134.0 L600.8,134.0 L600.8,134.0 L606.7,134.0 L606.7,134.0 L612.6,133.9 L612.6,133.9 L618.6,133.8 L618.6,133.8 L624.5,133.6 L624.5,133.6 L630.4,133.4 L630.4,133.4 L632.2,133.3 L632.5,133.2 L632.7,133.1 L632.9,133.0 L632.9,132.9 L632.9,129.0 L632.9,128.9 L632.7,128.7 L632.4,128.6 L632.2,128.6Z" fill="#f8cd9e" opacity="0.7"/>
<ellipse cx="610.7" cy="132.4" rx="9" ry="3.3" fill="#f5d0ba" stroke="none" stroke-width="1"/>
<ellipse cx="609.7" cy="131.2" rx="5.0" ry="1.2" fill="#ffffff" opacity="0.25"/>
<path d="M188.8,141.8 L188.4,142.0 L188.2,142.3 L188.0,142.7 L188.1,143.1 L188.3,143.5 L188.6,143.7 L189.0,143.8 L215.0,143.8 L215.0,143.8 L220.0,143.7 L220.0,143.7 L245.0,143.1 L250.0,143.0 L254.0,142.9 L254.4,142.8 L254.7,142.6 L254.9,142.3 L255.0,142.0 L255.0,141.6 L254.8,141.3 L254.5,141.0 L252.0,139.5 L251.6,139.4 L246.4,138.7 L246.4,138.7 L241.0,138.4 L240.9,138.4 L235.5,138.2 L235.5,138.2 L230.1,138.2 L230.1,138.2 L224.6,138.2 L224.6,138.3 L219.2,138.4 L219.2,138.4 L213.7,138.7 L213.7,138.7 L208.3,139.1 L208.3,139.1 L202.9,139.7 L202.8,139.7 L197.4,140.3 L197.4,140.3 L192.0,141.1 L192.0,141.2Z" fill="#f6c089" stroke="#e39c58" stroke-width="1.3"/>
<path d="M195.6,140.5 L195.3,140.5 L195.1,140.7 L195.0,140.8 L195.0,141.0 L195.2,141.1 L195.5,141.2 L195.8,141.3 L216.6,141.3 L216.6,141.3 L220.6,141.2 L220.6,141.2 L240.6,141.0 L244.6,140.9 L247.8,140.9 L248.1,140.9 L248.3,140.8 L248.5,140.7 L248.6,140.5 L248.5,140.4 L248.4,140.3 L248.2,140.2 L246.1,139.5 L245.8,139.5 L241.7,139.2 L241.7,139.2 L237.3,139.1 L237.3,139.1 L233.0,139.0 L233.0,139.0 L228.6,139.0 L228.6,139.0 L224.3,139.0 L224.3,139.0 L219.9,139.1 L219.9,139.1 L215.6,139.2 L215.6,139.2 L211.2,139.4 L211.2,139.4 L206.9,139.6 L206.8,139.6 L202.5,139.9 L202.5,139.9 L198.2,140.2 L198.1,140.2Z" fill="#f8cd9e" opacity="0.7"/>
<path d="M259.6,140.9 L259.4,141.3 L259.3,141.7 L259.3,142.1 L259.5,142.4 L259.9,142.7 L260.3,142.7 L300.0,141.8 L300.0,141.8 L310.0,141.5 L315.0,141.4 L328.8,140.9 L329.2,140.8 L329.5,140.6 L329.7,140.2 L329.7,139.8 L329.6,139.4 L329.3,139.1 L328.9,139.0 L323.9,137.9 L323.8,137.9 L318.3,137.1 L318.3,137.1 L312.8,136.6 L312.8,136.6 L307.2,136.2 L307.2,136.2 L301.7,136.0 L301.7,136.0 L296.2,135.9 L296.1,135.9 L290.6,135.9 L290.6,135.9 L285.1,136.0 L285.0,136.0 L279.5,136.3 L279.5,136.3 L274.0,136.8 L273.9,136.8 L268.5,137.4 L268.4,137.4 L263.2,138.4 L262.7,138.6Z" fill="#f6c089" stroke="#e39c58" stroke-width="1.3"/>
<path d="M266.3,139.0 L266.0,139.1 L265.9,139.2 L266.0,139.4 L266.2,139.6 L266.4,139.7 L266.8,139.7 L298.5,139.3 L298.5,139.3 L306.5,139.2 L310.5,139.1 L321.5,139.0 L321.9,138.9 L322.1,138.8 L322.3,138.7 L322.3,138.5 L322.2,138.4 L322.0,138.2 L321.7,138.2 L317.7,137.8 L317.6,137.7 L313.2,137.4 L313.2,137.4 L308.8,137.2 L308.8,137.2 L304.3,137.1 L304.3,137.1 L299.9,137.0 L299.9,137.0 L295.5,136.9 L295.5,136.9 L291.0,136.9 L291.0,136.9 L286.6,137.0 L286.6,137.0 L282.2,137.1 L282.1,137.1 L277.7,137.3 L277.7,137.3 L273.3,137.6 L273.3,137.6 L269.1,138.0 L268.7,138.0Z" fill="#f8cd9e" opacity="0.7"/>
<path d="M464.5,137.4 L464.2,137.5 L463.9,137.8 L463.7,138.1 L463.6,138.5 L463.7,138.8 L463.9,139.2 L464.2,139.4 L464.6,139.4 L465.0,139.5 L470.0,139.5 L480.0,139.6 L485.0,139.7 L490.0,139.7 L495.0,139.8 L500.0,139.8 L515.0,142.8 L515.7,142.9 L516.0,142.9 L516.4,142.8 L517.1,142.4 L517.4,142.1 L517.5,141.7 L517.5,141.3 L517.3,140.9 L517.0,140.7 L512.3,138.2 L512.0,138.1 L505.5,137.3 L505.4,137.3 L498.7,137.0 L498.7,137.0 L491.9,136.8 L491.9,136.8 L485.2,136.8 L485.1,136.8 L478.4,136.9 L478.4,136.9 L471.6,137.1 L471.6,137.1 L464.9,137.4 L464.9,137.4Z" fill="#f6c089" stroke="#e39c58" stroke-width="1.3"/>
<path d="M470.2,137.3 L469.9,137.3 L469.6,137.4 L469.5,137.5 L469.4,137.7 L469.5,137.8 L469.7,138.0 L469.9,138.1 L470.2,138.1 L470.5,138.1 L474.5,138.1 L482.5,138.1 L486.5,138.2 L490.5,138.2 L494.5,138.2 L498.6,138.2 L510.6,139.4 L511.1,139.5 L511.4,139.5 L511.7,139.4 L512.2,139.3 L512.4,139.1 L512.6,139.0 L512.6,138.8 L512.4,138.7 L512.2,138.6 L508.4,137.6 L508.1,137.5 L502.9,137.2 L502.9,137.2 L497.5,137.1 L497.5,137.1 L492.1,137.0 L492.1,137.0 L486.7,137.0 L486.7,137.0 L481.3,137.1 L481.3,137.1 L475.9,137.1 L475.9,137.1 L470.5,137.3 L470.4,137.3Z" fill="#f8cd9e" opacity="0.7"/>
<path d="M535.7,146.6 L535.7,146.6 L541.2,147.0 L541.3,147.0 L546.8,147.3 L546.8,147.3 L552.4,147.5 L552.4,147.5 L557.9,147.6 L557.9,147.6 L563.5,147.5 L563.5,147.5 L569.0,147.3 L569.1,147.3 L574.6,147.1 L574.6,147.1 L580.1,146.6 L580.2,146.6 L585.7,146.0 L585.8,146.0 L591.0,145.1 L591.4,144.9 L595.3,142.4 L595.5,142.1 L595.7,141.7 L595.7,141.3 L595.5,141.0 L595.3,140.7 L591.4,138.1 L591.0,138.0 L585.8,137.1 L585.7,137.0 L580.2,136.4 L580.1,136.4 L574.6,136.0 L574.6,136.0 L569.1,135.7 L569.0,135.7 L563.5,135.5 L563.5,135.5 L557.9,135.4 L557.9,135.4 L552.4,135.5 L552.4,135.5 L546.8,135.7 L546.8,135.7 L541.3,135.9 L541.2,135.9 L535.7,136.4 L535.7,136.4 L530.2,137.0 L530.1,137.0 L524.8,137.9 L524.4,138.1 L520.6,140.6 L520.3,140.9 L520.2,141.3 L520.2,141.7 L520.3,142.0 L520.6,142.3 L523.9,144.5 L524.2,144.6 L530.0,145.8 L531.5,146.1 L531.6,146.1Z" fill="#f6c089" stroke="#e39c58" stroke-width="1.3"/>
<path d="M540.1,142.5 L540.2,142.5 L544.6,142.7 L544.6,142.7 L549.0,142.8 L549.0,142.8 L553.5,142.9 L553.5,142.9 L557.9,142.9 L557.9,142.9 L562.4,142.9 L562.4,142.9 L566.8,142.8 L566.8,142.8 L571.3,142.7 L571.3,142.7 L575.7,142.5 L575.7,142.5 L580.1,142.3 L580.2,142.3 L584.4,141.9 L584.7,141.9 L587.8,140.8 L588.0,140.7 L588.2,140.6 L588.2,140.4 L588.0,140.3 L587.8,140.2 L584.7,139.1 L584.4,139.1 L580.2,138.7 L580.1,138.7 L575.7,138.5 L575.7,138.5 L571.3,138.3 L571.3,138.3 L566.8,138.2 L566.8,138.2 L562.4,138.1 L562.4,138.1 L557.9,138.1 L557.9,138.1 L553.5,138.1 L553.5,138.1 L549.0,138.2 L549.0,138.2 L544.6,138.3 L544.6,138.3 L540.2,138.4 L540.1,138.4 L535.7,138.7 L535.7,138.7 L531.4,139.1 L531.1,139.1 L528.1,140.1 L527.8,140.3 L527.7,140.4 L527.7,140.6 L527.8,140.7 L528.1,140.8 L530.7,141.7 L531.0,141.8 L535.6,142.2 L536.8,142.3 L536.9,142.3Z" fill="#f8cd9e" opacity="0.7"/>
<ellipse cx="551.4" cy="141.5" rx="9" ry="3.3" fill="#f5d0ba" stroke="none" stroke-width="1"/>
<ellipse cx="550.4" cy="140.3" rx="5.0" ry="1.2" fill="#ffffff" opacity="0.25"/>
<path d="M153.9,155.9 L154.0,155.9 L158.9,156.8 L158.9,156.8 L163.9,157.5 L163.9,157.5 L168.8,157.9 L168.9,157.9 L173.8,158.1 L173.9,158.1 L178.8,158.1 L178.9,158.1 L183.8,157.8 L183.8,157.8 L188.8,157.3 L188.8,157.3 L193.7,156.5 L193.8,156.4 L198.7,155.3 L198.8,155.3 L203.5,153.8 L203.8,153.6 L207.5,150.4 L207.7,150.1 L207.8,149.7 L207.8,149.3 L207.5,148.9 L203.8,145.6 L203.5,145.4 L200.5,144.4 L200.1,144.3 L151.4,144.3 L151.0,144.4 L150.6,144.6 L150.4,145.0 L150.4,145.4 L150.8,154.4 L151.0,154.8 L151.2,155.1 L151.6,155.3Z" fill="#f7cfa4" stroke="#d08f5a" stroke-width="1.15"/>
<path d="M158.1,151.5 L158.2,151.5 L162.2,151.9 L162.3,151.9 L166.3,152.2 L166.3,152.2 L170.4,152.4 L170.4,152.4 L174.5,152.5 L174.5,152.5 L178.6,152.5 L178.6,152.5 L182.6,152.4 L182.7,152.4 L186.7,152.1 L186.8,152.1 L190.8,151.8 L190.9,151.8 L194.9,151.3 L195.0,151.2 L198.8,150.5 L199.1,150.5 L202.1,149.0 L202.3,148.9 L202.4,148.7 L202.3,148.5 L202.1,148.4 L199.1,146.9 L198.8,146.8 L196.3,146.3 L196.0,146.3 L156.1,146.3 L155.7,146.3 L155.5,146.4 L155.3,146.6 L155.2,146.8 L155.6,150.8 L155.7,151.0 L155.9,151.1 L156.2,151.2Z" fill="#fadcbc" opacity="0.9"/>
<circle cx="172.3" cy="148.3" r="0.9" fill="#d58048"/>
<circle cx="179.0" cy="153.9" r="0.9" fill="#d58048"/>
<circle cx="195.7" cy="152.2" r="0.9" fill="#d58048"/>
<circle cx="167.4" cy="149.0" r="0.9" fill="#d58048"/>
<circle cx="153.3" cy="150.1" r="0.9" fill="#d58048"/>
<circle cx="164.0" cy="153.5" r="0.9" fill="#d58048"/>
<circle cx="176.7" cy="149.6" r="0.9" fill="#d58048"/>
<circle cx="172.9" cy="155.0" r="0.9" fill="#d58048"/>
<circle cx="160.1" cy="150.6" r="0.9" fill="#d58048"/>
<circle cx="187.4" cy="149.5" r="0.9" fill="#d58048"/>
<circle cx="185.5" cy="155.2" r="0.9" fill="#d58048"/>
<ellipse cx="170.4" cy="150.1" rx="8.2" ry="3.8" fill="#bfabe6" stroke="#8f78c6" stroke-width="1"/>
<ellipse cx="169.4" cy="148.9" rx="4.5" ry="1.3" fill="#ffffff" opacity="0.25"/>
<path d="M215.3,145.5 L215.0,145.6 L210.5,148.9 L210.2,149.1 L210.1,149.5 L210.1,149.9 L210.2,150.2 L210.5,150.5 L215.0,153.8 L215.3,153.9 L221.2,155.6 L221.3,155.7 L227.4,156.9 L227.5,156.9 L233.6,157.8 L233.6,157.8 L239.7,158.5 L239.8,158.5 L245.9,158.9 L246.0,158.9 L252.1,159.0 L252.1,159.0 L258.3,158.9 L258.3,158.9 L264.4,158.6 L264.5,158.6 L270.6,158.0 L270.7,158.0 L276.8,157.2 L276.8,157.2 L282.9,156.0 L283.0,156.0 L288.9,154.3 L289.2,154.2 L293.8,150.9 L294.0,150.7 L294.2,150.3 L294.2,149.9 L294.0,149.6 L293.8,149.3 L289.2,146.0 L288.9,145.9 L283.0,144.1 L282.9,144.1 L276.8,142.9 L276.8,142.9 L276.8,142.9 L276.6,142.9 L275.0,142.9 L250.0,143.5 L245.0,143.6 L220.0,144.2 L220.0,144.2 L219.7,144.2Z" fill="#f7cfa4" stroke="#d08f5a" stroke-width="1.15"/>
<path d="M222.0,146.8 L221.7,146.9 L218.0,148.3 L217.8,148.5 L217.7,148.6 L217.7,148.8 L217.8,148.9 L218.0,149.1 L221.8,150.5 L222.0,150.6 L226.9,151.4 L226.9,151.4 L231.9,152.0 L232.0,152.0 L237.0,152.4 L237.0,152.4 L242.0,152.7 L242.1,152.7 L247.1,152.8 L247.1,152.8 L252.2,152.9 L252.2,152.9 L257.2,152.9 L257.3,152.9 L262.3,152.7 L262.3,152.7 L267.4,152.5 L267.4,152.5 L272.4,152.1 L272.5,152.1 L277.5,151.5 L277.5,151.5 L282.4,150.8 L282.6,150.7 L286.3,149.3 L286.6,149.1 L286.7,149.0 L286.7,148.8 L286.6,148.7 L286.3,148.5 L282.6,147.1 L282.4,147.0 L277.5,146.2 L277.5,146.2 L272.5,145.6 L272.4,145.6 L272.4,145.6 L272.3,145.6 L271.0,145.6 L250.5,145.9 L246.4,146.0 L225.9,146.2 L225.9,146.2 L225.6,146.3Z" fill="#fadcbc" opacity="0.9"/>
<circle cx="242.5" cy="148.4" r="0.9" fill="#d58048"/>
<circle cx="247.9" cy="153.4" r="0.9" fill="#d58048"/>
<circle cx="287.8" cy="148.8" r="0.9" fill="#d58048"/>
<circle cx="254.6" cy="154.4" r="0.9" fill="#d58048"/>
<circle cx="216.6" cy="150.1" r="0.9" fill="#d58048"/>
<circle cx="272.0" cy="151.4" r="0.9" fill="#d58048"/>
<circle cx="235.2" cy="151.8" r="0.9" fill="#d58048"/>
<circle cx="257.7" cy="146.2" r="0.9" fill="#d58048"/>
<circle cx="232.2" cy="147.3" r="0.9" fill="#d58048"/>
<circle cx="276.0" cy="154.8" r="0.9" fill="#d58048"/>
<circle cx="262.7" cy="149.1" r="0.9" fill="#d58048"/>
<circle cx="264.1" cy="156.5" r="0.9" fill="#d58048"/>
<circle cx="280.4" cy="147.6" r="0.9" fill="#d58048"/>
<circle cx="255.7" cy="149.9" r="0.9" fill="#d58048"/>
<circle cx="227.7" cy="151.2" r="0.9" fill="#d58048"/>
<circle cx="237.5" cy="156.0" r="0.9" fill="#d58048"/>
<circle cx="252.1" cy="147.5" r="0.9" fill="#d58048"/>
<ellipse cx="256.4" cy="150.1" rx="8.2" ry="3.8" fill="#bfabe6" stroke="#8f78c6" stroke-width="1"/>
<ellipse cx="255.4" cy="148.9" rx="4.5" ry="1.3" fill="#ffffff" opacity="0.25"/>
<path d="M315.1,142.0 L315.1,142.0 L310.3,143.1 L310.2,143.1 L305.4,144.4 L305.3,144.4 L300.6,146.2 L300.3,146.3 L296.9,149.3 L296.6,149.6 L296.5,149.9 L296.5,150.3 L296.7,150.6 L296.9,150.8 L300.3,153.3 L300.6,153.5 L305.3,154.7 L305.3,154.7 L310.2,155.4 L310.2,155.5 L315.1,155.9 L315.1,155.9 L320.0,156.2 L320.0,156.2 L324.9,156.2 L324.9,156.2 L329.8,156.0 L329.8,156.0 L334.7,155.7 L334.7,155.7 L339.6,155.1 L339.6,155.1 L344.5,154.2 L344.5,154.2 L349.4,153.2 L349.4,153.2 L354.3,151.8 L354.3,151.8 L359.0,150.1 L359.3,149.9 L362.8,147.0 L363.0,146.7 L363.1,146.3 L363.1,146.0 L363.0,145.7 L362.7,145.4 L359.3,142.9 L359.0,142.8 L354.4,141.6 L354.3,141.6 L349.7,140.8 L349.5,140.8 L345.0,140.9 L340.0,141.1 L335.0,141.2 L320.0,141.7 L316.3,141.8 L316.2,141.8Z" fill="#f7cfa4" stroke="#d08f5a" stroke-width="1.15"/>
<path d="M317.8,144.0 L317.7,144.0 L313.8,144.5 L313.7,144.5 L309.7,145.1 L309.7,145.1 L305.9,145.9 L305.6,146.0 L302.8,147.3 L302.6,147.4 L302.5,147.6 L302.5,147.7 L302.6,147.9 L302.8,148.0 L305.6,149.1 L305.9,149.2 L309.7,149.7 L309.7,149.7 L313.7,150.1 L313.7,150.1 L317.7,150.3 L317.7,150.3 L321.7,150.4 L321.8,150.4 L325.7,150.4 L325.8,150.4 L329.8,150.3 L329.8,150.3 L333.8,150.2 L333.8,150.2 L337.8,149.9 L337.8,149.9 L341.8,149.5 L341.9,149.5 L345.8,149.0 L345.9,149.0 L349.8,148.4 L349.9,148.4 L353.7,147.6 L354.0,147.6 L356.8,146.2 L357.0,146.1 L357.1,146.0 L357.1,145.8 L357.0,145.7 L356.8,145.5 L354.0,144.4 L353.7,144.4 L349.9,143.8 L349.9,143.8 L346.1,143.5 L345.9,143.5 L342.3,143.5 L338.2,143.6 L334.1,143.7 L321.8,143.9 L318.7,143.9 L318.6,143.9Z" fill="#fadcbc" opacity="0.9"/>
<circle cx="313.6" cy="148.1" r="0.9" fill="#d58048"/>
<circle cx="347.0" cy="150.1" r="0.9" fill="#d58048"/>
<circle cx="342.8" cy="152.0" r="0.9" fill="#d58048"/>
<circle cx="302.5" cy="147.7" r="0.9" fill="#d58048"/>
<circle cx="307.4" cy="151.6" r="0.9" fill="#d58048"/>
<circle cx="318.9" cy="149.9" r="0.9" fill="#d58048"/>
<circle cx="339.1" cy="148.3" r="0.9" fill="#d58048"/>
<circle cx="324.5" cy="147.2" r="0.9" fill="#d58048"/>
<circle cx="359.4" cy="145.6" r="0.9" fill="#d58048"/>
<circle cx="324.5" cy="153.7" r="0.9" fill="#d58048"/>
<circle cx="349.5" cy="143.3" r="0.9" fill="#d58048"/>
<circle cx="332.2" cy="148.2" r="0.9" fill="#d58048"/>
<ellipse cx="323.6" cy="147.9" rx="8.2" ry="3.8" fill="#bfabe6" stroke="#8f78c6" stroke-width="1"/>
<ellipse cx="322.6" cy="146.7" rx="4.5" ry="1.3" fill="#ffffff" opacity="0.25"/>
<path d="M379.4,140.2 L379.3,140.2 L374.4,141.2 L374.3,141.2 L369.6,142.6 L369.2,142.7 L365.7,145.4 L365.5,145.6 L365.4,146.0 L365.4,146.3 L365.5,146.7 L365.7,146.9 L369.3,149.8 L369.6,149.9 L374.3,151.5 L374.4,151.5 L379.4,152.7 L379.4,152.7 L384.4,153.6 L384.4,153.6 L389.4,154.3 L389.5,154.3 L394.4,154.7 L394.5,154.7 L399.5,154.9 L399.5,154.9 L404.5,154.9 L404.5,154.9 L409.5,154.7 L409.6,154.7 L414.5,154.3 L414.6,154.3 L419.5,153.6 L419.6,153.6 L424.5,152.7 L424.6,152.7 L429.4,151.3 L429.7,151.2 L433.2,148.5 L433.5,148.2 L433.6,147.9 L433.6,147.5 L433.5,147.2 L433.2,146.9 L429.7,144.1 L429.4,143.9 L424.6,142.4 L424.5,142.3 L419.6,141.2 L419.5,141.1 L414.6,140.3 L414.5,140.2 L409.5,139.6 L409.5,139.6 L406.9,139.4 L406.8,139.4 L405.0,139.3 L400.0,139.3 L400.0,139.3 L390.0,139.6 L385.0,139.7 L382.4,139.8 L382.3,139.8Z" fill="#f7cfa4" stroke="#d08f5a" stroke-width="1.15"/>
<path d="M383.0,142.5 L383.0,142.5 L378.9,142.9 L378.9,142.9 L375.0,143.5 L374.7,143.6 L371.8,144.8 L371.6,144.9 L371.5,145.0 L371.5,145.2 L371.6,145.4 L371.8,145.5 L374.7,146.8 L375.0,146.8 L378.9,147.5 L378.9,147.5 L383.0,148.1 L383.0,148.1 L387.1,148.5 L387.2,148.5 L391.2,148.8 L391.3,148.8 L395.4,149.0 L395.4,149.0 L399.5,149.1 L399.5,149.1 L403.6,149.1 L403.6,149.1 L407.7,149.0 L407.7,149.0 L411.8,148.8 L411.9,148.8 L415.9,148.5 L416.0,148.5 L420.0,148.1 L420.1,148.1 L424.0,147.4 L424.3,147.4 L427.1,146.2 L427.4,146.1 L427.5,145.9 L427.5,145.8 L427.4,145.6 L427.2,145.5 L424.3,144.2 L424.0,144.1 L420.1,143.4 L420.0,143.4 L416.0,142.9 L415.9,142.9 L411.9,142.5 L411.8,142.5 L407.7,142.2 L407.7,142.2 L405.6,142.1 L405.5,142.1 L404.0,142.1 L399.9,142.0 L399.9,142.0 L391.7,142.2 L387.6,142.2 L385.5,142.3 L385.4,142.3Z" fill="#fadcbc" opacity="0.9"/>
<circle cx="421.9" cy="149.5" r="0.9" fill="#d58048"/>
<circle cx="391.6" cy="149.4" r="0.9" fill="#d58048"/>
<circle cx="381.0" cy="143.6" r="0.9" fill="#d58048"/>
<circle cx="405.0" cy="150.9" r="0.9" fill="#d58048"/>
<circle cx="399.7" cy="146.1" r="0.9" fill="#d58048"/>
<circle cx="386.3" cy="150.8" r="0.9" fill="#d58048"/>
<circle cx="417.1" cy="146.2" r="0.9" fill="#d58048"/>
<circle cx="372.6" cy="146.5" r="0.9" fill="#d58048"/>
<circle cx="395.3" cy="151.9" r="0.9" fill="#d58048"/>
<circle cx="394.6" cy="144.0" r="0.9" fill="#d58048"/>
<circle cx="426.4" cy="150.1" r="0.9" fill="#d58048"/>
<circle cx="406.7" cy="145.0" r="0.9" fill="#d58048"/>
<circle cx="377.0" cy="146.0" r="0.9" fill="#d58048"/>
<ellipse cx="398.6" cy="146.5" rx="8.2" ry="3.8" fill="#bfabe6" stroke="#8f78c6" stroke-width="1"/>
<ellipse cx="397.6" cy="145.3" rx="4.5" ry="1.3" fill="#ffffff" opacity="0.25"/>
<path d="M453.2,140.4 L453.2,140.4 L447.1,141.7 L447.0,141.8 L441.2,143.5 L440.9,143.7 L436.4,146.9 L436.1,147.2 L436.0,147.5 L436.0,147.9 L436.2,148.3 L436.4,148.5 L440.8,151.6 L441.2,151.7 L447.0,153.3 L447.1,153.3 L453.2,154.3 L453.2,154.3 L459.3,155.1 L459.3,155.1 L465.4,155.6 L465.4,155.6 L471.5,155.8 L471.6,155.8 L477.6,155.8 L477.7,155.8 L483.8,155.6 L483.8,155.6 L489.9,155.1 L489.9,155.1 L496.0,154.4 L496.1,154.4 L502.1,153.4 L502.2,153.4 L508.2,152.1 L508.3,152.1 L514.2,150.3 L514.5,150.2 L518.9,146.9 L519.2,146.6 L519.3,146.3 L519.3,145.9 L519.2,145.6 L518.9,145.3 L516.6,143.7 L516.3,143.6 L514.9,143.3 L500.1,140.3 L499.9,140.3 L495.0,140.2 L490.0,140.2 L485.0,140.1 L480.0,140.1 L470.0,140.0 L465.0,139.9 L460.0,139.9 L456.8,139.9 L456.6,139.9Z" fill="#f7cfa4" stroke="#d08f5a" stroke-width="1.15"/>
<path d="M457.5,142.8 L457.4,142.8 L452.5,143.4 L452.4,143.4 L447.6,144.2 L447.4,144.3 L443.7,145.7 L443.5,145.9 L443.4,146.0 L443.4,146.2 L443.5,146.4 L443.7,146.5 L447.3,147.8 L447.6,147.9 L452.4,148.6 L452.5,148.6 L457.4,149.1 L457.5,149.1 L462.5,149.4 L462.5,149.4 L467.5,149.6 L467.5,149.6 L472.5,149.7 L472.5,149.7 L477.5,149.7 L477.5,149.7 L482.5,149.6 L482.6,149.6 L487.6,149.4 L487.6,149.4 L492.6,149.1 L492.6,149.1 L497.6,148.7 L497.6,148.7 L502.6,148.1 L502.7,148.1 L507.5,147.3 L507.7,147.2 L511.4,145.8 L511.6,145.6 L511.7,145.5 L511.7,145.3 L511.6,145.1 L511.4,145.0 L509.5,144.3 L509.2,144.2 L508.1,144.1 L495.9,142.8 L495.7,142.8 L491.7,142.7 L487.6,142.7 L483.5,142.7 L479.4,142.7 L471.2,142.6 L467.1,142.6 L463.0,142.6 L460.4,142.6 L460.3,142.6Z" fill="#fadcbc" opacity="0.9"/>
<circle cx="504.6" cy="143.5" r="0.9" fill="#d58048"/>
<circle cx="460.6" cy="152.9" r="0.9" fill="#d58048"/>
<circle cx="441.9" cy="148.4" r="0.9" fill="#d58048"/>
<circle cx="454.3" cy="150.5" r="0.9" fill="#d58048"/>
<circle cx="496.9" cy="146.4" r="0.9" fill="#d58048"/>
<circle cx="478.8" cy="147.4" r="0.9" fill="#d58048"/>
<circle cx="472.9" cy="142.3" r="0.9" fill="#d58048"/>
<circle cx="459.2" cy="147.0" r="0.9" fill="#d58048"/>
<circle cx="464.5" cy="143.2" r="0.9" fill="#d58048"/>
<circle cx="492.8" cy="147.2" r="0.9" fill="#d58048"/>
<circle cx="473.7" cy="153.8" r="0.9" fill="#d58048"/>
<circle cx="504.5" cy="147.9" r="0.9" fill="#d58048"/>
<circle cx="464.9" cy="147.9" r="0.9" fill="#d58048"/>
<circle cx="487.3" cy="146.3" r="0.9" fill="#d58048"/>
<circle cx="450.6" cy="147.0" r="0.9" fill="#d58048"/>
<circle cx="466.9" cy="152.4" r="0.9" fill="#d58048"/>
<circle cx="498.3" cy="151.5" r="0.9" fill="#d58048"/>
<ellipse cx="476.2" cy="147.0" rx="8.2" ry="3.8" fill="#bfabe6" stroke="#8f78c6" stroke-width="1"/>
<ellipse cx="475.2" cy="145.8" rx="4.5" ry="1.3" fill="#ffffff" opacity="0.25"/>
<path d="M522.5,145.2 L522.3,145.5 L522.1,145.9 L522.1,146.3 L522.3,146.6 L522.6,146.9 L526.8,149.4 L527.1,149.5 L533.0,150.8 L533.1,150.8 L539.2,151.6 L539.2,151.6 L545.3,152.2 L545.4,152.2 L551.5,152.6 L551.5,152.6 L557.7,152.7 L557.7,152.7 L563.8,152.6 L563.9,152.6 L570.0,152.3 L570.0,152.3 L576.2,151.8 L576.2,151.8 L581.7,151.2 L582.0,151.1 L582.3,150.9 L582.5,150.5 L582.6,150.2 L582.5,149.8 L582.3,149.5 L582.0,149.3 L581.6,149.2 L575.0,149.1 L570.0,149.0 L555.0,148.6 L550.0,148.5 L540.0,148.3 L524.9,145.3 L523.4,145.0 L523.0,145.0 L522.6,145.1Z" fill="#f7cfa4" stroke="#d08f5a" stroke-width="1.15"/>
<path d="M527.7,146.3 L527.5,146.4 L527.4,146.6 L527.4,146.8 L527.5,146.9 L527.8,147.0 L531.2,148.2 L531.4,148.2 L536.3,148.8 L536.3,148.8 L541.4,149.2 L541.4,149.2 L546.4,149.4 L546.4,149.4 L551.5,149.6 L551.5,149.6 L556.5,149.6 L556.6,149.6 L561.6,149.6 L561.6,149.6 L566.7,149.5 L566.7,149.5 L571.7,149.3 L571.7,149.3 L576.2,149.0 L576.5,148.9 L576.7,148.8 L576.9,148.7 L576.9,148.5 L576.9,148.3 L576.7,148.2 L576.4,148.1 L576.1,148.1 L570.7,148.0 L566.6,148.0 L554.3,147.8 L550.2,147.8 L542.0,147.7 L529.7,146.3 L528.4,146.2 L528.1,146.2 L527.8,146.2Z" fill="#fadcbc" opacity="0.9"/>
<path d="M185.8,166.0 L186.1,166.2 L190.9,168.3 L191.0,168.3 L196.0,169.9 L196.1,170.0 L201.1,171.3 L201.2,171.3 L206.2,172.3 L206.3,172.3 L211.3,173.1 L211.4,173.1 L216.4,173.6 L216.5,173.6 L221.5,173.9 L221.6,173.9 L226.6,173.9 L226.7,173.9 L231.7,173.7 L231.8,173.7 L236.8,173.2 L236.9,173.2 L241.9,172.4 L242.0,172.4 L246.8,171.1 L247.1,170.9 L250.9,167.9 L251.2,167.5 L251.3,167.1 L251.2,166.7 L251.0,166.4 L247.1,162.6 L246.8,162.4 L241.9,160.3 L241.8,160.3 L236.8,158.6 L236.8,158.6 L231.7,157.3 L231.7,157.3 L226.6,156.3 L226.6,156.3 L221.5,155.5 L221.5,155.5 L216.4,155.0 L216.4,155.0 L211.3,154.7 L211.3,154.7 L206.2,154.6 L206.2,154.6 L201.1,154.9 L201.1,154.9 L196.1,155.4 L196.0,155.4 L191.0,156.2 L190.9,156.2 L186.1,157.5 L185.7,157.7 L182.0,160.7 L181.7,161.0 L181.6,161.5 L181.7,161.9 L181.9,162.2Z" fill="#f7cfa4" stroke="#d08f5a" stroke-width="1.15"/>
<path d="M191.3,163.5 L191.6,163.6 L195.5,164.6 L195.6,164.6 L199.7,165.3 L199.8,165.3 L203.9,165.9 L203.9,165.9 L208.1,166.4 L208.1,166.4 L212.3,166.7 L212.3,166.7 L216.4,167.0 L216.5,167.0 L220.6,167.1 L220.7,167.1 L224.8,167.1 L224.8,167.1 L229.0,167.0 L229.0,167.0 L233.1,166.8 L233.2,166.8 L237.3,166.4 L237.4,166.4 L241.3,165.8 L241.6,165.8 L244.7,164.4 L244.9,164.2 L245.0,164.1 L244.9,163.9 L244.7,163.7 L241.6,162.0 L241.3,161.9 L237.3,161.0 L237.3,161.0 L233.2,160.2 L233.1,160.2 L229.0,159.7 L228.9,159.7 L224.8,159.2 L224.8,159.2 L220.6,158.8 L220.6,158.8 L216.4,158.6 L216.4,158.6 L212.3,158.5 L212.2,158.5 L208.1,158.5 L208.0,158.5 L203.9,158.5 L203.9,158.5 L199.7,158.8 L199.7,158.8 L195.6,159.1 L195.5,159.2 L191.6,159.7 L191.3,159.8 L188.2,161.2 L188.0,161.3 L187.9,161.5 L187.9,161.7 L188.1,161.9Z" fill="#fadcbc" opacity="0.9"/>
<circle cx="203.0" cy="159.7" r="0.9" fill="#d58048"/>
<circle cx="213.1" cy="164.9" r="0.9" fill="#d58048"/>
<circle cx="201.7" cy="165.0" r="0.9" fill="#d58048"/>
<circle cx="246.7" cy="165.6" r="0.9" fill="#d58048"/>
<circle cx="188.2" cy="161.8" r="0.9" fill="#d58048"/>
<circle cx="230.6" cy="165.6" r="0.9" fill="#d58048"/>
<circle cx="239.0" cy="162.1" r="0.9" fill="#d58048"/>
<circle cx="214.1" cy="157.9" r="0.9" fill="#d58048"/>
<circle cx="208.4" cy="169.6" r="0.9" fill="#d58048"/>
<circle cx="226.3" cy="168.9" r="0.9" fill="#d58048"/>
<circle cx="210.0" cy="157.2" r="0.9" fill="#d58048"/>
<circle cx="193.2" cy="160.5" r="0.9" fill="#d58048"/>
<circle cx="197.3" cy="158.7" r="0.9" fill="#d58048"/>
<circle cx="242.5" cy="164.9" r="0.9" fill="#d58048"/>
<circle cx="192.5" cy="165.2" r="0.9" fill="#d58048"/>
<circle cx="218.7" cy="168.1" r="0.9" fill="#d58048"/>
<ellipse cx="213.9" cy="163.8" rx="8.2" ry="3.8" fill="#bfabe6" stroke="#8f78c6" stroke-width="1"/>
<ellipse cx="212.9" cy="162.6" rx="4.5" ry="1.3" fill="#ffffff" opacity="0.25"/>
<path d="M258.4,170.5 L258.8,170.6 L264.8,171.7 L264.8,171.7 L271.0,172.4 L271.1,172.4 L277.3,172.8 L277.3,172.8 L283.5,172.9 L283.6,172.9 L289.8,172.8 L289.8,172.8 L296.1,172.4 L296.1,172.4 L302.3,171.8 L302.4,171.8 L308.6,171.0 L308.6,171.0 L314.8,170.0 L314.9,170.0 L321.1,168.7 L321.1,168.7 L327.3,167.1 L327.4,167.1 L333.4,165.1 L333.7,164.9 L338.2,161.6 L338.5,161.4 L338.6,161.0 L338.6,160.6 L338.4,160.2 L338.1,160.0 L333.8,157.4 L333.4,157.3 L327.4,156.2 L327.4,156.2 L321.2,155.5 L321.1,155.5 L314.9,155.1 L314.9,155.1 L308.7,155.0 L308.6,155.0 L302.4,155.1 L302.4,155.1 L296.1,155.5 L296.1,155.5 L289.9,156.1 L289.8,156.1 L283.6,156.8 L283.6,156.9 L277.4,157.9 L277.3,157.9 L271.1,159.2 L271.1,159.2 L264.9,160.8 L264.8,160.8 L258.8,162.8 L258.5,162.9 L254.0,166.2 L253.7,166.5 L253.6,166.9 L253.6,167.3 L253.8,167.6 L254.1,167.9Z" fill="#f7cfa4" stroke="#d08f5a" stroke-width="1.15"/>
<path d="M265.2,165.4 L265.5,165.4 L270.4,165.9 L270.5,165.9 L275.5,166.2 L275.6,166.3 L280.7,166.4 L280.7,166.4 L285.8,166.5 L285.8,166.5 L290.9,166.4 L291.0,166.4 L296.1,166.3 L296.1,166.3 L301.2,166.0 L301.2,166.0 L306.3,165.6 L306.4,165.6 L311.5,165.2 L311.5,165.2 L316.6,164.6 L316.6,164.6 L321.7,163.9 L321.8,163.9 L326.7,163.0 L326.9,162.9 L330.6,161.4 L330.8,161.3 L331.0,161.1 L330.9,160.9 L330.8,160.8 L330.6,160.7 L327.0,159.5 L326.7,159.5 L321.8,158.9 L321.7,158.9 L316.7,158.6 L316.6,158.6 L311.5,158.5 L311.5,158.5 L306.4,158.4 L306.4,158.4 L301.3,158.5 L301.2,158.5 L296.1,158.6 L296.1,158.6 L291.0,158.9 L291.0,158.9 L285.9,159.3 L285.8,159.3 L280.7,159.7 L280.7,159.7 L275.6,160.3 L275.6,160.3 L270.5,161.0 L270.4,161.0 L265.5,161.9 L265.3,162.0 L261.6,163.5 L261.4,163.6 L261.2,163.8 L261.3,164.0 L261.4,164.1 L261.6,164.2Z" fill="#fadcbc" opacity="0.9"/>
<circle cx="305.8" cy="158.6" r="0.9" fill="#d58048"/>
<circle cx="298.0" cy="159.3" r="0.9" fill="#d58048"/>
<circle cx="320.4" cy="158.4" r="0.9" fill="#d58048"/>
<circle cx="279.0" cy="164.7" r="0.9" fill="#d58048"/>
<circle cx="329.5" cy="160.6" r="0.9" fill="#d58048"/>
<circle cx="272.0" cy="162.1" r="0.9" fill="#d58048"/>
<circle cx="258.6" cy="167.2" r="0.9" fill="#d58048"/>
<circle cx="280.5" cy="160.0" r="0.9" fill="#d58048"/>
<circle cx="313.0" cy="163.5" r="0.9" fill="#d58048"/>
<circle cx="267.4" cy="165.3" r="0.9" fill="#d58048"/>
<circle cx="325.7" cy="165.1" r="0.9" fill="#d58048"/>
<circle cx="301.7" cy="169.3" r="0.9" fill="#d58048"/>
<circle cx="325.3" cy="160.1" r="0.9" fill="#d58048"/>
<circle cx="314.4" cy="158.8" r="0.9" fill="#d58048"/>
<circle cx="292.4" cy="159.5" r="0.9" fill="#d58048"/>
<circle cx="290.8" cy="167.7" r="0.9" fill="#d58048"/>
<circle cx="317.3" cy="165.3" r="0.9" fill="#d58048"/>
<circle cx="286.2" cy="168.8" r="0.9" fill="#d58048"/>
<ellipse cx="300.3" cy="163.4" rx="8.2" ry="3.8" fill="#bfabe6" stroke="#8f78c6" stroke-width="1"/>
<ellipse cx="299.3" cy="162.2" rx="4.5" ry="1.3" fill="#ffffff" opacity="0.25"/>
<path d="M345.6,164.9 L345.9,165.1 L351.2,166.9 L351.3,166.9 L356.8,168.3 L356.9,168.3 L362.4,169.3 L362.4,169.3 L368.0,170.1 L368.0,170.1 L373.5,170.6 L373.6,170.6 L379.1,170.8 L379.2,170.8 L384.7,170.9 L384.7,170.9 L390.3,170.7 L390.3,170.7 L395.9,170.2 L395.9,170.2 L401.4,169.5 L401.5,169.5 L407.0,168.4 L407.1,168.4 L412.4,166.9 L412.7,166.7 L416.8,163.6 L417.0,163.4 L417.2,163.0 L417.2,162.7 L417.0,162.3 L416.8,162.1 L412.7,158.7 L412.4,158.5 L407.1,156.7 L407.0,156.7 L401.5,155.3 L401.4,155.3 L395.9,154.3 L395.8,154.3 L390.3,153.5 L390.3,153.5 L384.7,153.0 L384.7,153.0 L379.1,152.7 L379.1,152.7 L373.6,152.7 L373.5,152.7 L368.0,152.9 L367.9,152.9 L362.4,153.4 L362.4,153.4 L356.8,154.1 L356.8,154.1 L351.3,155.2 L351.2,155.2 L345.9,156.7 L345.6,156.8 L341.5,160.0 L341.2,160.2 L341.1,160.6 L341.1,160.9 L341.2,161.3 L341.5,161.5Z" fill="#f7cfa4" stroke="#d08f5a" stroke-width="1.15"/>
<path d="M351.6,161.7 L351.9,161.8 L356.2,162.6 L356.3,162.6 L360.8,163.2 L360.9,163.2 L365.4,163.7 L365.4,163.7 L370.0,164.0 L370.0,164.0 L374.5,164.2 L374.6,164.2 L379.1,164.4 L379.2,164.4 L383.7,164.4 L383.7,164.4 L388.3,164.3 L388.3,164.3 L392.8,164.1 L392.9,164.1 L397.4,163.8 L397.5,163.8 L402.0,163.3 L402.0,163.3 L406.4,162.6 L406.7,162.5 L410.0,161.1 L410.2,161.0 L410.3,160.9 L410.3,160.7 L410.2,160.5 L410.0,160.4 L406.6,158.9 L406.4,158.8 L402.0,158.0 L402.0,158.0 L397.4,157.4 L397.4,157.4 L392.9,156.9 L392.8,156.9 L388.3,156.6 L388.3,156.6 L383.7,156.3 L383.7,156.3 L379.1,156.2 L379.1,156.2 L374.6,156.2 L374.5,156.2 L370.0,156.3 L370.0,156.3 L365.4,156.5 L365.4,156.5 L360.9,156.8 L360.8,156.8 L356.3,157.3 L356.2,157.3 L351.9,158.0 L351.6,158.1 L348.3,159.5 L348.1,159.6 L347.9,159.7 L347.9,159.9 L348.0,160.1 L348.2,160.2Z" fill="#fadcbc" opacity="0.9"/>
<circle cx="403.5" cy="160.8" r="0.9" fill="#d58048"/>
<circle cx="394.1" cy="166.4" r="0.9" fill="#d58048"/>
<circle cx="407.6" cy="161.9" r="0.9" fill="#d58048"/>
<circle cx="351.1" cy="163.8" r="0.9" fill="#d58048"/>
<circle cx="351.3" cy="158.8" r="0.9" fill="#d58048"/>
<circle cx="384.4" cy="161.8" r="0.9" fill="#d58048"/>
<circle cx="390.1" cy="167.6" r="0.9" fill="#d58048"/>
<circle cx="367.6" cy="166.4" r="0.9" fill="#d58048"/>
<circle cx="399.0" cy="164.4" r="0.9" fill="#d58048"/>
<circle cx="362.3" cy="167.1" r="0.9" fill="#d58048"/>
<circle cx="382.0" cy="157.4" r="0.9" fill="#d58048"/>
<circle cx="355.8" cy="161.2" r="0.9" fill="#d58048"/>
<circle cx="360.9" cy="161.5" r="0.9" fill="#d58048"/>
<circle cx="388.0" cy="156.3" r="0.9" fill="#d58048"/>
<circle cx="374.9" cy="163.1" r="0.9" fill="#d58048"/>
<circle cx="371.5" cy="159.6" r="0.9" fill="#d58048"/>
<circle cx="391.3" cy="161.3" r="0.9" fill="#d58048"/>
<ellipse cx="373.4" cy="161.3" rx="8.2" ry="3.8" fill="#bfabe6" stroke="#8f78c6" stroke-width="1"/>
<ellipse cx="372.4" cy="160.1" rx="4.5" ry="1.3" fill="#ffffff" opacity="0.25"/>
<path d="M424.8,166.2 L425.1,166.3 L431.4,167.4 L431.5,167.4 L437.9,168.1 L438.0,168.1 L444.5,168.4 L444.5,168.4 L451.0,168.5 L451.0,168.5 L457.5,168.4 L457.6,168.4 L464.1,168.0 L464.1,168.0 L470.6,167.3 L470.6,167.3 L477.1,166.5 L477.2,166.5 L483.7,165.4 L483.7,165.4 L490.2,164.1 L490.2,164.1 L496.7,162.4 L496.8,162.4 L503.1,160.3 L503.3,160.2 L508.1,156.7 L508.4,156.4 L508.5,156.1 L508.5,155.7 L508.3,155.3 L508.0,155.1 L503.4,152.5 L503.1,152.3 L496.8,151.2 L496.7,151.2 L490.3,150.6 L490.2,150.6 L483.7,150.2 L483.7,150.2 L477.2,150.1 L477.2,150.1 L470.7,150.3 L470.6,150.3 L464.1,150.7 L464.1,150.7 L457.6,151.3 L457.6,151.3 L451.1,152.2 L451.0,152.2 L444.5,153.2 L444.5,153.2 L438.0,154.6 L438.0,154.6 L431.5,156.3 L431.4,156.3 L425.1,158.4 L424.8,158.5 L420.1,161.9 L419.8,162.2 L419.7,162.6 L419.7,163.0 L419.9,163.3 L420.2,163.6Z" fill="#f7cfa4" stroke="#d08f5a" stroke-width="1.15"/>
<path d="M431.9,160.9 L432.1,161.0 L437.3,161.5 L437.3,161.5 L442.6,161.8 L442.7,161.8 L448.0,161.9 L448.0,161.9 L453.3,162.0 L453.4,162.0 L458.7,161.9 L458.7,161.9 L464.1,161.7 L464.1,161.7 L469.4,161.4 L469.4,161.4 L474.8,161.1 L474.8,161.1 L480.1,160.6 L480.2,160.6 L485.5,160.0 L485.5,160.0 L490.8,159.2 L490.9,159.2 L496.1,158.3 L496.3,158.2 L500.2,156.7 L500.4,156.5 L500.5,156.4 L500.5,156.2 L500.3,156.0 L500.1,155.9 L496.3,154.7 L496.1,154.7 L490.9,154.2 L490.9,154.2 L485.6,153.9 L485.5,153.9 L480.2,153.7 L480.2,153.7 L474.8,153.7 L474.8,153.7 L469.5,153.8 L469.5,153.8 L464.1,153.9 L464.1,153.9 L458.8,154.2 L458.7,154.2 L453.4,154.6 L453.4,154.6 L448.1,155.1 L448.0,155.1 L442.7,155.7 L442.7,155.7 L437.4,156.4 L437.3,156.5 L432.1,157.4 L431.9,157.5 L428.0,159.0 L427.8,159.1 L427.7,159.3 L427.7,159.5 L427.9,159.6 L428.1,159.8Z" fill="#fadcbc" opacity="0.9"/>
<circle cx="464.7" cy="159.3" r="0.9" fill="#d58048"/>
<circle cx="485.4" cy="153.2" r="0.9" fill="#d58048"/>
<circle cx="474.9" cy="161.1" r="0.9" fill="#d58048"/>
<circle cx="437.1" cy="162.8" r="0.9" fill="#d58048"/>
<circle cx="456.5" cy="158.4" r="0.9" fill="#d58048"/>
<circle cx="494.8" cy="157.2" r="0.9" fill="#d58048"/>
<circle cx="453.7" cy="161.3" r="0.9" fill="#d58048"/>
<circle cx="443.4" cy="156.5" r="0.9" fill="#d58048"/>
<circle cx="446.1" cy="159.6" r="0.9" fill="#d58048"/>
<circle cx="490.9" cy="160.8" r="0.9" fill="#d58048"/>
<circle cx="475.0" cy="155.6" r="0.9" fill="#d58048"/>
<circle cx="491.9" cy="153.3" r="0.9" fill="#d58048"/>
<circle cx="470.1" cy="158.3" r="0.9" fill="#d58048"/>
<circle cx="466.7" cy="163.0" r="0.9" fill="#d58048"/>
<circle cx="444.2" cy="165.5" r="0.9" fill="#d58048"/>
<circle cx="485.6" cy="160.7" r="0.9" fill="#d58048"/>
<circle cx="497.5" cy="153.9" r="0.9" fill="#d58048"/>
<circle cx="467.3" cy="152.9" r="0.9" fill="#d58048"/>
<circle cx="479.9" cy="154.9" r="0.9" fill="#d58048"/>
<ellipse cx="458.2" cy="158.8" rx="8.2" ry="3.8" fill="#bfabe6" stroke="#8f78c6" stroke-width="1"/>
<ellipse cx="457.2" cy="157.6" rx="4.5" ry="1.3" fill="#ffffff" opacity="0.25"/>
<path d="M548.9,148.5 L548.9,148.5 L542.4,148.6 L542.4,148.6 L536.0,149.0 L535.9,149.0 L529.5,149.6 L529.4,149.6 L523.0,150.6 L522.9,150.6 L516.7,152.0 L516.4,152.1 L511.7,155.0 L511.5,155.3 L511.3,155.6 L511.3,156.0 L511.4,156.4 L511.7,156.7 L516.4,159.9 L516.7,160.1 L522.9,161.9 L523.0,161.9 L529.4,163.3 L529.5,163.3 L535.9,164.4 L536.0,164.4 L542.4,165.2 L542.5,165.2 L548.9,165.8 L549.0,165.8 L555.4,166.1 L555.5,166.1 L561.9,166.2 L561.9,166.2 L568.4,166.1 L568.4,166.1 L574.9,165.8 L574.9,165.8 L581.4,165.1 L581.4,165.1 L587.8,164.2 L587.9,164.2 L594.2,162.8 L594.5,162.6 L599.1,159.8 L599.4,159.5 L599.5,159.1 L599.6,158.7 L599.4,158.4 L599.1,158.1 L594.4,154.8 L594.2,154.7 L587.9,152.8 L587.8,152.8 L581.4,151.4 L581.4,151.4 L574.9,150.4 L574.9,150.4 L568.4,149.5 L568.4,149.5 L561.9,149.0 L561.9,149.0 L555.6,148.6 L555.6,148.6 L555.0,148.6 L554.2,148.6 L554.2,148.6Z" fill="#f7cfa4" stroke="#d08f5a" stroke-width="1.15"/>
<path d="M550.1,151.9 L550.1,151.9 L544.8,151.9 L544.8,151.9 L539.5,152.1 L539.4,152.1 L534.1,152.4 L534.1,152.4 L528.8,152.8 L528.8,152.8 L523.7,153.5 L523.4,153.5 L519.6,154.8 L519.4,154.9 L519.2,155.1 L519.2,155.3 L519.4,155.4 L519.6,155.6 L523.4,157.0 L523.7,157.1 L528.8,157.9 L528.9,157.9 L534.1,158.5 L534.2,158.6 L539.4,159.0 L539.5,159.0 L544.8,159.4 L544.8,159.4 L550.1,159.7 L550.1,159.7 L555.4,159.8 L555.4,159.8 L560.7,159.9 L560.8,159.9 L566.1,159.8 L566.1,159.8 L571.4,159.6 L571.4,159.6 L576.7,159.4 L576.7,159.4 L582.0,158.9 L582.1,158.9 L587.2,158.3 L587.4,158.2 L591.2,156.9 L591.5,156.8 L591.6,156.7 L591.6,156.5 L591.5,156.3 L591.3,156.2 L587.4,154.7 L587.2,154.7 L582.1,153.8 L582.0,153.8 L576.7,153.2 L576.7,153.2 L571.4,152.7 L571.4,152.7 L566.1,152.4 L566.0,152.3 L560.8,152.1 L560.7,152.1 L555.6,151.9 L555.5,151.9 L555.1,151.9 L554.5,151.9 L554.4,151.9Z" fill="#fadcbc" opacity="0.9"/>
<circle cx="590.0" cy="160.4" r="0.9" fill="#d58048"/>
<circle cx="539.2" cy="157.8" r="0.9" fill="#d58048"/>
<circle cx="553.1" cy="155.8" r="0.9" fill="#d58048"/>
<circle cx="568.3" cy="154.8" r="0.9" fill="#d58048"/>
<circle cx="521.2" cy="155.0" r="0.9" fill="#d58048"/>
<circle cx="570.4" cy="161.7" r="0.9" fill="#d58048"/>
<circle cx="548.0" cy="150.6" r="0.9" fill="#d58048"/>
<circle cx="566.5" cy="159.1" r="0.9" fill="#d58048"/>
<circle cx="543.6" cy="157.8" r="0.9" fill="#d58048"/>
<circle cx="528.4" cy="151.8" r="0.9" fill="#d58048"/>
<circle cx="576.2" cy="156.1" r="0.9" fill="#d58048"/>
<circle cx="557.0" cy="155.1" r="0.9" fill="#d58048"/>
<circle cx="573.3" cy="152.6" r="0.9" fill="#d58048"/>
<circle cx="564.9" cy="152.2" r="0.9" fill="#d58048"/>
<circle cx="533.6" cy="157.5" r="0.9" fill="#d58048"/>
<circle cx="536.7" cy="151.5" r="0.9" fill="#d58048"/>
<circle cx="555.0" cy="151.3" r="0.9" fill="#d58048"/>
<circle cx="584.5" cy="161.1" r="0.9" fill="#d58048"/>
<circle cx="580.2" cy="154.7" r="0.9" fill="#d58048"/>
<ellipse cx="552.0" cy="156.9" rx="8.2" ry="3.8" fill="#bfabe6" stroke="#8f78c6" stroke-width="1"/>
<ellipse cx="551.0" cy="155.7" rx="4.5" ry="1.3" fill="#ffffff" opacity="0.25"/>
<path d="M157.8,185.8 L157.8,185.8 L164.9,186.3 L164.9,186.3 L172.0,186.5 L172.1,186.5 L179.2,186.5 L179.2,186.5 L186.3,186.2 L186.3,186.2 L193.4,185.7 L193.5,185.7 L200.6,184.9 L200.6,184.9 L207.7,183.8 L207.8,183.8 L214.7,182.3 L214.9,182.1 L220.1,179.1 L220.4,178.8 L220.6,178.4 L220.6,178.0 L220.4,177.6 L220.1,177.4 L214.9,174.1 L214.7,174.0 L207.7,172.2 L207.7,172.2 L200.6,170.9 L200.6,170.9 L193.5,169.9 L193.4,169.9 L186.3,169.2 L186.3,169.2 L179.2,168.8 L179.2,168.8 L172.1,168.6 L172.0,168.6 L164.9,168.6 L164.9,168.6 L157.8,168.8 L157.7,168.8 L152.6,169.2 L152.2,169.3 L151.9,169.5 L151.7,169.8 L151.7,170.2 L152.4,184.4 L152.5,184.8 L152.7,185.1 L153.0,185.3 L153.3,185.4Z" fill="#f7cfa4" stroke="#d08f5a" stroke-width="1.15"/>
<path d="M162.1,179.8 L162.1,179.8 L168.0,180.0 L168.0,180.0 L173.8,180.1 L173.8,180.1 L179.7,180.1 L179.7,180.1 L185.5,180.0 L185.5,180.0 L191.4,179.8 L191.4,179.8 L197.2,179.4 L197.3,179.4 L203.1,178.9 L203.1,178.9 L208.8,178.2 L209.0,178.2 L213.2,176.8 L213.5,176.7 L213.6,176.5 L213.6,176.3 L213.5,176.1 L213.2,176.0 L209.0,174.6 L208.8,174.5 L203.1,173.7 L203.0,173.7 L197.2,173.1 L197.2,173.1 L191.4,172.7 L191.4,172.7 L185.5,172.4 L185.5,172.4 L179.7,172.2 L179.7,172.2 L173.8,172.1 L173.8,172.1 L168.0,172.1 L168.0,172.1 L162.1,172.2 L162.1,172.2 L157.9,172.3 L157.6,172.4 L157.3,172.5 L157.2,172.6 L157.1,172.8 L157.7,179.2 L157.8,179.3 L158.0,179.5 L158.2,179.6 L158.5,179.6Z" fill="#fadcbc" opacity="0.9"/>
<circle cx="163.8" cy="170.7" r="0.9" fill="#d58048"/>
<circle cx="159.5" cy="171.6" r="0.9" fill="#d58048"/>
<circle cx="208.2" cy="178.2" r="0.9" fill="#d58048"/>
<circle cx="182.0" cy="171.7" r="0.9" fill="#d58048"/>
<circle cx="187.1" cy="183.7" r="0.9" fill="#d58048"/>
<circle cx="161.3" cy="183.7" r="0.9" fill="#d58048"/>
<circle cx="188.8" cy="175.4" r="0.9" fill="#d58048"/>
<circle cx="154.6" cy="181.1" r="0.9" fill="#d58048"/>
<circle cx="166.7" cy="175.9" r="0.9" fill="#d58048"/>
<circle cx="180.6" cy="181.1" r="0.9" fill="#d58048"/>
<circle cx="195.6" cy="174.9" r="0.9" fill="#d58048"/>
<circle cx="167.5" cy="182.5" r="0.9" fill="#d58048"/>
<circle cx="201.8" cy="179.8" r="0.9" fill="#d58048"/>
<circle cx="195.9" cy="182.7" r="0.9" fill="#d58048"/>
<circle cx="199.9" cy="176.2" r="0.9" fill="#d58048"/>
<circle cx="158.5" cy="178.8" r="0.9" fill="#d58048"/>
<ellipse cx="184.6" cy="177.1" rx="8.2" ry="3.8" fill="#bfabe6" stroke="#8f78c6" stroke-width="1"/>
<ellipse cx="183.6" cy="175.9" rx="4.5" ry="1.3" fill="#ffffff" opacity="0.25"/>
<path d="M229.0,181.6 L229.2,181.7 L235.9,182.9 L236.0,182.9 L242.8,183.8 L242.9,183.8 L249.7,184.3 L249.8,184.3 L256.6,184.6 L256.7,184.6 L263.6,184.6 L263.6,184.6 L270.5,184.5 L270.5,184.5 L277.4,184.1 L277.4,184.1 L284.3,183.6 L284.3,183.6 L291.2,182.8 L291.2,182.8 L298.1,181.7 L298.1,181.7 L305.0,180.4 L305.0,180.4 L311.7,178.6 L312.0,178.5 L316.8,175.6 L317.1,175.3 L317.3,174.9 L317.2,174.5 L317.1,174.1 L316.7,173.8 L312.0,171.3 L311.7,171.2 L305.1,170.0 L305.0,170.0 L298.1,169.1 L298.1,169.1 L291.2,168.6 L291.2,168.6 L284.3,168.3 L284.3,168.3 L277.4,168.3 L277.4,168.3 L270.5,168.4 L270.5,168.4 L263.6,168.8 L263.6,168.8 L256.7,169.3 L256.7,169.3 L249.8,170.1 L249.8,170.1 L242.9,171.2 L242.9,171.2 L236.0,172.5 L235.9,172.5 L229.2,174.3 L229.0,174.4 L224.2,177.3 L223.9,177.6 L223.7,178.0 L223.7,178.4 L223.9,178.8 L224.2,179.0Z" fill="#f7cfa4" stroke="#d08f5a" stroke-width="1.15"/>
<path d="M236.4,177.2 L236.7,177.3 L242.1,177.9 L242.2,177.9 L247.8,178.2 L247.8,178.2 L253.5,178.5 L253.5,178.5 L259.1,178.6 L259.2,178.6 L264.8,178.6 L264.8,178.6 L270.5,178.6 L270.5,178.6 L276.1,178.4 L276.2,178.4 L281.8,178.1 L281.8,178.1 L287.5,177.8 L287.5,177.8 L293.1,177.3 L293.1,177.3 L298.8,176.7 L298.8,176.7 L304.3,175.9 L304.5,175.9 L308.5,174.6 L308.7,174.4 L308.8,174.3 L308.8,174.1 L308.7,173.9 L308.4,173.8 L304.5,172.6 L304.3,172.6 L298.8,172.0 L298.8,172.0 L293.2,171.7 L293.1,171.7 L287.5,171.4 L287.5,171.4 L281.8,171.3 L281.8,171.3 L276.2,171.3 L276.1,171.3 L270.5,171.3 L270.5,171.3 L264.8,171.5 L264.8,171.5 L259.2,171.7 L259.2,171.7 L253.5,172.1 L253.5,172.1 L247.9,172.6 L247.8,172.6 L242.2,173.2 L242.2,173.2 L236.7,174.0 L236.5,174.0 L232.5,175.3 L232.3,175.5 L232.1,175.6 L232.1,175.8 L232.3,176.0 L232.6,176.1Z" fill="#fadcbc" opacity="0.9"/>
<circle cx="242.0" cy="174.3" r="0.9" fill="#d58048"/>
<circle cx="272.5" cy="172.7" r="0.9" fill="#d58048"/>
<circle cx="262.4" cy="180.9" r="0.9" fill="#d58048"/>
<circle cx="271.6" cy="178.4" r="0.9" fill="#d58048"/>
<circle cx="301.9" cy="173.9" r="0.9" fill="#d58048"/>
<circle cx="311.4" cy="175.3" r="0.9" fill="#d58048"/>
<circle cx="266.6" cy="171.9" r="0.9" fill="#d58048"/>
<circle cx="262.3" cy="176.8" r="0.9" fill="#d58048"/>
<circle cx="250.5" cy="179.8" r="0.9" fill="#d58048"/>
<circle cx="282.2" cy="174.4" r="0.9" fill="#d58048"/>
<circle cx="268.1" cy="182.5" r="0.9" fill="#d58048"/>
<circle cx="280.1" cy="178.5" r="0.9" fill="#d58048"/>
<circle cx="295.5" cy="178.0" r="0.9" fill="#d58048"/>
<circle cx="236.7" cy="179.6" r="0.9" fill="#d58048"/>
<circle cx="249.0" cy="175.5" r="0.9" fill="#d58048"/>
<circle cx="295.3" cy="172.7" r="0.9" fill="#d58048"/>
<circle cx="276.6" cy="174.3" r="0.9" fill="#d58048"/>
<circle cx="255.8" cy="178.5" r="0.9" fill="#d58048"/>
<circle cx="229.9" cy="178.7" r="0.9" fill="#d58048"/>
<ellipse cx="278.3" cy="175.9" rx="8.2" ry="3.8" fill="#bfabe6" stroke="#8f78c6" stroke-width="1"/>
<ellipse cx="277.3" cy="174.7" rx="4.5" ry="1.3" fill="#ffffff" opacity="0.25"/>
<path d="M324.2,178.5 L324.5,178.7 L329.5,180.3 L329.6,180.4 L334.8,181.6 L334.8,181.6 L340.1,182.6 L340.1,182.6 L345.3,183.3 L345.4,183.3 L350.6,183.8 L350.6,183.8 L355.9,184.1 L355.9,184.1 L361.1,184.1 L361.2,184.1 L366.4,184.0 L366.4,184.0 L371.7,183.6 L371.7,183.6 L376.9,182.9 L377.0,182.9 L382.2,182.0 L382.3,182.0 L387.3,180.6 L387.6,180.5 L391.3,177.7 L391.6,177.5 L391.7,177.1 L391.7,176.8 L391.6,176.4 L391.3,176.1 L387.6,173.1 L387.3,173.0 L382.2,171.3 L382.2,171.3 L377.0,170.0 L376.9,170.0 L371.7,169.0 L371.7,169.0 L366.4,168.3 L366.4,168.3 L361.2,167.8 L361.1,167.8 L355.9,167.6 L355.8,167.6 L350.6,167.5 L350.6,167.5 L345.4,167.7 L345.3,167.7 L340.1,168.0 L340.0,168.0 L334.8,168.7 L334.8,168.7 L329.6,169.6 L329.5,169.7 L324.5,171.0 L324.2,171.2 L320.4,173.9 L320.2,174.2 L320.1,174.5 L320.1,174.9 L320.2,175.2 L320.4,175.5Z" fill="#f7cfa4" stroke="#d08f5a" stroke-width="1.15"/>
<path d="M329.9,175.5 L330.1,175.6 L334.3,176.3 L334.3,176.4 L338.6,176.9 L338.6,176.9 L342.9,177.4 L342.9,177.4 L347.2,177.7 L347.3,177.7 L351.5,177.9 L351.6,177.9 L355.9,178.0 L355.9,178.0 L360.2,178.1 L360.2,178.1 L364.5,178.0 L364.5,178.0 L368.8,177.8 L368.9,177.8 L373.1,177.5 L373.2,177.5 L377.4,177.1 L377.5,177.1 L381.6,176.5 L381.9,176.4 L384.9,175.2 L385.1,175.1 L385.2,174.9 L385.3,174.7 L385.2,174.6 L385.0,174.5 L381.9,173.1 L381.6,173.0 L377.5,172.3 L377.4,172.3 L373.2,171.7 L373.1,171.7 L368.9,171.3 L368.8,171.3 L364.5,170.9 L364.5,170.9 L360.2,170.7 L360.2,170.7 L355.9,170.6 L355.9,170.6 L351.6,170.6 L351.5,170.6 L347.2,170.6 L347.2,170.6 L342.9,170.8 L342.9,170.8 L338.6,171.1 L338.6,171.1 L334.3,171.5 L334.2,171.5 L330.1,172.2 L329.9,172.2 L326.8,173.5 L326.6,173.6 L326.5,173.7 L326.5,173.9 L326.6,174.0 L326.8,174.2Z" fill="#fadcbc" opacity="0.9"/>
<circle cx="356.9" cy="178.8" r="0.9" fill="#d58048"/>
<circle cx="367.5" cy="180.3" r="0.9" fill="#d58048"/>
<circle cx="371.1" cy="171.7" r="0.9" fill="#d58048"/>
<circle cx="383.3" cy="177.6" r="0.9" fill="#d58048"/>
<circle cx="344.7" cy="171.5" r="0.9" fill="#d58048"/>
<circle cx="345.7" cy="177.3" r="0.9" fill="#d58048"/>
<circle cx="339.6" cy="180.2" r="0.9" fill="#d58048"/>
<circle cx="329.9" cy="175.5" r="0.9" fill="#d58048"/>
<circle cx="334.7" cy="178.0" r="0.9" fill="#d58048"/>
<circle cx="355.8" cy="173.0" r="0.9" fill="#d58048"/>
<circle cx="349.2" cy="175.0" r="0.9" fill="#d58048"/>
<circle cx="362.6" cy="174.6" r="0.9" fill="#d58048"/>
<circle cx="375.2" cy="180.8" r="0.9" fill="#d58048"/>
<circle cx="362.6" cy="180.0" r="0.9" fill="#d58048"/>
<circle cx="376.7" cy="173.7" r="0.9" fill="#d58048"/>
<ellipse cx="362.1" cy="175.3" rx="8.2" ry="3.8" fill="#bfabe6" stroke="#8f78c6" stroke-width="1"/>
<ellipse cx="361.1" cy="174.1" rx="4.5" ry="1.3" fill="#ffffff" opacity="0.25"/>
<path d="M398.2,181.1 L398.6,181.3 L403.7,183.0 L403.7,183.0 L409.0,184.3 L409.1,184.3 L414.4,185.2 L414.4,185.2 L419.8,185.8 L419.8,185.8 L425.1,186.2 L425.2,186.2 L430.5,186.4 L430.5,186.4 L435.9,186.3 L435.9,186.3 L441.2,185.9 L441.3,185.9 L446.6,185.3 L446.6,185.3 L451.9,184.5 L452.0,184.5 L457.3,183.3 L457.4,183.2 L462.5,181.6 L462.8,181.4 L466.8,178.1 L467.1,177.7 L467.1,177.3 L467.1,176.9 L466.8,176.5 L462.8,173.2 L462.5,173.0 L457.4,171.3 L457.3,171.3 L452.0,170.0 L451.9,170.0 L446.6,169.1 L446.6,169.1 L441.3,168.5 L441.2,168.5 L435.9,168.1 L435.9,168.1 L430.5,167.9 L430.5,167.9 L425.2,168.0 L425.1,168.0 L419.8,168.4 L419.8,168.4 L414.4,168.9 L414.4,169.0 L409.1,169.8 L409.0,169.8 L403.7,171.0 L403.7,171.1 L398.6,172.7 L398.2,172.9 L394.2,176.2 L394.0,176.6 L393.9,177.0 L394.0,177.4 L394.2,177.7Z" fill="#f7cfa4" stroke="#d08f5a" stroke-width="1.15"/>
<path d="M404.1,177.4 L404.3,177.5 L408.5,178.3 L408.6,178.3 L412.9,178.8 L412.9,178.9 L417.3,179.3 L417.3,179.3 L421.7,179.6 L421.7,179.6 L426.1,179.7 L426.1,179.7 L430.5,179.8 L430.5,179.8 L434.9,179.7 L434.9,179.7 L439.3,179.6 L439.3,179.6 L443.7,179.3 L443.7,179.3 L448.1,178.9 L448.1,178.9 L452.5,178.4 L452.5,178.4 L456.7,177.6 L457.0,177.6 L460.3,176.1 L460.5,175.9 L460.6,175.7 L460.5,175.5 L460.3,175.4 L457.0,173.9 L456.7,173.8 L452.5,173.0 L452.5,173.0 L448.1,172.4 L448.1,172.4 L443.7,172.0 L443.7,172.0 L439.3,171.7 L439.3,171.7 L434.9,171.6 L434.9,171.6 L430.5,171.5 L430.5,171.5 L426.1,171.5 L426.1,171.5 L421.7,171.7 L421.7,171.7 L417.3,172.0 L417.3,172.0 L412.9,172.3 L412.9,172.4 L408.6,172.9 L408.5,172.9 L404.3,173.7 L404.0,173.7 L400.8,175.2 L400.6,175.4 L400.5,175.6 L400.6,175.8 L400.8,175.9Z" fill="#fadcbc" opacity="0.9"/>
<circle cx="418.4" cy="173.9" r="0.9" fill="#d58048"/>
<circle cx="430.3" cy="182.0" r="0.9" fill="#d58048"/>
<circle cx="398.6" cy="175.7" r="0.9" fill="#d58048"/>
<circle cx="425.0" cy="181.7" r="0.9" fill="#d58048"/>
<circle cx="409.3" cy="181.2" r="0.9" fill="#d58048"/>
<circle cx="426.8" cy="172.2" r="0.9" fill="#d58048"/>
<circle cx="420.3" cy="179.2" r="0.9" fill="#d58048"/>
<circle cx="448.1" cy="176.8" r="0.9" fill="#d58048"/>
<circle cx="438.5" cy="181.6" r="0.9" fill="#d58048"/>
<circle cx="445.4" cy="172.8" r="0.9" fill="#d58048"/>
<circle cx="457.8" cy="177.1" r="0.9" fill="#d58048"/>
<circle cx="443.8" cy="180.5" r="0.9" fill="#d58048"/>
<circle cx="438.0" cy="176.9" r="0.9" fill="#d58048"/>
<circle cx="451.0" cy="179.6" r="0.9" fill="#d58048"/>
<circle cx="431.4" cy="170.0" r="0.9" fill="#d58048"/>
<circle cx="403.9" cy="180.9" r="0.9" fill="#d58048"/>
<circle cx="421.7" cy="171.0" r="0.9" fill="#d58048"/>
<ellipse cx="433.1" cy="176.6" rx="8.2" ry="3.8" fill="#bfabe6" stroke="#8f78c6" stroke-width="1"/>
<ellipse cx="432.1" cy="175.4" rx="4.5" ry="1.3" fill="#ffffff" opacity="0.25"/>
<path d="M474.9,180.9 L475.3,181.0 L481.8,182.3 L481.9,182.3 L488.6,183.0 L488.7,183.0 L495.4,183.5 L495.5,183.5 L502.2,183.6 L502.3,183.6 L509.0,183.5 L509.1,183.5 L515.9,183.1 L515.9,183.1 L522.7,182.6 L522.7,182.6 L529.5,181.7 L529.5,181.7 L536.3,180.7 L536.3,180.6 L543.1,179.3 L543.1,179.3 L549.9,177.6 L549.9,177.6 L556.5,175.4 L556.8,175.3 L561.8,171.7 L562.1,171.4 L562.2,171.0 L562.2,170.6 L562.0,170.3 L561.7,170.0 L556.8,167.2 L556.5,167.0 L550.0,165.8 L549.9,165.8 L543.2,165.0 L543.1,165.0 L536.3,164.6 L536.3,164.6 L529.5,164.5 L529.5,164.5 L522.7,164.6 L522.7,164.6 L515.9,164.9 L515.9,164.9 L509.1,165.5 L509.1,165.5 L502.3,166.3 L502.3,166.3 L495.5,167.4 L495.5,167.4 L488.7,168.8 L488.7,168.8 L481.9,170.5 L481.9,170.5 L475.3,172.6 L475.0,172.8 L470.0,176.4 L469.7,176.7 L469.6,177.1 L469.6,177.4 L469.8,177.8 L470.1,178.1Z" fill="#f7cfa4" stroke="#d08f5a" stroke-width="1.15"/>
<path d="M482.3,175.6 L482.6,175.7 L487.9,176.2 L488.0,176.2 L493.5,176.6 L493.6,176.6 L499.1,176.8 L499.1,176.8 L504.7,176.8 L504.7,176.8 L510.3,176.8 L510.3,176.8 L515.9,176.6 L515.9,176.6 L521.4,176.4 L521.5,176.4 L527.0,176.0 L527.0,176.0 L532.6,175.5 L532.6,175.5 L538.2,174.9 L538.2,174.9 L543.7,174.1 L543.8,174.1 L549.2,173.2 L549.4,173.1 L553.5,171.5 L553.8,171.3 L553.9,171.2 L553.9,171.0 L553.7,170.8 L553.5,170.7 L549.5,169.4 L549.2,169.4 L543.8,168.8 L543.8,168.8 L538.2,168.5 L538.2,168.5 L532.7,168.3 L532.6,168.3 L527.1,168.2 L527.1,168.2 L521.5,168.3 L521.5,168.3 L515.9,168.4 L515.9,168.4 L510.3,168.7 L510.3,168.7 L504.8,169.1 L504.7,169.1 L499.2,169.6 L499.1,169.6 L493.6,170.2 L493.6,170.2 L488.0,170.9 L488.0,170.9 L482.6,171.9 L482.4,172.0 L478.2,173.6 L478.0,173.7 L477.9,173.9 L477.9,174.1 L478.1,174.2 L478.3,174.3Z" fill="#fadcbc" opacity="0.9"/>
<circle cx="532.4" cy="176.3" r="0.9" fill="#d58048"/>
<circle cx="542.5" cy="170.0" r="0.9" fill="#d58048"/>
<circle cx="525.8" cy="179.7" r="0.9" fill="#d58048"/>
<circle cx="527.9" cy="167.8" r="0.9" fill="#d58048"/>
<circle cx="496.0" cy="170.4" r="0.9" fill="#d58048"/>
<circle cx="498.5" cy="177.6" r="0.9" fill="#d58048"/>
<circle cx="504.5" cy="168.4" r="0.9" fill="#d58048"/>
<circle cx="553.9" cy="172.7" r="0.9" fill="#d58048"/>
<circle cx="476.5" cy="175.9" r="0.9" fill="#d58048"/>
<circle cx="492.3" cy="174.1" r="0.9" fill="#d58048"/>
<circle cx="545.4" cy="173.9" r="0.9" fill="#d58048"/>
<circle cx="508.2" cy="181.0" r="0.9" fill="#d58048"/>
<circle cx="508.1" cy="176.6" r="0.9" fill="#d58048"/>
<circle cx="488.5" cy="180.5" r="0.9" fill="#d58048"/>
<circle cx="516.5" cy="167.7" r="0.9" fill="#d58048"/>
<circle cx="521.1" cy="178.4" r="0.9" fill="#d58048"/>
<circle cx="537.2" cy="174.2" r="0.9" fill="#d58048"/>
<circle cx="484.9" cy="177.4" r="0.9" fill="#d58048"/>
<circle cx="532.1" cy="167.1" r="0.9" fill="#d58048"/>
<circle cx="510.8" cy="171.5" r="0.9" fill="#d58048"/>
<circle cx="519.5" cy="174.3" r="0.9" fill="#d58048"/>
<ellipse cx="519.0" cy="173.5" rx="8.2" ry="3.8" fill="#bfabe6" stroke="#8f78c6" stroke-width="1"/>
<ellipse cx="518.0" cy="172.3" rx="4.5" ry="1.3" fill="#ffffff" opacity="0.25"/>
<path d="M568.7,173.8 L569.1,174.0 L573.9,175.1 L574.0,175.1 L579.0,175.8 L579.1,175.8 L584.2,176.3 L584.2,176.3 L589.3,176.5 L589.3,176.5 L594.4,176.5 L594.5,176.5 L599.6,176.3 L599.6,176.3 L604.7,175.9 L604.7,175.9 L609.8,175.3 L609.9,175.3 L615.0,174.4 L615.0,174.4 L620.1,173.4 L620.1,173.4 L625.2,172.0 L625.3,172.0 L630.2,170.3 L630.5,170.1 L634.0,167.3 L634.3,167.0 L634.4,166.6 L634.4,166.3 L634.2,165.9 L634.0,165.7 L630.5,163.3 L630.2,163.2 L625.3,162.1 L625.2,162.0 L620.2,161.3 L620.1,161.3 L615.0,160.9 L615.0,160.9 L609.9,160.7 L609.9,160.7 L604.8,160.7 L604.7,160.7 L599.6,160.9 L599.6,160.9 L594.5,161.3 L594.5,161.3 L589.4,161.9 L589.3,161.9 L584.3,162.7 L584.2,162.7 L579.1,163.8 L579.1,163.8 L574.0,165.1 L573.9,165.2 L569.1,166.9 L568.8,167.0 L565.2,169.9 L564.9,170.2 L564.8,170.5 L564.8,170.9 L565.0,171.2 L565.2,171.5Z" fill="#f7cfa4" stroke="#d08f5a" stroke-width="1.15"/>
<path d="M574.3,169.4 L574.6,169.5 L578.5,170.0 L578.6,170.0 L582.7,170.3 L582.8,170.4 L587.0,170.6 L587.0,170.6 L591.2,170.6 L591.2,170.6 L595.4,170.6 L595.4,170.6 L599.6,170.6 L599.6,170.5 L603.8,170.4 L603.8,170.4 L608.0,170.1 L608.0,170.1 L612.2,169.7 L612.2,169.7 L616.4,169.2 L616.4,169.2 L620.6,168.6 L620.7,168.6 L624.7,167.8 L624.9,167.8 L627.8,166.5 L628.0,166.4 L628.1,166.2 L628.1,166.0 L628.0,165.9 L627.8,165.8 L624.9,164.7 L624.7,164.7 L620.7,164.1 L620.6,164.1 L616.5,163.8 L616.4,163.8 L612.3,163.6 L612.2,163.6 L608.1,163.5 L608.0,163.5 L603.8,163.5 L603.8,163.5 L599.6,163.6 L599.6,163.6 L595.4,163.8 L595.4,163.8 L591.2,164.1 L591.2,164.1 L587.0,164.4 L587.0,164.5 L582.8,164.9 L582.8,164.9 L578.6,165.5 L578.6,165.5 L574.6,166.3 L574.3,166.4 L571.4,167.7 L571.2,167.8 L571.1,168.0 L571.1,168.1 L571.2,168.3 L571.4,168.4Z" fill="#fadcbc" opacity="0.9"/>
<circle cx="608.9" cy="163.4" r="0.9" fill="#d58048"/>
<circle cx="602.9" cy="167.9" r="0.9" fill="#d58048"/>
<circle cx="584.3" cy="173.8" r="0.9" fill="#d58048"/>
<circle cx="619.4" cy="165.9" r="0.9" fill="#d58048"/>
<circle cx="571.2" cy="170.3" r="0.9" fill="#d58048"/>
<circle cx="581.9" cy="170.0" r="0.9" fill="#d58048"/>
<circle cx="577.9" cy="173.6" r="0.9" fill="#d58048"/>
<circle cx="588.3" cy="171.3" r="0.9" fill="#d58048"/>
<circle cx="627.0" cy="166.9" r="0.9" fill="#d58048"/>
<circle cx="611.2" cy="171.4" r="0.9" fill="#d58048"/>
<circle cx="576.5" cy="167.6" r="0.9" fill="#d58048"/>
<circle cx="598.2" cy="172.3" r="0.9" fill="#d58048"/>
<circle cx="615.1" cy="165.1" r="0.9" fill="#d58048"/>
<ellipse cx="599.0" cy="168.1" rx="8.2" ry="3.8" fill="#bfabe6" stroke="#8f78c6" stroke-width="1"/>
<ellipse cx="598.0" cy="166.9" rx="4.5" ry="1.3" fill="#ffffff" opacity="0.25"/>
<path d="M179.8,196.4 L180.2,196.6 L185.4,198.1 L185.5,198.1 L191.0,199.1 L191.1,199.1 L196.6,199.9 L196.6,199.9 L202.1,200.3 L202.1,200.3 L207.6,200.6 L207.7,200.6 L213.2,200.6 L213.2,200.6 L218.7,200.3 L218.8,200.3 L224.3,199.9 L224.3,199.9 L229.8,199.2 L229.9,199.2 L235.4,198.2 L235.4,198.2 L240.9,196.9 L241.0,196.9 L246.3,195.2 L246.6,195.0 L250.6,191.9 L250.9,191.6 L251.0,191.2 L251.0,190.9 L250.9,190.5 L250.6,190.3 L246.6,187.3 L246.3,187.1 L241.0,185.6 L240.9,185.6 L235.5,184.6 L235.4,184.6 L229.9,183.8 L229.9,183.8 L224.4,183.4 L224.3,183.4 L218.8,183.1 L218.8,183.1 L213.3,183.1 L213.2,183.1 L207.7,183.4 L207.7,183.4 L202.2,183.8 L202.1,183.8 L196.6,184.5 L196.6,184.5 L191.1,185.5 L191.0,185.5 L185.5,186.8 L185.5,186.8 L180.2,188.5 L179.9,188.7 L175.8,191.8 L175.6,192.1 L175.5,192.4 L175.5,192.8 L175.6,193.2 L175.8,193.4Z" fill="#f7cfa4" stroke="#d08f5a" stroke-width="1.15"/>
<path d="M185.9,192.4 L186.1,192.5 L190.4,193.1 L190.5,193.1 L195.0,193.6 L195.0,193.6 L199.6,194.0 L199.6,194.0 L204.1,194.2 L204.1,194.2 L208.7,194.3 L208.7,194.3 L213.2,194.3 L213.2,194.3 L217.8,194.2 L217.8,194.2 L222.3,194.0 L222.3,194.0 L226.9,193.6 L226.9,193.6 L231.4,193.2 L231.4,193.2 L235.9,192.6 L236.0,192.6 L240.3,191.9 L240.6,191.8 L243.9,190.3 L244.1,190.2 L244.2,190.1 L244.2,189.9 L244.1,189.8 L243.9,189.6 L240.6,188.3 L240.3,188.2 L236.0,187.5 L235.9,187.5 L231.5,187.1 L231.4,187.1 L226.9,186.7 L226.9,186.7 L222.3,186.5 L222.3,186.5 L217.8,186.4 L217.8,186.4 L213.2,186.4 L213.2,186.4 L208.7,186.5 L208.7,186.5 L204.1,186.7 L204.1,186.7 L199.6,187.0 L199.6,187.0 L195.1,187.5 L195.0,187.5 L190.5,188.1 L190.5,188.1 L186.1,188.8 L185.9,188.9 L182.6,190.3 L182.4,190.5 L182.2,190.6 L182.3,190.8 L182.4,190.9 L182.6,191.1Z" fill="#fadcbc" opacity="0.9"/>
<circle cx="210.3" cy="188.9" r="0.9" fill="#d58048"/>
<circle cx="201.2" cy="196.4" r="0.9" fill="#d58048"/>
<circle cx="214.8" cy="187.5" r="0.9" fill="#d58048"/>
<circle cx="196.7" cy="197.7" r="0.9" fill="#d58048"/>
<circle cx="219.5" cy="194.2" r="0.9" fill="#d58048"/>
<circle cx="231.1" cy="195.9" r="0.9" fill="#d58048"/>
<circle cx="231.6" cy="187.2" r="0.9" fill="#d58048"/>
<circle cx="211.3" cy="196.0" r="0.9" fill="#d58048"/>
<circle cx="192.4" cy="193.5" r="0.9" fill="#d58048"/>
<circle cx="195.1" cy="189.2" r="0.9" fill="#d58048"/>
<circle cx="244.6" cy="193.4" r="0.9" fill="#d58048"/>
<circle cx="190.9" cy="189.3" r="0.9" fill="#d58048"/>
<circle cx="227.4" cy="189.4" r="0.9" fill="#d58048"/>
<circle cx="236.2" cy="188.1" r="0.9" fill="#d58048"/>
<circle cx="219.7" cy="186.1" r="0.9" fill="#d58048"/>
<circle cx="196.9" cy="193.4" r="0.9" fill="#d58048"/>
<ellipse cx="212.4" cy="191.3" rx="8.2" ry="3.8" fill="#bfabe6" stroke="#8f78c6" stroke-width="1"/>
<ellipse cx="211.4" cy="190.1" rx="4.5" ry="1.3" fill="#ffffff" opacity="0.25"/>
<path d="M258.1,195.3 L258.4,195.4 L264.1,197.3 L264.2,197.3 L270.0,198.7 L270.1,198.7 L276.0,199.8 L276.0,199.8 L281.9,200.6 L281.9,200.6 L287.8,201.2 L287.9,201.2 L293.7,201.6 L293.8,201.6 L299.7,201.7 L299.7,201.7 L305.6,201.5 L305.6,201.5 L311.5,201.2 L311.6,201.2 L317.5,200.5 L317.5,200.5 L323.4,199.5 L323.4,199.5 L329.1,198.1 L329.4,197.9 L333.7,194.9 L334.0,194.7 L334.1,194.3 L334.1,194.0 L334.0,193.6 L333.8,193.3 L329.4,190.0 L329.1,189.8 L323.4,187.9 L323.3,187.9 L317.5,186.5 L317.4,186.5 L311.6,185.4 L311.5,185.4 L305.6,184.6 L305.6,184.6 L299.7,184.0 L299.7,184.0 L293.8,183.7 L293.7,183.6 L287.8,183.5 L287.8,183.5 L281.9,183.7 L281.9,183.7 L276.0,184.0 L275.9,184.1 L270.1,184.7 L270.0,184.7 L264.1,185.7 L264.1,185.7 L258.4,187.1 L258.1,187.3 L253.8,190.3 L253.5,190.5 L253.4,190.9 L253.4,191.3 L253.5,191.6 L253.7,191.9Z" fill="#f7cfa4" stroke="#d08f5a" stroke-width="1.15"/>
<path d="M264.5,192.3 L264.8,192.4 L269.4,193.2 L269.5,193.2 L274.3,193.9 L274.3,193.9 L279.2,194.4 L279.2,194.4 L284.0,194.7 L284.1,194.7 L288.9,195.0 L288.9,195.0 L293.7,195.1 L293.8,195.1 L298.6,195.2 L298.6,195.2 L303.5,195.1 L303.5,195.1 L308.3,195.0 L308.4,195.0 L313.2,194.7 L313.2,194.7 L318.0,194.2 L318.1,194.2 L322.7,193.6 L323.0,193.5 L326.5,192.2 L326.7,192.0 L326.9,191.9 L326.9,191.7 L326.8,191.6 L326.6,191.4 L323.0,189.9 L322.7,189.8 L318.1,189.0 L318.0,189.0 L313.2,188.4 L313.2,188.3 L308.4,187.9 L308.3,187.9 L303.5,187.5 L303.5,187.5 L298.6,187.2 L298.6,187.2 L293.8,187.1 L293.7,187.1 L288.9,187.0 L288.9,187.0 L284.0,187.1 L284.0,187.1 L279.2,187.3 L279.1,187.3 L274.3,187.5 L274.3,187.6 L269.5,188.0 L269.4,188.0 L264.8,188.6 L264.5,188.7 L261.0,190.1 L260.8,190.2 L260.6,190.3 L260.6,190.5 L260.7,190.7 L260.9,190.8Z" fill="#fadcbc" opacity="0.9"/>
<circle cx="284.8" cy="190.3" r="0.9" fill="#d58048"/>
<circle cx="273.3" cy="195.9" r="0.9" fill="#d58048"/>
<circle cx="311.4" cy="188.0" r="0.9" fill="#d58048"/>
<circle cx="301.4" cy="196.6" r="0.9" fill="#d58048"/>
<circle cx="273.8" cy="188.3" r="0.9" fill="#d58048"/>
<circle cx="279.3" cy="192.6" r="0.9" fill="#d58048"/>
<circle cx="268.5" cy="187.7" r="0.9" fill="#d58048"/>
<circle cx="267.4" cy="193.1" r="0.9" fill="#d58048"/>
<circle cx="308.6" cy="197.3" r="0.9" fill="#d58048"/>
<circle cx="315.7" cy="196.5" r="0.9" fill="#d58048"/>
<circle cx="307.5" cy="192.3" r="0.9" fill="#d58048"/>
<circle cx="320.0" cy="189.8" r="0.9" fill="#d58048"/>
<circle cx="292.0" cy="190.0" r="0.9" fill="#d58048"/>
<circle cx="278.8" cy="198.0" r="0.9" fill="#d58048"/>
<circle cx="287.3" cy="195.9" r="0.9" fill="#d58048"/>
<circle cx="293.5" cy="197.7" r="0.9" fill="#d58048"/>
<circle cx="329.8" cy="194.8" r="0.9" fill="#d58048"/>
<circle cx="299.0" cy="189.1" r="0.9" fill="#d58048"/>
<ellipse cx="298.6" cy="192.1" rx="8.2" ry="3.8" fill="#bfabe6" stroke="#8f78c6" stroke-width="1"/>
<ellipse cx="297.6" cy="190.9" rx="4.5" ry="1.3" fill="#ffffff" opacity="0.25"/>
<path d="M342.1,198.0 L342.4,198.2 L348.9,199.6 L349.0,199.6 L355.6,200.5 L355.7,200.5 L362.4,201.1 L362.4,201.1 L369.1,201.5 L369.2,201.5 L375.9,201.5 L375.9,201.5 L382.6,201.3 L382.7,201.3 L389.4,200.9 L389.4,200.9 L396.1,200.2 L396.2,200.2 L402.9,199.3 L402.9,199.3 L409.6,198.0 L409.6,198.0 L416.3,196.5 L416.4,196.5 L422.9,194.4 L423.2,194.3 L428.2,190.7 L428.5,190.4 L428.6,190.0 L428.6,189.6 L428.4,189.3 L428.2,189.0 L423.2,185.9 L422.9,185.8 L416.4,184.4 L416.3,184.4 L409.7,183.4 L409.6,183.4 L402.9,182.8 L402.9,182.8 L396.2,182.5 L396.1,182.5 L389.4,182.4 L389.4,182.4 L382.7,182.6 L382.6,182.6 L375.9,183.1 L375.9,183.1 L369.2,183.8 L369.2,183.8 L362.4,184.7 L362.4,184.7 L355.7,185.9 L355.7,185.9 L349.0,187.5 L348.9,187.5 L342.4,189.5 L342.1,189.7 L337.1,193.3 L336.8,193.6 L336.7,193.9 L336.7,194.3 L336.9,194.7 L337.2,194.9Z" fill="#f7cfa4" stroke="#d08f5a" stroke-width="1.15"/>
<path d="M349.4,193.2 L349.6,193.3 L355.0,193.9 L355.0,193.9 L360.5,194.3 L360.5,194.3 L366.0,194.6 L366.1,194.6 L371.6,194.7 L371.6,194.7 L377.1,194.8 L377.1,194.8 L382.6,194.7 L382.7,194.7 L388.2,194.5 L388.2,194.5 L393.7,194.2 L393.7,194.2 L399.2,193.8 L399.3,193.8 L404.7,193.2 L404.8,193.2 L410.3,192.5 L410.3,192.5 L415.7,191.6 L415.9,191.5 L420.0,189.9 L420.2,189.8 L420.3,189.6 L420.3,189.4 L420.2,189.3 L420.0,189.1 L415.9,187.8 L415.7,187.7 L410.3,187.1 L410.3,187.0 L404.8,186.6 L404.8,186.6 L399.3,186.4 L399.2,186.4 L393.7,186.2 L393.7,186.2 L388.2,186.2 L388.2,186.2 L382.7,186.3 L382.6,186.3 L377.1,186.5 L377.1,186.5 L371.6,186.8 L371.6,186.8 L366.1,187.2 L366.1,187.2 L360.6,187.7 L360.5,187.8 L355.0,188.5 L355.0,188.5 L349.6,189.4 L349.4,189.4 L345.3,191.1 L345.1,191.2 L345.0,191.4 L345.0,191.5 L345.1,191.7 L345.3,191.8Z" fill="#fadcbc" opacity="0.9"/>
<circle cx="403.0" cy="186.4" r="0.9" fill="#d58048"/>
<circle cx="367.2" cy="195.8" r="0.9" fill="#d58048"/>
<circle cx="406.8" cy="194.6" r="0.9" fill="#d58048"/>
<circle cx="381.8" cy="186.8" r="0.9" fill="#d58048"/>
<circle cx="362.0" cy="193.2" r="0.9" fill="#d58048"/>
<circle cx="356.1" cy="195.5" r="0.9" fill="#d58048"/>
<circle cx="349.5" cy="189.9" r="0.9" fill="#d58048"/>
<circle cx="391.5" cy="196.7" r="0.9" fill="#d58048"/>
<circle cx="398.7" cy="196.6" r="0.9" fill="#d58048"/>
<circle cx="413.8" cy="189.2" r="0.9" fill="#d58048"/>
<circle cx="372.8" cy="191.1" r="0.9" fill="#d58048"/>
<circle cx="397.0" cy="188.2" r="0.9" fill="#d58048"/>
<circle cx="383.5" cy="193.9" r="0.9" fill="#d58048"/>
<circle cx="409.1" cy="190.2" r="0.9" fill="#d58048"/>
<circle cx="362.5" cy="198.7" r="0.9" fill="#d58048"/>
<circle cx="402.2" cy="194.0" r="0.9" fill="#d58048"/>
<circle cx="386.3" cy="199.1" r="0.9" fill="#d58048"/>
<circle cx="348.8" cy="194.4" r="0.9" fill="#d58048"/>
<circle cx="396.7" cy="192.2" r="0.9" fill="#d58048"/>
<circle cx="416.9" cy="186.7" r="0.9" fill="#d58048"/>
<circle cx="367.6" cy="190.1" r="0.9" fill="#d58048"/>
<ellipse cx="387.2" cy="191.5" rx="8.2" ry="3.8" fill="#bfabe6" stroke="#8f78c6" stroke-width="1"/>
<ellipse cx="386.2" cy="190.3" rx="4.5" ry="1.3" fill="#ffffff" opacity="0.25"/>
<path d="M436.0,193.6 L436.3,193.8 L442.2,195.2 L442.2,195.3 L448.2,196.3 L448.3,196.3 L454.3,197.0 L454.4,197.0 L460.4,197.4 L460.4,197.4 L466.5,197.6 L466.5,197.6 L472.5,197.6 L472.6,197.6 L478.6,197.3 L478.7,197.3 L484.7,196.8 L484.7,196.8 L490.8,196.0 L490.8,196.0 L496.8,195.0 L496.9,195.0 L502.9,193.6 L503.0,193.6 L508.8,191.8 L509.1,191.6 L513.6,188.3 L513.8,188.0 L513.9,187.7 L513.9,187.3 L513.8,187.0 L513.5,186.7 L509.1,183.6 L508.8,183.5 L503.0,182.0 L502.9,182.0 L496.9,181.0 L496.9,180.9 L490.8,180.2 L490.8,180.2 L484.8,179.8 L484.7,179.8 L478.7,179.6 L478.6,179.6 L472.6,179.7 L472.6,179.7 L466.5,179.9 L466.5,179.9 L460.4,180.5 L460.4,180.5 L454.4,181.2 L454.3,181.2 L448.3,182.3 L448.3,182.3 L442.2,183.6 L442.2,183.7 L436.3,185.5 L436.0,185.6 L431.6,188.9 L431.3,189.2 L431.2,189.6 L431.2,189.9 L431.4,190.3 L431.6,190.6Z" fill="#f7cfa4" stroke="#d08f5a" stroke-width="1.15"/>
<path d="M442.6,189.4 L442.9,189.4 L447.6,190.1 L447.7,190.1 L452.6,190.6 L452.7,190.6 L457.6,190.9 L457.6,190.9 L462.6,191.1 L462.6,191.1 L467.6,191.2 L467.6,191.2 L472.5,191.2 L472.6,191.2 L477.5,191.0 L477.6,191.0 L482.5,190.8 L482.5,190.8 L487.5,190.5 L487.5,190.4 L492.5,190.0 L492.5,190.0 L497.4,189.4 L497.5,189.4 L502.3,188.5 L502.5,188.5 L506.2,187.0 L506.4,186.9 L506.5,186.7 L506.5,186.5 L506.4,186.4 L506.2,186.2 L502.5,184.9 L502.3,184.8 L497.5,184.1 L497.4,184.1 L492.5,183.7 L492.5,183.7 L487.5,183.4 L487.5,183.3 L482.6,183.2 L482.5,183.2 L477.6,183.1 L477.5,183.1 L472.6,183.1 L472.6,183.1 L467.6,183.2 L467.6,183.2 L462.6,183.5 L462.6,183.5 L457.6,183.8 L457.6,183.8 L452.7,184.3 L452.6,184.3 L447.7,184.9 L447.6,184.9 L442.9,185.7 L442.6,185.8 L439.0,187.3 L438.8,187.4 L438.6,187.6 L438.7,187.7 L438.8,187.9 L439.0,188.0Z" fill="#fadcbc" opacity="0.9"/>
<circle cx="437.5" cy="191.4" r="0.9" fill="#d58048"/>
<circle cx="472.2" cy="187.0" r="0.9" fill="#d58048"/>
<circle cx="467.7" cy="182.7" r="0.9" fill="#d58048"/>
<circle cx="441.9" cy="192.6" r="0.9" fill="#d58048"/>
<circle cx="458.0" cy="184.1" r="0.9" fill="#d58048"/>
<circle cx="447.9" cy="191.0" r="0.9" fill="#d58048"/>
<circle cx="489.0" cy="190.6" r="0.9" fill="#d58048"/>
<circle cx="492.8" cy="186.9" r="0.9" fill="#d58048"/>
<circle cx="501.0" cy="188.5" r="0.9" fill="#d58048"/>
<circle cx="484.0" cy="185.0" r="0.9" fill="#d58048"/>
<circle cx="450.2" cy="185.7" r="0.9" fill="#d58048"/>
<circle cx="461.3" cy="192.3" r="0.9" fill="#d58048"/>
<circle cx="479.4" cy="191.8" r="0.9" fill="#d58048"/>
<circle cx="508.7" cy="186.6" r="0.9" fill="#d58048"/>
<circle cx="467.2" cy="190.6" r="0.9" fill="#d58048"/>
<circle cx="474.0" cy="183.4" r="0.9" fill="#d58048"/>
<circle cx="453.7" cy="191.8" r="0.9" fill="#d58048"/>
<circle cx="469.4" cy="195.5" r="0.9" fill="#d58048"/>
<ellipse cx="467.7" cy="188.1" rx="8.2" ry="3.8" fill="#bfabe6" stroke="#8f78c6" stroke-width="1"/>
<ellipse cx="466.7" cy="186.9" rx="4.5" ry="1.3" fill="#ffffff" opacity="0.25"/>
<path d="M521.6,191.1 L521.9,191.2 L528.1,192.5 L528.1,192.5 L534.5,193.3 L534.5,193.3 L540.9,193.7 L540.9,193.7 L547.3,193.9 L547.4,193.9 L553.7,193.8 L553.8,193.8 L560.2,193.5 L560.2,193.5 L566.6,193.0 L566.6,193.0 L573.0,192.2 L573.0,192.2 L579.4,191.2 L579.5,191.2 L585.8,189.9 L585.9,189.9 L592.2,188.2 L592.3,188.2 L598.5,186.1 L598.8,186.0 L603.5,182.4 L603.8,182.2 L603.9,181.8 L603.9,181.4 L603.7,181.1 L603.4,180.8 L598.8,177.9 L598.5,177.8 L592.3,176.5 L592.3,176.5 L585.9,175.7 L585.9,175.7 L579.5,175.3 L579.5,175.3 L573.1,175.1 L573.0,175.1 L566.7,175.2 L566.6,175.2 L560.2,175.5 L560.2,175.5 L553.8,176.0 L553.8,176.0 L547.4,176.8 L547.4,176.8 L541.0,177.8 L540.9,177.8 L534.6,179.1 L534.5,179.1 L528.2,180.8 L528.1,180.8 L521.9,182.9 L521.6,183.0 L516.9,186.6 L516.6,186.8 L516.5,187.2 L516.5,187.6 L516.7,187.9 L517.0,188.2Z" fill="#f7cfa4" stroke="#d08f5a" stroke-width="1.15"/>
<path d="M528.5,186.0 L528.8,186.0 L533.8,186.6 L533.9,186.6 L539.1,186.9 L539.2,186.9 L544.4,187.1 L544.4,187.1 L549.6,187.2 L549.7,187.2 L554.9,187.2 L554.9,187.2 L560.2,187.1 L560.2,187.1 L565.4,186.8 L565.5,186.8 L570.7,186.5 L570.7,186.5 L576.0,186.0 L576.0,186.0 L581.2,185.4 L581.3,185.4 L586.5,184.7 L586.5,184.7 L591.6,183.7 L591.8,183.7 L595.7,182.1 L595.9,181.9 L596.0,181.8 L596.0,181.6 L595.9,181.4 L595.7,181.3 L591.9,180.0 L591.6,180.0 L586.6,179.4 L586.5,179.4 L581.3,179.1 L581.3,179.1 L576.0,178.9 L576.0,178.9 L570.8,178.8 L570.7,178.8 L565.5,178.8 L565.5,178.8 L560.2,178.9 L560.2,178.9 L555.0,179.2 L554.9,179.2 L549.7,179.5 L549.7,179.5 L544.4,180.0 L544.4,180.0 L539.2,180.6 L539.1,180.6 L533.9,181.3 L533.9,181.3 L528.8,182.3 L528.6,182.3 L524.7,183.9 L524.5,184.1 L524.4,184.2 L524.4,184.4 L524.5,184.6 L524.7,184.7Z" fill="#fadcbc" opacity="0.9"/>
<circle cx="563.1" cy="183.9" r="0.9" fill="#d58048"/>
<circle cx="556.3" cy="191.2" r="0.9" fill="#d58048"/>
<circle cx="545.6" cy="190.7" r="0.9" fill="#d58048"/>
<circle cx="563.1" cy="189.7" r="0.9" fill="#d58048"/>
<circle cx="576.4" cy="186.5" r="0.9" fill="#d58048"/>
<circle cx="540.8" cy="191.5" r="0.9" fill="#d58048"/>
<circle cx="576.0" cy="177.7" r="0.9" fill="#d58048"/>
<circle cx="555.5" cy="180.5" r="0.9" fill="#d58048"/>
<circle cx="570.9" cy="180.9" r="0.9" fill="#d58048"/>
<circle cx="532.5" cy="190.4" r="0.9" fill="#d58048"/>
<circle cx="588.3" cy="184.1" r="0.9" fill="#d58048"/>
<circle cx="569.1" cy="189.2" r="0.9" fill="#d58048"/>
<circle cx="587.0" cy="178.8" r="0.9" fill="#d58048"/>
<circle cx="537.2" cy="185.4" r="0.9" fill="#d58048"/>
<circle cx="541.4" cy="186.0" r="0.9" fill="#d58048"/>
<circle cx="579.2" cy="182.7" r="0.9" fill="#d58048"/>
<circle cx="547.5" cy="186.6" r="0.9" fill="#d58048"/>
<circle cx="593.8" cy="184.3" r="0.9" fill="#d58048"/>
<circle cx="597.1" cy="180.8" r="0.9" fill="#d58048"/>
<circle cx="558.7" cy="185.3" r="0.9" fill="#d58048"/>
<ellipse cx="556.6" cy="184.0" rx="8.2" ry="3.8" fill="#bfabe6" stroke="#8f78c6" stroke-width="1"/>
<ellipse cx="555.6" cy="182.8" rx="4.5" ry="1.3" fill="#ffffff" opacity="0.25"/>
<path d="M156.7,215.1 L156.8,215.2 L163.5,215.5 L163.6,215.5 L170.3,215.7 L170.4,215.7 L177.1,215.6 L177.2,215.6 L183.9,215.3 L184.0,215.3 L190.7,214.8 L190.8,214.8 L197.5,214.0 L197.6,214.0 L204.3,213.1 L204.4,213.1 L211.1,211.9 L211.2,211.9 L217.9,210.4 L218.0,210.4 L224.6,208.4 L224.8,208.3 L229.6,205.2 L229.9,204.9 L230.1,204.5 L230.0,204.1 L229.9,203.8 L229.5,203.5 L224.9,201.0 L224.6,200.9 L218.0,199.8 L217.9,199.8 L211.2,199.1 L211.2,199.1 L204.4,198.7 L204.4,198.7 L197.6,198.6 L197.6,198.6 L190.8,198.7 L190.8,198.7 L184.0,199.0 L184.0,199.0 L177.2,199.5 L177.2,199.5 L170.4,200.2 L170.4,200.2 L163.6,201.2 L163.6,201.2 L156.8,202.4 L156.8,202.4 L154.2,202.9 L153.9,203.1 L153.6,203.3 L153.5,203.6 L153.4,204.0 L154.0,214.0 L154.0,214.4 L154.2,214.6 L154.5,214.9 L154.8,215.0Z" fill="#f7cfa4" stroke="#d08f5a" stroke-width="1.15"/>
<path d="M162.4,209.1 L162.5,209.1 L168.0,209.3 L168.0,209.3 L173.6,209.3 L173.6,209.3 L179.2,209.3 L179.2,209.3 L184.7,209.1 L184.8,209.1 L190.3,208.9 L190.3,208.9 L195.9,208.6 L195.9,208.6 L201.5,208.2 L201.5,208.2 L207.0,207.6 L207.1,207.6 L212.6,206.9 L212.7,206.9 L218.1,206.1 L218.3,206.0 L222.2,204.6 L222.4,204.5 L222.6,204.3 L222.6,204.1 L222.4,204.0 L222.1,203.8 L218.3,202.7 L218.1,202.7 L212.7,202.2 L212.6,202.2 L207.1,201.9 L207.1,201.9 L201.5,201.7 L201.5,201.7 L196.0,201.6 L195.9,201.6 L190.4,201.7 L190.4,201.7 L184.8,201.8 L184.8,201.8 L179.2,202.0 L179.2,202.0 L173.6,202.4 L173.6,202.4 L168.1,202.8 L168.0,202.8 L162.5,203.3 L162.5,203.3 L160.4,203.6 L160.1,203.7 L159.9,203.8 L159.8,203.9 L159.7,204.1 L160.2,208.6 L160.2,208.7 L160.4,208.9 L160.6,209.0 L160.9,209.0Z" fill="#fadcbc" opacity="0.9"/>
<circle cx="162.7" cy="212.3" r="0.9" fill="#d58048"/>
<circle cx="187.5" cy="204.5" r="0.9" fill="#d58048"/>
<circle cx="210.5" cy="204.4" r="0.9" fill="#d58048"/>
<circle cx="178.4" cy="203.1" r="0.9" fill="#d58048"/>
<circle cx="156.8" cy="211.1" r="0.9" fill="#d58048"/>
<circle cx="184.5" cy="207.7" r="0.9" fill="#d58048"/>
<circle cx="215.9" cy="203.8" r="0.9" fill="#d58048"/>
<circle cx="200.1" cy="210.9" r="0.9" fill="#d58048"/>
<circle cx="163.1" cy="208.2" r="0.9" fill="#d58048"/>
<circle cx="189.7" cy="208.9" r="0.9" fill="#d58048"/>
<circle cx="174.4" cy="212.8" r="0.9" fill="#d58048"/>
<circle cx="168.9" cy="205.9" r="0.9" fill="#d58048"/>
<circle cx="224.3" cy="203.0" r="0.9" fill="#d58048"/>
<circle cx="177.2" cy="209.4" r="0.9" fill="#d58048"/>
<circle cx="203.3" cy="204.4" r="0.9" fill="#d58048"/>
<circle cx="195.8" cy="208.9" r="0.9" fill="#d58048"/>
<circle cx="217.5" cy="208.0" r="0.9" fill="#d58048"/>
<ellipse cx="188.4" cy="206.3" rx="8.2" ry="3.8" fill="#bfabe6" stroke="#8f78c6" stroke-width="1"/>
<ellipse cx="187.4" cy="205.1" rx="4.5" ry="1.3" fill="#ffffff" opacity="0.25"/>
<path d="M237.7,208.7 L238.0,208.9 L243.8,210.9 L243.9,210.9 L249.8,212.5 L249.9,212.5 L255.8,213.7 L255.9,213.7 L261.9,214.6 L261.9,214.6 L267.9,215.3 L267.9,215.3 L273.9,215.8 L274.0,215.8 L280.0,216.0 L280.0,216.0 L286.0,215.9 L286.0,215.9 L292.0,215.6 L292.0,215.6 L298.0,215.0 L298.1,215.0 L304.0,214.1 L304.1,214.1 L309.9,212.7 L310.2,212.5 L314.6,209.4 L314.9,209.2 L315.0,208.8 L315.0,208.5 L314.9,208.1 L314.7,207.8 L310.2,204.2 L309.9,204.1 L304.1,202.0 L304.0,202.0 L298.0,200.5 L298.0,200.5 L292.0,199.3 L292.0,199.2 L286.0,198.3 L285.9,198.3 L280.0,197.6 L279.9,197.6 L273.9,197.2 L273.9,197.2 L267.9,197.0 L267.9,197.0 L261.9,197.0 L261.8,197.0 L255.9,197.4 L255.8,197.4 L249.8,197.9 L249.8,197.9 L243.8,198.9 L243.7,198.9 L238.0,200.3 L237.7,200.4 L233.2,203.5 L233.0,203.8 L232.8,204.1 L232.8,204.5 L233.0,204.8 L233.2,205.1Z" fill="#f7cfa4" stroke="#d08f5a" stroke-width="1.15"/>
<path d="M244.2,206.0 L244.5,206.1 L249.2,207.0 L249.3,207.0 L254.2,207.7 L254.2,207.7 L259.1,208.2 L259.1,208.2 L264.0,208.6 L264.1,208.6 L269.0,209.0 L269.0,209.0 L273.9,209.2 L274.0,209.2 L278.9,209.2 L278.9,209.2 L283.8,209.2 L283.8,209.2 L288.7,209.1 L288.8,209.1 L293.7,208.8 L293.7,208.8 L298.6,208.4 L298.7,208.4 L303.4,207.8 L303.7,207.7 L307.3,206.3 L307.5,206.2 L307.6,206.0 L307.6,205.9 L307.5,205.7 L307.3,205.6 L303.6,204.0 L303.4,203.9 L298.7,203.0 L298.6,203.0 L293.7,202.3 L293.7,202.3 L288.8,201.7 L288.7,201.7 L283.8,201.3 L283.8,201.3 L278.9,201.0 L278.8,201.0 L273.9,200.8 L273.9,200.8 L269.0,200.7 L269.0,200.7 L264.0,200.7 L264.0,200.7 L259.1,200.9 L259.1,200.9 L254.2,201.1 L254.1,201.1 L249.2,201.6 L249.2,201.6 L244.5,202.2 L244.2,202.3 L240.6,203.6 L240.4,203.8 L240.2,203.9 L240.2,204.1 L240.3,204.2 L240.5,204.4Z" fill="#fadcbc" opacity="0.9"/>
<circle cx="258.6" cy="211.6" r="0.9" fill="#d58048"/>
<circle cx="302.9" cy="211.3" r="0.9" fill="#d58048"/>
<circle cx="259.8" cy="202.0" r="0.9" fill="#d58048"/>
<circle cx="263.5" cy="204.9" r="0.9" fill="#d58048"/>
<circle cx="289.3" cy="213.0" r="0.9" fill="#d58048"/>
<circle cx="271.9" cy="202.6" r="0.9" fill="#d58048"/>
<circle cx="283.2" cy="210.9" r="0.9" fill="#d58048"/>
<circle cx="298.4" cy="207.4" r="0.9" fill="#d58048"/>
<circle cx="285.4" cy="205.1" r="0.9" fill="#d58048"/>
<circle cx="279.0" cy="208.6" r="0.9" fill="#d58048"/>
<circle cx="271.3" cy="211.3" r="0.9" fill="#d58048"/>
<circle cx="292.6" cy="210.2" r="0.9" fill="#d58048"/>
<circle cx="241.6" cy="206.8" r="0.9" fill="#d58048"/>
<circle cx="250.5" cy="209.6" r="0.9" fill="#d58048"/>
<circle cx="244.8" cy="203.4" r="0.9" fill="#d58048"/>
<circle cx="258.3" cy="206.3" r="0.9" fill="#d58048"/>
<circle cx="281.2" cy="203.2" r="0.9" fill="#d58048"/>
<circle cx="246.8" cy="207.8" r="0.9" fill="#d58048"/>
<circle cx="248.7" cy="200.2" r="0.9" fill="#d58048"/>
<ellipse cx="270.5" cy="206.0" rx="8.2" ry="3.8" fill="#bfabe6" stroke="#8f78c6" stroke-width="1"/>
<ellipse cx="269.5" cy="204.8" rx="4.5" ry="1.3" fill="#ffffff" opacity="0.25"/>
<path d="M322.3,212.2 L322.6,212.3 L328.4,213.5 L328.5,213.5 L334.5,214.2 L334.6,214.2 L340.6,214.6 L340.7,214.6 L346.7,214.8 L346.8,214.8 L352.8,214.7 L352.8,214.7 L358.9,214.3 L358.9,214.3 L365.0,213.7 L365.0,213.7 L371.1,212.9 L371.1,212.9 L377.2,211.9 L377.2,211.9 L383.3,210.6 L383.3,210.6 L389.3,208.9 L389.4,208.9 L395.3,206.8 L395.6,206.7 L400.0,203.2 L400.3,202.9 L400.4,202.6 L400.4,202.2 L400.2,201.8 L400.0,201.6 L395.6,198.8 L395.3,198.7 L389.5,197.5 L389.4,197.5 L383.4,196.8 L383.3,196.8 L377.3,196.4 L377.2,196.4 L371.2,196.2 L371.1,196.2 L365.1,196.3 L365.0,196.3 L359.0,196.7 L359.0,196.7 L352.9,197.3 L352.9,197.3 L346.8,198.1 L346.8,198.1 L340.7,199.1 L340.7,199.1 L334.6,200.4 L334.6,200.4 L328.5,202.1 L328.5,202.1 L322.6,204.2 L322.3,204.3 L317.9,207.8 L317.6,208.1 L317.5,208.4 L317.5,208.8 L317.7,209.2 L317.9,209.4Z" fill="#f7cfa4" stroke="#d08f5a" stroke-width="1.15"/>
<path d="M328.9,207.0 L329.1,207.1 L333.9,207.6 L334.0,207.6 L338.9,207.9 L339.0,207.9 L343.9,208.1 L344.0,208.1 L348.9,208.2 L349.0,208.2 L353.9,208.1 L353.9,208.1 L358.9,208.0 L358.9,208.0 L363.9,207.7 L363.9,207.7 L368.9,207.3 L368.9,207.3 L373.9,206.9 L373.9,206.9 L378.9,206.3 L378.9,206.3 L383.9,205.6 L383.9,205.5 L388.7,204.6 L389.0,204.5 L392.6,203.0 L392.8,202.8 L393.0,202.7 L392.9,202.5 L392.8,202.4 L392.6,202.2 L389.0,201.0 L388.7,200.9 L384.0,200.4 L383.9,200.4 L379.0,200.1 L378.9,200.1 L374.0,199.9 L373.9,199.9 L369.0,199.8 L368.9,199.8 L364.0,199.9 L363.9,199.9 L359.0,200.0 L359.0,200.0 L354.0,200.3 L354.0,200.3 L349.0,200.7 L349.0,200.7 L344.0,201.1 L344.0,201.1 L339.0,201.7 L339.0,201.7 L334.0,202.5 L334.0,202.5 L329.2,203.4 L328.9,203.5 L325.3,205.0 L325.0,205.2 L324.9,205.3 L325.0,205.5 L325.1,205.6 L325.3,205.8Z" fill="#fadcbc" opacity="0.9"/>
<circle cx="384.5" cy="200.4" r="0.9" fill="#d58048"/>
<circle cx="350.6" cy="206.2" r="0.9" fill="#d58048"/>
<circle cx="381.8" cy="205.6" r="0.9" fill="#d58048"/>
<circle cx="365.7" cy="206.3" r="0.9" fill="#d58048"/>
<circle cx="340.7" cy="210.1" r="0.9" fill="#d58048"/>
<circle cx="386.9" cy="205.6" r="0.9" fill="#d58048"/>
<circle cx="352.9" cy="211.6" r="0.9" fill="#d58048"/>
<circle cx="348.2" cy="211.5" r="0.9" fill="#d58048"/>
<circle cx="379.4" cy="202.1" r="0.9" fill="#d58048"/>
<circle cx="373.9" cy="203.4" r="0.9" fill="#d58048"/>
<circle cx="363.6" cy="202.5" r="0.9" fill="#d58048"/>
<circle cx="367.7" cy="199.4" r="0.9" fill="#d58048"/>
<circle cx="368.1" cy="210.4" r="0.9" fill="#d58048"/>
<circle cx="324.7" cy="206.0" r="0.9" fill="#d58048"/>
<circle cx="329.5" cy="204.4" r="0.9" fill="#d58048"/>
<circle cx="361.8" cy="208.0" r="0.9" fill="#d58048"/>
<circle cx="394.4" cy="201.1" r="0.9" fill="#d58048"/>
<circle cx="334.7" cy="211.6" r="0.9" fill="#d58048"/>
<ellipse cx="361.7" cy="205.0" rx="8.2" ry="3.8" fill="#bfabe6" stroke="#8f78c6" stroke-width="1"/>
<ellipse cx="360.7" cy="203.8" rx="4.5" ry="1.3" fill="#ffffff" opacity="0.25"/>
<path d="M406.9,206.1 L407.2,206.2 L412.2,207.9 L412.3,207.9 L417.4,209.2 L417.5,209.2 L422.6,210.2 L422.7,210.2 L427.8,210.9 L427.9,210.9 L433.1,211.4 L433.1,211.4 L438.3,211.7 L438.3,211.7 L443.5,211.8 L443.5,211.8 L448.7,211.7 L448.7,211.7 L453.9,211.4 L454.0,211.3 L459.1,210.8 L459.2,210.7 L464.3,209.9 L464.4,209.8 L469.3,208.5 L469.7,208.4 L473.3,205.8 L473.6,205.5 L473.7,205.2 L473.7,204.8 L473.6,204.4 L473.3,204.2 L469.6,201.2 L469.3,201.1 L464.4,199.4 L464.3,199.4 L459.2,198.1 L459.1,198.1 L453.9,197.1 L453.9,197.1 L448.7,196.4 L448.7,196.4 L443.5,195.9 L443.5,195.9 L438.3,195.6 L438.2,195.6 L433.1,195.5 L433.0,195.5 L427.9,195.6 L427.8,195.6 L422.6,196.0 L422.6,196.0 L417.4,196.6 L417.4,196.6 L412.2,197.5 L412.2,197.5 L407.2,198.8 L406.9,198.9 L403.3,201.5 L403.0,201.8 L402.9,202.2 L402.9,202.5 L403.0,202.9 L403.2,203.1Z" fill="#f7cfa4" stroke="#d08f5a" stroke-width="1.15"/>
<path d="M412.6,203.2 L412.8,203.3 L416.9,204.1 L416.9,204.1 L421.2,204.7 L421.2,204.7 L425.4,205.1 L425.5,205.1 L429.7,205.4 L429.8,205.4 L434.0,205.7 L434.0,205.7 L438.3,205.8 L438.3,205.8 L442.5,205.8 L442.6,205.8 L446.8,205.8 L446.9,205.8 L451.1,205.6 L451.1,205.6 L455.4,205.4 L455.4,205.3 L459.6,204.9 L459.7,204.9 L463.7,204.4 L464.0,204.3 L467.0,203.1 L467.2,203.0 L467.3,202.8 L467.3,202.7 L467.2,202.5 L467.0,202.4 L464.0,201.1 L463.7,201.0 L459.7,200.2 L459.6,200.2 L455.4,199.7 L455.3,199.7 L451.1,199.2 L451.1,199.2 L446.8,198.9 L446.8,198.9 L442.6,198.7 L442.5,198.7 L438.3,198.5 L438.3,198.5 L434.0,198.5 L434.0,198.5 L429.7,198.5 L429.7,198.5 L425.5,198.7 L425.4,198.7 L421.2,199.0 L421.1,199.0 L416.9,199.4 L416.9,199.4 L412.8,200.0 L412.5,200.0 L409.6,201.2 L409.4,201.3 L409.2,201.5 L409.2,201.6 L409.3,201.8 L409.5,201.9Z" fill="#fadcbc" opacity="0.9"/>
<circle cx="444.0" cy="203.8" r="0.9" fill="#d58048"/>
<circle cx="434.3" cy="200.8" r="0.9" fill="#d58048"/>
<circle cx="409.5" cy="204.1" r="0.9" fill="#d58048"/>
<circle cx="460.3" cy="201.8" r="0.9" fill="#d58048"/>
<circle cx="426.1" cy="204.4" r="0.9" fill="#d58048"/>
<circle cx="439.1" cy="202.3" r="0.9" fill="#d58048"/>
<circle cx="431.8" cy="206.3" r="0.9" fill="#d58048"/>
<circle cx="454.3" cy="209.3" r="0.9" fill="#d58048"/>
<circle cx="447.9" cy="202.0" r="0.9" fill="#d58048"/>
<circle cx="416.0" cy="201.6" r="0.9" fill="#d58048"/>
<circle cx="458.7" cy="208.1" r="0.9" fill="#d58048"/>
<circle cx="439.3" cy="207.7" r="0.9" fill="#d58048"/>
<circle cx="463.9" cy="205.0" r="0.9" fill="#d58048"/>
<circle cx="429.0" cy="201.2" r="0.9" fill="#d58048"/>
<ellipse cx="430.5" cy="203.2" rx="8.2" ry="3.8" fill="#bfabe6" stroke="#8f78c6" stroke-width="1"/>
<ellipse cx="429.5" cy="202.0" rx="4.5" ry="1.3" fill="#ffffff" opacity="0.25"/>
<path d="M481.1,208.6 L481.4,208.8 L487.4,210.1 L487.5,210.1 L493.7,211.0 L493.8,211.1 L500.0,211.6 L500.0,211.6 L506.2,212.0 L506.3,212.0 L512.5,212.1 L512.5,212.1 L518.7,211.9 L518.8,211.9 L525.0,211.6 L525.0,211.6 L531.3,211.0 L531.3,211.0 L537.5,210.1 L537.6,210.1 L543.8,209.0 L543.8,209.0 L550.0,207.6 L550.1,207.6 L556.1,205.7 L556.4,205.6 L560.9,202.4 L561.2,202.1 L561.3,201.7 L561.3,201.3 L561.2,201.0 L560.9,200.7 L556.4,197.9 L556.1,197.7 L550.1,196.4 L550.0,196.3 L543.9,195.4 L543.8,195.4 L537.6,194.8 L537.6,194.8 L531.3,194.5 L531.3,194.5 L525.1,194.4 L525.0,194.4 L518.8,194.5 L518.8,194.5 L512.5,194.9 L512.5,194.9 L506.3,195.5 L506.2,195.5 L500.0,196.3 L500.0,196.3 L493.8,197.4 L493.7,197.4 L487.5,198.9 L487.5,198.9 L481.4,200.7 L481.1,200.9 L476.6,204.1 L476.3,204.4 L476.2,204.8 L476.2,205.2 L476.4,205.5 L476.7,205.8Z" fill="#f7cfa4" stroke="#d08f5a" stroke-width="1.15"/>
<path d="M487.9,204.2 L488.2,204.2 L493.1,204.8 L493.1,204.8 L498.2,205.3 L498.3,205.3 L503.3,205.5 L503.4,205.5 L508.5,205.7 L508.5,205.7 L513.6,205.7 L513.6,205.7 L518.8,205.7 L518.8,205.7 L523.9,205.5 L523.9,205.5 L529.0,205.2 L529.1,205.2 L534.2,204.8 L534.2,204.8 L539.3,204.4 L539.3,204.3 L544.4,203.7 L544.5,203.7 L549.4,202.9 L549.6,202.8 L553.4,201.3 L553.6,201.2 L553.7,201.1 L553.7,200.9 L553.5,200.7 L553.3,200.6 L549.7,199.3 L549.4,199.3 L544.5,198.6 L544.4,198.6 L539.3,198.2 L539.3,198.2 L534.2,198.0 L534.2,198.0 L529.1,197.8 L529.0,197.8 L523.9,197.8 L523.9,197.8 L518.8,197.8 L518.8,197.8 L513.7,198.0 L513.6,198.0 L508.5,198.3 L508.5,198.3 L503.4,198.6 L503.4,198.6 L498.3,199.1 L498.2,199.1 L493.2,199.8 L493.1,199.8 L488.2,200.6 L487.9,200.7 L484.2,202.1 L484.0,202.3 L483.9,202.4 L483.9,202.6 L484.0,202.8 L484.2,202.9Z" fill="#fadcbc" opacity="0.9"/>
<circle cx="523.0" cy="199.7" r="0.9" fill="#d58048"/>
<circle cx="536.3" cy="200.8" r="0.9" fill="#d58048"/>
<circle cx="543.9" cy="198.4" r="0.9" fill="#d58048"/>
<circle cx="534.3" cy="208.0" r="0.9" fill="#d58048"/>
<circle cx="489.5" cy="206.1" r="0.9" fill="#d58048"/>
<circle cx="499.3" cy="201.4" r="0.9" fill="#d58048"/>
<circle cx="506.5" cy="197.6" r="0.9" fill="#d58048"/>
<circle cx="509.7" cy="201.8" r="0.9" fill="#d58048"/>
<circle cx="494.7" cy="207.6" r="0.9" fill="#d58048"/>
<circle cx="531.5" cy="198.7" r="0.9" fill="#d58048"/>
<circle cx="538.6" cy="204.8" r="0.9" fill="#d58048"/>
<circle cx="510.9" cy="208.7" r="0.9" fill="#d58048"/>
<circle cx="527.4" cy="199.3" r="0.9" fill="#d58048"/>
<circle cx="547.7" cy="202.2" r="0.9" fill="#d58048"/>
<circle cx="522.0" cy="207.1" r="0.9" fill="#d58048"/>
<circle cx="526.1" cy="205.3" r="0.9" fill="#d58048"/>
<circle cx="554.2" cy="199.7" r="0.9" fill="#d58048"/>
<circle cx="515.6" cy="202.7" r="0.9" fill="#d58048"/>
<ellipse cx="521.0" cy="202.7" rx="8.2" ry="3.8" fill="#bfabe6" stroke="#8f78c6" stroke-width="1"/>
<ellipse cx="520.0" cy="201.5" rx="4.5" ry="1.3" fill="#ffffff" opacity="0.25"/>
<path d="M636.2,195.4 L636.1,195.4 L630.1,194.1 L630.0,194.1 L624.0,193.2 L623.9,193.2 L617.8,192.6 L617.8,192.6 L611.7,192.3 L611.7,192.3 L605.6,192.2 L605.6,192.2 L599.5,192.3 L599.4,192.3 L593.4,192.7 L593.3,192.7 L587.3,193.3 L587.2,193.3 L581.1,194.2 L581.1,194.2 L575.1,195.5 L575.0,195.5 L569.1,197.2 L568.8,197.3 L564.3,200.7 L564.0,200.9 L563.9,201.3 L563.9,201.7 L564.0,202.0 L564.3,202.3 L568.8,205.6 L569.1,205.7 L575.0,207.4 L575.1,207.5 L581.1,208.7 L581.1,208.7 L587.2,209.6 L587.3,209.6 L593.3,210.2 L593.4,210.2 L599.4,210.5 L599.5,210.5 L605.6,210.7 L605.6,210.7 L611.7,210.5 L611.7,210.5 L617.8,210.2 L617.8,210.2 L623.9,209.5 L624.0,209.5 L630.0,208.6 L630.1,208.6 L636.1,207.4 L636.2,207.3 L639.0,206.5 L639.4,206.3 L639.6,206.0 L639.7,205.6 L639.7,197.1 L639.6,196.7 L639.4,196.4 L639.0,196.2Z" fill="#f7cfa4" stroke="#d08f5a" stroke-width="1.15"/>
<path d="M630.4,197.2 L630.3,197.2 L625.4,196.6 L625.3,196.6 L620.4,196.2 L620.3,196.2 L615.4,196.0 L615.3,196.0 L610.3,195.8 L610.3,195.8 L605.3,195.8 L605.3,195.8 L600.3,195.8 L600.3,195.8 L595.3,196.0 L595.3,196.0 L590.3,196.3 L590.2,196.3 L585.3,196.7 L585.2,196.7 L580.3,197.2 L580.2,197.2 L575.4,198.0 L575.1,198.1 L571.4,199.6 L571.2,199.7 L571.1,199.9 L571.1,200.0 L571.2,200.2 L571.4,200.3 L575.1,201.8 L575.4,201.9 L580.2,202.6 L580.3,202.6 L585.2,203.2 L585.3,203.2 L590.2,203.6 L590.3,203.6 L595.3,203.9 L595.3,203.9 L600.3,204.0 L600.3,204.0 L605.3,204.1 L605.3,204.1 L610.3,204.0 L610.3,204.0 L615.3,203.8 L615.4,203.8 L620.3,203.6 L620.4,203.6 L625.3,203.2 L625.4,203.2 L630.3,202.6 L630.4,202.6 L632.7,202.2 L633.0,202.1 L633.2,202.0 L633.3,201.8 L633.3,198.0 L633.2,197.8 L633.0,197.7 L632.7,197.6Z" fill="#fadcbc" opacity="0.9"/>
<circle cx="612.5" cy="200.9" r="0.9" fill="#d58048"/>
<circle cx="595.8" cy="201.7" r="0.9" fill="#d58048"/>
<circle cx="580.5" cy="203.6" r="0.9" fill="#d58048"/>
<circle cx="629.7" cy="200.5" r="0.9" fill="#d58048"/>
<circle cx="625.5" cy="203.3" r="0.9" fill="#d58048"/>
<circle cx="625.5" cy="195.9" r="0.9" fill="#d58048"/>
<circle cx="593.5" cy="207.9" r="0.9" fill="#d58048"/>
<circle cx="607.1" cy="205.6" r="0.9" fill="#d58048"/>
<circle cx="601.9" cy="205.7" r="0.9" fill="#d58048"/>
<circle cx="590.7" cy="195.2" r="0.9" fill="#d58048"/>
<circle cx="616.4" cy="198.2" r="0.9" fill="#d58048"/>
<circle cx="610.2" cy="195.4" r="0.9" fill="#d58048"/>
<circle cx="634.7" cy="198.6" r="0.9" fill="#d58048"/>
<circle cx="601.3" cy="201.0" r="0.9" fill="#d58048"/>
<circle cx="581.2" cy="198.7" r="0.9" fill="#d58048"/>
<circle cx="604.7" cy="198.2" r="0.9" fill="#d58048"/>
<circle cx="597.9" cy="197.5" r="0.9" fill="#d58048"/>
<circle cx="576.7" cy="198.3" r="0.9" fill="#d58048"/>
<ellipse cx="609.8" cy="200.9" rx="8.2" ry="3.8" fill="#bfabe6" stroke="#8f78c6" stroke-width="1"/>
<ellipse cx="608.8" cy="199.7" rx="4.5" ry="1.3" fill="#ffffff" opacity="0.25"/>
<path d="M186.7,225.9 L187.0,226.0 L193.7,227.6 L193.8,227.6 L200.7,228.7 L200.7,228.7 L207.6,229.4 L207.7,229.5 L214.6,229.9 L214.6,229.9 L221.6,230.2 L221.6,230.2 L228.5,230.2 L228.6,230.2 L235.5,230.0 L235.5,230.0 L242.4,229.6 L242.5,229.6 L249.4,228.9 L249.4,228.9 L256.4,227.9 L256.4,227.9 L263.3,226.6 L263.4,226.6 L270.1,224.9 L270.4,224.8 L275.4,221.6 L275.7,221.3 L275.9,220.9 L275.8,220.5 L275.7,220.2 L275.4,219.9 L270.4,216.9 L270.1,216.7 L263.4,215.2 L263.3,215.2 L256.4,214.1 L256.4,214.1 L249.5,213.3 L249.4,213.3 L242.5,212.8 L242.5,212.8 L235.5,212.6 L235.5,212.6 L228.6,212.6 L228.5,212.6 L221.6,212.8 L221.6,212.8 L214.6,213.2 L214.6,213.2 L207.7,213.9 L207.6,213.9 L200.7,214.9 L200.7,214.9 L193.8,216.1 L193.7,216.2 L187.0,217.9 L186.7,218.0 L181.7,221.2 L181.4,221.5 L181.2,221.8 L181.2,222.2 L181.4,222.6 L181.7,222.9Z" fill="#f7cfa4" stroke="#d08f5a" stroke-width="1.15"/>
<path d="M194.2,221.9 L194.5,222.0 L200.0,222.7 L200.0,222.7 L205.7,223.2 L205.7,223.2 L211.4,223.5 L211.4,223.5 L217.1,223.7 L217.1,223.7 L222.8,223.9 L222.8,223.9 L228.5,223.9 L228.6,223.9 L234.2,223.8 L234.3,223.8 L239.9,223.6 L240.0,223.6 L245.7,223.3 L245.7,223.3 L251.4,222.8 L251.4,222.8 L257.0,222.2 L257.1,222.2 L262.6,221.5 L262.9,221.4 L267.0,220.0 L267.2,219.8 L267.3,219.7 L267.3,219.5 L267.2,219.3 L267.0,219.2 L262.9,217.9 L262.6,217.8 L257.1,217.1 L257.1,217.1 L251.4,216.6 L251.4,216.6 L245.7,216.3 L245.7,216.3 L240.0,216.0 L240.0,216.0 L234.3,215.9 L234.2,215.9 L228.6,215.9 L228.5,215.9 L222.9,216.0 L222.8,216.0 L217.1,216.2 L217.1,216.2 L211.4,216.5 L211.4,216.5 L205.7,216.9 L205.7,216.9 L200.0,217.5 L200.0,217.5 L194.5,218.3 L194.2,218.4 L190.1,219.8 L189.9,219.9 L189.8,220.1 L189.8,220.3 L189.9,220.4 L190.1,220.6Z" fill="#fadcbc" opacity="0.9"/>
<circle cx="205.6" cy="216.4" r="0.9" fill="#d58048"/>
<circle cx="214.7" cy="224.6" r="0.9" fill="#d58048"/>
<circle cx="239.5" cy="226.2" r="0.9" fill="#d58048"/>
<circle cx="243.8" cy="215.0" r="0.9" fill="#d58048"/>
<circle cx="199.1" cy="221.4" r="0.9" fill="#d58048"/>
<circle cx="259.0" cy="218.8" r="0.9" fill="#d58048"/>
<circle cx="218.1" cy="215.2" r="0.9" fill="#d58048"/>
<circle cx="246.7" cy="218.0" r="0.9" fill="#d58048"/>
<circle cx="268.1" cy="222.4" r="0.9" fill="#d58048"/>
<circle cx="227.8" cy="222.6" r="0.9" fill="#d58048"/>
<circle cx="205.7" cy="223.9" r="0.9" fill="#d58048"/>
<circle cx="243.3" cy="221.5" r="0.9" fill="#d58048"/>
<circle cx="222.3" cy="227.3" r="0.9" fill="#d58048"/>
<circle cx="243.9" cy="226.5" r="0.9" fill="#d58048"/>
<circle cx="191.8" cy="218.7" r="0.9" fill="#d58048"/>
<circle cx="209.2" cy="220.6" r="0.9" fill="#d58048"/>
<circle cx="231.1" cy="217.3" r="0.9" fill="#d58048"/>
<circle cx="257.9" cy="225.0" r="0.9" fill="#d58048"/>
<circle cx="248.5" cy="224.5" r="0.9" fill="#d58048"/>
<circle cx="239.9" cy="217.0" r="0.9" fill="#d58048"/>
<circle cx="214.0" cy="217.0" r="0.9" fill="#d58048"/>
<ellipse cx="233.4" cy="220.9" rx="8.2" ry="3.8" fill="#bfabe6" stroke="#8f78c6" stroke-width="1"/>
<ellipse cx="232.4" cy="219.7" rx="4.5" ry="1.3" fill="#ffffff" opacity="0.25"/>
<path d="M284.4,223.9 L284.7,224.0 L291.6,225.1 L291.7,225.1 L298.7,225.8 L298.7,225.8 L305.8,226.1 L305.9,226.1 L312.9,226.3 L313.0,226.3 L320.0,226.2 L320.1,226.2 L327.2,225.9 L327.2,225.9 L334.3,225.3 L334.3,225.3 L341.4,224.6 L341.4,224.6 L348.5,223.6 L348.5,223.6 L355.6,222.4 L355.6,222.4 L362.7,220.9 L362.7,220.9 L369.6,218.9 L369.9,218.8 L374.9,215.8 L375.2,215.5 L375.3,215.1 L375.3,214.7 L375.1,214.3 L374.8,214.0 L369.9,211.6 L369.7,211.5 L362.8,210.4 L362.7,210.4 L355.7,209.7 L355.6,209.7 L348.6,209.4 L348.5,209.4 L341.4,209.2 L341.4,209.2 L334.3,209.3 L334.3,209.4 L327.2,209.7 L327.2,209.7 L320.1,210.2 L320.1,210.2 L313.0,210.9 L313.0,210.9 L305.9,211.9 L305.9,211.9 L298.8,213.1 L298.7,213.1 L291.7,214.6 L291.6,214.6 L284.7,216.6 L284.5,216.7 L279.5,219.7 L279.2,220.0 L279.0,220.4 L279.1,220.8 L279.2,221.2 L279.6,221.5Z" fill="#f7cfa4" stroke="#d08f5a" stroke-width="1.15"/>
<path d="M292.1,219.0 L292.4,219.1 L298.0,219.6 L298.1,219.6 L303.8,219.9 L303.9,219.9 L309.7,220.0 L309.7,220.0 L315.5,220.1 L315.5,220.1 L321.3,220.0 L321.4,220.0 L327.2,219.9 L327.2,219.9 L333.0,219.7 L333.0,219.7 L338.8,219.3 L338.8,219.3 L344.6,218.9 L344.7,218.9 L350.5,218.4 L350.5,218.3 L356.3,217.7 L356.3,217.7 L362.0,216.8 L362.2,216.7 L366.3,215.4 L366.5,215.2 L366.7,215.1 L366.6,214.9 L366.5,214.7 L366.2,214.6 L362.2,213.5 L362.0,213.5 L356.4,213.0 L356.3,213.0 L350.5,212.7 L350.5,212.7 L344.7,212.5 L344.7,212.5 L338.9,212.4 L338.8,212.4 L333.0,212.5 L333.0,212.5 L327.2,212.6 L327.2,212.6 L321.4,212.9 L321.4,212.9 L315.5,213.2 L315.5,213.2 L309.7,213.6 L309.7,213.6 L303.9,214.2 L303.9,214.2 L298.1,214.9 L298.0,214.9 L292.4,215.7 L292.2,215.8 L288.1,217.2 L287.8,217.3 L287.7,217.5 L287.7,217.7 L287.9,217.8 L288.1,217.9Z" fill="#fadcbc" opacity="0.9"/>
<circle cx="299.0" cy="222.6" r="0.9" fill="#d58048"/>
<circle cx="337.9" cy="217.2" r="0.9" fill="#d58048"/>
<circle cx="362.8" cy="213.4" r="0.9" fill="#d58048"/>
<circle cx="347.3" cy="213.2" r="0.9" fill="#d58048"/>
<circle cx="353.0" cy="219.8" r="0.9" fill="#d58048"/>
<circle cx="323.5" cy="220.4" r="0.9" fill="#d58048"/>
<circle cx="333.7" cy="213.1" r="0.9" fill="#d58048"/>
<circle cx="312.7" cy="217.9" r="0.9" fill="#d58048"/>
<circle cx="318.2" cy="218.3" r="0.9" fill="#d58048"/>
<circle cx="302.8" cy="221.1" r="0.9" fill="#d58048"/>
<circle cx="307.6" cy="218.0" r="0.9" fill="#d58048"/>
<circle cx="343.3" cy="215.3" r="0.9" fill="#d58048"/>
<circle cx="334.5" cy="223.2" r="0.9" fill="#d58048"/>
<circle cx="352.7" cy="213.8" r="0.9" fill="#d58048"/>
<circle cx="286.0" cy="218.6" r="0.9" fill="#d58048"/>
<circle cx="358.3" cy="219.0" r="0.9" fill="#d58048"/>
<circle cx="307.7" cy="223.9" r="0.9" fill="#d58048"/>
<circle cx="294.5" cy="221.3" r="0.9" fill="#d58048"/>
<circle cx="299.0" cy="216.9" r="0.9" fill="#d58048"/>
<ellipse cx="319.6" cy="217.3" rx="8.2" ry="3.8" fill="#bfabe6" stroke="#8f78c6" stroke-width="1"/>
<ellipse cx="318.6" cy="216.1" rx="4.5" ry="1.3" fill="#ffffff" opacity="0.25"/>
<path d="M383.2,218.8 L383.5,219.0 L389.4,220.6 L389.4,220.6 L395.5,221.7 L395.5,221.8 L401.6,222.6 L401.7,222.6 L407.8,223.1 L407.8,223.1 L413.9,223.4 L414.0,223.4 L420.1,223.4 L420.1,223.4 L426.2,223.2 L426.2,223.2 L432.3,222.8 L432.4,222.8 L438.5,222.1 L438.5,222.1 L444.6,221.1 L444.6,221.1 L450.7,219.8 L450.8,219.8 L456.7,218.0 L457.0,217.9 L461.5,214.5 L461.8,214.2 L461.9,213.9 L461.9,213.5 L461.8,213.2 L461.5,212.9 L457.0,209.7 L456.7,209.5 L450.8,207.9 L450.7,207.9 L444.7,206.7 L444.6,206.7 L438.5,205.9 L438.5,205.9 L432.4,205.4 L432.3,205.4 L426.2,205.1 L426.2,205.1 L420.1,205.1 L420.1,205.1 L414.0,205.3 L413.9,205.3 L407.8,205.7 L407.8,205.7 L401.7,206.4 L401.6,206.4 L395.6,207.4 L395.5,207.4 L389.4,208.7 L389.4,208.7 L383.5,210.5 L383.2,210.6 L378.6,214.0 L378.4,214.3 L378.2,214.6 L378.3,215.0 L378.4,215.3 L378.7,215.6Z" fill="#f7cfa4" stroke="#d08f5a" stroke-width="1.15"/>
<path d="M389.8,214.8 L390.1,214.9 L394.9,215.6 L394.9,215.6 L399.9,216.1 L400.0,216.1 L405.0,216.5 L405.0,216.5 L410.0,216.7 L410.0,216.7 L415.0,216.9 L415.1,216.9 L420.1,216.9 L420.1,216.9 L425.1,216.8 L425.1,216.8 L430.1,216.6 L430.2,216.6 L435.2,216.3 L435.2,216.3 L440.2,215.8 L440.2,215.8 L445.2,215.2 L445.3,215.2 L450.1,214.4 L450.3,214.4 L454.1,212.9 L454.3,212.7 L454.4,212.6 L454.4,212.4 L454.3,212.3 L454.0,212.1 L450.3,210.7 L450.1,210.6 L445.3,209.9 L445.2,209.9 L440.2,209.4 L440.2,209.4 L435.2,209.0 L435.2,209.0 L430.2,208.8 L430.1,208.8 L425.1,208.6 L425.1,208.6 L420.1,208.6 L420.1,208.6 L415.1,208.7 L415.0,208.7 L410.0,208.9 L410.0,208.9 L405.0,209.2 L405.0,209.2 L400.0,209.6 L399.9,209.7 L395.0,210.2 L394.9,210.2 L390.1,211.0 L389.8,211.1 L386.1,212.6 L385.9,212.7 L385.8,212.9 L385.8,213.1 L385.9,213.2 L386.1,213.4Z" fill="#fadcbc" opacity="0.9"/>
<circle cx="412.8" cy="213.5" r="0.9" fill="#d58048"/>
<circle cx="432.8" cy="219.2" r="0.9" fill="#d58048"/>
<circle cx="438.0" cy="208.7" r="0.9" fill="#d58048"/>
<circle cx="449.6" cy="215.0" r="0.9" fill="#d58048"/>
<circle cx="391.0" cy="212.5" r="0.9" fill="#d58048"/>
<circle cx="395.0" cy="217.2" r="0.9" fill="#d58048"/>
<circle cx="399.3" cy="215.2" r="0.9" fill="#d58048"/>
<circle cx="416.1" cy="218.1" r="0.9" fill="#d58048"/>
<circle cx="404.8" cy="218.3" r="0.9" fill="#d58048"/>
<circle cx="426.4" cy="211.1" r="0.9" fill="#d58048"/>
<circle cx="397.1" cy="211.5" r="0.9" fill="#d58048"/>
<circle cx="410.6" cy="221.1" r="0.9" fill="#d58048"/>
<circle cx="424.9" cy="207.3" r="0.9" fill="#d58048"/>
<circle cx="426.1" cy="216.3" r="0.9" fill="#d58048"/>
<circle cx="403.5" cy="213.8" r="0.9" fill="#d58048"/>
<circle cx="447.4" cy="210.0" r="0.9" fill="#d58048"/>
<circle cx="422.4" cy="214.2" r="0.9" fill="#d58048"/>
<circle cx="432.7" cy="213.1" r="0.9" fill="#d58048"/>
<circle cx="412.8" cy="208.6" r="0.9" fill="#d58048"/>
<ellipse cx="412.9" cy="213.7" rx="8.2" ry="3.8" fill="#bfabe6" stroke="#8f78c6" stroke-width="1"/>
<ellipse cx="411.9" cy="212.5" rx="4.5" ry="1.3" fill="#ffffff" opacity="0.25"/>
<path d="M469.3,217.4 L469.6,217.5 L475.6,219.1 L475.7,219.1 L481.8,220.4 L481.9,220.4 L488.1,221.3 L488.1,221.3 L494.3,222.0 L494.3,222.1 L500.5,222.5 L500.5,222.5 L506.7,222.8 L506.7,222.8 L512.9,222.9 L513.0,222.9 L519.1,222.8 L519.2,222.8 L525.4,222.4 L525.4,222.4 L531.6,221.8 L531.6,221.8 L537.8,221.0 L537.8,221.0 L543.8,219.7 L544.1,219.5 L548.3,217.1 L548.6,216.8 L548.8,216.4 L548.8,216.0 L548.7,215.6 L548.4,215.4 L544.1,212.6 L543.8,212.4 L537.8,210.8 L537.7,210.8 L531.6,209.5 L531.5,209.5 L525.4,208.6 L525.3,208.6 L519.2,207.9 L519.1,207.9 L512.9,207.4 L512.9,207.4 L506.7,207.1 L506.7,207.1 L500.5,207.0 L500.5,207.0 L494.3,207.1 L494.3,207.1 L488.1,207.5 L488.0,207.5 L481.9,208.1 L481.8,208.1 L475.7,209.0 L475.6,209.0 L469.6,210.3 L469.3,210.4 L465.1,212.9 L464.8,213.1 L464.6,213.5 L464.6,213.9 L464.8,214.3 L465.1,214.6Z" fill="#f7cfa4" stroke="#d08f5a" stroke-width="1.15"/>
<path d="M476.1,214.5 L476.3,214.6 L481.2,215.3 L481.3,215.3 L486.3,215.9 L486.4,215.9 L491.4,216.3 L491.4,216.3 L496.5,216.7 L496.5,216.7 L501.6,216.9 L501.6,216.9 L506.7,217.0 L506.7,217.0 L511.8,217.0 L511.8,217.0 L516.9,217.0 L516.9,217.0 L522.0,216.8 L522.0,216.8 L527.1,216.6 L527.1,216.6 L532.2,216.2 L532.2,216.2 L537.1,215.6 L537.4,215.5 L540.8,214.4 L541.1,214.3 L541.2,214.1 L541.2,213.9 L541.1,213.8 L540.9,213.6 L537.4,212.4 L537.1,212.3 L532.2,211.6 L532.2,211.6 L527.1,211.0 L527.1,211.0 L522.0,210.6 L522.0,210.6 L516.9,210.3 L516.9,210.3 L511.8,210.1 L511.8,210.1 L506.7,209.9 L506.7,209.9 L501.6,209.9 L501.6,209.9 L496.5,209.9 L496.5,209.9 L491.4,210.1 L491.4,210.1 L486.3,210.4 L486.3,210.4 L481.3,210.8 L481.2,210.8 L476.3,211.3 L476.1,211.4 L472.6,212.5 L472.3,212.6 L472.2,212.8 L472.2,213.0 L472.3,213.2 L472.6,213.3Z" fill="#fadcbc" opacity="0.9"/>
<circle cx="477.6" cy="216.9" r="0.9" fill="#d58048"/>
<circle cx="520.0" cy="211.2" r="0.9" fill="#d58048"/>
<circle cx="504.8" cy="220.1" r="0.9" fill="#d58048"/>
<circle cx="536.2" cy="218.4" r="0.9" fill="#d58048"/>
<circle cx="497.7" cy="210.4" r="0.9" fill="#d58048"/>
<circle cx="495.1" cy="214.1" r="0.9" fill="#d58048"/>
<circle cx="512.3" cy="220.3" r="0.9" fill="#d58048"/>
<circle cx="517.3" cy="218.8" r="0.9" fill="#d58048"/>
<circle cx="499.0" cy="217.2" r="0.9" fill="#d58048"/>
<circle cx="486.1" cy="218.3" r="0.9" fill="#d58048"/>
<circle cx="501.7" cy="212.6" r="0.9" fill="#d58048"/>
<circle cx="513.0" cy="214.1" r="0.9" fill="#d58048"/>
<circle cx="528.6" cy="219.6" r="0.9" fill="#d58048"/>
<circle cx="522.7" cy="219.0" r="0.9" fill="#d58048"/>
<circle cx="540.7" cy="215.1" r="0.9" fill="#d58048"/>
<circle cx="525.4" cy="210.9" r="0.9" fill="#d58048"/>
<ellipse cx="499.2" cy="214.5" rx="8.2" ry="3.8" fill="#bfabe6" stroke="#8f78c6" stroke-width="1"/>
<ellipse cx="498.2" cy="213.3" rx="4.5" ry="1.3" fill="#ffffff" opacity="0.25"/>
<path d="M555.2,219.8 L555.6,220.0 L560.2,221.4 L560.3,221.5 L565.2,222.6 L565.2,222.6 L570.1,223.4 L570.2,223.4 L575.0,223.9 L575.1,224.0 L580.0,224.3 L580.0,224.3 L584.9,224.4 L585.0,224.4 L589.8,224.4 L589.9,224.4 L594.8,224.1 L594.8,224.1 L599.7,223.6 L599.8,223.6 L604.6,222.8 L604.7,222.8 L609.6,221.8 L609.6,221.8 L614.3,220.3 L614.6,220.2 L618.1,217.5 L618.3,217.2 L618.4,216.9 L618.4,216.5 L618.3,216.2 L618.1,215.9 L614.6,213.1 L614.3,213.0 L609.6,211.5 L609.5,211.5 L604.7,210.4 L604.6,210.4 L599.8,209.6 L599.7,209.5 L594.8,209.0 L594.8,209.0 L589.9,208.6 L589.8,208.6 L585.0,208.5 L584.9,208.5 L580.0,208.6 L580.0,208.6 L575.1,208.9 L575.0,208.9 L570.2,209.4 L570.1,209.4 L565.2,210.1 L565.2,210.1 L560.3,211.1 L560.2,211.2 L555.6,212.6 L555.2,212.8 L551.8,215.5 L551.5,215.7 L551.4,216.1 L551.4,216.4 L551.5,216.8 L551.8,217.0Z" fill="#f7cfa4" stroke="#d08f5a" stroke-width="1.15"/>
<path d="M560.6,216.5 L560.9,216.5 L564.7,217.2 L564.7,217.2 L568.7,217.7 L568.8,217.7 L572.8,218.1 L572.8,218.1 L576.8,218.3 L576.9,218.3 L580.9,218.5 L580.9,218.5 L584.9,218.6 L585.0,218.6 L589.0,218.5 L589.0,218.5 L593.0,218.4 L593.0,218.4 L597.1,218.2 L597.1,218.2 L601.1,217.8 L601.1,217.8 L605.1,217.4 L605.2,217.4 L609.0,216.7 L609.3,216.6 L612.1,215.4 L612.3,215.3 L612.4,215.1 L612.4,215.0 L612.3,214.8 L612.1,214.7 L609.3,213.5 L609.0,213.4 L605.2,212.7 L605.1,212.7 L601.1,212.2 L601.1,212.2 L597.1,211.9 L597.0,211.9 L593.0,211.6 L593.0,211.6 L589.0,211.4 L589.0,211.4 L584.9,211.4 L584.9,211.4 L580.9,211.4 L580.9,211.4 L576.9,211.5 L576.8,211.5 L572.8,211.8 L572.8,211.8 L568.8,212.1 L568.7,212.1 L564.7,212.6 L564.7,212.6 L560.9,213.2 L560.6,213.3 L557.8,214.5 L557.6,214.6 L557.5,214.8 L557.4,214.9 L557.6,215.1 L557.7,215.2Z" fill="#fadcbc" opacity="0.9"/>
<circle cx="576.6" cy="220.0" r="0.9" fill="#d58048"/>
<circle cx="581.1" cy="222.1" r="0.9" fill="#d58048"/>
<circle cx="593.7" cy="218.6" r="0.9" fill="#d58048"/>
<circle cx="613.8" cy="217.0" r="0.9" fill="#d58048"/>
<circle cx="573.5" cy="212.9" r="0.9" fill="#d58048"/>
<circle cx="608.7" cy="219.8" r="0.9" fill="#d58048"/>
<circle cx="561.0" cy="216.4" r="0.9" fill="#d58048"/>
<circle cx="556.5" cy="218.0" r="0.9" fill="#d58048"/>
<circle cx="598.6" cy="219.9" r="0.9" fill="#d58048"/>
<circle cx="589.2" cy="217.9" r="0.9" fill="#d58048"/>
<circle cx="600.8" cy="215.7" r="0.9" fill="#d58048"/>
<circle cx="590.0" cy="212.2" r="0.9" fill="#d58048"/>
<circle cx="578.2" cy="213.3" r="0.9" fill="#d58048"/>
<ellipse cx="580.2" cy="216.0" rx="8.2" ry="3.8" fill="#bfabe6" stroke="#8f78c6" stroke-width="1"/>
<ellipse cx="579.2" cy="214.8" rx="4.5" ry="1.3" fill="#ffffff" opacity="0.25"/>
<path d="M155.6,226.4 L155.2,226.5 L154.9,226.8 L154.7,227.1 L154.7,227.5 L155.2,238.6 L155.3,238.9 L155.6,239.2 L155.9,239.4 L156.3,239.5 L165.0,239.2 L170.0,239.1 L195.0,238.3 L200.0,238.2 L210.0,237.9 L211.0,237.9 L211.4,237.8 L211.7,237.5 L211.9,237.1 L212.0,236.7 L211.8,236.3 L211.6,236.0 L207.8,233.3 L207.5,233.1 L201.1,231.1 L201.1,231.1 L194.5,229.6 L194.5,229.6 L187.9,228.4 L187.9,228.4 L181.3,227.5 L181.3,227.5 L174.7,226.9 L174.7,226.9 L168.1,226.5 L168.0,226.5 L161.5,226.4 L161.4,226.4Z" fill="#f7cfa4" stroke="#d08f5a" stroke-width="1.15"/>
<path d="M159.8,228.8 L159.5,228.8 L159.2,228.9 L159.0,229.1 L159.0,229.2 L159.5,234.2 L159.5,234.4 L159.7,234.5 L160.0,234.6 L160.3,234.6 L167.5,234.5 L171.6,234.5 L192.1,234.1 L196.2,234.0 L204.4,233.9 L205.2,233.9 L205.5,233.9 L205.8,233.7 L205.9,233.6 L206.0,233.4 L205.9,233.2 L205.6,233.1 L202.5,231.8 L202.3,231.8 L197.1,230.9 L197.0,230.9 L191.7,230.2 L191.6,230.2 L186.2,229.7 L186.2,229.6 L180.8,229.2 L180.8,229.2 L175.4,229.0 L175.4,229.0 L170.0,228.8 L170.0,228.8 L164.6,228.7 L164.5,228.7Z" fill="#fadcbc" opacity="0.9"/>
<circle cx="196.1" cy="234.7" r="0.9" fill="#d58048"/>
<circle cx="176.3" cy="232.3" r="0.9" fill="#d58048"/>
<circle cx="184.1" cy="231.4" r="0.9" fill="#d58048"/>
<circle cx="189.4" cy="234.4" r="0.9" fill="#d58048"/>
<circle cx="168.6" cy="232.2" r="0.9" fill="#d58048"/>
<circle cx="185.0" cy="236.6" r="0.9" fill="#d58048"/>
<circle cx="162.2" cy="228.9" r="0.9" fill="#d58048"/>
<circle cx="160.4" cy="233.9" r="0.9" fill="#d58048"/>
<circle cx="193.1" cy="231.8" r="0.9" fill="#d58048"/>
<ellipse cx="178.2" cy="232.9" rx="8.2" ry="3.8" fill="#bfabe6" stroke="#8f78c6" stroke-width="1"/>
<ellipse cx="177.2" cy="231.7" rx="4.5" ry="1.3" fill="#ffffff" opacity="0.25"/>
<path d="M218.3,235.7 L218.0,236.0 L217.8,236.3 L217.8,236.7 L217.9,237.0 L218.1,237.3 L218.5,237.5 L218.8,237.6 L220.0,237.5 L220.0,237.5 L230.0,237.1 L235.0,236.8 L250.0,236.2 L255.0,235.9 L259.9,235.7 L260.0,235.7 L265.0,235.1 L270.0,234.5 L280.0,233.4 L285.0,232.8 L292.5,231.9 L292.9,231.8 L293.2,231.5 L293.3,231.2 L293.3,230.8 L293.2,230.4 L292.9,230.1 L292.6,229.9 L292.5,229.9 L292.5,229.9 L286.0,229.1 L286.0,229.1 L279.5,228.6 L279.5,228.6 L273.0,228.3 L273.0,228.3 L266.5,228.2 L266.5,228.2 L260.0,228.3 L260.0,228.3 L253.5,228.7 L253.5,228.7 L247.0,229.2 L247.0,229.2 L240.5,230.0 L240.5,230.0 L234.0,230.9 L234.0,231.0 L227.5,232.2 L227.5,232.3 L221.2,233.9 L220.9,234.1Z" fill="#f7cfa4" stroke="#d08f5a" stroke-width="1.15"/>
<path d="M224.8,232.5 L224.6,232.6 L224.4,232.7 L224.4,232.9 L224.5,233.1 L224.7,233.2 L225.0,233.3 L225.3,233.3 L226.2,233.3 L226.2,233.3 L234.4,233.1 L238.5,233.0 L250.8,232.7 L254.9,232.6 L259.0,232.5 L259.0,232.5 L263.1,232.2 L267.2,231.9 L275.4,231.4 L279.5,231.2 L285.6,230.8 L286.0,230.7 L286.2,230.6 L286.3,230.4 L286.4,230.2 L286.2,230.1 L286.0,229.9 L285.7,229.9 L285.7,229.9 L285.6,229.9 L280.4,229.5 L280.3,229.5 L275.0,229.3 L275.0,229.3 L269.7,229.1 L269.7,229.1 L264.4,229.1 L264.3,229.1 L259.0,229.1 L259.0,229.1 L253.7,229.3 L253.7,229.3 L248.4,229.5 L248.3,229.5 L243.0,229.9 L243.0,229.9 L237.7,230.3 L237.7,230.3 L232.4,230.9 L232.3,230.9 L227.2,231.7 L227.0,231.7Z" fill="#fadcbc" opacity="0.9"/>
<circle cx="256.3" cy="233.5" r="0.9" fill="#d58048"/>
<circle cx="260.9" cy="230.6" r="0.9" fill="#d58048"/>
<circle cx="248.4" cy="233.0" r="0.9" fill="#d58048"/>
<circle cx="267.0" cy="231.7" r="0.9" fill="#d58048"/>
<circle cx="271.7" cy="232.1" r="0.9" fill="#d58048"/>
<circle cx="240.5" cy="233.0" r="0.9" fill="#d58048"/>
<path d="M325.2,226.5 L324.8,226.7 L324.6,226.9 L324.4,227.3 L324.4,227.6 L324.5,228.0 L324.8,228.3 L325.1,228.4 L325.4,228.5 L395.0,225.9 L395.4,225.8 L395.7,225.5 L395.9,225.2 L396.0,224.7 L395.8,224.4 L395.5,224.1 L395.1,223.9 L391.0,223.2 L390.9,223.1 L383.8,222.4 L383.8,222.4 L376.7,222.0 L376.7,222.0 L369.6,221.8 L369.6,221.8 L362.5,222.0 L362.5,222.0 L355.4,222.3 L355.4,222.3 L348.3,222.9 L348.3,222.9 L341.2,223.7 L341.2,223.7 L334.1,224.8 L334.1,224.8 L327.0,226.1 L327.0,226.1Z" fill="#f7cfa4" stroke="#d08f5a" stroke-width="1.15"/>
<path d="M331.5,224.2 L331.2,224.3 L331.0,224.4 L330.9,224.5 L330.9,224.7 L331.0,224.9 L331.2,225.0 L331.4,225.1 L331.7,225.1 L388.8,223.9 L389.1,223.9 L389.4,223.8 L389.5,223.6 L389.6,223.4 L389.5,223.2 L389.2,223.1 L388.9,223.0 L385.5,222.7 L385.4,222.7 L379.6,222.3 L379.6,222.3 L373.8,222.2 L373.8,222.2 L368.0,222.1 L368.0,222.1 L362.2,222.1 L362.1,222.1 L356.3,222.3 L356.3,222.3 L350.5,222.6 L350.5,222.6 L344.7,222.9 L344.6,222.9 L338.8,223.4 L338.8,223.4 L333.0,224.0 L333.0,224.0Z" fill="#fadcbc" opacity="0.9"/>
<circle cx="377.7" cy="224.2" r="0.9" fill="#d58048"/>
<circle cx="368.8" cy="224.8" r="0.9" fill="#d58048"/>
<circle cx="352.4" cy="224.7" r="0.9" fill="#d58048"/>
<circle cx="346.8" cy="225.1" r="0.9" fill="#d58048"/>
<path d="M412.1,224.3 L411.7,224.5 L411.4,224.8 L411.3,225.2 L411.3,225.6 L411.5,226.0 L411.9,226.2 L412.2,226.3 L460.0,228.7 L473.6,229.7 L474.0,229.7 L474.3,229.5 L474.5,229.2 L474.6,228.9 L474.6,228.5 L474.5,228.2 L474.3,227.9 L474.0,227.7 L473.7,227.6 L468.7,225.9 L468.6,225.9 L463.4,224.6 L463.4,224.6 L458.1,223.5 L458.1,223.5 L452.8,222.8 L452.8,222.8 L447.6,222.2 L447.5,222.2 L442.3,221.9 L442.2,221.9 L437.0,221.7 L436.9,221.7 L431.7,221.8 L431.7,221.8 L426.4,222.1 L426.4,222.1 L421.1,222.6 L421.1,222.6 L415.9,223.4 L415.8,223.4Z" fill="#f7cfa4" stroke="#d08f5a" stroke-width="1.15"/>
<path d="M417.6,223.4 L417.3,223.5 L417.1,223.6 L417.0,223.8 L417.0,224.0 L417.2,224.2 L417.5,224.3 L417.8,224.3 L457.0,225.4 L468.1,225.8 L468.4,225.8 L468.6,225.8 L468.8,225.6 L469.0,225.5 L469.0,225.3 L468.8,225.2 L468.6,225.0 L468.4,225.0 L468.2,224.9 L464.1,224.1 L464.0,224.1 L459.7,223.5 L459.7,223.5 L455.4,223.1 L455.4,223.1 L451.1,222.7 L451.0,222.7 L446.7,222.5 L446.7,222.5 L442.4,222.3 L442.4,222.3 L438.1,222.2 L438.0,222.2 L433.7,222.3 L433.7,222.3 L429.4,222.4 L429.4,222.4 L425.1,222.6 L425.0,222.6 L420.8,223.0 L420.7,223.0Z" fill="#fadcbc" opacity="0.9"/>
<circle cx="438.1" cy="224.7" r="0.9" fill="#d58048"/>
<circle cx="458.0" cy="225.9" r="0.9" fill="#d58048"/>
<circle cx="449.3" cy="225.6" r="0.9" fill="#d58048"/>
<circle cx="428.8" cy="224.3" r="0.9" fill="#d58048"/>
<path d="M525.4,238.3 L525.4,238.3 L532.0,238.0 L532.0,238.0 L538.5,237.5 L538.6,237.5 L545.1,236.7 L545.1,236.7 L551.7,235.7 L551.7,235.7 L558.2,234.3 L558.3,234.3 L564.6,232.6 L564.9,232.5 L569.6,229.4 L569.9,229.1 L570.0,228.8 L570.0,228.4 L569.8,228.0 L569.5,227.7 L564.9,225.0 L564.6,224.9 L558.3,223.6 L558.2,223.6 L551.7,222.7 L551.7,222.7 L545.2,222.1 L545.1,222.1 L538.6,221.7 L538.6,221.7 L532.0,221.6 L532.0,221.6 L525.4,221.7 L525.4,221.7 L518.9,222.0 L518.8,222.0 L512.3,222.5 L512.3,222.5 L505.7,223.3 L505.7,223.3 L499.2,224.3 L499.1,224.3 L492.6,225.7 L492.5,225.7 L486.2,227.4 L485.9,227.6 L484.1,228.7 L483.9,229.0 L483.7,229.4 L483.7,229.8 L483.9,230.2 L484.2,230.4 L484.6,230.5 L485.0,230.6 L500.1,231.7 L505.1,233.0 L510.1,234.4 L520.1,237.0 L524.8,238.3 L525.0,238.3Z" fill="#f7cfa4" stroke="#d08f5a" stroke-width="1.15"/>
<path d="M526.2,231.8 L526.2,231.8 L531.6,231.7 L531.6,231.7 L537.0,231.4 L537.0,231.4 L542.4,231.1 L542.4,231.1 L547.8,230.6 L547.8,230.6 L553.1,230.0 L553.2,230.0 L558.4,229.2 L558.6,229.2 L562.4,227.8 L562.7,227.7 L562.8,227.5 L562.8,227.3 L562.7,227.2 L562.4,227.0 L558.6,225.8 L558.4,225.8 L553.2,225.2 L553.2,225.2 L547.8,224.8 L547.8,224.8 L542.4,224.5 L542.4,224.5 L537.0,224.3 L537.0,224.3 L531.6,224.3 L531.6,224.3 L526.3,224.3 L526.2,224.3 L520.9,224.5 L520.8,224.5 L515.5,224.7 L515.4,224.7 L510.1,225.0 L510.1,225.1 L504.7,225.5 L504.7,225.5 L499.3,226.1 L499.3,226.1 L494.1,226.9 L493.8,227.0 L492.4,227.5 L492.2,227.6 L492.0,227.8 L492.0,228.0 L492.2,228.1 L492.5,228.3 L492.8,228.3 L493.1,228.3 L505.4,228.8 L509.6,229.4 L513.7,230.0 L521.9,231.2 L525.7,231.8 L525.9,231.8Z" fill="#fadcbc" opacity="0.9"/>
<circle cx="545.2" cy="228.1" r="0.9" fill="#d58048"/>
<circle cx="515.3" cy="225.0" r="0.9" fill="#d58048"/>
<circle cx="539.2" cy="226.6" r="0.9" fill="#d58048"/>
<circle cx="538.4" cy="231.9" r="0.9" fill="#d58048"/>
<circle cx="533.8" cy="228.6" r="0.9" fill="#d58048"/>
<circle cx="554.4" cy="226.1" r="0.9" fill="#d58048"/>
<circle cx="526.8" cy="229.0" r="0.9" fill="#d58048"/>
<circle cx="549.9" cy="230.0" r="0.9" fill="#d58048"/>
<circle cx="520.0" cy="227.6" r="0.9" fill="#d58048"/>
<circle cx="507.2" cy="229.8" r="0.9" fill="#d58048"/>
<circle cx="502.8" cy="228.7" r="0.9" fill="#d58048"/>
<circle cx="520.2" cy="232.6" r="0.9" fill="#d58048"/>
<circle cx="549.1" cy="225.9" r="0.9" fill="#d58048"/>
<circle cx="514.7" cy="229.5" r="0.9" fill="#d58048"/>
<circle cx="497.0" cy="228.5" r="0.9" fill="#d58048"/>
<circle cx="529.6" cy="224.6" r="0.9" fill="#d58048"/>
<ellipse cx="522.2" cy="228.7" rx="8.2" ry="3.8" fill="#bfabe6" stroke="#8f78c6" stroke-width="1"/>
<ellipse cx="521.2" cy="227.5" rx="4.5" ry="1.3" fill="#ffffff" opacity="0.25"/>
<path d="M639.7,220.8 L639.6,220.4 L639.5,220.1 L639.2,219.9 L638.9,219.8 L634.2,218.9 L634.1,218.9 L628.5,218.2 L628.4,218.2 L622.8,217.8 L622.8,217.8 L617.1,217.7 L617.1,217.7 L611.4,217.7 L611.4,217.7 L605.7,218.1 L605.7,218.1 L600.1,218.7 L600.0,218.7 L594.4,219.5 L594.3,219.5 L588.7,220.6 L588.6,220.6 L583.0,222.1 L582.9,222.1 L577.5,224.0 L577.2,224.2 L572.9,227.7 L572.7,228.0 L572.6,228.3 L572.6,228.7 L572.7,229.0 L573.0,229.3 L577.2,232.5 L577.5,232.6 L582.9,234.1 L583.0,234.2 L588.6,235.2 L588.7,235.2 L594.3,235.9 L594.4,235.9 L600.0,236.3 L600.0,236.3 L605.7,236.5 L605.7,236.5 L611.4,236.4 L611.4,236.4 L617.1,236.1 L617.1,236.0 L622.7,235.5 L622.8,235.5 L628.4,234.6 L628.5,234.6 L634.1,233.5 L634.2,233.5 L638.9,232.3 L639.3,232.1 L639.6,231.7 L639.7,231.3Z" fill="#f7cfa4" stroke="#d08f5a" stroke-width="1.15"/>
<path d="M634.1,222.8 L634.1,222.6 L633.9,222.5 L633.7,222.4 L633.5,222.3 L629.6,222.0 L629.6,222.0 L624.9,221.6 L624.9,221.6 L620.3,221.5 L620.2,221.5 L615.6,221.4 L615.6,221.4 L611.0,221.4 L610.9,221.4 L606.3,221.6 L606.3,221.6 L601.6,221.8 L601.6,221.8 L597.0,222.2 L596.9,222.2 L592.3,222.7 L592.3,222.7 L587.7,223.4 L587.6,223.4 L583.1,224.2 L582.9,224.3 L579.4,225.9 L579.2,226.0 L579.1,226.2 L579.1,226.3 L579.2,226.5 L579.4,226.6 L582.9,228.1 L583.1,228.1 L587.6,228.8 L587.6,228.8 L592.2,229.3 L592.3,229.3 L596.9,229.6 L596.9,229.6 L601.6,229.8 L601.6,229.8 L606.2,229.8 L606.3,229.8 L610.9,229.8 L610.9,229.8 L615.6,229.7 L615.6,229.7 L620.2,229.4 L620.3,229.4 L624.9,229.0 L624.9,229.0 L629.5,228.5 L629.6,228.5 L633.5,228.0 L633.8,227.9 L634.1,227.7 L634.1,227.5Z" fill="#fadcbc" opacity="0.9"/>
<circle cx="612.8" cy="227.9" r="0.9" fill="#d58048"/>
<circle cx="576.2" cy="228.1" r="0.9" fill="#d58048"/>
<circle cx="609.1" cy="233.1" r="0.9" fill="#d58048"/>
<circle cx="628.8" cy="222.4" r="0.9" fill="#d58048"/>
<circle cx="602.7" cy="232.5" r="0.9" fill="#d58048"/>
<circle cx="602.9" cy="228.1" r="0.9" fill="#d58048"/>
<circle cx="602.5" cy="222.3" r="0.9" fill="#d58048"/>
<circle cx="610.7" cy="221.6" r="0.9" fill="#d58048"/>
<circle cx="631.0" cy="227.7" r="0.9" fill="#d58048"/>
<circle cx="596.5" cy="226.6" r="0.9" fill="#d58048"/>
<circle cx="619.1" cy="222.9" r="0.9" fill="#d58048"/>
<circle cx="626.2" cy="226.5" r="0.9" fill="#d58048"/>
<circle cx="582.1" cy="226.6" r="0.9" fill="#d58048"/>
<circle cx="593.7" cy="231.6" r="0.9" fill="#d58048"/>
<circle cx="592.7" cy="222.1" r="0.9" fill="#d58048"/>
<circle cx="621.8" cy="231.6" r="0.9" fill="#d58048"/>
<ellipse cx="607.7" cy="226.7" rx="8.2" ry="3.8" fill="#bfabe6" stroke="#8f78c6" stroke-width="1"/>
<ellipse cx="606.7" cy="225.5" rx="4.5" ry="1.3" fill="#ffffff" opacity="0.25"/>
<path d="M168.6,261.3L168.5,265.7M175.1,255.1L178.2,258.2M174.8,251.1L177.5,247.7M186.2,249.7L183.1,246.6M185.7,254.5L182.5,257.5M202.3,261.8L203.4,266.1M223.7,256.6L224.7,260.8M234.4,254.0L235.4,258.3M245.5,252.2L245.9,256.5M256.8,252.8L256.5,257.1M264.7,242.8L267.3,239.3M256.8,238.3L256.6,234.0M234.8,239.3L234.6,235.0M223.8,239.8L223.6,235.5M274.8,245.8L271.6,248.8M312.2,249.1L313.1,253.4M345.6,248.2L345.1,252.6M327.9,230.9L327.8,226.5M284.4,235.4L283.8,231.0M372.7,230.1L372.0,225.8M363.7,232.1L360.4,229.2M401.6,246.0L402.2,250.3M412.8,244.6L412.8,249.0M424.0,245.2L423.4,249.6M444.0,229.0L446.2,232.8M436.9,230.9L437.5,226.6M412.9,228.8L413.1,224.5M401.9,228.3L402.1,223.9M391.1,228.5L391.0,224.1M380.4,229.0L379.7,224.6M441.9,242.9L438.9,246.1M492.7,247.4L493.1,251.8M473.6,232.2L473.9,227.8M462.6,231.4L463.0,227.0M539.1,252.6L538.3,256.9M593.3,254.9L593.5,259.3M604.5,254.7L604.2,259.1M616.5,247.2L616.7,242.8M605.5,246.8L605.7,242.4M594.5,246.5L594.7,242.1M583.4,246.0L583.8,241.6M561.5,244.5L561.8,240.1M550.5,243.7L550.8,239.3M539.6,242.9L539.9,238.5M627.5,254.4L623.5,256.1M633.9,258.8L632.9,263.1M630.4,247.6L630.6,243.2M155.9,284.6L155.9,289.0M177.9,284.6L177.9,289.0M188.9,284.7L188.9,289.1M194.9,281.7L197.8,278.4M197.8,264.5L200.4,268.1M195.6,265.8L195.8,261.4M152.2,274.7L147.8,274.7M152.2,285.7L147.8,285.7M198.4,278.4L195.5,281.7M216.1,279.6L217.1,283.9M237.6,274.7L238.6,279.0M277.3,270.4L280.8,273.1M292.2,253.9L295.3,257.0M286.0,258.0L285.9,253.6M274.8,257.8L275.2,253.4M263.9,257.0L264.2,252.6M231.8,258.4L230.8,254.2M210.5,263.6L209.4,259.4M201.1,267.1L198.5,263.5M283.3,269.6L279.9,266.9M276.5,278.2L273.1,275.5M305.5,272.5L306.4,276.8M316.3,270.4L317.2,274.7M327.6,268.4L327.6,272.8M349.7,270.1L349.2,274.5M360.7,271.3L360.2,275.7M364.7,266.7L368.9,268.2M327.0,250.4L326.8,246.0M316.5,252.0L315.7,247.7M305.7,254.1L304.9,249.8M288.4,263.7L285.3,260.6M387.9,270.7L388.6,275.1M398.8,269.1L399.5,273.4M409.7,267.5L410.3,271.8M421.3,267.8L420.6,272.2M457.5,263.8L461.2,266.3M415.7,249.1L415.8,244.7M405.1,250.1L404.5,245.8M383.4,253.2L382.7,248.8M474.8,271.5L475.3,275.8M508.2,270.9L507.3,275.3M529.8,275.2L528.9,279.5M540.0,276.9L540.4,281.2M550.1,261.9L552.9,258.5M541.8,257.1L542.6,252.8M531.0,255.1L531.8,250.8M520.2,253.2L520.9,248.8M509.5,251.6L509.9,247.3M628.1,261.8L629.1,257.5M596.2,257.6L596.0,253.2M585.2,257.9L585.0,253.5M581.3,273.4L580.4,277.7M181.7,302.6L181.6,307.0M189.2,298.9L192.3,301.9M193.0,294.4L195.8,291.0M185.8,288.3L185.8,283.9M163.8,288.2L163.8,283.8M199.6,295.3L196.4,298.3M207.1,303.3L203.9,306.3M216.0,304.1L215.9,308.5M226.5,304.1L227.4,308.4M237.2,301.8L238.2,306.1M269.6,295.1L270.4,299.4M272.7,280.5L273.0,276.1M229.7,281.5L228.7,277.2M218.9,284.0L218.0,279.7M208.2,286.5L207.2,282.2M201.4,293.3L198.3,290.3M310.1,296.0L309.8,300.4M331.4,295.0L332.2,299.3M353.1,291.2L353.9,295.6M361.9,277.1L364.8,273.8M352.9,274.8L353.3,270.5M341.9,273.7L342.4,269.3M288.4,280.4L287.5,276.1M282.0,287.4L278.7,284.5M379.4,288.5L376.3,291.6M398.3,294.0L397.7,298.4M408.7,295.3L409.1,299.7M419.5,294.0L420.1,298.4M441.3,291.0L441.9,295.3M452.4,282.9L455.3,279.7M423.6,272.8L424.3,268.4M413.4,271.5L412.7,267.2M402.5,273.1L401.8,268.8M391.6,274.8L391.0,270.4M461.2,284.8L458.1,287.9M469.0,292.6L465.9,295.7M510.7,294.6L511.1,299.0M539.0,283.4L541.7,286.9M547.8,276.7L550.5,280.2M541.0,280.3L540.9,275.9M529.6,279.0L530.5,274.7M518.9,276.8L519.7,272.5M486.9,273.8L486.5,269.4M458.7,284.6L455.8,281.3M530.0,294.9L527.4,291.3M533.8,292.4L533.6,296.8M545.0,293.9L544.2,298.2M566.6,298.2L565.7,302.5M587.7,301.1L588.0,305.5M607.7,298.9L610.6,302.3M616.2,291.8L619.0,295.2M625.0,285.0L627.6,288.5M612.0,285.2L613.1,280.9M601.3,282.6L602.4,278.3M590.6,280.0L591.7,275.7M569.6,277.7L569.3,273.3M540.7,287.1L538.0,283.6M632.0,287.6L631.8,283.2M615.6,299.5L612.7,296.1M619.5,301.2L619.6,305.5M631.0,302.3L629.9,306.5M641.6,304.9L640.6,309.2M645.6,287.1L645.5,282.7M152.2,332.3L152.2,336.7M184.5,330.8L185.6,335.0M195.1,327.9L196.2,332.1M205.7,325.1L206.8,329.3M232.9,312.4L236.2,315.3M215.8,307.9L215.9,303.5M151.2,314.2L150.1,309.9M152.2,322.6L147.8,322.6M152.2,333.6L147.8,333.6M232.0,321.2L228.8,318.2M229.2,323.1L229.0,327.5M261.9,324.4L262.1,328.8M272.3,322.6L273.3,326.8M283.1,320.1L284.0,324.4M316.4,317.4L315.9,321.7M316.2,316.6L319.8,314.1M318.1,302.5L318.5,298.1M285.2,300.3L285.5,295.9M274.3,299.6L274.5,295.2M264.0,301.5L263.1,297.2M253.2,303.7L252.4,299.4M231.7,308.2L230.8,303.9M230.7,308.8L227.9,312.2M317.4,310.3L313.8,312.8M333.4,318.9L332.9,323.3M343.9,319.3L344.4,323.7M354.5,317.5L355.3,321.9M365.4,315.6L366.2,319.9M376.2,313.7L377.0,318.0M387.8,313.5L387.2,317.9M398.7,315.1L398.1,319.4M404.9,308.1L407.9,311.3M385.0,297.2L385.5,292.9M374.1,295.9L374.6,291.6M363.7,295.4L363.1,291.1M352.9,297.1L352.1,292.7M322.1,302.8L318.8,299.9M419.6,314.8L416.2,317.5M426.7,317.3L427.2,321.7M437.6,316.0L438.1,320.4M448.6,314.7L449.1,319.1M471.0,313.3L470.4,317.6M481.9,315.0L481.2,319.3M487.1,318.7L490.2,315.5M482.9,301.1L485.3,304.8M464.5,296.7L465.2,292.3M453.7,294.8L454.4,290.5M443.4,295.1L442.8,290.7M432.5,296.6L431.9,292.2M414.5,304.7L411.6,301.4M486.9,313.1L483.9,316.3M494.8,317.9L494.1,322.2M527.0,320.2L527.3,324.6M538.0,319.4L538.3,323.8M577.7,314.4L580.6,317.7M574.9,310.0L578.0,306.9M556.6,302.3L557.4,298.0M535.4,298.5L535.3,294.1M513.6,299.9L513.2,295.6M491.7,301.9L491.3,297.5M483.2,306.9L480.9,303.2M634.0,306.6L635.0,302.3M623.6,304.7L623.9,300.3M601.8,305.3L601.7,300.9M584.1,313.4L581.3,310.0M589.4,319.0L585.9,321.6M595.8,325.3L594.8,329.6M617.0,326.1L617.2,330.4M628.0,325.5L628.2,329.9M648.0,318.4L652.4,318.1M160.7,355.2L162.0,359.4M169.7,351.8L173.0,354.7M176.9,343.5L180.2,346.4M170.9,337.7L170.9,333.3M159.9,337.7L159.9,333.3M152.2,347.6L147.8,347.6M152.2,358.6L147.8,358.6M172.4,354.7L169.1,351.8M180.1,351.0L180.0,355.4M191.1,351.3L191.0,355.7M255.6,341.9L256.1,346.2M259.8,334.2L263.6,336.3M256.7,328.0L257.0,323.6M245.8,327.3L246.0,322.9M234.8,326.7L235.0,322.3M223.8,326.1L224.0,321.7M192.4,333.4L191.3,329.2M272.3,342.6L272.0,347.0M283.3,343.4L283.0,347.8M315.3,340.1L316.1,344.4M334.5,334.0L337.5,337.2M331.2,321.9L334.3,318.7M321.7,321.2L322.1,316.8M310.7,320.1L311.2,315.7M300.1,319.8L299.9,315.4M279.0,324.4L278.0,320.1M268.3,326.8L267.3,322.6M264.2,335.1L260.4,333.0M355.5,337.4L355.1,341.8M387.7,339.4L388.5,343.7M398.6,337.6L399.3,341.9M415.0,325.3L417.9,322.0M407.3,319.8L407.9,315.5M364.5,319.3L363.7,315.0M353.6,321.3L352.8,316.9M346.8,327.9L343.7,324.8M434.1,337.0L433.4,341.3M455.8,340.7L455.0,345.0M466.2,341.0L466.5,345.4M488.0,338.9L488.4,343.3M499.0,338.0L499.4,342.3M510.5,338.1L509.7,342.5M508.2,335.6L512.1,333.5M510.6,324.0L514.3,326.5M504.8,323.9L505.6,319.6M472.4,318.4L472.9,314.1M461.9,318.2L461.5,313.8M451.0,319.4L450.5,315.0M431.3,323.5L428.4,320.1M422.9,330.6L420.0,327.3M513.2,334.2L509.4,336.3M530.9,340.7L530.0,345.1M573.9,344.1L574.1,348.5M596.2,343.5L595.8,347.9M604.1,341.4L607.1,344.5M599.2,330.3L600.2,326.0M588.5,327.8L589.5,323.5M567.0,322.9L568.0,318.6M556.9,321.0L556.6,316.6M545.9,321.7L545.6,317.3M535.0,322.5L534.6,318.1M524.0,323.3L523.7,318.9M639.3,330.4L640.1,326.1M628.8,330.7L628.6,326.3M606.9,331.8L606.6,327.4M608.0,333.2L604.7,336.1M608.7,344.2L605.6,341.0M638.6,354.3L637.5,358.6M650.5,353.2L654.9,352.8M181.4,379.8L181.5,384.2M202.4,376.0L203.5,380.3M207.3,368.9L211.2,370.9M208.0,361.9L211.4,359.2M179.4,356.5L179.5,352.1M169.2,357.6L168.0,353.3M158.7,360.8L157.4,356.6M214.9,363.3L211.3,365.9M218.9,371.3L220.0,375.5M229.6,368.6L230.7,372.9M263.1,367.9L262.9,372.3M291.7,354.6L295.4,352.2M286.1,348.7L286.4,344.3M275.1,347.9L275.4,343.5M264.2,347.2L264.4,342.8M243.2,349.2L242.1,344.9M232.5,351.9L231.4,347.6M221.9,354.6L220.8,350.4M306.4,363.8L307.3,368.1M339.6,361.4L339.2,365.8M350.6,362.5L350.2,366.9M361.6,363.7L361.1,368.1M376.2,350.0L378.9,346.5M325.5,343.6L324.6,339.3M298.4,354.3L294.6,352.1M439.5,361.6L438.8,366.0M464.3,353.6L468.1,355.7M461.2,347.2L464.6,344.4M431.2,340.5L431.9,336.1M410.1,340.7L409.5,336.3M481.9,360.1L482.3,364.5M493.1,359.6L493.1,364.0M504.3,361.5L503.5,365.8M536.1,367.6L536.5,372.0M543.5,363.9L547.0,366.6M549.6,358.0L552.9,355.0M542.2,349.8L545.5,346.9M511.9,342.7L512.7,338.3M468.7,345.0L468.3,340.6M559.9,362.3L556.5,365.2M567.6,364.4L567.7,368.8M589.7,368.3L588.6,372.6M610.9,374.0L609.9,378.2M632.3,374.6L632.3,379.0M647.8,360.0L648.5,355.7M636.9,357.6L638.0,353.3M605.0,349.5L606.0,345.2M594.7,348.0L594.6,343.6M555.0,355.7L552.0,352.5M178.6,384.2L181.5,380.9M169.3,384.4L169.2,380.0M152.2,387.6L147.8,387.6M198.2,397.4L194.8,400.1M205.5,399.1L206.7,403.3M216.1,396.0L217.3,400.2M226.7,393.1L227.8,397.3M248.7,388.0L248.6,392.4M259.7,388.4L259.5,392.8M278.9,377.8L281.8,374.5M249.8,371.1L249.9,366.7M238.8,370.8L238.9,366.4M228.6,372.6L227.5,368.4M207.3,378.1L206.2,373.8M288.5,383.2L285.0,385.8M315.1,385.3L315.9,389.6M348.3,382.5L348.0,386.8M364.4,373.6L367.5,376.7M348.9,366.7L349.3,362.3M327.1,364.6L327.3,360.3M316.8,366.0L315.9,361.7M306.1,368.3L305.2,364.0M295.3,370.6L294.4,366.3M288.2,376.7L285.0,373.7M390.9,384.4L391.5,388.8M401.8,383.0L402.4,387.3M442.9,377.6L446.0,380.8M450.9,370.0L453.9,373.1M436.3,365.7L436.9,361.3M414.5,362.4L415.2,358.1M404.2,362.2L403.6,357.8M393.4,363.9L392.7,359.5M382.5,365.6L381.8,361.3M374.3,370.1L371.4,366.8M448.6,378.6L445.6,375.4M465.4,384.3L464.7,388.7M476.3,386.1L475.6,390.4M486.6,386.3L487.0,390.7M508.6,384.3L508.9,388.7M519.5,383.5L519.9,387.9M528.4,379.0L530.6,382.8M528.4,376.2L531.3,372.9M520.1,369.1L522.9,365.7M499.6,365.1L500.4,360.8M478.4,365.0L477.9,360.7M467.5,366.2L467.0,361.8M538.8,380.0L535.6,383.1M546.5,387.8L543.4,390.9M566.1,393.2L565.4,397.5M576.7,392.9L576.8,397.3M587.7,392.7L587.8,397.1M598.7,392.6L598.7,397.0M606.5,389.4L609.7,392.5M601.4,377.4L602.5,373.1M590.8,374.5L591.9,370.2M570.0,370.0L569.8,365.6M559.1,370.7L558.8,366.3M540.1,376.9L537.5,373.3M647.8,379.7L647.8,375.3M636.8,379.5L636.8,375.1M618.1,382.9L615.0,379.8M617.3,388.3L613.8,391.0M655.6,403.7L654.4,408.0M653.6,397.1L658.0,396.7M652.9,386.1L657.2,385.8M198.2,407.3L201.0,403.9M157.9,405.4L156.6,401.2M152.2,420.0L147.8,420.0M163.5,424.0L163.8,428.4M174.7,423.8L174.6,428.2M185.3,422.9L186.6,427.1M267.8,393.0L268.1,388.6M256.9,392.5L257.1,388.1M246.4,392.5L245.6,388.1M232.6,413.4L233.7,417.7M243.8,411.6L244.2,416.0M266.1,411.9L265.8,416.3M371.3,404.9L372.0,409.2M387.5,389.2L387.1,384.8M376.1,389.0L376.6,384.6M365.2,388.0L365.6,383.6M354.3,387.0L354.6,382.6M343.3,386.1L343.6,381.7M332.9,386.1L332.1,381.8M293.2,396.9L289.7,394.3M282.2,410.0L283.1,414.3M292.9,407.6L293.9,411.9M316.7,405.7L317.6,410.0M327.8,404.0L328.2,408.4M350.2,405.0L349.7,409.3M462.8,405.1L463.3,409.5M471.7,402.6L474.7,405.9M478.9,398.4L482.0,395.2M462.0,388.3L462.7,384.0M429.9,384.3L429.4,379.9M397.2,388.4L396.6,384.0M391.2,402.3L391.8,406.6M407.4,402.0L407.9,406.4M429.9,402.2L429.3,406.6M550.0,408.9L550.1,413.3M560.1,395.1L560.7,390.8M549.2,392.6L550.2,388.3M527.8,387.7L528.7,383.4M506.5,387.8L506.2,383.4M485.2,397.2L482.1,400.3M517.2,405.7L516.3,410.0M528.0,408.2L526.9,412.5M623.3,398.8L624.5,394.6M613.1,396.1L613.4,391.7M591.3,395.8L591.2,391.4M580.3,396.0L580.2,391.6M578.2,411.1L577.2,415.4M603.5,414.3L602.4,418.5M628.0,420.6L627.9,425.0M639.0,420.8L638.9,425.2M655.0,415.6L659.4,415.3" stroke="#d88a38" stroke-width="1" fill="none"/>
<path d="M151.3,260.3 L151.5,261.6 L152.2,262.7 L153.2,263.5 L154.5,263.8 L155.7,263.7 L158.2,263.0 L164.0,262.1 L167.7,262.2 L169.1,261.9 L170.3,261.2 L175.8,255.7 L176.6,254.5 L176.8,253.0 L176.4,251.6 L175.4,250.5 L170.2,246.4 L169.2,245.9 L168.1,245.7 L164.1,245.6 L164.1,245.6 L158.5,245.6 L158.5,245.6 L154.8,245.6 L153.5,245.8 L152.3,246.6 L151.6,247.7 L151.3,249.1Z" fill="url(#gs)" stroke="#d88a38" stroke-width="1.2"/>
<ellipse cx="164.7" cy="252.1" rx="9.3" ry="4.5" fill="#cfc3f0" stroke="#a193d6" stroke-width="1"/>
<ellipse cx="163.7" cy="250.9" rx="5.1" ry="1.6" fill="#ffffff" opacity="0.25"/>
<path d="M202.7,239.9 L202.7,239.9 L197.2,241.2 L197.2,241.2 L193.0,242.2 L191.3,243.2 L184.8,249.9 L184.0,251.0 L183.7,252.3 L184.0,253.6 L184.7,254.7 L191.0,261.3 L192.1,262.1 L193.4,262.4 L196.9,262.5 L201.8,262.7 L202.8,262.6 L207.6,261.4 L207.6,261.4 L213.1,260.1 L218.6,258.7 L224.2,257.4 L229.7,256.0 L235.2,254.7 L240.8,253.4 L246.5,253.0 L252.1,253.3 L255.6,253.6 L257.0,253.4 L258.2,252.7 L264.6,246.8 L265.4,245.5 L265.7,244.0 L265.3,242.5 L264.3,241.4 L259.8,238.1 L258.7,237.6 L257.6,237.4 L255.1,237.5 L250.1,237.8 L235.1,238.4 L230.1,238.7 L220.1,239.1 L215.0,239.3 L205.0,239.6 L203.9,239.7 L203.2,239.8Z" fill="url(#gs)" stroke="#d88a38" stroke-width="1.2"/>
<ellipse cx="223.6" cy="246.6" rx="9.3" ry="4.5" fill="#cfc3f0" stroke="#a193d6" stroke-width="1"/>
<ellipse cx="222.6" cy="245.4" rx="5.1" ry="1.6" fill="#ffffff" opacity="0.25"/>
<path d="M274.3,241.3 L273.4,242.4 L273.1,243.8 L273.3,245.1 L274.0,246.3 L281.3,254.1 L282.6,254.9 L284.1,255.2 L286.8,255.0 L287.3,255.0 L292.3,253.9 L297.6,252.9 L303.0,251.8 L308.3,250.8 L313.7,249.7 L319.0,248.7 L324.4,247.7 L329.9,247.5 L335.4,248.1 L340.7,248.6 L343.4,248.9 L344.5,248.8 L345.6,248.4 L346.5,247.6 L351.0,241.7 L351.6,240.6 L351.7,239.4 L351.5,238.2 L350.8,237.2 L346.2,232.3 L345.2,231.5 L344.0,231.2 L340.4,230.8 L340.4,230.8 L335.1,230.2 L335.1,230.2 L331.6,229.9 L331.2,229.9 L330.0,229.9 L320.2,230.3 L320.0,230.3 L315.2,230.9 L310.2,231.5 L300.2,232.6 L295.2,233.2 L285.2,234.4 L282.7,234.7 L281.7,234.9 L280.8,235.5Z" fill="url(#gs)" stroke="#d88a38" stroke-width="1.2"/>
<ellipse cx="318.0" cy="239.4" rx="9.3" ry="4.5" fill="#cfc3f0" stroke="#a193d6" stroke-width="1"/>
<ellipse cx="317.0" cy="238.2" rx="5.1" ry="1.6" fill="#ffffff" opacity="0.25"/>
<path d="M377.3,228.5 L377.3,228.5 L370.3,229.6 L370.3,229.6 L365.1,230.4 L363.9,230.8 L363.0,231.5 L358.0,237.1 L357.2,238.4 L357.1,240.0 L357.7,241.4 L363.0,249.5 L364.1,250.6 L365.6,251.0 L369.7,251.4 L370.5,251.3 L376.9,250.4 L383.8,249.4 L390.8,248.4 L397.7,247.4 L404.7,246.5 L411.7,245.5 L418.8,245.4 L425.8,246.4 L431.7,247.2 L433.1,247.1 L434.4,246.4 L435.3,245.2 L435.6,243.8 L435.4,242.4 L434.5,241.2 L431.1,237.9 L434.4,235.9 L435.4,235.0 L436.0,233.7 L436.0,232.2 L435.4,230.9 L434.4,230.0 L433.1,229.5 L432.4,229.4 L432.4,229.4 L427.3,228.7 L427.0,228.7 L424.9,228.5 L400.1,227.3 L399.8,227.3 L380.9,228.0 L380.5,228.1Z" fill="url(#gs)" stroke="#d88a38" stroke-width="1.2"/>
<ellipse cx="393.8" cy="236.3" rx="9.3" ry="4.5" fill="#cfc3f0" stroke="#a193d6" stroke-width="1"/>
<ellipse cx="392.8" cy="235.1" rx="5.1" ry="1.6" fill="#ffffff" opacity="0.25"/>
<path d="M452.7,230.1 L452.7,230.1 L447.6,230.8 L446.3,231.3 L439.3,235.6 L438.3,236.4 L437.8,237.6 L437.6,238.8 L438.0,240.1 L438.7,241.1 L446.3,248.2 L447.1,248.8 L448.1,249.1 L452.7,249.8 L458.5,250.6 L458.9,250.7 L464.4,250.9 L464.8,250.9 L470.6,250.3 L476.7,249.7 L482.7,249.2 L488.8,248.6 L494.9,248.1 L500.9,247.6 L507.1,247.1 L513.3,247.4 L516.3,247.9 L517.7,247.9 L518.9,247.3 L519.9,246.4 L521.5,243.8 L522.0,242.6 L522.0,241.3 L521.5,240.1 L520.7,239.1 L519.5,238.5 L509.7,235.9 L504.7,234.6 L500.1,233.4 L499.5,233.3 L460.0,230.3 L459.9,230.3 L454.9,230.0 L454.1,230.0 L453.4,230.0Z" fill="url(#gs)" stroke="#d88a38" stroke-width="1.2"/>
<ellipse cx="467.3" cy="238.6" rx="9.3" ry="4.5" fill="#cfc3f0" stroke="#a193d6" stroke-width="1"/>
<ellipse cx="466.3" cy="237.4" rx="5.1" ry="1.6" fill="#ffffff" opacity="0.25"/>
<path d="M532.2,241.5 L530.8,241.7 L529.5,242.5 L528.7,243.7 L528.5,245.2 L528.9,246.6 L531.0,250.7 L532.0,251.8 L533.5,252.5 L538.5,253.4 L545.7,254.7 L552.9,256.1 L553.1,256.1 L559.8,257.1 L560.5,257.2 L567.3,256.9 L574.5,256.5 L581.8,256.2 L589.1,256.0 L596.4,255.7 L603.7,255.5 L611.2,256.1 L614.9,256.9 L616.4,256.9 L617.8,256.2 L618.8,255.0 L620.5,251.5 L620.9,249.9 L620.6,248.4 L620.5,248.2 L619.7,247.2 L618.7,246.5 L617.4,246.3 L590.0,245.4 L584.9,245.2 L579.9,244.9 L549.9,242.7 L544.9,242.4Z" fill="url(#gs)" stroke="#d88a38" stroke-width="1.2"/>
<path d="M628.7,246.6 L627.4,246.9 L626.2,247.6 L625.4,248.7 L625.1,250.1 L625.4,251.5 L627.5,256.8 L628.5,258.1 L630.0,258.9 L633.3,259.6 L639.0,260.9 L640.2,261.2 L641.5,261.3 L642.8,260.9 L643.8,260.0 L644.4,258.9 L644.5,257.6 L644.0,250.3 L643.7,249.0 L642.9,248.0 L641.9,247.3 L640.6,247.0Z" fill="url(#gs)" stroke="#d88a38" stroke-width="1.2"/>
<path d="M151.3,282.0 L151.6,283.4 L152.3,284.5 L153.5,285.3 L154.8,285.5 L160.2,285.5 L166.2,285.5 L172.3,285.5 L178.3,285.5 L184.4,285.5 L190.4,285.6 L191.4,285.6 L192.8,285.4 L194.0,284.6 L194.8,283.4 L195.0,282.0 L194.7,280.6 L193.8,279.5 L187.1,273.5 L190.5,270.9 L191.5,269.9 L191.9,268.5 L191.8,267.1 L191.1,265.8 L190.0,265.0 L188.6,264.6 L184.3,264.5 L184.3,264.5 L178.3,264.3 L178.3,264.3 L172.3,264.1 L172.2,264.1 L166.4,264.0 L166.1,264.0 L160.8,264.3 L160.1,264.4 L154.5,266.0 L154.5,266.0 L153.9,266.2 L152.5,266.9 L151.6,268.1 L151.3,269.5Z" fill="url(#gs)" stroke="#d88a38" stroke-width="1.2"/>
<ellipse cx="176.9" cy="273.2" rx="9.3" ry="4.5" fill="#cfc3f0" stroke="#a193d6" stroke-width="1"/>
<ellipse cx="175.9" cy="272.0" rx="5.1" ry="1.6" fill="#ffffff" opacity="0.25"/>
<path d="M194.7,270.6 L193.8,271.5 L193.4,272.7 L193.3,273.9 L193.7,275.1 L194.4,276.1 L201.5,282.4 L203.0,283.2 L204.6,283.2 L208.2,282.4 L214.2,281.0 L220.1,279.6 L226.1,278.2 L232.1,276.9 L238.2,275.5 L244.3,274.9 L250.4,275.2 L256.4,275.5 L262.3,275.8 L268.3,276.2 L271.8,276.4 L273.4,276.1 L274.8,275.1 L283.7,263.7 L284.2,263.2 L285.0,262.0 L285.2,260.7 L285.0,259.3 L284.2,258.2 L283.0,257.4 L281.7,257.2 L279.6,257.2 L271.8,256.6 L271.8,256.6 L264.1,256.1 L264.1,256.1 L256.4,255.5 L256.4,255.5 L248.9,255.1 L248.6,255.1 L241.6,255.3 L240.9,255.4 L233.7,257.1 L233.6,257.1 L225.9,258.9 L225.9,258.9 L218.2,260.8 L218.2,260.8 L210.5,262.7 L210.5,262.7 L203.7,264.4 L202.5,265.0Z" fill="url(#gs)" stroke="#d88a38" stroke-width="1.2"/>
<ellipse cx="235.8" cy="265.8" rx="9.3" ry="4.5" fill="#cfc3f0" stroke="#a193d6" stroke-width="1"/>
<ellipse cx="234.8" cy="264.6" rx="5.1" ry="1.6" fill="#ffffff" opacity="0.25"/>
<path d="M281.0,271.1 L280.4,272.3 L280.3,273.6 L280.6,274.8 L281.4,275.9 L282.5,276.5 L283.8,276.8 L288.8,276.7 L289.4,276.6 L296.5,275.2 L304.1,273.7 L311.6,272.2 L319.1,270.8 L326.8,269.3 L334.5,269.4 L342.1,270.2 L349.6,271.0 L357.1,271.8 L360.8,272.2 L362.4,272.1 L363.7,271.2 L364.6,269.9 L367.3,262.2 L367.4,260.8 L367.0,259.4 L364.5,254.7 L363.4,253.4 L361.9,252.8 L358.6,252.4 L358.6,252.4 L352.8,251.8 L352.8,251.8 L347.0,251.2 L347.0,251.2 L341.2,250.5 L341.2,250.5 L335.4,249.9 L335.4,249.9 L330.0,249.4 L329.5,249.4 L324.4,249.6 L323.9,249.7 L318.4,250.7 L318.4,250.7 L312.7,251.8 L312.7,251.8 L306.9,252.9 L306.9,252.9 L301.1,254.1 L301.1,254.1 L296.7,255.0 L294.9,255.9 L285.8,265.1 L285.5,265.4Z" fill="url(#gs)" stroke="#d88a38" stroke-width="1.2"/>
<ellipse cx="332.1" cy="260.4" rx="9.3" ry="4.5" fill="#cfc3f0" stroke="#a193d6" stroke-width="1"/>
<ellipse cx="331.1" cy="259.2" rx="5.1" ry="1.6" fill="#ffffff" opacity="0.25"/>
<path d="M371.3,260.1 L370.9,261.4 L371.1,262.8 L373.8,270.9 L374.4,272.0 L375.3,272.8 L376.4,273.2 L377.7,273.2 L380.2,272.8 L386.8,271.8 L393.4,270.8 L400.0,269.8 L406.5,268.8 L413.3,267.9 L420.0,268.6 L426.6,269.5 L433.2,270.5 L439.8,271.5 L446.4,272.5 L449.9,273.1 L451.2,273.0 L452.4,272.5 L453.4,271.6 L458.6,263.8 L459.2,262.3 L459.0,260.8 L458.3,259.4 L452.9,253.8 L452.0,253.1 L450.9,252.8 L446.0,252.0 L446.0,252.0 L439.4,251.1 L439.4,251.1 L432.8,250.2 L432.8,250.2 L426.3,249.3 L426.3,249.3 L419.9,248.4 L419.6,248.4 L413.7,248.1 L413.1,248.2 L406.9,249.0 L406.9,249.0 L400.3,249.9 L400.3,249.9 L393.8,250.8 L393.7,250.8 L387.2,251.7 L387.2,251.7 L380.6,252.7 L380.6,252.7 L376.5,253.3 L374.9,253.9 L373.9,255.1Z" fill="url(#gs)" stroke="#d88a38" stroke-width="1.2"/>
<ellipse cx="418.3" cy="258.7" rx="9.3" ry="4.5" fill="#cfc3f0" stroke="#a193d6" stroke-width="1"/>
<ellipse cx="417.3" cy="257.5" rx="5.1" ry="1.6" fill="#ffffff" opacity="0.25"/>
<path d="M465.7,259.7 L465.0,260.7 L464.6,261.9 L464.8,263.2 L465.3,264.3 L470.3,271.1 L471.2,271.9 L472.3,272.4 L473.6,272.5 L477.0,272.1 L483.3,271.4 L489.6,270.7 L496.0,270.0 L502.4,270.8 L508.8,272.0 L515.0,273.2 L521.3,274.4 L527.6,275.7 L533.7,277.0 L533.9,277.0 L539.5,277.7 L540.2,277.7 L544.3,277.4 L545.4,277.1 L546.4,276.4 L554.0,269.1 L554.8,267.9 L555.1,266.5 L554.7,265.1 L553.8,263.9 L546.2,257.5 L544.6,256.7 L539.6,255.8 L539.6,255.8 L533.3,254.6 L533.3,254.6 L527.1,253.5 L527.1,253.5 L520.8,252.4 L520.8,252.3 L514.7,251.3 L514.5,251.2 L508.8,250.7 L508.2,250.7 L502.4,251.1 L502.3,251.1 L496.1,251.6 L496.1,251.6 L489.8,252.2 L489.8,252.2 L483.6,252.7 L483.6,252.7 L477.3,253.3 L477.3,253.3 L472.8,253.7 L471.6,254.0 L470.6,254.7Z" fill="url(#gs)" stroke="#d88a38" stroke-width="1.2"/>
<ellipse cx="507.1" cy="261.4" rx="9.3" ry="4.5" fill="#cfc3f0" stroke="#a193d6" stroke-width="1"/>
<ellipse cx="506.1" cy="260.2" rx="5.1" ry="1.6" fill="#ffffff" opacity="0.25"/>
<path d="M645.2,267.4 L644.8,266.0 L643.9,264.8 L642.6,264.2 L638.4,263.2 L638.4,263.2 L631.7,261.7 L631.7,261.7 L625.0,260.1 L625.0,260.1 L618.2,258.6 L618.2,258.6 L611.8,257.2 L611.4,257.1 L605.2,256.4 L604.7,256.4 L598.4,256.6 L598.3,256.6 L591.6,256.8 L591.6,256.8 L584.9,257.0 L584.9,257.0 L578.2,257.3 L578.1,257.3 L572.8,257.5 L571.0,258.2 L564.7,262.5 L563.8,263.5 L563.3,264.6 L563.2,265.9 L563.7,267.2 L564.5,268.1 L570.7,273.2 L571.9,273.8 L573.2,273.9 L578.2,273.6 L585.1,275.1 L591.9,276.7 L598.6,278.3 L605.4,280.0 L612.1,281.6 L618.2,283.1 L619.1,283.2 L625.2,283.0 L631.9,282.7 L638.7,282.5 L642.7,282.3 L644.0,282.0 L645.2,281.2 L645.9,280.0 L646.0,278.6Z" fill="url(#gs)" stroke="#d88a38" stroke-width="1.2"/>
<ellipse cx="603.3" cy="267.1" rx="9.3" ry="4.5" fill="#cfc3f0" stroke="#a193d6" stroke-width="1"/>
<ellipse cx="602.3" cy="265.9" rx="5.1" ry="1.6" fill="#ffffff" opacity="0.25"/>
<path d="M151.3,305.8 L151.5,307.0 L152.2,308.1 L153.2,308.9 L154.4,309.2 L155.7,309.2 L159.5,308.2 L166.1,306.5 L172.8,304.8 L179.6,303.5 L184.4,303.5 L185.8,303.3 L186.9,302.5 L192.0,297.3 L192.7,296.1 L193.0,294.6 L192.6,293.3 L191.7,292.1 L186.9,288.2 L185.9,287.6 L184.7,287.4 L179.8,287.3 L179.7,287.3 L173.1,287.3 L173.1,287.3 L166.4,287.3 L166.4,287.3 L159.8,287.3 L159.8,287.3 L154.8,287.3 L153.4,287.6 L152.3,288.4 L151.6,289.5 L151.3,290.8Z" fill="url(#gs)" stroke="#d88a38" stroke-width="1.2"/>
<ellipse cx="170.6" cy="294.6" rx="9.3" ry="4.5" fill="#cfc3f0" stroke="#a193d6" stroke-width="1"/>
<ellipse cx="169.6" cy="293.4" rx="5.1" ry="1.6" fill="#ffffff" opacity="0.25"/>
<path d="M200.6,292.9 L199.9,294.0 L199.6,295.3 L199.9,296.6 L200.6,297.7 L206.2,303.7 L207.3,304.5 L208.7,304.8 L213.4,304.9 L220.0,305.1 L220.1,305.1 L226.2,305.0 L226.9,304.9 L233.1,303.6 L239.8,302.1 L246.5,300.7 L253.2,299.3 L259.9,298.0 L266.6,296.6 L273.5,295.3 L276.2,295.5 L277.5,295.3 L278.6,294.6 L279.5,293.6 L279.8,292.3 L279.7,290.9 L279.1,289.7 L277.6,287.9 L279.6,285.6 L280.2,284.5 L280.4,283.3 L280.2,282.0 L279.5,280.9 L278.4,280.2 L277.2,279.8 L273.5,279.6 L273.5,279.6 L266.8,279.2 L266.8,279.2 L260.1,278.8 L260.1,278.8 L253.4,278.5 L253.4,278.5 L246.9,278.1 L246.7,278.1 L240.6,278.2 L239.9,278.3 L233.7,279.7 L233.7,279.7 L227.0,281.2 L227.0,281.2 L220.3,282.7 L220.3,282.7 L213.6,284.3 L213.6,284.3 L208.3,285.5 L206.6,286.5Z" fill="url(#gs)" stroke="#d88a38" stroke-width="1.2"/>
<ellipse cx="247.6" cy="289.0" rx="9.3" ry="4.5" fill="#cfc3f0" stroke="#a193d6" stroke-width="1"/>
<ellipse cx="246.6" cy="287.8" rx="5.1" ry="1.6" fill="#ffffff" opacity="0.25"/>
<path d="M282.9,285.0 L282.3,286.0 L282.1,287.2 L282.3,288.4 L282.8,289.5 L286.6,294.2 L287.8,295.1 L289.1,295.5 L293.2,295.7 L299.4,296.1 L305.6,296.6 L311.8,297.0 L317.8,297.4 L318.2,297.5 L323.8,297.2 L324.2,297.2 L330.1,296.1 L336.3,295.0 L342.5,294.0 L348.7,292.9 L354.9,291.9 L359.8,291.1 L361.5,290.2 L366.8,285.6 L367.7,284.4 L368.0,283.0 L367.7,281.6 L366.8,280.4 L361.6,275.6 L360.7,275.0 L359.6,274.7 L355.0,274.2 L355.0,274.2 L348.8,273.5 L348.8,273.5 L342.6,272.8 L342.6,272.8 L336.4,272.2 L336.4,272.2 L330.8,271.6 L329.9,271.6 L324.4,272.4 L324.3,272.4 L318.2,273.6 L318.2,273.6 L312.0,274.8 L312.0,274.8 L305.8,276.0 L305.8,276.0 L299.6,277.2 L299.6,277.2 L293.4,278.4 L293.4,278.4 L288.8,279.4 L287.8,279.8 L286.9,280.5Z" fill="url(#gs)" stroke="#d88a38" stroke-width="1.2"/>
<ellipse cx="324.0" cy="282.8" rx="9.3" ry="4.5" fill="#cfc3f0" stroke="#a193d6" stroke-width="1"/>
<ellipse cx="323.0" cy="281.6" rx="5.1" ry="1.6" fill="#ffffff" opacity="0.25"/>
<path d="M376.1,281.5 L375.4,282.6 L375.1,284.0 L375.3,285.3 L376.1,286.5 L381.8,292.1 L382.7,292.8 L383.8,293.1 L387.5,293.6 L392.8,294.2 L398.1,294.9 L403.4,295.6 L408.2,296.2 L408.9,296.2 L413.6,295.8 L413.8,295.8 L418.9,295.0 L424.2,294.3 L429.5,293.5 L434.8,292.8 L440.1,292.0 L444.1,291.5 L445.8,290.8 L451.4,286.4 L452.4,285.2 L452.8,283.8 L452.5,282.3 L451.6,281.0 L445.8,275.8 L444.0,274.9 L440.1,274.3 L440.1,274.3 L434.8,273.5 L434.8,273.5 L429.5,272.7 L429.5,272.7 L424.2,272.0 L424.2,272.0 L419.0,271.2 L418.9,271.2 L414.3,270.6 L413.4,270.6 L408.7,271.3 L408.7,271.3 L403.4,272.1 L403.4,272.1 L398.1,272.9 L398.1,272.9 L392.8,273.7 L392.8,273.7 L387.6,274.5 L387.5,274.5 L383.7,275.1 L382.7,275.4 L381.9,276.0Z" fill="url(#gs)" stroke="#d88a38" stroke-width="1.2"/>
<ellipse cx="415.7" cy="281.5" rx="9.3" ry="4.5" fill="#cfc3f0" stroke="#a193d6" stroke-width="1"/>
<ellipse cx="414.7" cy="280.3" rx="5.1" ry="1.6" fill="#ffffff" opacity="0.25"/>
<path d="M461.5,281.0 L460.6,282.2 L460.3,283.6 L460.5,285.0 L461.3,286.2 L467.7,292.6 L468.6,293.2 L469.6,293.6 L472.9,294.2 L477.8,295.0 L482.6,295.9 L487.2,296.8 L487.6,296.8 L491.8,297.1 L492.4,297.1 L496.8,296.7 L501.7,296.3 L506.5,295.9 L511.4,295.5 L516.2,295.1 L521.1,294.7 L524.6,294.4 L526.4,293.8 L537.4,285.8 L537.4,285.7 L537.5,285.6 L538.4,284.6 L538.9,283.4 L538.8,282.1 L538.3,280.9 L537.4,279.9 L536.1,279.4 L529.5,278.1 L529.5,278.1 L522.6,276.7 L522.6,276.7 L515.7,275.3 L515.7,275.3 L508.9,273.9 L508.8,273.9 L502.2,272.7 L501.9,272.6 L495.7,272.0 L495.0,272.0 L488.6,272.7 L488.6,272.7 L481.8,273.5 L481.7,273.5 L474.9,274.3 L474.9,274.3 L469.5,274.9 L468.5,275.2 L467.6,275.7Z" fill="url(#gs)" stroke="#d88a38" stroke-width="1.2"/>
<ellipse cx="497.3" cy="282.7" rx="9.3" ry="4.5" fill="#cfc3f0" stroke="#a193d6" stroke-width="1"/>
<ellipse cx="496.3" cy="281.5" rx="5.1" ry="1.6" fill="#ffffff" opacity="0.25"/>
<path d="M538.6,287.5 L537.7,288.5 L537.2,289.8 L537.3,291.1 L537.8,292.4 L538.8,293.3 L540.0,293.8 L546.5,295.1 L553.3,296.4 L560.0,297.8 L566.8,299.1 L573.5,300.6 L579.8,301.9 L580.5,302.0 L586.6,302.1 L586.8,302.1 L593.4,301.7 L600.2,301.4 L605.3,301.2 L606.4,301.0 L607.4,300.4 L617.6,291.8 L617.8,291.6 L618.7,290.6 L619.2,289.4 L619.1,288.1 L618.7,286.9 L617.7,286.0 L616.6,285.4 L609.7,283.7 L609.7,283.7 L603.1,282.1 L603.1,282.1 L596.5,280.5 L596.4,280.5 L589.8,278.9 L589.8,278.9 L583.4,277.4 L583.1,277.3 L577.2,276.3 L576.4,276.3 L570.3,276.7 L570.3,276.7 L563.7,277.2 L563.7,277.2 L557.1,277.7 L557.1,277.7 L551.9,278.1 L550.0,278.8 L539.0,287.3Z" fill="url(#gs)" stroke="#d88a38" stroke-width="1.2"/>
<ellipse cx="581.3" cy="287.3" rx="9.3" ry="4.5" fill="#cfc3f0" stroke="#a193d6" stroke-width="1"/>
<ellipse cx="580.3" cy="286.1" rx="5.1" ry="1.6" fill="#ffffff" opacity="0.25"/>
<path d="M618.5,295.9 L617.6,296.9 L617.2,298.3 L617.4,299.7 L618.1,300.9 L619.2,301.7 L620.6,302.0 L627.3,302.3 L634.1,304.0 L640.9,305.7 L643.4,306.3 L644.7,306.4 L646.0,306.0 L647.0,305.1 L647.6,304.0 L647.8,302.7 L646.8,289.5 L646.5,288.2 L645.7,287.2 L644.5,286.5 L643.2,286.3 L639.5,286.4 L639.5,286.4 L634.7,286.6 L634.7,286.6 L631.5,286.7 L630.4,286.9 L629.5,287.4 L619.3,295.2 L619.2,295.3Z" fill="url(#gs)" stroke="#d88a38" stroke-width="1.2"/>
<ellipse cx="633.9" cy="294.1" rx="9.3" ry="4.5" fill="#cfc3f0" stroke="#a193d6" stroke-width="1"/>
<ellipse cx="632.9" cy="292.9" rx="5.1" ry="1.6" fill="#ffffff" opacity="0.25"/>
<path d="M151.3,329.7 L151.6,331.0 L152.3,332.2 L153.5,332.9 L154.8,333.2 L158.0,333.2 L164.7,333.2 L171.5,333.2 L177.6,333.2 L178.5,333.1 L184.6,331.7 L184.7,331.6 L191.3,329.8 L198.1,328.0 L204.8,326.2 L211.6,324.5 L218.5,322.7 L223.4,322.5 L224.7,322.2 L225.8,321.4 L230.4,316.5 L231.1,315.2 L231.3,313.8 L230.9,312.5 L230.0,311.4 L225.9,308.0 L224.9,307.5 L223.8,307.3 L216.5,307.0 L216.5,307.0 L207.6,306.8 L207.6,306.8 L198.7,306.6 L198.7,306.6 L189.8,306.5 L189.8,306.5 L181.4,306.4 L180.7,306.4 L172.4,307.9 L172.2,307.9 L163.5,310.1 L163.4,310.1 L154.6,312.4 L154.6,312.4 L153.9,312.6 L152.6,313.3 L151.6,314.5 L151.3,316.0Z" fill="url(#gs)" stroke="#d88a38" stroke-width="1.2"/>
<ellipse cx="187.7" cy="316.8" rx="9.3" ry="4.5" fill="#cfc3f0" stroke="#a193d6" stroke-width="1"/>
<ellipse cx="186.7" cy="315.6" rx="5.1" ry="1.6" fill="#ffffff" opacity="0.25"/>
<path d="M233.3,318.5 L232.6,319.6 L232.4,320.9 L232.7,322.1 L233.4,323.2 L234.4,324.0 L235.7,324.3 L241.5,324.6 L249.5,325.1 L257.2,325.6 L257.6,325.6 L264.9,325.1 L265.5,325.1 L273.1,323.3 L281.1,321.5 L289.1,319.7 L297.2,318.0 L305.4,317.2 L311.1,317.8 L312.4,317.6 L313.6,317.0 L314.5,316.0 L314.9,314.8 L314.9,313.5 L314.3,312.3 L312.1,309.1 L314.1,306.9 L314.7,305.8 L314.9,304.5 L314.7,303.3 L314.0,302.2 L312.9,301.4 L311.7,301.1 L305.3,300.7 L305.3,300.7 L297.3,300.1 L297.3,300.1 L289.3,299.6 L289.3,299.6 L281.3,299.1 L281.3,299.1 L273.9,298.7 L273.0,298.8 L265.6,300.2 L265.6,300.2 L257.7,301.8 L257.6,301.8 L249.7,303.5 L249.7,303.5 L241.7,305.2 L241.7,305.2 L235.5,306.5 L234.3,307.0 L233.3,307.9 L232.8,309.1 L232.8,310.4 L233.2,311.6 L234.0,312.6 L236.7,314.8Z" fill="url(#gs)" stroke="#d88a38" stroke-width="1.2"/>
<ellipse cx="274.2" cy="309.8" rx="9.3" ry="4.5" fill="#cfc3f0" stroke="#a193d6" stroke-width="1"/>
<ellipse cx="273.2" cy="308.6" rx="5.1" ry="1.6" fill="#ffffff" opacity="0.25"/>
<path d="M317.2,307.1 L316.5,308.4 L316.4,309.9 L317.0,311.4 L321.1,317.3 L322.2,318.3 L323.7,318.8 L327.9,319.2 L334.3,319.9 L340.2,320.6 L341.0,320.6 L346.8,319.9 L347.0,319.9 L353.3,318.7 L359.7,317.5 L366.2,316.4 L372.6,315.2 L379.1,314.1 L385.8,314.2 L392.3,315.1 L396.4,315.6 L398.0,315.5 L399.3,314.7 L405.1,309.1 L405.9,307.9 L406.2,306.5 L405.8,305.1 L405.0,304.0 L398.8,298.6 L397.0,297.8 L392.0,297.2 L392.0,297.2 L385.5,296.4 L385.5,296.4 L379.1,295.6 L379.1,295.6 L372.7,294.9 L372.7,294.9 L366.8,294.2 L366.0,294.2 L360.2,295.0 L360.1,295.0 L353.7,296.0 L353.7,296.0 L347.3,297.1 L347.3,297.1 L340.9,298.2 L340.9,298.2 L334.4,299.3 L334.4,299.3 L328.0,300.5 L328.0,300.5 L323.2,301.3 L322.1,301.7 L321.2,302.5Z" fill="url(#gs)" stroke="#d88a38" stroke-width="1.2"/>
<ellipse cx="368.4" cy="305.2" rx="9.3" ry="4.5" fill="#cfc3f0" stroke="#a193d6" stroke-width="1"/>
<ellipse cx="367.4" cy="304.0" rx="5.1" ry="1.6" fill="#ffffff" opacity="0.25"/>
<path d="M414.1,303.9 L413.2,304.9 L412.9,306.2 L413.0,307.5 L413.6,308.7 L420.4,317.2 L421.3,318.0 L422.3,318.5 L423.5,318.6 L426.6,318.2 L426.7,318.2 L432.4,317.5 L438.2,316.8 L443.9,316.2 L449.7,315.5 L455.5,314.9 L461.2,314.3 L467.2,313.6 L473.1,314.5 L475.1,314.8 L476.6,314.7 L477.9,314.1 L478.8,312.9 L479.2,311.5 L478.9,310.0 L478.1,308.8 L475.9,306.7 L479.3,304.6 L480.3,303.6 L480.8,302.3 L480.8,300.9 L480.3,299.7 L479.3,298.7 L478.0,298.2 L472.7,297.2 L472.7,297.2 L466.9,296.2 L466.9,296.2 L461.2,295.2 L461.2,295.2 L455.4,294.2 L455.4,294.2 L450.3,293.4 L449.3,293.4 L444.3,294.1 L444.3,294.1 L438.5,294.8 L438.5,294.8 L432.7,295.6 L432.7,295.6 L427.0,296.5 L427.0,296.5 L422.6,297.1 L420.8,297.9Z" fill="url(#gs)" stroke="#d88a38" stroke-width="1.2"/>
<ellipse cx="451.3" cy="303.8" rx="9.3" ry="4.5" fill="#cfc3f0" stroke="#a193d6" stroke-width="1"/>
<ellipse cx="450.3" cy="302.6" rx="5.1" ry="1.6" fill="#ffffff" opacity="0.25"/>
<path d="M483.8,305.4 L482.9,306.3 L482.4,307.4 L482.2,308.7 L482.6,309.9 L483.3,310.9 L490.1,317.4 L490.9,318.0 L491.9,318.3 L497.2,319.2 L503.9,320.4 L510.3,321.6 L510.8,321.6 L516.9,321.9 L517.4,321.9 L523.8,321.4 L530.5,320.9 L537.3,320.4 L544.0,319.9 L550.8,319.4 L557.7,319.0 L564.6,320.4 L569.0,321.4 L570.6,321.3 L572.0,320.6 L577.1,316.2 L577.9,315.0 L578.2,313.6 L578.0,312.2 L577.2,311.1 L571.2,305.0 L569.4,304.0 L564.1,302.9 L564.1,302.9 L557.3,301.6 L557.3,301.6 L550.6,300.2 L550.6,300.2 L543.9,298.9 L543.9,298.9 L537.6,297.7 L536.9,297.6 L530.8,297.7 L530.6,297.7 L524.0,298.2 L524.0,298.2 L517.3,298.7 L517.3,298.7 L510.5,299.3 L510.5,299.3 L503.8,299.9 L503.8,299.9 L497.1,300.5 L497.1,300.5 L491.5,301.0 L489.9,301.5Z" fill="url(#gs)" stroke="#d88a38" stroke-width="1.2"/>
<ellipse cx="519.9" cy="308.1" rx="9.3" ry="4.5" fill="#cfc3f0" stroke="#a193d6" stroke-width="1"/>
<ellipse cx="518.9" cy="306.9" rx="5.1" ry="1.6" fill="#ffffff" opacity="0.25"/>
<path d="M648.4,311.7 L648.0,310.4 L647.1,309.2 L645.8,308.6 L641.5,307.5 L641.5,307.5 L634.5,305.8 L634.5,305.8 L627.8,304.1 L627.2,304.0 L620.8,303.6 L620.5,303.6 L613.7,303.9 L613.7,303.9 L606.6,304.2 L606.6,304.2 L599.6,304.5 L599.6,304.5 L594.1,304.7 L593.0,305.0 L592.1,305.5 L586.1,310.5 L585.3,311.6 L584.9,312.8 L585.0,314.1 L585.5,315.3 L592.5,324.6 L593.3,325.4 L594.5,325.9 L598.2,326.8 L598.5,326.8 L603.5,327.6 L604.2,327.6 L609.4,327.3 L615.1,327.0 L620.8,326.8 L626.5,326.5 L632.2,326.2 L637.9,326.0 L643.8,326.4 L644.8,326.7 L646.1,326.8 L647.4,326.4 L648.4,325.6 L649.1,324.4 L649.2,323.1Z" fill="url(#gs)" stroke="#d88a38" stroke-width="1.2"/>
<ellipse cx="612.8" cy="313.7" rx="9.3" ry="4.5" fill="#cfc3f0" stroke="#a193d6" stroke-width="1"/>
<ellipse cx="611.8" cy="312.5" rx="5.1" ry="1.6" fill="#ffffff" opacity="0.25"/>
<path d="M151.3,354.3 L151.5,355.6 L152.2,356.7 L153.3,357.5 L154.5,357.8 L155.8,357.7 L162.5,355.6 L168.4,353.8 L170.0,352.7 L178.1,343.4 L178.2,343.3 L178.9,342.4 L179.5,341.3 L179.7,340.0 L179.4,338.7 L178.6,337.6 L177.5,337.0 L176.2,336.7 L170.9,336.8 L162.2,336.8 L162.2,336.8 L154.8,336.8 L153.5,337.1 L152.3,337.8 L151.6,338.9 L151.3,340.3Z" fill="url(#gs)" stroke="#d88a38" stroke-width="1.2"/>
<ellipse cx="168.7" cy="343.6" rx="9.3" ry="4.5" fill="#cfc3f0" stroke="#a193d6" stroke-width="1"/>
<ellipse cx="167.7" cy="342.4" rx="5.1" ry="1.6" fill="#ffffff" opacity="0.25"/>
<path d="M178.6,346.2 L177.9,347.3 L177.7,348.6 L178.0,349.9 L178.8,351.0 L179.8,351.7 L181.1,352.0 L184.6,352.1 L191.8,352.3 L199.1,352.5 L206.2,352.8 L206.4,352.8 L212.9,352.7 L213.7,352.6 L220.4,350.8 L227.6,348.9 L234.9,347.1 L242.1,345.2 L249.4,343.4 L254.3,342.9 L255.8,342.4 L257.0,341.1 L259.6,336.3 L260.0,335.2 L260.0,334.0 L259.6,332.8 L257.1,328.6 L255.9,327.4 L254.3,326.9 L251.1,326.7 L251.1,326.7 L245.4,326.4 L245.4,326.4 L239.7,326.0 L239.6,326.0 L233.9,325.7 L233.9,325.7 L228.2,325.4 L228.2,325.4 L223.0,325.2 L222.3,325.2 L217.3,326.0 L216.9,326.0 L211.4,327.5 L211.4,327.5 L205.7,328.9 L205.7,328.9 L200.0,330.5 L200.0,330.5 L194.3,332.0 L194.3,332.0 L190.1,333.1 L189.1,333.6 L188.3,334.3 L180.2,344.3Z" fill="url(#gs)" stroke="#d88a38" stroke-width="1.2"/>
<ellipse cx="210.5" cy="337.0" rx="9.3" ry="4.5" fill="#cfc3f0" stroke="#a193d6" stroke-width="1"/>
<ellipse cx="209.5" cy="335.8" rx="5.1" ry="1.6" fill="#ffffff" opacity="0.25"/>
<path d="M264.4,332.8 L264.0,334.5 L264.4,336.1 L267.2,341.5 L267.9,342.4 L268.9,343.1 L270.1,343.4 L272.8,343.5 L278.3,343.9 L283.7,344.3 L289.1,344.7 L294.0,345.1 L294.9,345.0 L299.6,344.1 L299.7,344.1 L305.1,343.0 L310.5,341.9 L316.0,340.8 L321.4,339.8 L326.9,338.7 L330.9,338.0 L331.8,337.6 L332.7,337.0 L337.8,332.0 L338.6,330.8 L338.9,329.5 L338.6,328.1 L337.8,327.0 L332.8,322.2 L331.9,321.5 L330.8,321.2 L327.0,320.8 L327.0,320.8 L321.5,320.3 L321.5,320.3 L316.1,319.7 L316.1,319.7 L310.7,319.2 L310.7,319.2 L305.5,318.7 L305.1,318.7 L300.4,318.8 L299.8,318.9 L294.8,320.0 L294.8,320.0 L289.3,321.2 L289.3,321.2 L283.9,322.4 L283.9,322.4 L278.5,323.6 L278.5,323.6 L273.0,324.8 L273.0,324.8 L269.7,325.6 L268.4,326.2 L267.4,327.3Z" fill="url(#gs)" stroke="#d88a38" stroke-width="1.2"/>
<ellipse cx="294.1" cy="329.8" rx="9.3" ry="4.5" fill="#cfc3f0" stroke="#a193d6" stroke-width="1"/>
<ellipse cx="293.1" cy="328.6" rx="5.1" ry="1.6" fill="#ffffff" opacity="0.25"/>
<path d="M346.5,327.0 L345.7,328.1 L345.5,329.4 L345.8,330.8 L346.5,331.9 L351.7,337.1 L352.7,337.8 L353.8,338.1 L357.0,338.5 L361.8,339.0 L366.6,339.5 L371.5,340.0 L376.3,340.6 L380.6,341.1 L381.4,341.1 L385.6,340.7 L385.8,340.6 L390.5,339.8 L395.3,339.0 L400.1,338.3 L405.0,337.5 L408.4,336.9 L410.2,336.1 L416.4,330.6 L417.3,329.5 L417.6,328.0 L417.3,326.6 L416.4,325.4 L410.2,319.9 L408.4,319.1 L405.0,318.6 L405.0,318.6 L400.2,317.9 L400.2,317.9 L395.3,317.2 L395.3,317.2 L390.5,316.5 L390.5,316.5 L385.8,315.9 L385.6,315.9 L381.5,315.5 L380.6,315.6 L376.4,316.3 L376.4,316.3 L371.6,317.1 L371.6,317.1 L366.7,318.0 L366.7,318.0 L361.9,318.8 L361.9,318.9 L357.1,319.7 L357.1,319.7 L353.8,320.3 L352.7,320.7 L351.9,321.4Z" fill="url(#gs)" stroke="#d88a38" stroke-width="1.2"/>
<ellipse cx="374.6" cy="326.5" rx="9.3" ry="4.5" fill="#cfc3f0" stroke="#a193d6" stroke-width="1"/>
<ellipse cx="373.6" cy="325.3" rx="5.1" ry="1.6" fill="#ffffff" opacity="0.25"/>
<path d="M426.5,326.3 L425.6,327.5 L425.3,329.0 L425.6,330.4 L426.5,331.6 L432.7,337.1 L434.4,337.9 L439.8,338.8 L446.5,340.0 L453.3,341.1 L459.5,342.2 L460.3,342.3 L466.4,341.9 L466.5,341.9 L473.2,341.2 L479.9,340.6 L486.6,339.9 L493.4,339.3 L500.2,338.8 L505.1,338.5 L506.5,338.1 L507.6,337.3 L508.3,336.1 L508.4,334.7 L508.0,333.3 L506.9,331.3 L508.6,328.7 L509.1,327.4 L509.1,326.0 L508.6,324.7 L507.6,323.8 L506.3,323.3 L500.0,322.2 L500.0,322.2 L493.3,321.0 L493.3,321.0 L486.6,319.8 L486.5,319.8 L479.8,318.7 L479.8,318.7 L473.2,317.6 L473.0,317.6 L466.9,316.9 L466.1,316.9 L459.9,317.5 L459.9,317.5 L453.2,318.2 L453.2,318.2 L446.5,319.0 L446.5,319.0 L439.7,319.8 L439.7,319.8 L434.4,320.4 L432.6,321.2Z" fill="url(#gs)" stroke="#d88a38" stroke-width="1.2"/>
<ellipse cx="467.1" cy="327.7" rx="9.3" ry="4.5" fill="#cfc3f0" stroke="#a193d6" stroke-width="1"/>
<ellipse cx="466.1" cy="326.5" rx="5.1" ry="1.6" fill="#ffffff" opacity="0.25"/>
<path d="M511.1,328.3 L510.6,329.5 L510.5,330.7 L510.9,331.9 L513.8,337.0 L514.8,338.2 L516.2,338.8 L521.3,339.8 L528.7,341.2 L536.1,342.7 L543.5,344.2 L550.3,345.7 L551.1,345.8 L557.8,345.7 L557.9,345.7 L565.2,345.3 L572.6,345.0 L580.0,344.8 L587.3,344.5 L594.8,344.3 L600.0,344.8 L601.5,344.6 L602.8,343.8 L606.3,340.5 L607.1,339.4 L607.4,338.1 L607.2,336.8 L606.5,335.6 L602.2,330.8 L601.3,330.1 L600.4,329.7 L594.5,328.3 L594.4,328.3 L587.1,326.5 L587.1,326.5 L579.7,324.9 L579.7,324.9 L572.4,323.2 L572.4,323.2 L565.0,321.6 L565.0,321.6 L558.3,320.1 L557.3,320.1 L550.6,320.5 L550.6,320.5 L543.3,321.0 L543.3,321.0 L535.9,321.5 L535.9,321.5 L528.6,322.1 L528.6,322.1 L521.2,322.6 L521.2,322.6 L516.2,323.1 L514.7,323.5 L513.5,324.6Z" fill="url(#gs)" stroke="#d88a38" stroke-width="1.2"/>
<ellipse cx="566.2" cy="331.5" rx="9.3" ry="4.5" fill="#cfc3f0" stroke="#a193d6" stroke-width="1"/>
<ellipse cx="565.2" cy="330.3" rx="5.1" ry="1.6" fill="#ffffff" opacity="0.25"/>
<path d="M609.3,342.3 L608.5,343.5 L608.2,345.0 L608.6,346.4 L609.6,347.6 L610.9,348.2 L614.0,349.0 L619.7,350.4 L625.5,351.9 L631.3,353.3 L637.0,354.9 L642.7,356.4 L642.9,356.4 L647.2,357.3 L648.5,357.3 L649.7,356.9 L650.7,356.0 L651.3,354.9 L651.4,353.6 L650.0,334.2 L649.7,332.8 L648.8,331.7 L647.5,331.0 L646.0,330.6 L645.7,330.5 L639.1,329.4 L638.4,329.4 L631.5,329.7 L631.5,329.7 L624.2,330.0 L624.2,330.0 L616.9,330.4 L616.9,330.4 L612.2,330.6 L610.9,330.9 L609.8,331.7 L609.1,332.8 L608.8,334.1 L609.1,335.3 L609.7,336.5 L612.3,339.4Z" fill="url(#gs)" stroke="#d88a38" stroke-width="1.2"/>
<ellipse cx="630.7" cy="339.9" rx="9.3" ry="4.5" fill="#cfc3f0" stroke="#a193d6" stroke-width="1"/>
<ellipse cx="629.7" cy="338.7" rx="5.1" ry="1.6" fill="#ffffff" opacity="0.25"/>
<path d="M151.3,377.9 L151.6,379.3 L152.4,380.4 L153.5,381.2 L154.9,381.4 L159.6,381.3 L166.2,381.1 L172.7,380.9 L179.3,380.8 L185.5,380.7 L185.9,380.6 L191.9,379.8 L192.3,379.7 L198.5,378.0 L203.0,376.8 L204.3,376.1 L205.2,375.0 L209.8,366.1 L210.1,364.8 L210.0,363.5 L209.4,362.3 L205.8,357.6 L204.6,356.7 L203.1,356.3 L200.0,356.2 L199.9,356.2 L194.5,356.0 L194.5,356.0 L189.1,355.8 L189.1,355.8 L183.7,355.7 L183.7,355.7 L178.3,355.5 L178.3,355.5 L173.6,355.5 L172.6,355.6 L167.9,357.0 L167.9,357.0 L162.5,358.7 L162.5,358.7 L157.1,360.4 L157.0,360.4 L153.7,361.4 L152.5,362.1 L151.6,363.3 L151.3,364.8Z" fill="url(#gs)" stroke="#d88a38" stroke-width="1.2"/>
<ellipse cx="174.9" cy="366.4" rx="9.3" ry="4.5" fill="#cfc3f0" stroke="#a193d6" stroke-width="1"/>
<ellipse cx="173.9" cy="365.2" rx="5.1" ry="1.6" fill="#ffffff" opacity="0.25"/>
<path d="M215.2,361.5 L214.7,362.8 L214.7,364.2 L215.3,365.4 L218.4,370.0 L219.4,371.0 L220.8,371.4 L222.2,371.4 L224.8,370.7 L230.6,369.3 L236.6,368.0 L242.6,368.2 L248.5,368.3 L254.3,368.5 L260.2,368.7 L266.0,368.9 L271.8,369.1 L277.6,369.4 L277.7,369.4 L282.9,369.4 L283.7,369.4 L286.6,368.7 L288.0,368.0 L289.0,366.6 L292.8,357.3 L293.0,355.7 L292.5,354.1 L289.5,349.4 L288.3,348.3 L286.8,347.8 L283.4,347.6 L283.4,347.6 L277.5,347.2 L277.5,347.1 L271.7,346.8 L271.7,346.8 L265.9,346.4 L265.9,346.4 L260.0,346.0 L260.0,346.0 L254.8,345.7 L253.9,345.8 L248.8,346.9 L248.7,346.9 L242.9,348.3 L242.9,348.3 L237.1,349.8 L237.1,349.8 L231.3,351.3 L231.2,351.3 L225.4,352.8 L225.4,352.8 L221.4,353.9 L220.2,354.4 L219.3,355.3Z" fill="url(#gs)" stroke="#d88a38" stroke-width="1.2"/>
<ellipse cx="260.8" cy="356.6" rx="9.3" ry="4.5" fill="#cfc3f0" stroke="#a193d6" stroke-width="1"/>
<ellipse cx="259.8" cy="355.4" rx="5.1" ry="1.6" fill="#ffffff" opacity="0.25"/>
<path d="M297.4,354.3 L296.9,355.3 L296.9,356.5 L297.2,357.6 L300.1,363.4 L301.0,364.6 L302.4,365.2 L303.9,365.2 L306.0,364.8 L311.8,363.6 L317.6,362.4 L323.5,361.2 L329.5,361.4 L335.3,361.9 L341.1,362.5 L346.9,363.1 L352.6,363.6 L358.4,364.3 L363.8,364.9 L364.4,364.9 L367.7,364.7 L369.1,364.4 L370.2,363.5 L377.8,354.8 L378.5,353.5 L378.7,352.1 L378.3,350.8 L377.3,349.7 L370.1,344.0 L368.3,343.3 L363.9,342.8 L363.9,342.8 L358.1,342.2 L358.1,342.2 L352.4,341.6 L352.4,341.6 L346.6,341.0 L346.6,341.0 L341.2,340.5 L340.6,340.5 L335.5,340.8 L335.1,340.9 L329.7,341.9 L329.6,341.9 L323.9,343.0 L323.9,343.0 L318.1,344.1 L318.1,344.1 L312.4,345.2 L312.3,345.2 L306.6,346.4 L306.6,346.4 L302.9,347.1 L301.6,347.7 L300.6,348.8Z" fill="url(#gs)" stroke="#d88a38" stroke-width="1.2"/>
<ellipse cx="345.7" cy="351.1" rx="9.3" ry="4.5" fill="#cfc3f0" stroke="#a193d6" stroke-width="1"/>
<ellipse cx="344.7" cy="349.9" rx="5.1" ry="1.6" fill="#ffffff" opacity="0.25"/>
<path d="M387.4,348.5 L386.5,349.8 L386.1,351.2 L386.5,352.7 L387.4,353.9 L393.6,359.0 L394.9,359.6 L396.3,359.7 L399.7,359.2 L405.4,358.3 L411.1,358.3 L416.7,359.1 L422.3,359.9 L427.8,360.7 L433.4,361.6 L438.9,362.4 L444.4,363.3 L449.4,364.1 L450.3,364.2 L455.1,363.7 L455.2,363.7 L458.3,363.3 L459.8,362.8 L460.9,361.5 L465.1,354.0 L465.5,352.7 L465.4,351.3 L464.7,350.1 L461.0,345.5 L460.0,344.7 L458.9,344.3 L455.1,343.6 L455.1,343.6 L449.6,342.6 L449.5,342.6 L444.0,341.7 L444.0,341.7 L438.5,340.8 L438.5,340.8 L433.0,339.9 L432.9,339.8 L427.4,339.0 L427.4,339.0 L422.5,338.2 L421.6,338.2 L416.8,338.7 L416.7,338.7 L411.2,339.6 L411.2,339.6 L405.7,340.4 L405.7,340.4 L400.2,341.3 L400.1,341.3 L395.9,342.0 L394.2,342.8Z" fill="url(#gs)" stroke="#d88a38" stroke-width="1.2"/>
<ellipse cx="418.7" cy="349.0" rx="9.3" ry="4.5" fill="#cfc3f0" stroke="#a193d6" stroke-width="1"/>
<ellipse cx="417.7" cy="347.8" rx="5.1" ry="1.6" fill="#ffffff" opacity="0.25"/>
<path d="M466.5,357.1 L466.1,358.3 L466.2,359.6 L466.7,360.7 L467.5,361.7 L468.7,362.2 L469.9,362.3 L474.3,361.8 L481.0,361.1 L487.9,360.4 L494.9,360.5 L501.7,361.9 L508.5,363.2 L515.3,364.6 L522.1,366.0 L528.8,367.5 L528.9,367.5 L535.0,368.5 L535.8,368.5 L539.9,368.2 L541.3,367.8 L542.4,366.8 L548.1,359.2 L548.7,358.2 L548.8,357.0 L548.6,355.8 L547.9,354.8 L542.2,348.5 L541.4,347.8 L540.4,347.4 L535.1,346.3 L535.1,346.3 L528.4,345.0 L528.3,345.0 L521.6,343.6 L521.6,343.6 L514.8,342.3 L514.8,342.3 L508.5,341.1 L507.8,341.0 L501.7,341.1 L501.4,341.1 L494.8,341.6 L494.8,341.6 L488.1,342.2 L488.1,342.2 L481.3,342.9 L481.3,342.9 L474.5,343.5 L474.5,343.5 L469.9,344.0 L468.7,344.3 L467.7,345.1 L467.0,346.1 L466.7,347.3 L466.9,348.6 L467.5,349.7 L469.4,351.9Z" fill="url(#gs)" stroke="#d88a38" stroke-width="1.2"/>
<ellipse cx="505.8" cy="351.8" rx="9.3" ry="4.5" fill="#cfc3f0" stroke="#a193d6" stroke-width="1"/>
<ellipse cx="504.8" cy="350.6" rx="5.1" ry="1.6" fill="#ffffff" opacity="0.25"/>
<path d="M555.8,353.7 L555.0,354.8 L554.7,356.1 L554.9,357.4 L555.5,358.6 L560.4,364.4 L561.7,365.3 L563.3,365.6 L567.5,365.3 L574.2,365.2 L581.0,366.9 L587.5,368.7 L594.1,370.4 L600.6,372.2 L607.1,374.0 L607.2,374.0 L613.1,375.4 L613.9,375.5 L619.9,375.5 L626.4,375.5 L633.0,375.6 L636.7,375.6 L637.9,375.4 L639.0,374.8 L639.8,373.8 L644.5,365.6 L645.7,364.0 L646.4,362.8 L646.5,361.4 L646.0,360.1 L645.1,359.1 L643.9,358.5 L636.3,356.5 L636.3,356.5 L628.7,354.5 L628.7,354.5 L621.2,352.6 L621.1,352.6 L613.6,350.7 L613.6,350.7 L606.1,348.8 L606.0,348.8 L599.1,347.2 L598.2,347.1 L591.3,347.2 L591.3,347.2 L583.7,347.5 L583.7,347.5 L576.2,347.7 L576.2,347.7 L568.6,348.0 L568.6,348.0 L562.8,348.3 L561.6,348.6 L560.6,349.2Z" fill="url(#gs)" stroke="#d88a38" stroke-width="1.2"/>
<ellipse cx="599.8" cy="358.7" rx="9.3" ry="4.5" fill="#cfc3f0" stroke="#a193d6" stroke-width="1"/>
<ellipse cx="598.8" cy="357.5" rx="5.1" ry="1.6" fill="#ffffff" opacity="0.25"/>
<path d="M151.3,400.3 L151.5,401.6 L152.2,402.7 L153.3,403.4 L154.6,403.8 L155.9,403.6 L158.5,402.7 L165.6,401.6 L172.5,401.5 L177.0,401.4 L178.6,401.0 L179.8,400.1 L185.2,393.1 L185.8,391.9 L185.9,390.6 L185.5,389.3 L184.7,388.3 L179.9,384.2 L178.8,383.5 L177.6,383.3 L172.6,383.4 L172.6,383.4 L165.7,383.6 L165.7,383.6 L158.9,383.8 L158.9,383.8 L154.7,383.9 L153.4,384.2 L152.3,385.0 L151.6,386.1 L151.3,387.4Z" fill="url(#gs)" stroke="#d88a38" stroke-width="1.2"/>
<ellipse cx="169.0" cy="390.8" rx="9.3" ry="4.5" fill="#cfc3f0" stroke="#a193d6" stroke-width="1"/>
<ellipse cx="168.0" cy="389.6" rx="5.1" ry="1.6" fill="#ffffff" opacity="0.25"/>
<path d="M192.6,387.0 L192.0,388.1 L191.7,389.2 L191.9,390.4 L192.5,391.5 L198.2,398.9 L199.4,399.9 L201.0,400.2 L204.2,400.2 L205.1,400.1 L210.7,398.5 L216.9,396.7 L223.1,395.0 L229.3,393.3 L235.6,391.6 L241.8,389.9 L248.2,388.9 L254.6,389.1 L260.8,389.4 L267.0,389.7 L270.7,389.9 L271.8,389.7 L272.8,389.3 L273.7,388.5 L279.2,381.1 L279.7,379.9 L279.8,378.6 L279.5,377.4 L278.7,376.4 L273.6,371.9 L272.6,371.2 L271.4,371.0 L266.9,370.8 L266.9,370.8 L260.7,370.6 L260.7,370.6 L254.5,370.4 L254.5,370.4 L248.3,370.2 L248.3,370.2 L242.1,370.0 L242.1,370.0 L236.5,369.9 L235.6,370.0 L230.0,371.4 L230.0,371.4 L223.8,372.9 L223.8,372.9 L217.6,374.5 L217.6,374.5 L211.4,376.1 L211.4,376.1 L205.2,377.7 L205.2,377.7 L200.4,379.0 L199.4,379.4 L198.7,380.1Z" fill="url(#gs)" stroke="#d88a38" stroke-width="1.2"/>
<ellipse cx="241.0" cy="381.1" rx="9.3" ry="4.5" fill="#cfc3f0" stroke="#a193d6" stroke-width="1"/>
<ellipse cx="240.0" cy="379.9" rx="5.1" ry="1.6" fill="#ffffff" opacity="0.25"/>
<path d="M286.5,377.2 L285.9,378.2 L285.6,379.4 L285.7,380.6 L286.3,381.7 L291.7,388.9 L292.7,389.8 L293.9,390.2 L295.2,390.2 L297.5,389.7 L302.8,388.7 L308.1,387.6 L313.3,386.6 L318.6,385.6 L323.9,384.6 L329.2,383.6 L334.6,382.6 L340.0,382.7 L345.3,383.1 L350.6,383.5 L353.7,383.8 L355.2,383.6 L356.5,382.8 L362.1,377.2 L362.9,376.0 L363.1,374.5 L362.7,373.1 L361.9,372.0 L356.1,367.1 L355.2,366.6 L354.2,366.3 L350.4,365.9 L350.4,365.9 L345.1,365.4 L345.1,365.4 L339.8,364.9 L339.8,364.9 L334.6,364.4 L334.6,364.4 L329.4,363.9 L329.3,363.9 L324.7,363.6 L323.8,363.7 L319.1,364.6 L319.1,364.6 L313.9,365.7 L313.8,365.7 L308.6,366.8 L308.6,366.8 L303.3,367.9 L303.3,367.9 L298.0,369.1 L298.0,369.1 L294.2,369.9 L293.2,370.3 L292.4,370.9Z" fill="url(#gs)" stroke="#d88a38" stroke-width="1.2"/>
<ellipse cx="326.6" cy="373.9" rx="9.3" ry="4.5" fill="#cfc3f0" stroke="#a193d6" stroke-width="1"/>
<ellipse cx="325.6" cy="372.7" rx="5.1" ry="1.6" fill="#ffffff" opacity="0.25"/>
<path d="M371.0,371.9 L370.2,373.0 L369.8,374.3 L370.0,375.6 L370.6,376.8 L377.3,384.6 L378.3,385.5 L379.6,385.9 L382.5,386.2 L383.1,386.2 L387.9,385.8 L388.0,385.8 L393.2,385.0 L398.5,384.3 L403.8,383.6 L409.0,382.9 L414.3,382.3 L419.6,381.6 L424.9,381.0 L430.3,380.4 L435.7,380.5 L438.8,381.0 L440.3,380.8 L441.7,380.0 L449.3,372.8 L449.3,372.8 L449.7,372.4 L450.5,371.3 L450.7,370.0 L450.5,368.7 L449.8,367.5 L448.8,366.7 L447.5,366.4 L445.7,366.3 L438.8,365.2 L438.8,365.2 L432.0,364.1 L432.0,364.1 L425.2,363.1 L425.1,363.1 L418.3,362.0 L418.3,362.0 L411.9,361.1 L411.3,361.1 L405.2,361.2 L404.7,361.2 L398.2,362.2 L398.2,362.2 L391.4,363.2 L391.4,363.2 L384.6,364.3 L384.6,364.3 L379.1,365.2 L377.4,366.1Z" fill="url(#gs)" stroke="#d88a38" stroke-width="1.2"/>
<ellipse cx="409.3" cy="371.1" rx="9.3" ry="4.5" fill="#cfc3f0" stroke="#a193d6" stroke-width="1"/>
<ellipse cx="408.3" cy="369.9" rx="5.1" ry="1.6" fill="#ffffff" opacity="0.25"/>
<path d="M448.9,377.0 L448.2,378.1 L447.9,379.3 L448.0,380.6 L448.6,381.7 L449.6,382.6 L450.8,383.0 L454.5,383.5 L461.2,384.6 L467.9,385.6 L474.6,386.7 L474.7,386.7 L480.8,387.7 L481.6,387.7 L487.8,387.1 L494.5,386.5 L501.2,385.9 L507.9,385.3 L514.6,384.7 L520.3,384.3 L521.7,383.9 L527.6,380.5 L528.6,379.6 L529.2,378.4 L529.3,377.1 L529.0,375.8 L528.1,374.8 L521.5,369.1 L520.0,368.4 L516.0,367.5 L516.0,367.5 L510.9,366.5 L510.9,366.5 L505.7,365.4 L505.7,365.4 L500.5,364.4 L500.5,364.4 L495.6,363.4 L495.3,363.4 L490.8,362.9 L490.1,362.9 L485.4,363.4 L485.4,363.4 L480.3,363.9 L480.3,363.9 L475.1,364.5 L475.1,364.5 L470.0,365.0 L470.0,365.0 L464.8,365.6 L464.8,365.6 L461.3,366.0 L460.2,366.3 L459.2,367.0 L451.1,374.9Z" fill="url(#gs)" stroke="#d88a38" stroke-width="1.2"/>
<ellipse cx="491.4" cy="373.7" rx="9.3" ry="4.5" fill="#cfc3f0" stroke="#a193d6" stroke-width="1"/>
<ellipse cx="490.4" cy="372.5" rx="5.1" ry="1.6" fill="#ffffff" opacity="0.25"/>
<path d="M539.5,376.2 L538.5,377.4 L538.0,378.8 L538.2,380.3 L539.1,381.6 L546.8,389.3 L548.5,390.2 L551.9,391.0 L556.7,392.2 L561.3,393.3 L561.6,393.4 L565.8,394.0 L566.4,394.1 L570.8,393.9 L575.6,393.8 L580.4,393.7 L585.2,393.6 L590.0,393.6 L594.8,393.5 L599.6,393.5 L602.4,393.5 L603.7,393.2 L604.9,392.4 L608.6,388.6 L609.3,387.5 L609.6,386.3 L609.5,385.1 L608.9,384.0 L604.3,378.0 L603.5,377.2 L602.5,376.7 L599.3,375.9 L599.2,375.9 L594.5,374.6 L594.5,374.5 L589.7,373.3 L589.7,373.3 L584.9,372.0 L584.9,372.0 L580.1,370.7 L580.1,370.7 L575.7,369.6 L575.1,369.5 L571.1,369.1 L570.5,369.1 L566.1,369.4 L566.1,369.4 L561.3,369.7 L561.3,369.7 L556.5,370.0 L556.5,370.0 L551.7,370.3 L551.7,370.3 L548.3,370.6 L546.5,371.2Z" fill="url(#gs)" stroke="#d88a38" stroke-width="1.2"/>
<ellipse cx="583.5" cy="380.2" rx="9.3" ry="4.5" fill="#cfc3f0" stroke="#a193d6" stroke-width="1"/>
<ellipse cx="582.5" cy="379.0" rx="5.1" ry="1.6" fill="#ffffff" opacity="0.25"/>
<path d="M653.5,382.1 L653.1,380.8 L652.4,379.8 L651.3,379.1 L650.0,378.8 L645.2,378.7 L645.1,378.7 L636.9,378.7 L636.9,378.7 L628.7,378.6 L628.7,378.6 L622.5,378.6 L621.1,378.9 L620.0,379.7 L616.2,383.5 L615.5,384.6 L615.3,385.8 L615.4,387.0 L616.0,388.1 L620.5,394.1 L621.4,394.8 L622.4,395.3 L627.4,396.7 L634.0,398.5 L640.6,400.4 L647.2,402.3 L650.3,403.1 L651.6,403.3 L652.9,402.9 L653.9,402.0 L654.6,400.9 L654.7,399.5Z" fill="url(#gs)" stroke="#d88a38" stroke-width="1.2"/>
<ellipse cx="629.2" cy="387.1" rx="9.3" ry="4.5" fill="#cfc3f0" stroke="#a193d6" stroke-width="1"/>
<ellipse cx="628.2" cy="385.9" rx="5.1" ry="1.6" fill="#ffffff" opacity="0.25"/>
<path d="M151.3,422.4 L151.6,423.8 L152.5,425.0 L153.8,425.7 L155.3,425.8 L157.8,425.4 L161.9,425.0 L165.9,424.8 L170.0,424.7 L174.0,424.7 L178.0,424.7 L178.0,424.7 L181.7,424.7 L182.8,424.6 L186.6,423.4 L192.5,421.7 L193.5,421.2 L194.2,420.5 L200.7,412.7 L201.3,411.5 L201.5,410.1 L201.1,408.8 L200.2,407.7 L194.8,403.5 L193.8,402.9 L192.6,402.7 L189.2,402.7 L189.2,402.7 L184.1,402.7 L184.1,402.7 L179.0,402.8 L179.0,402.8 L173.9,402.8 L173.9,402.8 L168.8,402.9 L168.7,402.9 L164.2,402.9 L163.4,403.0 L159.0,404.1 L158.7,404.2 L153.8,405.8 L153.8,405.8 L153.7,405.8 L152.5,406.5 L151.6,407.7 L151.3,409.1Z" fill="url(#gs)" stroke="#d88a38" stroke-width="1.2"/>
<ellipse cx="175.5" cy="411.7" rx="9.3" ry="4.5" fill="#cfc3f0" stroke="#a193d6" stroke-width="1"/>
<ellipse cx="174.5" cy="410.5" rx="5.1" ry="1.6" fill="#ffffff" opacity="0.25"/>
<path d="M269.5,412.9 L275.0,411.7 L278.4,410.9 L279.7,410.3 L280.7,409.3 L286.6,399.3 L287.1,398.5 L287.7,397.1 L287.7,395.6 L287.1,394.3 L285.9,393.3 L284.5,393.0 L281.3,392.8 L274.7,392.4 L274.7,392.4 L268.1,392.1 L268.1,392.1 L261.5,391.8 L261.5,391.8 L254.9,391.5 L254.9,391.5 L248.7,391.2 L248.0,391.3 L242.1,392.3 L241.8,392.3 L235.4,394.0 L235.4,394.0 L228.8,395.8 L228.8,395.8 L222.2,397.7 L222.2,397.7 L216.9,399.2 L215.3,400.2 L209.6,406.3 L208.8,407.7 L208.7,409.2 L209.2,410.6 L210.3,411.7 L214.8,414.6 L216.7,415.1 L220.7,415.2 L226.2,415.2 L228.6,415.2 L229.6,415.1 L229.7,415.1 L233.7,414.1 L237.8,413.3 L241.8,412.7 L245.9,412.3 L250.0,412.1 L254.0,412.1 L258.1,412.3 L262.1,412.6 L266.1,412.8 L266.1,412.8 L268.5,413.0 L269.5,412.9Z" fill="url(#gs)" stroke="#d88a38" stroke-width="1.2"/>
<ellipse cx="248.0" cy="401.2" rx="9.3" ry="4.5" fill="#cfc3f0" stroke="#a193d6" stroke-width="1"/>
<ellipse cx="247.0" cy="400.0" rx="5.1" ry="1.6" fill="#ffffff" opacity="0.25"/>
<path d="M287.5,403.7 L287.0,405.0 L287.1,406.3 L287.7,407.5 L288.6,408.4 L289.9,408.9 L291.2,408.9 L296.6,407.7 L304.9,406.4 L313.1,406.9 L314.4,407.0 L315.3,406.9 L317.7,406.4 L321.8,405.6 L325.9,405.1 L329.9,404.7 L334.0,404.6 L338.1,404.7 L342.1,405.0 L346.1,405.4 L350.2,405.9 L354.2,406.4 L354.2,406.4 L358.1,406.9 L358.2,406.9 L361.4,407.3 L362.4,407.2 L369.2,406.1 L375.1,405.2 L376.5,404.7 L377.5,403.6 L383.0,394.9 L383.6,394.2 L384.2,392.8 L384.2,391.4 L383.6,390.0 L382.5,389.0 L381.1,388.6 L374.6,387.9 L374.6,387.9 L366.6,387.2 L366.6,387.2 L358.6,386.5 L358.6,386.5 L350.6,385.8 L350.6,385.8 L342.7,385.2 L342.5,385.2 L335.1,384.9 L334.4,384.9 L326.9,386.3 L326.9,386.3 L318.9,387.8 L318.8,387.8 L310.9,389.3 L310.8,389.3 L302.8,390.9 L302.8,390.9 L296.7,392.2 L295.5,392.7 L294.5,393.6 L288.8,401.5 L288.7,401.7Z" fill="url(#gs)" stroke="#d88a38" stroke-width="1.2"/>
<ellipse cx="346.7" cy="394.8" rx="9.3" ry="4.5" fill="#cfc3f0" stroke="#a193d6" stroke-width="1"/>
<ellipse cx="345.7" cy="393.6" rx="5.1" ry="1.6" fill="#ffffff" opacity="0.25"/>
<path d="M384.2,398.4 L383.7,399.6 L383.7,400.9 L384.2,402.1 L385.1,403.1 L386.3,403.6 L387.6,403.7 L393.0,402.9 L400.9,403.1 L403.2,403.4 L404.2,403.3 L405.8,403.1 L409.9,402.6 L413.9,402.3 L418.0,402.2 L422.1,402.3 L426.1,402.7 L430.2,403.2 L434.2,403.8 L438.2,404.6 L442.2,405.4 L442.3,405.4 L446.2,406.1 L446.3,406.1 L450.1,406.8 L450.3,406.8 L452.7,407.2 L453.7,407.2 L455.1,407.0 L462.9,406.0 L469.2,405.3 L470.2,405.0 L471.1,404.4 L476.2,399.7 L477.1,398.5 L477.4,397.1 L477.1,395.7 L476.3,394.6 L471.1,389.5 L470.2,388.9 L469.2,388.5 L464.0,387.7 L464.0,387.7 L457.3,386.7 L457.3,386.7 L450.7,385.7 L450.6,385.7 L444.0,384.7 L444.0,384.7 L437.5,383.8 L437.2,383.7 L431.2,383.3 L430.5,383.3 L424.3,384.0 L424.3,384.0 L417.6,384.8 L417.6,384.8 L411.0,385.7 L410.9,385.7 L404.3,386.5 L404.3,386.5 L397.6,387.4 L397.6,387.4 L392.9,388.1 L391.6,388.5 L390.6,389.4 L385.3,396.6 L385.1,396.8Z" fill="url(#gs)" stroke="#d88a38" stroke-width="1.2"/>
<ellipse cx="442.1" cy="393.2" rx="9.3" ry="4.5" fill="#cfc3f0" stroke="#a193d6" stroke-width="1"/>
<ellipse cx="441.1" cy="392.0" rx="5.1" ry="1.6" fill="#ffffff" opacity="0.25"/>
<path d="M493.3,405.1 L494.2,405.2 L498.0,405.0 L502.0,404.9 L506.1,405.1 L510.2,405.5 L514.2,406.1 L518.3,406.8 L522.3,407.7 L526.3,408.7 L530.3,409.8 L530.3,409.8 L532.4,410.3 L533.4,410.4 L533.5,410.4 L538.8,410.2 L544.2,410.0 L549.5,409.8 L553.1,409.7 L554.3,409.4 L555.3,408.7 L563.5,401.2 L564.2,400.6 L565.0,399.6 L565.3,398.3 L565.2,397.0 L564.6,395.8 L563.6,395.0 L562.3,394.6 L559.8,394.2 L552.8,392.5 L552.8,392.5 L545.9,390.9 L545.9,390.9 L539.0,389.3 L539.0,389.3 L532.1,387.7 L532.1,387.7 L525.6,386.3 L525.0,386.2 L518.7,385.9 L518.3,385.9 L511.7,386.5 L511.7,386.5 L504.8,387.0 L504.8,387.0 L497.9,387.6 L497.9,387.6 L492.5,388.1 L491.5,388.4 L490.5,389.0 L485.5,393.5 L484.6,394.7 L484.3,396.1 L484.6,397.4 L485.3,398.6 L490.7,404.0 L492.5,405.0Z" fill="url(#gs)" stroke="#d88a38" stroke-width="1.2"/>
<ellipse cx="527.4" cy="396.0" rx="9.3" ry="4.5" fill="#cfc3f0" stroke="#a193d6" stroke-width="1"/>
<ellipse cx="526.4" cy="394.8" rx="5.1" ry="1.6" fill="#ffffff" opacity="0.25"/>
<path d="M564.7,403.9 L563.9,404.9 L563.6,406.2 L563.7,407.6 L564.4,408.7 L565.5,409.6 L566.8,409.9 L570.9,410.3 L578.8,412.2 L581.0,412.7 L581.9,412.8 L582.0,412.8 L586.0,412.8 L590.1,413.0 L594.2,413.4 L598.2,414.1 L602.3,414.9 L606.3,415.9 L610.4,417.1 L614.4,418.3 L618.4,419.6 L618.4,419.6 L622.3,420.8 L622.4,420.8 L623.9,421.3 L624.9,421.4 L625.8,421.4 L633.7,421.6 L641.6,421.7 L647.7,421.9 L648.9,421.7 L650.0,421.1 L654.6,417.3 L655.5,415.9 L655.8,414.3 L655.4,409.4 L655.0,408.0 L654.1,406.9 L652.8,406.2 L652.5,406.1 L644.6,403.8 L644.5,403.8 L636.7,401.6 L636.7,401.6 L628.8,399.4 L628.8,399.4 L620.9,397.2 L620.9,397.2 L613.5,395.3 L612.8,395.2 L605.5,394.8 L605.3,394.8 L597.6,394.8 L597.6,394.8 L589.7,394.9 L589.7,394.9 L581.8,395.1 L581.8,395.1 L575.7,395.2 L574.5,395.4 L573.4,396.1 L565.3,403.3 L565.2,403.3Z" fill="url(#gs)" stroke="#d88a38" stroke-width="1.2"/>
<ellipse cx="608.2" cy="405.6" rx="9.3" ry="4.5" fill="#cfc3f0" stroke="#a193d6" stroke-width="1"/>
<ellipse cx="607.2" cy="404.4" rx="5.1" ry="1.6" fill="#ffffff" opacity="0.25"/>
<path d="M200.9,619.4L204.2,623.4M217.7,605.3L221.0,609.3M226.2,598.2L229.5,602.3M234.8,591.3L238.0,595.3M242.9,580.7L246.8,577.2M235.5,572.6L239.3,569.1M216.7,575.2L215.8,570.1M195.2,579.3L194.1,574.2M184.5,581.6L183.4,576.5M173.8,584.0L172.6,579.0M152.6,587.7L147.4,587.7M152.6,598.7L147.4,598.7M152.6,620.7L147.4,620.7M156.0,623.1L156.0,628.3M167.0,623.1L167.0,628.3M178.0,623.1L178.0,628.3M247.4,577.9L243.6,581.4M287.9,580.2L287.8,585.4M292.5,570.0L297.7,569.4M290.3,553.9L289.6,548.7M279.5,555.5L278.7,550.4M268.7,557.3L267.8,552.2M259.0,560.0L256.5,555.4M249.3,565.1L246.8,560.6M239.7,570.4L237.1,565.9M157.8,553.8L159.8,558.6M198.8,537.7L200.6,542.5M209.2,533.9L210.9,538.9M219.7,530.4L221.3,535.3M247.4,484.0L248.7,478.9M237.9,483.6L236.8,478.5M205.8,491.1L204.6,486.1M163.7,503.2L162.1,498.3M152.6,524.4L147.4,524.4M152.6,535.4L147.4,535.4M152.6,546.4L147.4,546.4M199.7,542.9L197.9,538.0M169.0,554.7L167.0,549.9M152.6,562.4L147.4,562.4M152.6,573.4L147.4,573.4M159.4,582.2L160.6,587.2M180.8,577.1L182.0,582.1M202.4,572.5L203.4,577.6M224.2,568.7L225.0,573.8M235.1,566.9L235.8,572.1M243.9,562.1L246.4,566.7M253.6,556.9L256.0,561.5M251.4,543.8L256.0,541.4M246.3,534.1L250.9,531.6M228.9,533.7L228.4,528.5M218.8,536.1L217.2,531.2M155.2,442.9L157.4,447.6M175.3,433.8L177.4,438.6M185.4,429.4L187.5,434.2M200.7,427.1L199.8,422.0M189.4,428.5L189.2,423.3M156.8,429.5L156.0,424.4M152.6,432.7L147.4,432.7M255.0,496.7L250.9,493.5M248.2,505.4L244.1,502.1M233.4,528.0L233.8,533.2M254.3,524.4L255.9,529.4M275.8,495.8L280.8,494.4M264.5,487.3L264.3,482.1M156.9,500.0L158.5,504.9M167.4,496.6L168.9,501.6M199.2,487.5L200.6,492.5M231.4,479.7L232.5,484.8M247.8,469.7L251.7,473.1M269.5,444.8L273.4,448.2M192.1,453.0L191.1,447.9M170.6,457.4L169.5,452.3M152.6,472.0L147.4,472.0M152.6,483.0L147.4,483.0M152.6,494.0L147.4,494.0M152.6,505.0L147.4,505.0M305.7,474.2L306.8,479.3M333.0,448.5L337.6,450.8M338.8,443.3L338.7,438.1M327.8,443.4L327.7,438.2M305.9,444.1L305.7,438.9M295.0,444.7L294.6,439.5M284.0,445.4L283.6,440.3M253.5,471.0L249.5,467.6M275.7,415.1L280.5,417.1M266.8,416.8L267.2,411.6M213.8,423.9L212.3,418.9M202.3,428.1L200.4,423.2M191.0,447.9L192.0,453.0M234.6,440.9L235.3,446.0M275.5,429.3L270.7,427.4M276.5,440.8L276.9,446.0M298.5,439.2L298.8,444.4M331.6,438.1L331.7,443.3M341.3,437.1L343.5,441.8M337.5,425.5L341.8,422.5M326.0,409.0L325.3,403.8M304.7,413.5L303.5,408.4M282.6,417.2L282.3,412.0M287.4,620.6L292.3,622.3M295.1,599.9L299.9,601.7M286.1,585.4L286.1,580.2M275.1,585.3L275.1,580.1M264.1,585.5L264.0,580.3M245.2,589.6L241.9,585.6M228.1,603.4L224.8,599.4M219.6,610.4L216.3,606.4M203.8,623.1L203.8,628.3M236.8,623.1L236.8,628.3M280.8,623.1L280.8,628.3M310.5,580.8L312.3,585.6M320.8,577.0L322.6,581.9M331.3,573.4L332.9,578.3M362.8,563.3L364.3,568.3M373.4,560.2L374.8,565.3M379.2,551.8L383.9,549.5M336.3,530.3L333.9,525.7M326.6,535.4L324.2,530.8M298.8,579.4L293.6,580.0M331.6,522.6L336.2,520.2M312.6,521.4L312.8,516.3M301.6,521.0L301.8,515.8M290.7,520.8L290.8,515.6M249.1,531.5L247.5,526.6M258.7,546.3L254.1,548.8M261.8,553.2L262.7,558.3M293.3,547.7L295.9,552.2M302.9,542.3L305.4,546.8M322.3,531.8L324.7,536.4M346.7,527.6L345.1,532.6M357.2,531.2L355.5,536.1M367.6,534.8L365.8,539.7M417.0,522.1L418.8,527.0M427.3,518.3L429.1,523.2M437.7,514.6L439.4,519.5M441.7,501.1L442.8,496.1M431.0,498.9L432.0,493.8M409.4,494.8L410.3,489.6M376.9,489.8L377.6,484.7M358.2,493.5L354.1,490.2M351.2,502.0L347.2,498.7M331.7,517.4L331.4,522.6M337.0,511.2L341.1,514.4M352.0,490.8L354.5,486.3M342.3,485.6L344.7,481.0M292.4,482.7L291.2,477.6M281.8,485.3L280.5,480.3M279.1,488.3L274.1,489.8M343.6,441.8L341.4,437.0M333.6,458.8L329.0,456.5M329.2,472.9L326.8,477.6M348.7,483.2L346.3,487.8M391.9,467.9L395.6,471.6M402.2,457.0L405.3,452.8M393.3,450.6L396.4,446.3M366.8,437.1L366.3,431.9M355.9,438.3L355.3,433.2M338.3,417.5L334.1,420.5M344.6,426.6L340.3,429.5M359.5,432.7L360.1,437.8M370.5,431.5L371.0,436.6M383.5,414.7L388.1,417.3M386.9,410.4L386.1,405.3M364.4,411.4L364.8,406.3M353.3,410.2L354.0,405.1M397.6,585.8L402.8,586.3M398.5,574.9L403.7,575.3M388.4,563.5L390.5,558.8M379.7,563.9L378.3,558.9M348.2,573.3L346.6,568.3M337.8,576.7L336.1,571.7M317.1,583.9L315.3,579.0M302.6,594.6L297.7,592.8M294.9,615.2L290.1,613.4M289.4,623.1L289.4,628.3M322.4,623.1L322.4,628.3M355.4,623.1L355.4,628.3M377.4,623.1L377.4,628.3M508.0,618.5L511.8,615.0M500.6,610.4L504.4,606.9M478.2,586.2L482.0,582.7M470.6,578.2L474.4,574.7M444.4,567.6L444.3,562.4M411.5,568.7L411.3,563.5M399.7,623.1L394.5,622.6M405.0,623.1L405.0,628.3M416.0,623.1L416.0,628.3M427.0,623.1L427.0,628.3M438.0,623.1L438.0,628.3M482.0,623.1L482.0,628.3M493.0,623.1L493.0,628.3M515.0,623.1L515.0,628.3M476.7,412.2L478.5,417.1M490.1,409.5L489.5,404.3M468.1,411.8L467.9,406.6M445.6,410.0L446.5,404.9M389.5,441.4L386.4,445.7M398.4,447.8L395.4,452.0M407.3,454.3L404.3,458.5M416.7,455.0L416.4,460.2M427.7,455.6L427.4,460.8M437.8,455.7L439.1,460.8M458.3,437.8L463.1,439.9M450.6,428.5L450.5,423.3M439.7,429.0L439.4,423.8M417.8,430.4L417.4,425.2M439.2,519.6L437.5,514.7M418.5,527.0L416.7,522.2M408.3,530.9L406.4,526.1M398.1,535.0L396.2,530.1M379.2,539.9L374.5,542.2M388.2,557.7L386.1,562.5M407.6,563.7L407.9,568.9M429.6,562.7L429.8,567.9M440.7,562.4L440.7,567.6M461.6,562.2L463.7,566.9M471.7,557.8L473.7,562.5M481.8,553.4L483.8,558.2M488.2,540.9L493.4,540.1M486.6,530.0L491.8,529.2M451.0,515.7L449.4,510.7M402.4,465.0L398.8,461.2M394.5,472.6L390.9,468.9M378.8,488.0L375.2,484.3M407.8,489.2L406.9,494.3M418.6,491.1L417.7,496.3M429.5,493.3L428.4,498.3M440.3,495.5L439.2,500.6M446.4,496.6L451.3,494.9M442.8,486.2L447.8,484.5M439.3,475.8L444.2,474.1M431.1,461.1L431.5,455.9M409.2,459.9L409.4,454.7M382.4,427.3L377.9,424.8M390.8,427.9L391.4,433.1M401.8,426.7L402.3,431.9M412.8,425.6L413.2,430.8M423.8,424.7L424.1,429.9M434.8,424.0L435.1,429.2M445.8,423.5L446.1,428.6M450.9,422.9L455.1,419.9M435.6,408.1L436.5,402.9M424.9,406.5L425.4,401.3M414.2,406.2L414.1,401.0M448.5,486.6L443.5,488.2M449.8,493.1L451.5,498.0M460.2,489.5L461.9,494.4M507.6,478.3L509.6,473.5M487.3,469.8L489.3,465.0M477.2,465.7L479.1,460.9M456.6,458.0L458.4,453.1M458.0,425.3L455.0,429.5M520.6,439.2L519.6,444.3M527.2,440.1L531.9,442.4M536.5,424.4L538.6,419.6M506.3,411.3L508.2,406.5M497.8,410.2L496.1,405.3M466.9,421.5L465.0,416.7M460.6,512.8L458.7,517.6M470.9,516.9L468.9,521.7M481.0,521.2L479.0,526.0M500.7,523.1L501.4,528.2M530.5,513.5L533.1,517.9M549.5,502.3L552.1,506.8M534.1,493.5L537.2,489.3M466.1,493.1L464.4,488.1M455.7,496.6L454.0,491.6M492.0,530.7L486.9,531.5M525.6,560.4L523.8,565.3M557.7,560.4L557.6,565.6M568.7,560.6L568.5,565.8M579.7,561.0L579.5,566.2M601.8,562.2L601.4,567.4M591.8,562.1L594.3,557.6M572.4,551.9L574.8,547.2M562.7,546.9L565.0,542.2M503.0,528.0L502.4,522.9M492.2,529.6L491.4,524.4M471.7,458.0L469.8,462.9M492.2,466.1L490.2,470.9M518.9,471.3L522.6,475.0M526.7,463.5L530.3,467.2M534.5,455.8L538.1,459.5M503.9,441.3L504.8,436.1M493.1,439.4L493.9,434.3M482.3,437.7L483.0,432.5M460.5,446.0L455.7,444.0M647.5,452.5L649.4,447.7M616.6,441.3L618.3,436.4M595.8,434.5L597.3,429.5M564.2,425.4L565.5,420.3M553.5,422.6L554.8,417.6M543.8,424.1L542.9,419.0M538.3,429.1L533.6,426.8M533.7,445.3L529.8,448.8M539.7,452.5L538.6,457.6M550.5,454.9L549.3,460.0M582.6,462.9L581.3,467.9M603.9,468.9L602.3,473.9M614.4,472.2L612.8,477.1M624.9,475.6L623.3,480.5M635.4,479.1L633.7,484.0M645.8,482.8L644.0,487.7M656.1,486.6L654.3,491.4M654.2,456.3L659.4,456.5M646.8,488.7L648.6,483.8M626.1,481.4L627.7,476.5M605.2,474.8L606.7,469.8M584.1,468.7L585.5,463.7M573.5,465.8L574.9,460.8M552.3,460.6L553.4,455.6M527.4,470.1L523.8,466.4M561.3,503.2L560.1,508.2M572.0,505.6L570.8,510.7M582.7,508.2L581.5,513.2M593.4,510.9L592.1,516.0M604.1,513.8L602.7,518.8M625.3,520.0L623.7,525.0M635.8,523.4L634.2,528.3M651.7,518.9L656.9,519.1M652.6,496.9L657.8,497.1M651.7,490.5L653.5,485.6M485.3,557.6L483.4,552.8M475.2,561.9L473.2,557.1M465.2,566.3L463.1,561.5M484.3,585.1L480.5,588.7M506.7,609.4L502.9,612.9M520.3,623.1L520.3,628.3M531.3,623.1L531.3,628.3M537.3,620.0L542.3,621.5M540.3,609.5L545.3,610.9M543.4,598.9L548.4,600.3M513.7,561.7L515.5,556.8M634.8,583.7L634.3,578.5M613.0,586.2L612.3,581.0M548.2,597.5L547.1,592.4M546.8,605.9L541.8,604.5M543.7,616.5L538.7,615.0M540.2,623.1L540.2,628.3M562.2,623.1L562.2,628.3M595.2,623.1L595.2,628.3M606.2,623.1L606.2,628.3M639.2,623.1L639.2,628.3M647.4,625.4L652.6,625.6M648.3,603.4L653.5,603.6M648.7,592.4L653.9,592.6M649.2,581.4L654.4,581.6M542.3,583.0L538.0,585.9M548.4,592.2L544.1,595.1M555.7,590.6L556.8,595.7M588.3,584.6L589.1,589.7M621.1,580.0L621.7,585.1M632.0,578.7L632.6,583.9M643.0,577.7L643.5,582.9M593.9,566.9L594.2,561.7M583.0,566.3L583.2,561.1M539.2,565.6L539.1,560.4M561.3,419.2L560.0,424.3M572.0,422.1L570.6,427.1M593.2,428.3L591.6,433.2M603.7,431.6L602.1,436.5M624.6,438.6L622.9,443.5M635.0,442.3L633.2,447.2M645.3,446.1L643.5,451.0M654.8,442.5L660.0,442.7M655.2,431.5L660.4,431.7M651.6,429.6L651.7,424.4M640.3,428.8L641.0,423.7M618.5,423.7L620.0,418.7M597.6,417.9L598.6,412.8M587.0,416.8L587.3,411.6M554.1,417.8L554.2,412.6M618.4,523.4L619.9,518.4M597.3,517.4L598.7,512.3M586.7,514.6L588.0,509.5M546.6,510.0L544.0,505.5M522.4,522.0L520.3,526.8M542.4,531.2L540.2,535.9M562.3,540.8L559.9,545.5M581.9,550.9L579.5,555.5M601.3,561.4L598.8,566.0M611.1,564.7L609.7,569.7M649.3,578.0L654.5,578.2M649.8,567.0L655.0,567.2M650.2,556.0L655.4,556.2M651.1,534.0L656.3,534.2" stroke="#d88a38" stroke-width="1" fill="none"/>
<path d="M153.8,588.0 L152.7,588.5 L151.9,589.6 L151.6,590.9 L151.6,621.1 L151.8,622.2 L152.5,623.2 L153.5,623.9 L154.6,624.1 L195.9,624.1 L196.9,623.9 L197.8,623.4 L200.1,621.4 L205.4,616.9 L210.7,612.4 L216.0,608.0 L221.4,603.5 L226.7,599.2 L232.0,594.8 L237.3,590.6 L242.6,586.3 L244.0,585.2 L244.8,584.2 L245.2,583.0 L245.0,581.8 L244.4,580.8 L242.6,578.8 L242.6,578.8 L240.0,576.0 L240.0,576.0 L237.5,573.3 L237.5,573.3 L236.6,572.3 L235.4,571.5 L233.9,571.4 L228.7,572.2 L228.7,572.2 L221.1,573.4 L221.1,573.4 L213.5,574.7 L213.5,574.7 L205.9,576.1 L205.9,576.1 L198.3,577.6 L198.3,577.6 L190.7,579.2 L190.7,579.2 L183.1,580.9 L183.0,580.9 L175.5,582.6 L175.4,582.6 L167.9,584.4 L167.8,584.4 L160.2,586.3 L160.2,586.3Z" fill="#f5a83e" stroke="#d8862a" stroke-width="1.2"/>
<path d="M162.4,590.6 L161.5,590.9 L160.9,591.4 L160.6,591.9 L160.6,605.6 L160.8,606.1 L161.3,606.5 L162.1,606.8 L163.0,606.9 L195.2,606.9 L196.0,606.8 L196.7,606.6 L198.5,605.7 L202.6,603.7 L206.8,601.6 L210.9,599.6 L215.1,597.7 L219.2,595.7 L223.3,593.7 L227.5,591.8 L231.6,589.9 L232.8,589.4 L233.4,589.0 L233.6,588.4 L233.5,587.9 L233.0,587.4 L231.6,586.5 L231.6,586.5 L229.6,585.3 L229.6,585.3 L227.6,584.0 L227.6,584.0 L226.9,583.6 L226.0,583.2 L224.9,583.2 L220.8,583.5 L220.8,583.5 L214.9,584.1 L214.9,584.1 L208.9,584.7 L208.9,584.7 L203.0,585.3 L203.0,585.3 L197.1,586.0 L197.0,586.0 L191.1,586.7 L191.1,586.7 L185.2,587.4 L185.2,587.4 L179.3,588.2 L179.2,588.2 L173.3,589.0 L173.3,589.0 L167.4,589.9 L167.4,589.9Z" fill="#f9c36a" opacity="0.9"/>
<ellipse cx="193.2" cy="597.3" rx="10.5" ry="5.2" fill="#c7b4ee" stroke="#9c86d4" stroke-width="1"/>
<ellipse cx="192.2" cy="596.1" rx="5.8" ry="1.8" fill="#ffffff" opacity="0.25"/>
<path d="M188.0,597.8 Q192.2,594.7 195.8,597.1" stroke="#7d58b6" stroke-width="1.6" fill="none" stroke-linecap="round"/>
<path d="M242.0,568.0 L241.2,568.7 L240.6,569.6 L240.5,570.7 L240.7,571.7 L241.3,572.6 L242.4,573.9 L245.0,576.7 L247.5,579.5 L248.7,580.7 L249.7,581.4 L251.0,581.7 L255.7,581.5 L262.5,581.3 L269.3,581.2 L276.1,581.1 L282.9,581.1 L289.8,581.2 L291.3,581.2 L292.6,581.0 L293.6,580.2 L294.3,579.1 L294.4,577.9 L294.2,576.0 L293.8,572.4 L293.4,568.9 L293.0,565.3 L292.6,561.7 L292.2,558.2 L291.9,555.8 L291.5,554.6 L290.8,553.7 L289.7,553.2 L288.5,553.1 L286.8,553.4 L286.8,553.4 L280.4,554.3 L280.3,554.3 L274.0,555.4 L273.9,555.4 L267.5,556.5 L267.5,556.5 L261.8,557.5 L260.9,557.8 L255.4,560.7 L255.4,560.7 L249.2,564.0 L249.2,564.0 L243.1,567.4 L243.0,567.4Z" fill="#f5a83e" stroke="#d8862a" stroke-width="1.2"/>
<path d="M248.3,565.6 L247.6,565.9 L247.2,566.3 L247.1,566.8 L247.3,567.3 L247.7,567.7 L248.6,568.3 L250.6,569.5 L252.6,570.8 L253.5,571.3 L254.3,571.7 L255.3,571.8 L258.9,571.7 L264.3,571.6 L269.6,571.5 L274.9,571.5 L280.2,571.5 L285.5,571.6 L286.8,571.6 L287.7,571.5 L288.5,571.1 L289.0,570.6 L289.1,570.1 L289.0,569.2 L288.7,567.6 L288.4,566.0 L288.0,564.4 L287.7,562.8 L287.4,561.2 L287.2,560.1 L286.9,559.6 L286.3,559.2 L285.5,559.0 L284.6,558.9 L283.2,559.0 L283.2,559.0 L278.2,559.5 L278.2,559.5 L273.2,559.9 L273.2,559.9 L268.2,560.4 L268.2,560.4 L263.7,560.9 L263.1,561.0 L258.7,562.3 L258.7,562.3 L253.9,563.8 L253.9,563.8 L249.1,565.3 L249.1,565.3Z" fill="#f9c36a" opacity="0.9"/>
<ellipse cx="268.0" cy="568.1" rx="10.5" ry="5.2" fill="#c7b4ee" stroke="#9c86d4" stroke-width="1"/>
<ellipse cx="267.0" cy="566.9" rx="5.8" ry="1.8" fill="#ffffff" opacity="0.25"/>
<path d="M262.7,568.6 Q266.9,565.5 270.6,567.9" stroke="#7d58b6" stroke-width="1.6" fill="none" stroke-linecap="round"/>
<path d="M151.6,552.9 L151.8,554.1 L152.5,555.1 L153.5,555.7 L154.6,555.9 L155.8,555.7 L162.1,553.1 L169.8,549.9 L177.6,546.8 L185.3,543.8 L193.1,540.8 L200.9,538.0 L208.6,535.2 L216.4,532.5 L222.8,530.4 L223.6,530.0 L224.3,529.4 L226.7,526.2 L230.0,521.9 L233.3,517.6 L236.6,513.3 L240.0,509.1 L243.3,504.8 L246.6,500.6 L249.9,496.4 L253.2,492.2 L255.5,489.4 L256.0,488.3 L256.1,487.1 L255.7,486.0 L254.9,485.1 L253.9,484.6 L251.3,483.9 L251.3,483.9 L246.6,482.7 L246.6,482.7 L242.9,481.8 L241.6,481.8 L234.7,483.3 L234.6,483.3 L226.7,485.0 L226.7,485.0 L218.8,486.9 L218.7,486.9 L210.8,488.8 L210.8,488.8 L202.8,490.9 L202.8,490.9 L194.9,493.0 L194.9,493.0 L186.9,495.2 L186.9,495.2 L179.0,497.5 L178.9,497.5 L171.0,499.9 L171.0,499.9 L163.1,502.4 L163.0,502.4 L155.1,504.9 L155.1,505.0 L153.7,505.4 L152.6,506.1 L151.9,507.1 L151.6,508.3Z" fill="#f5a83e" stroke="#d8862a" stroke-width="1.2"/>
<path d="M161.4,529.4 L161.6,529.9 L162.1,530.3 L162.9,530.6 L163.8,530.7 L164.7,530.6 L169.6,529.4 L175.6,528.0 L181.7,526.6 L187.8,525.2 L193.8,523.9 L199.9,522.6 L205.9,521.4 L212.0,520.2 L217.0,519.2 L217.6,519.0 L218.1,518.8 L220.0,517.3 L222.6,515.4 L225.2,513.5 L227.8,511.5 L230.4,509.6 L232.9,507.7 L235.5,505.8 L238.1,503.9 L240.7,502.1 L242.4,500.8 L242.9,500.3 L242.9,499.8 L242.6,499.3 L242.0,498.9 L241.2,498.6 L239.2,498.3 L239.2,498.3 L235.5,497.8 L235.5,497.8 L232.7,497.4 L231.6,497.4 L226.2,498.0 L226.2,498.0 L220.0,498.8 L220.0,498.8 L213.8,499.7 L213.8,499.7 L207.6,500.5 L207.6,500.5 L201.4,501.4 L201.4,501.5 L195.2,502.4 L195.2,502.4 L189.0,503.4 L189.0,503.4 L182.8,504.4 L182.8,504.4 L176.6,505.5 L176.6,505.5 L170.4,506.6 L170.3,506.6 L164.2,507.8 L164.1,507.8 L163.0,508.0 L162.2,508.3 L161.6,508.7 L161.4,509.3Z" fill="#f9c36a" opacity="0.9"/>
<ellipse cx="195.0" cy="514.6" rx="10.5" ry="5.2" fill="#c7b4ee" stroke="#9c86d4" stroke-width="1"/>
<ellipse cx="194.0" cy="513.4" rx="5.8" ry="1.8" fill="#ffffff" opacity="0.25"/>
<path d="M189.7,515.1 Q193.9,512.0 197.6,514.4" stroke="#7d58b6" stroke-width="1.6" fill="none" stroke-linecap="round"/>
<path d="M151.6,581.4 L151.8,582.4 L152.4,583.4 L153.2,584.0 L154.3,584.3 L155.4,584.3 L159.4,583.2 L167.1,581.3 L174.7,579.5 L182.4,577.7 L190.0,576.1 L197.7,574.5 L205.3,573.0 L212.9,571.6 L220.6,570.3 L228.2,569.0 L235.0,568.0 L236.0,567.6 L241.5,564.6 L247.7,561.2 L253.9,557.9 L256.0,556.8 L256.9,556.0 L257.5,555.0 L257.6,553.8 L257.3,552.7 L255.9,550.1 L254.2,546.8 L252.4,543.5 L250.7,540.2 L248.9,536.9 L247.1,533.6 L246.8,532.9 L246.1,532.0 L245.1,531.5 L243.9,531.4 L239.6,531.7 L239.5,531.7 L232.2,532.3 L232.2,532.3 L225.3,533.0 L224.7,533.1 L217.5,535.6 L217.4,535.6 L209.7,538.2 L209.7,538.2 L202.0,541.0 L202.0,541.0 L194.2,543.8 L194.2,543.8 L186.5,546.7 L186.5,546.7 L178.8,549.7 L178.7,549.8 L171.0,552.8 L171.0,552.8 L163.3,556.0 L163.3,556.0 L155.6,559.3 L155.5,559.3 L153.4,560.2 L152.5,560.9 L151.8,561.8 L151.6,563.0Z" fill="#f5a83e" stroke="#d8862a" stroke-width="1.2"/>
<path d="M163.3,565.2 L163.4,565.7 L163.9,566.1 L164.6,566.4 L165.4,566.6 L166.2,566.5 L169.4,566.1 L175.4,565.2 L181.3,564.4 L187.3,563.6 L193.3,562.9 L199.2,562.1 L205.2,561.5 L211.1,560.8 L217.1,560.2 L223.1,559.7 L228.4,559.2 L229.2,559.1 L233.4,557.7 L238.3,556.2 L243.1,554.7 L244.7,554.2 L245.4,553.8 L245.9,553.4 L246.0,552.9 L245.7,552.3 L244.7,551.2 L243.3,549.7 L241.9,548.2 L240.6,546.7 L239.2,545.2 L237.8,543.7 L237.6,543.4 L237.0,543.0 L236.2,542.8 L235.3,542.7 L231.9,542.9 L231.9,542.9 L226.2,543.2 L226.1,543.2 L220.8,543.5 L220.3,543.5 L214.7,544.6 L214.6,544.6 L208.6,545.8 L208.6,545.8 L202.6,547.1 L202.6,547.1 L196.6,548.3 L196.5,548.3 L190.5,549.7 L190.5,549.7 L184.5,551.0 L184.5,551.0 L178.5,552.4 L178.4,552.4 L172.4,553.8 L172.4,553.8 L166.4,555.3 L166.4,555.3 L164.7,555.7 L164.0,556.0 L163.5,556.4 L163.3,557.0Z" fill="#f9c36a" opacity="0.9"/>
<ellipse cx="205.8" cy="556.5" rx="10.5" ry="5.2" fill="#c7b4ee" stroke="#9c86d4" stroke-width="1"/>
<ellipse cx="204.8" cy="555.3" rx="5.8" ry="1.8" fill="#ffffff" opacity="0.25"/>
<path d="M200.6,557.0 Q204.8,553.9 208.4,556.3" stroke="#7d58b6" stroke-width="1.6" fill="none" stroke-linecap="round"/>
<path d="M151.6,441.0 L151.8,442.2 L152.5,443.2 L153.5,443.8 L154.7,444.0 L155.9,443.7 L161.4,441.2 L169.1,437.6 L176.9,434.2 L178.8,433.4 L179.8,432.7 L180.4,431.8 L180.6,430.6 L180.4,429.5 L179.8,428.5 L178.8,427.9 L177.7,427.6 L174.0,427.6 L174.0,427.6 L170.1,427.6 L170.0,427.6 L166.1,427.7 L166.0,427.7 L162.2,427.9 L162.1,427.9 L158.3,428.3 L158.1,428.3 L154.4,428.9 L154.2,428.9 L154.0,429.0 L152.8,429.5 L151.9,430.6 L151.6,431.9Z" fill="#f5a83e" stroke="#d8862a" stroke-width="1.2"/>
<path d="M154.3,434.2 L154.4,434.7 L155.0,435.1 L155.8,435.4 L156.7,435.5 L157.6,435.4 L161.9,434.3 L167.9,432.7 L174.0,431.1 L175.5,430.7 L176.2,430.5 L176.7,430.0 L176.9,429.5 L176.7,429.0 L176.2,428.6 L175.5,428.3 L174.6,428.2 L171.7,428.1 L171.7,428.1 L168.6,428.1 L168.6,428.1 L165.6,428.2 L165.5,428.2 L162.5,428.3 L162.4,428.3 L159.5,428.5 L159.3,428.5 L156.4,428.7 L156.3,428.7 L156.1,428.8 L155.2,429.0 L154.5,429.5 L154.3,430.1Z" fill="#f9c36a" opacity="0.9"/>
<path d="M232.4,524.1 L231.9,525.1 L231.8,526.2 L232.1,527.3 L232.9,528.2 L233.9,528.7 L235.0,528.9 L239.3,528.5 L246.1,528.0 L246.8,527.8 L253.9,525.6 L261.6,523.2 L269.2,520.9 L276.9,518.7 L280.0,517.8 L281.1,517.3 L281.8,516.4 L282.2,515.3 L282.1,514.1 L281.2,511.0 L280.1,507.3 L279.1,503.5 L278.0,499.8 L276.9,496.0 L275.8,492.3 L274.8,488.5 L274.7,488.2 L274.0,487.1 L273.0,486.3 L271.7,486.1 L268.2,486.2 L268.2,486.2 L263.2,486.4 L262.0,486.7 L261.0,487.5 L259.0,490.0 L259.0,490.0 L255.7,494.2 L255.7,494.2 L252.4,498.4 L252.4,498.4 L249.1,502.6 L249.1,502.6 L245.8,506.8 L245.8,506.8 L242.5,511.0 L242.5,511.0 L239.2,515.3 L239.2,515.3 L235.9,519.5 L235.9,519.5 L232.6,523.8 L232.6,523.8Z" fill="#f5a83e" stroke="#d8862a" stroke-width="1.2"/>
<path d="M238.4,513.0 L238.0,513.4 L238.0,513.9 L238.2,514.4 L238.8,514.8 L239.6,515.1 L240.5,515.1 L243.8,515.0 L249.2,514.7 L249.7,514.7 L255.2,513.6 L261.2,512.6 L267.2,511.5 L273.1,510.5 L275.6,510.1 L276.4,509.9 L277.0,509.5 L277.3,509.0 L277.2,508.5 L276.5,507.1 L275.7,505.4 L274.8,503.7 L274.0,502.0 L273.2,500.3 L272.3,498.7 L271.5,497.0 L271.4,496.8 L270.9,496.3 L270.1,496.0 L269.1,495.9 L266.4,495.9 L266.4,495.9 L262.5,496.0 L261.5,496.2 L260.8,496.5 L259.2,497.6 L259.2,497.6 L256.6,499.5 L256.6,499.5 L254.0,501.4 L254.0,501.4 L251.5,503.3 L251.5,503.3 L248.9,505.2 L248.9,505.2 L246.3,507.1 L246.3,507.1 L243.7,509.0 L243.7,509.0 L241.1,510.9 L241.1,510.9 L238.6,512.9 L238.6,512.9Z" fill="#f9c36a" opacity="0.9"/>
<ellipse cx="263.2" cy="508.3" rx="10.5" ry="5.2" fill="#c7b4ee" stroke="#9c86d4" stroke-width="1"/>
<ellipse cx="262.2" cy="507.1" rx="5.8" ry="1.8" fill="#ffffff" opacity="0.25"/>
<path d="M257.9,508.8 Q262.1,505.7 265.8,508.1" stroke="#7d58b6" stroke-width="1.6" fill="none" stroke-linecap="round"/>
<path d="M151.6,498.6 L151.8,499.7 L152.4,500.6 L153.3,501.3 L154.4,501.6 L155.5,501.4 L162.1,499.3 L170.1,496.8 L178.1,494.4 L186.0,492.1 L194.0,489.9 L202.0,487.8 L210.0,485.7 L218.0,483.8 L226.0,481.9 L234.0,480.1 L240.4,478.8 L241.3,478.4 L242.1,477.8 L244.6,474.9 L248.1,470.8 L251.6,466.7 L255.1,462.6 L258.7,458.6 L262.2,454.6 L265.7,450.6 L269.2,446.6 L269.2,446.6 L269.8,445.5 L270.0,444.4 L269.7,443.2 L268.9,442.3 L267.9,441.7 L266.7,441.6 L260.9,442.1 L260.8,442.1 L253.2,442.9 L253.2,442.9 L245.6,443.7 L245.6,443.7 L237.9,444.7 L237.9,444.7 L230.3,445.7 L230.3,445.7 L222.7,446.8 L222.6,446.8 L215.0,447.9 L215.0,447.9 L207.4,449.2 L207.4,449.2 L199.7,450.5 L199.7,450.5 L192.1,451.9 L192.1,451.9 L184.5,453.4 L184.4,453.4 L176.8,455.0 L176.8,455.0 L169.2,456.7 L169.2,456.7 L161.5,458.4 L161.5,458.4 L153.9,460.3 L152.7,460.9 L151.9,461.9 L151.6,463.2Z" fill="#f5a83e" stroke="#d8862a" stroke-width="1.2"/>
<path d="M162.9,479.2 L163.1,479.7 L163.5,480.1 L164.2,480.4 L165.1,480.5 L166.0,480.4 L171.1,479.5 L177.3,478.4 L183.5,477.3 L189.8,476.2 L196.0,475.2 L202.2,474.3 L208.5,473.4 L214.7,472.5 L220.9,471.7 L227.2,470.9 L232.2,470.2 L232.9,470.1 L233.5,469.8 L235.4,468.5 L238.2,466.6 L240.9,464.8 L243.7,463.0 L246.4,461.2 L249.2,459.4 L251.9,457.5 L254.6,455.8 L254.7,455.7 L255.1,455.3 L255.2,454.8 L255.0,454.2 L254.4,453.8 L253.6,453.6 L252.7,453.5 L248.1,453.7 L248.1,453.7 L242.2,454.1 L242.1,454.1 L236.2,454.5 L236.2,454.5 L230.3,454.9 L230.2,454.9 L224.3,455.3 L224.3,455.3 L218.3,455.8 L218.3,455.8 L212.4,456.4 L212.4,456.4 L206.4,456.9 L206.4,456.9 L200.5,457.5 L200.4,457.5 L194.5,458.2 L194.5,458.2 L188.5,458.8 L188.5,458.8 L182.6,459.6 L182.6,459.6 L176.6,460.3 L176.6,460.3 L170.7,461.1 L170.6,461.1 L164.7,461.9 L163.8,462.2 L163.1,462.6 L162.9,463.2Z" fill="#f9c36a" opacity="0.9"/>
<ellipse cx="199.8" cy="467.7" rx="10.5" ry="5.2" fill="#c7b4ee" stroke="#9c86d4" stroke-width="1"/>
<ellipse cx="198.8" cy="466.5" rx="5.8" ry="1.8" fill="#ffffff" opacity="0.25"/>
<path d="M194.6,468.2 Q198.8,465.1 202.4,467.5" stroke="#7d58b6" stroke-width="1.6" fill="none" stroke-linecap="round"/>
<path d="M248.3,475.4 L247.8,476.5 L247.6,477.7 L248.0,478.8 L248.8,479.7 L249.9,480.3 L252.1,480.8 L256.8,482.1 L260.8,483.2 L261.7,483.3 L268.1,483.0 L274.6,482.8 L275.3,482.7 L281.7,481.0 L288.7,479.2 L295.6,477.6 L302.6,476.0 L309.5,474.4 L316.5,472.9 L321.2,472.0 L322.4,471.4 L323.3,470.3 L324.3,468.3 L326.3,464.2 L328.3,460.2 L330.3,456.1 L332.3,452.1 L334.3,448.0 L335.0,446.6 L335.3,445.5 L335.1,444.2 L334.5,443.2 L333.5,442.5 L332.3,442.3 L325.2,442.4 L325.1,442.4 L317.9,442.6 L317.8,442.6 L310.6,442.9 L310.5,442.9 L303.3,443.2 L303.2,443.2 L296.0,443.6 L295.9,443.6 L288.7,444.1 L288.6,444.1 L281.4,444.6 L281.3,444.6 L275.9,445.1 L274.8,445.4 L273.9,446.1 L271.6,448.7 L271.6,448.7 L268.1,452.7 L268.1,452.7 L264.6,456.7 L264.6,456.7 L261.1,460.7 L261.1,460.7 L257.6,464.7 L257.6,464.7 L254.0,468.8 L254.0,468.8 L250.5,472.9 L250.5,472.9Z" fill="#f5a83e" stroke="#d8862a" stroke-width="1.2"/>
<path d="M258.0,465.0 L257.5,465.5 L257.4,466.0 L257.7,466.6 L258.3,467.0 L259.2,467.2 L260.9,467.5 L264.6,468.0 L267.7,468.5 L268.4,468.5 L273.4,468.4 L278.5,468.3 L279.0,468.3 L284.0,467.5 L289.5,466.7 L294.9,466.0 L300.3,465.3 L305.7,464.6 L311.1,463.9 L314.8,463.5 L315.8,463.2 L316.4,462.7 L317.2,461.8 L318.8,460.0 L320.3,458.2 L321.9,456.3 L323.5,454.5 L325.0,452.7 L325.6,452.1 L325.8,451.5 L325.7,451.0 L325.2,450.5 L324.4,450.2 L323.4,450.1 L317.9,450.2 L317.9,450.2 L312.2,450.2 L312.2,450.2 L306.5,450.4 L306.5,450.4 L300.8,450.5 L300.8,450.5 L295.1,450.7 L295.1,450.7 L289.5,450.9 L289.4,450.9 L283.8,451.2 L283.7,451.2 L279.5,451.4 L278.6,451.5 L277.9,451.8 L276.1,453.0 L276.1,453.0 L273.4,454.8 L273.4,454.8 L270.7,456.6 L270.7,456.6 L267.9,458.4 L267.9,458.4 L265.2,460.2 L265.2,460.2 L262.4,462.0 L262.4,462.0 L259.7,463.9 L259.7,463.9Z" fill="#f9c36a" opacity="0.9"/>
<ellipse cx="298.0" cy="461.0" rx="10.5" ry="5.2" fill="#c7b4ee" stroke="#9c86d4" stroke-width="1"/>
<ellipse cx="297.0" cy="459.8" rx="5.8" ry="1.8" fill="#ffffff" opacity="0.25"/>
<path d="M292.7,461.5 Q296.9,458.4 300.6,460.8" stroke="#7d58b6" stroke-width="1.6" fill="none" stroke-linecap="round"/>
<path d="M151.6,453.7 L151.8,454.8 L152.3,455.7 L153.2,456.4 L154.2,456.7 L155.3,456.6 L160.8,455.3 L168.5,453.6 L176.1,451.9 L183.8,450.3 L191.5,448.8 L199.2,447.4 L206.8,446.0 L214.5,444.8 L222.2,443.6 L229.9,442.5 L237.5,441.5 L245.2,440.5 L252.9,439.7 L260.6,438.9 L265.4,438.5 L266.5,438.2 L267.4,437.6 L267.9,436.6 L268.5,435.3 L270.1,431.3 L271.8,427.3 L273.4,423.4 L274.7,420.3 L274.9,419.1 L274.7,418.0 L274.1,417.1 L273.2,416.4 L272.1,416.1 L269.9,416.0 L265.9,415.7 L261.9,415.5 L261.9,415.5 L258.0,415.2 L257.9,415.2 L254.0,415.1 L253.9,415.0 L250.1,415.0 L250.0,415.0 L246.2,415.2 L246.0,415.2 L242.3,415.6 L242.1,415.6 L238.3,416.1 L238.2,416.2 L234.4,416.9 L234.3,416.9 L230.5,417.9 L230.4,417.9 L226.5,419.0 L226.4,419.0 L222.5,420.2 L222.5,420.2 L218.5,421.5 L214.5,422.7 L210.4,423.9 L209.7,424.1 L209.4,424.2 L209.2,424.2 L209.2,424.2 L201.5,427.3 L201.4,427.3 L193.7,430.5 L193.7,430.5 L186.0,433.8 L185.9,433.8 L178.2,437.1 L178.2,437.1 L170.5,440.6 L170.4,440.6 L162.7,444.1 L162.7,444.1 L155.0,447.7 L154.9,447.7 L153.3,448.5 L152.4,449.1 L151.8,450.1 L151.6,451.2Z" fill="#f5a83e" stroke="#d8862a" stroke-width="1.2"/>
<path d="M166.7,439.9 L166.9,440.3 L167.3,440.8 L168.0,441.1 L168.8,441.2 L169.6,441.2 L173.9,440.6 L179.9,439.8 L185.9,439.0 L191.8,438.3 L197.8,437.6 L203.8,437.0 L209.8,436.4 L215.8,435.8 L221.8,435.3 L227.8,434.8 L233.7,434.4 L239.7,433.9 L245.7,433.5 L251.7,433.2 L255.5,433.0 L256.3,432.9 L257.0,432.6 L257.5,432.2 L257.9,431.6 L259.2,429.8 L260.4,428.0 L261.7,426.2 L262.7,424.8 L262.9,424.3 L262.7,423.8 L262.3,423.4 L261.5,423.1 L260.7,422.9 L259.0,422.9 L255.9,422.8 L252.8,422.6 L252.7,422.6 L249.7,422.5 L249.6,422.5 L246.6,422.5 L246.5,422.5 L243.5,422.5 L243.4,422.5 L240.5,422.5 L240.4,422.5 L237.4,422.7 L237.3,422.7 L234.4,422.9 L234.3,423.0 L231.3,423.3 L231.2,423.3 L228.2,423.7 L228.1,423.7 L225.1,424.2 L225.1,424.2 L222.0,424.8 L222.0,424.8 L218.9,425.3 L215.7,425.9 L212.6,426.4 L212.1,426.5 L211.8,426.6 L211.7,426.6 L211.6,426.6 L205.6,428.0 L205.6,428.0 L199.6,429.4 L199.5,429.4 L193.5,430.9 L193.5,430.9 L187.5,432.4 L187.4,432.4 L181.4,433.9 L181.4,433.9 L175.4,435.5 L175.4,435.5 L169.3,437.1 L169.3,437.1 L168.0,437.5 L167.3,437.8 L166.9,438.2 L166.7,438.7Z" fill="#f9c36a" opacity="0.9"/>
<ellipse cx="217.7" cy="433.0" rx="10.5" ry="5.2" fill="#c7b4ee" stroke="#9c86d4" stroke-width="1"/>
<ellipse cx="216.7" cy="431.8" rx="5.8" ry="1.8" fill="#ffffff" opacity="0.25"/>
<path d="M212.5,433.5 Q216.7,430.4 220.4,432.8" stroke="#7d58b6" stroke-width="1.6" fill="none" stroke-linecap="round"/>
<path d="M271.2,437.0 L271.0,438.3 L271.4,439.6 L272.3,440.6 L273.5,441.4 L274.4,441.9 L275.4,441.9 L281.1,441.4 L288.4,440.9 L295.8,440.4 L303.1,440.0 L310.4,439.7 L317.8,439.4 L325.1,439.2 L332.4,439.1 L338.7,439.1 L340.0,438.8 L342.8,437.5 L343.8,436.7 L344.4,435.6 L344.4,434.3 L344.0,433.1 L342.3,430.6 L342.3,430.6 L339.9,427.2 L339.9,427.2 L337.5,423.7 L337.5,423.7 L335.1,420.3 L335.1,420.3 L332.8,416.9 L332.7,416.9 L330.4,413.4 L330.4,413.4 L328.0,410.0 L328.0,410.0 L327.6,409.4 L326.8,408.6 L325.8,408.2 L324.7,408.2 L322.3,408.5 L322.2,408.5 L318.4,409.2 L318.3,409.2 L314.4,410.1 L314.3,410.1 L310.4,411.0 L310.4,411.0 L306.4,412.0 L302.4,413.0 L298.3,414.0 L294.3,414.8 L290.2,415.4 L286.1,415.9 L282.1,416.2 L281.8,416.2 L280.6,416.4 L279.7,417.1 L279.0,418.1 L278.0,420.6 L276.4,424.6 L274.7,428.6 L273.1,432.5 L271.5,436.5Z" fill="#f5a83e" stroke="#d8862a" stroke-width="1.2"/>
<path d="M279.2,428.6 L279.1,429.1 L279.4,429.7 L280.1,430.2 L281.0,430.5 L281.7,430.7 L282.5,430.8 L286.9,430.5 L292.6,430.3 L298.3,430.1 L304.1,429.9 L309.8,429.7 L315.5,429.6 L321.2,429.5 L326.9,429.5 L331.9,429.5 L332.8,429.3 L335.0,428.8 L335.8,428.4 L336.3,427.9 L336.3,427.3 L335.9,426.8 L334.6,425.7 L334.6,425.7 L332.8,424.1 L332.8,424.1 L330.9,422.6 L330.9,422.6 L329.1,421.0 L329.1,421.0 L327.2,419.5 L327.2,419.5 L325.3,417.9 L325.3,417.9 L323.5,416.4 L323.5,416.4 L323.2,416.1 L322.5,415.8 L321.8,415.6 L320.9,415.6 L319.1,415.7 L319.0,415.7 L316.0,416.0 L315.9,416.0 L312.9,416.4 L312.8,416.4 L309.8,416.9 L309.7,416.9 L306.6,417.3 L303.5,417.8 L300.4,418.2 L297.2,418.6 L294.0,418.8 L290.8,419.1 L287.7,419.2 L287.4,419.2 L286.5,419.3 L285.8,419.6 L285.3,420.0 L284.5,421.2 L283.2,423.0 L281.9,424.7 L280.7,426.5 L279.4,428.3Z" fill="#f9c36a" opacity="0.9"/>
<ellipse cx="309.9" cy="426.1" rx="10.5" ry="5.2" fill="#c7b4ee" stroke="#9c86d4" stroke-width="1"/>
<ellipse cx="308.9" cy="424.9" rx="5.8" ry="1.8" fill="#ffffff" opacity="0.25"/>
<path d="M304.6,426.6 Q308.8,423.5 312.5,425.9" stroke="#7d58b6" stroke-width="1.6" fill="none" stroke-linecap="round"/>
<path d="M208.1,618.8 L207.4,619.8 L207.0,620.9 L207.2,622.1 L207.9,623.2 L208.9,623.9 L210.0,624.1 L285.1,624.1 L286.3,623.9 L287.3,623.2 L287.9,622.1 L289.1,618.9 L290.6,614.7 L292.2,610.6 L293.7,606.5 L295.2,602.3 L296.7,598.2 L298.3,594.1 L299.8,590.0 L299.9,589.5 L300.1,588.5 L299.9,587.5 L299.4,586.5 L298.6,585.9 L296.8,584.9 L295.4,584.5 L289.7,584.4 L289.7,584.4 L282.9,584.3 L282.9,584.3 L276.2,584.3 L276.1,584.3 L269.4,584.4 L269.3,584.4 L262.6,584.5 L262.5,584.5 L255.8,584.7 L255.8,584.7 L250.5,584.9 L249.5,585.1 L248.7,585.5 L244.6,588.8 L244.6,588.8 L239.3,593.0 L239.3,593.0 L234.0,597.3 L234.0,597.3 L228.7,601.6 L228.7,601.7 L223.4,606.0 L223.4,606.0 L218.1,610.4 L218.1,610.4 L212.8,614.8 L212.8,614.9Z" fill="#f5a83e" stroke="#d8862a" stroke-width="1.2"/>
<path d="M219.3,608.7 L218.7,609.1 L218.5,609.6 L218.6,610.2 L219.1,610.7 L219.9,611.0 L220.8,611.1 L279.4,611.1 L280.3,611.0 L281.0,610.7 L281.5,610.2 L282.5,608.7 L283.7,606.9 L284.9,605.0 L286.1,603.1 L287.2,601.3 L288.4,599.4 L289.6,597.6 L290.8,595.7 L290.9,595.5 L291.1,595.1 L290.9,594.6 L290.5,594.2 L289.9,593.9 L288.5,593.4 L287.4,593.3 L283.0,593.2 L282.9,593.2 L277.7,593.2 L277.6,593.2 L272.4,593.2 L272.3,593.2 L267.1,593.2 L267.1,593.2 L261.8,593.3 L261.8,593.3 L256.5,593.3 L256.5,593.3 L252.3,593.4 L251.6,593.5 L251.0,593.7 L247.8,595.2 L247.8,595.2 L243.6,597.1 L243.6,597.1 L239.5,599.0 L239.5,599.0 L235.4,601.0 L235.3,601.0 L231.2,602.9 L231.2,602.9 L227.1,604.9 L227.1,604.9 L223.0,606.9 L222.9,606.9Z" fill="#f9c36a" opacity="0.9"/>
<ellipse cx="254.0" cy="604.9" rx="10.5" ry="5.2" fill="#c7b4ee" stroke="#9c86d4" stroke-width="1"/>
<ellipse cx="253.0" cy="603.7" rx="5.8" ry="1.8" fill="#ffffff" opacity="0.25"/>
<path d="M248.7,605.4 Q252.9,602.3 256.6,604.7" stroke="#7d58b6" stroke-width="1.6" fill="none" stroke-linecap="round"/>
<path d="M300.5,583.3 L301.7,584.0 L303.0,584.3 L304.3,584.2 L309.2,582.3 L316.1,579.8 L323.0,577.3 L330.0,574.9 L336.9,572.5 L343.8,570.2 L350.7,568.0 L357.7,565.9 L364.6,563.8 L371.5,561.8 L378.5,559.9 L380.0,559.4 L381.2,558.8 L382.0,557.8 L382.3,556.5 L382.0,555.2 L380.8,552.8 L379.0,549.1 L377.2,545.4 L376.2,543.3 L375.5,542.4 L374.6,541.8 L370.6,540.4 L370.6,540.4 L364.9,538.3 L364.9,538.3 L359.2,536.3 L359.2,536.3 L353.5,534.3 L353.4,534.3 L347.8,532.4 L347.7,532.4 L342.0,530.5 L342.0,530.5 L338.1,529.3 L337.0,529.1 L335.8,529.4 L332.1,531.4 L332.0,531.4 L326.6,534.2 L326.6,534.3 L321.1,537.1 L321.1,537.1 L315.7,540.1 L315.6,540.1 L310.2,543.1 L310.2,543.1 L304.7,546.1 L304.7,546.1 L299.2,549.1 L299.2,549.2 L296.4,550.8 L295.5,551.5 L295.0,552.6 L294.9,553.7 L295.0,554.3 L295.4,557.8 L295.8,561.4 L296.2,564.9 L296.6,568.5 L296.9,572.1 L297.3,575.6 L297.7,579.2 L297.9,580.4 L298.4,581.7 L299.4,582.7Z" fill="#f5a83e" stroke="#d8862a" stroke-width="1.2"/>
<path d="M307.9,564.9 L308.8,565.3 L309.8,565.4 L310.8,565.3 L314.7,564.5 L320.1,563.4 L325.5,562.2 L330.9,561.2 L336.3,560.1 L341.7,559.1 L347.1,558.1 L352.5,557.1 L357.9,556.2 L363.3,555.3 L368.7,554.4 L369.9,554.2 L370.8,553.9 L371.4,553.5 L371.7,552.9 L371.4,552.3 L370.5,551.2 L369.1,549.6 L367.7,547.9 L367.0,547.0 L366.4,546.6 L365.7,546.3 L362.6,545.6 L362.6,545.6 L358.1,544.7 L358.1,544.7 L353.7,543.8 L353.6,543.8 L349.2,542.9 L349.2,542.9 L344.7,542.1 L344.7,542.0 L340.3,541.2 L340.3,541.2 L337.2,540.6 L336.3,540.6 L335.4,540.7 L332.5,541.6 L332.5,541.6 L328.2,542.9 L328.2,542.9 L324.0,544.2 L324.0,544.2 L319.7,545.5 L319.7,545.5 L315.4,546.8 L315.4,546.9 L311.2,548.2 L311.2,548.2 L306.9,549.6 L306.9,549.6 L304.7,550.3 L304.0,550.7 L303.6,551.1 L303.5,551.6 L303.6,551.9 L303.9,553.5 L304.2,555.1 L304.5,556.7 L304.8,558.3 L305.1,559.9 L305.4,561.5 L305.7,563.1 L305.8,563.6 L306.2,564.2 L307.0,564.7Z" fill="#f9c36a" opacity="0.9"/>
<ellipse cx="329.7" cy="554.4" rx="10.5" ry="5.2" fill="#c7b4ee" stroke="#9c86d4" stroke-width="1"/>
<ellipse cx="328.7" cy="553.2" rx="5.8" ry="1.8" fill="#ffffff" opacity="0.25"/>
<path d="M324.5,554.9 Q328.7,551.8 332.4,554.2" stroke="#7d58b6" stroke-width="1.6" fill="none" stroke-linecap="round"/>
<path d="M252.5,529.4 L251.4,530.0 L250.7,531.1 L250.5,532.4 L250.8,533.6 L251.7,535.4 L253.5,538.7 L255.2,542.0 L257.0,545.3 L258.7,548.6 L260.5,552.0 L260.7,552.3 L261.5,553.3 L262.6,553.8 L263.9,553.9 L267.0,553.3 L273.4,552.2 L279.9,551.2 L286.3,550.2 L291.9,549.4 L292.9,549.0 L297.7,546.4 L303.2,543.3 L308.6,540.3 L314.1,537.3 L319.6,534.3 L325.1,531.4 L330.6,528.5 L332.0,527.8 L332.9,527.1 L333.5,526.1 L333.6,524.9 L333.3,523.8 L333.0,523.1 L332.4,522.3 L331.5,521.8 L330.5,521.5 L326.2,521.2 L326.2,521.2 L319.3,520.8 L319.3,520.8 L312.5,520.4 L312.4,520.4 L305.6,520.2 L305.5,520.2 L298.7,519.9 L298.7,519.9 L291.8,519.8 L291.8,519.8 L285.5,519.7 L284.7,519.8 L277.7,521.8 L277.7,521.8 L270.1,524.0 L270.1,524.0 L262.5,526.2 L262.5,526.3 L254.9,528.6 L254.9,528.6Z" fill="#f5a83e" stroke="#d8862a" stroke-width="1.2"/>
<path d="M260.3,529.1 L259.4,529.4 L258.8,529.9 L258.6,530.5 L258.9,531.0 L259.6,531.8 L261.0,533.3 L262.4,534.8 L263.7,536.3 L265.1,537.8 L266.5,539.3 L266.6,539.4 L267.2,539.9 L268.1,540.1 L269.1,540.1 L271.5,539.9 L276.6,539.4 L281.6,538.9 L286.6,538.5 L291.0,538.1 L291.8,538.0 L295.5,536.8 L299.8,535.4 L304.0,534.0 L308.3,532.7 L312.6,531.3 L316.9,530.0 L321.2,528.8 L322.3,528.4 L323.0,528.1 L323.4,527.6 L323.5,527.1 L323.3,526.6 L323.0,526.3 L322.5,525.9 L321.9,525.7 L321.1,525.6 L317.7,525.4 L317.7,525.4 L312.4,525.3 L312.4,525.3 L307.0,525.1 L307.0,525.1 L301.6,525.0 L301.6,525.0 L296.3,524.9 L296.2,524.9 L290.9,524.8 L290.9,524.8 L286.0,524.8 L285.4,524.8 L279.9,525.7 L279.9,525.7 L274.0,526.7 L274.0,526.7 L268.1,527.7 L268.0,527.7 L262.1,528.8 L262.1,528.8Z" fill="#f9c36a" opacity="0.9"/>
<ellipse cx="291.0" cy="533.4" rx="10.5" ry="5.2" fill="#c7b4ee" stroke="#9c86d4" stroke-width="1"/>
<ellipse cx="290.0" cy="532.2" rx="5.8" ry="1.8" fill="#ffffff" opacity="0.25"/>
<path d="M285.8,533.9 Q290.0,530.8 293.6,533.2" stroke="#7d58b6" stroke-width="1.6" fill="none" stroke-linecap="round"/>
<path d="M336.4,522.9 L337.4,524.7 L338.1,525.6 L339.1,526.2 L343.0,527.5 L348.8,529.4 L354.5,531.3 L360.2,533.3 L366.0,535.3 L371.7,537.4 L375.7,538.8 L376.8,539.0 L377.9,538.8 L382.6,536.8 L388.9,534.2 L395.2,531.6 L401.5,529.1 L407.8,526.6 L414.2,524.2 L420.5,521.8 L426.8,519.5 L433.1,517.3 L439.5,515.1 L445.8,513.0 L446.9,512.6 L448.0,511.9 L448.7,510.9 L448.9,509.6 L448.5,508.3 L447.6,506.6 L445.8,503.3 L445.0,501.9 L444.2,500.9 L443.0,500.4 L438.2,499.3 L438.1,499.3 L431.2,497.9 L431.2,497.9 L424.3,496.5 L424.3,496.5 L417.4,495.2 L417.4,495.2 L410.5,493.9 L410.4,493.9 L403.5,492.8 L403.5,492.7 L396.6,491.6 L396.6,491.6 L389.7,490.6 L389.7,490.6 L382.8,489.6 L382.7,489.6 L376.5,488.8 L375.6,488.8 L370.0,489.8 L370.0,489.8 L363.7,491.0 L363.7,491.0 L359.0,491.9 L358.1,492.3 L357.3,493.0 L355.4,495.3 L355.4,495.3 L352.4,499.0 L352.4,499.0 L349.4,502.6 L349.4,502.6 L346.4,506.3 L346.4,506.3 L343.4,510.0 L343.4,510.0 L340.4,513.7 L340.4,513.7 L337.4,517.4 L337.4,517.4 L336.3,518.8 L335.8,519.8 L335.7,520.9 L336.0,522.0Z" fill="#f5a83e" stroke="#d8862a" stroke-width="1.2"/>
<path d="M347.7,513.9 L348.4,514.7 L349.0,515.2 L349.8,515.4 L352.9,516.0 L357.3,516.8 L361.8,517.7 L366.3,518.6 L370.7,519.5 L375.2,520.4 L378.4,521.1 L379.2,521.2 L380.1,521.1 L383.7,520.2 L388.6,519.0 L393.6,517.8 L398.5,516.7 L403.4,515.6 L408.4,514.5 L413.3,513.4 L418.2,512.4 L423.2,511.4 L428.1,510.4 L433.0,509.4 L433.9,509.3 L434.7,509.0 L435.3,508.5 L435.5,507.9 L435.2,507.4 L434.4,506.6 L433.0,505.1 L432.4,504.5 L431.8,504.0 L430.9,503.8 L427.1,503.3 L427.1,503.3 L421.7,502.7 L421.7,502.7 L416.3,502.0 L416.3,502.0 L410.9,501.4 L410.8,501.4 L405.5,500.9 L405.4,500.9 L400.1,500.4 L400.0,500.3 L394.7,499.8 L394.6,499.8 L389.3,499.4 L389.2,499.4 L383.9,498.9 L383.8,498.9 L379.0,498.6 L378.3,498.6 L373.9,499.0 L373.9,499.0 L369.0,499.6 L369.0,499.6 L365.4,500.0 L364.6,500.2 L364.0,500.5 L362.5,501.5 L362.5,501.5 L360.2,503.2 L360.2,503.2 L357.8,504.8 L357.8,504.8 L355.5,506.4 L355.5,506.5 L353.2,508.1 L353.2,508.1 L350.8,509.8 L350.8,509.8 L348.5,511.4 L348.5,511.4 L347.6,512.1 L347.2,512.5 L347.1,513.0 L347.4,513.5Z" fill="#f9c36a" opacity="0.9"/>
<ellipse cx="387.8" cy="511.0" rx="10.5" ry="5.2" fill="#c7b4ee" stroke="#9c86d4" stroke-width="1"/>
<ellipse cx="386.8" cy="509.8" rx="5.8" ry="1.8" fill="#ffffff" opacity="0.25"/>
<path d="M382.6,511.5 Q386.8,508.4 390.4,510.8" stroke="#7d58b6" stroke-width="1.6" fill="none" stroke-linecap="round"/>
<path d="M280.2,484.7 L279.1,485.2 L278.3,486.1 L278.0,487.3 L278.1,488.4 L278.9,491.4 L280.0,495.2 L281.1,498.9 L282.1,502.7 L283.2,506.4 L284.3,510.2 L285.4,513.9 L285.5,514.4 L286.1,515.5 L287.1,516.3 L288.4,516.6 L291.8,516.6 L298.8,516.7 L305.7,517.0 L312.6,517.2 L319.5,517.6 L326.4,518.0 L330.9,518.3 L332.3,518.1 L333.5,517.2 L335.0,515.4 L337.9,511.7 L340.9,508.0 L343.9,504.3 L346.9,500.6 L349.9,497.0 L352.4,494.0 L352.9,492.8 L353.0,491.5 L352.4,490.3 L351.5,489.4 L346.8,486.9 L346.8,486.9 L342.1,484.4 L342.0,484.4 L337.3,481.9 L337.3,481.9 L332.5,479.4 L332.5,479.4 L327.8,476.9 L327.7,476.9 L324.4,475.2 L323.5,474.9 L322.5,475.0 L317.1,476.1 L317.1,476.1 L310.2,477.5 L310.2,477.5 L303.3,479.1 L303.3,479.1 L296.4,480.7 L296.4,480.7 L289.5,482.3 L289.4,482.4 L282.6,484.1 L282.5,484.1Z" fill="#f5a83e" stroke="#d8862a" stroke-width="1.2"/>
<path d="M287.6,488.7 L286.8,488.9 L286.2,489.3 L285.9,489.8 L285.9,490.3 L286.6,491.7 L287.4,493.4 L288.3,495.0 L289.1,496.7 L290.0,498.4 L290.8,500.1 L291.6,501.8 L291.8,502.0 L292.2,502.5 L293.0,502.9 L294.0,503.0 L296.7,503.0 L302.1,503.1 L307.5,503.2 L312.9,503.3 L318.3,503.5 L323.7,503.6 L327.2,503.8 L328.3,503.7 L329.2,503.3 L330.3,502.5 L332.7,500.8 L335.0,499.1 L337.3,497.5 L339.6,495.8 L342.0,494.2 L343.9,492.8 L344.4,492.3 L344.4,491.7 L344.0,491.2 L343.2,490.8 L339.6,489.7 L339.6,489.6 L335.9,488.5 L335.8,488.5 L332.1,487.4 L332.1,487.4 L328.4,486.3 L328.4,486.3 L324.7,485.2 L324.7,485.2 L322.1,484.4 L321.4,484.3 L320.6,484.3 L316.4,484.8 L316.4,484.8 L311.0,485.4 L311.0,485.4 L305.6,486.1 L305.6,486.1 L300.2,486.8 L300.2,486.8 L294.8,487.6 L294.8,487.6 L289.5,488.4 L289.4,488.4Z" fill="#f9c36a" opacity="0.9"/>
<ellipse cx="319.3" cy="496.3" rx="10.5" ry="5.2" fill="#c7b4ee" stroke="#9c86d4" stroke-width="1"/>
<ellipse cx="318.3" cy="495.1" rx="5.8" ry="1.8" fill="#ffffff" opacity="0.25"/>
<path d="M314.1,496.8 Q318.3,493.7 322.0,496.1" stroke="#7d58b6" stroke-width="1.6" fill="none" stroke-linecap="round"/>
<path d="M327.2,469.7 L326.9,470.8 L327.0,472.0 L327.6,473.0 L328.5,473.7 L329.2,474.1 L334.0,476.5 L338.8,479.0 L343.5,481.5 L348.3,484.1 L353.1,486.7 L356.4,488.5 L357.4,488.8 L358.4,488.8 L363.1,487.9 L369.4,486.7 L374.3,485.8 L375.2,485.5 L375.9,485.0 L378.3,482.6 L381.8,479.2 L385.2,475.8 L388.6,472.5 L392.0,469.2 L395.5,465.9 L398.9,462.6 L401.8,459.8 L402.5,458.7 L402.7,457.4 L402.3,456.2 L401.5,455.2 L397.7,452.5 L397.7,452.5 L393.6,449.5 L393.6,449.5 L389.5,446.6 L389.5,446.6 L385.3,443.7 L385.3,443.6 L381.2,440.8 L381.2,440.8 L377.1,437.9 L377.1,437.9 L374.4,436.0 L373.4,435.6 L372.4,435.5 L367.7,436.0 L367.7,436.0 L361.3,436.7 L361.3,436.7 L355.0,437.4 L354.9,437.4 L349.3,438.2 L348.4,438.4 L344.7,440.1 L344.7,440.1 L341.9,441.4 L341.1,442.0 L340.5,442.8 L339.2,445.4 L337.2,449.4 L335.2,453.5 L333.2,457.5 L331.2,461.6 L329.2,465.6Z" fill="#f5a83e" stroke="#d8862a" stroke-width="1.2"/>
<path d="M335.1,462.2 L334.9,462.7 L335.0,463.2 L335.4,463.7 L336.1,464.0 L336.7,464.2 L340.4,465.3 L344.2,466.4 L347.9,467.5 L351.6,468.7 L355.3,469.8 L357.9,470.7 L358.7,470.8 L359.5,470.8 L363.1,470.4 L368.1,469.8 L371.9,469.4 L372.6,469.3 L373.1,469.1 L375.0,468.0 L377.7,466.5 L380.4,465.0 L383.0,463.5 L385.7,462.0 L388.4,460.5 L391.1,459.0 L393.3,457.8 L393.9,457.3 L394.0,456.7 L393.7,456.1 L393.1,455.7 L390.1,454.5 L390.1,454.5 L386.9,453.1 L386.9,453.1 L383.7,451.8 L383.7,451.8 L380.5,450.5 L380.5,450.5 L377.3,449.2 L377.3,449.2 L374.1,447.9 L374.1,447.9 L371.9,447.0 L371.2,446.8 L370.4,446.8 L366.7,447.0 L366.7,447.0 L361.8,447.3 L361.7,447.3 L356.8,447.7 L356.8,447.7 L352.3,448.0 L351.7,448.1 L348.8,448.9 L348.8,448.9 L346.6,449.5 L345.9,449.7 L345.5,450.1 L344.5,451.3 L342.9,453.1 L341.3,454.9 L339.8,456.7 L338.2,458.6 L336.7,460.4Z" fill="#f9c36a" opacity="0.9"/>
<ellipse cx="362.6" cy="460.5" rx="10.5" ry="5.2" fill="#c7b4ee" stroke="#9c86d4" stroke-width="1"/>
<ellipse cx="361.6" cy="459.3" rx="5.8" ry="1.8" fill="#ffffff" opacity="0.25"/>
<path d="M357.3,461.0 Q361.5,457.9 365.2,460.3" stroke="#7d58b6" stroke-width="1.6" fill="none" stroke-linecap="round"/>
<path d="M336.0,407.5 L334.9,407.7 L334.0,408.3 L333.3,409.1 L332.9,410.2 L333.0,411.3 L333.4,412.3 L335.4,415.0 L337.8,418.5 L340.2,421.9 L342.5,425.4 L344.9,428.8 L347.3,432.3 L348.1,433.5 L348.9,434.2 L349.9,434.7 L351.0,434.7 L354.6,434.3 L361.0,433.5 L367.4,432.8 L372.9,432.2 L374.0,431.9 L374.6,431.6 L375.3,431.1 L375.8,430.4 L377.3,427.8 L379.5,424.0 L381.6,420.2 L383.8,416.3 L384.8,414.6 L385.1,413.5 L385.1,412.4 L384.7,411.4 L383.9,410.6 L383.0,410.2 L381.9,410.1 L378.1,410.5 L374.0,410.7 L370.0,410.7 L365.9,410.6 L361.8,410.2 L357.8,409.8 L353.8,409.3 L349.8,408.7 L349.8,408.7 L345.9,408.2 L345.8,408.2 L341.9,407.8 L341.8,407.8 L338.0,407.6 L337.9,407.6Z" fill="#f5a83e" stroke="#d8862a" stroke-width="1.2"/>
<path d="M341.1,411.4 L340.2,411.5 L339.5,411.7 L339.0,412.1 L338.7,412.6 L338.8,413.1 L339.1,413.5 L340.6,414.8 L342.5,416.3 L344.3,417.9 L346.2,419.4 L348.1,421.0 L349.9,422.6 L350.5,423.1 L351.1,423.4 L351.9,423.6 L352.8,423.7 L355.6,423.4 L360.6,423.1 L365.6,422.8 L369.9,422.5 L370.7,422.4 L371.2,422.2 L371.7,422.0 L372.2,421.7 L373.3,420.5 L375.0,418.8 L376.7,417.1 L378.3,415.4 L379.1,414.6 L379.4,414.1 L379.4,413.6 L379.1,413.2 L378.5,412.8 L377.7,412.6 L376.9,412.6 L373.9,412.7 L370.8,412.8 L367.6,412.8 L364.4,412.8 L361.3,412.6 L358.1,412.4 L355.0,412.2 L351.9,412.0 L351.8,412.0 L348.8,411.7 L348.7,411.7 L345.7,411.6 L345.6,411.5 L342.7,411.4 L342.5,411.4Z" fill="#f9c36a" opacity="0.9"/>
<ellipse cx="363.5" cy="419.0" rx="10.5" ry="5.2" fill="#c7b4ee" stroke="#9c86d4" stroke-width="1"/>
<ellipse cx="362.5" cy="417.8" rx="5.8" ry="1.8" fill="#ffffff" opacity="0.25"/>
<path d="M358.2,419.5 Q362.4,416.4 366.1,418.8" stroke="#7d58b6" stroke-width="1.6" fill="none" stroke-linecap="round"/>
<path d="M292.1,620.1 L291.9,621.2 L292.2,622.3 L292.8,623.3 L293.8,623.9 L294.9,624.1 L392.6,624.1 L393.7,623.9 L394.7,623.3 L395.3,622.4 L395.6,621.4 L395.9,618.5 L396.2,614.5 L396.5,610.5 L396.9,606.5 L397.2,602.5 L397.5,598.5 L397.9,594.5 L398.2,590.5 L398.5,586.5 L398.9,582.5 L399.2,578.5 L399.5,574.5 L399.9,570.5 L399.9,569.8 L399.8,568.5 L399.2,567.5 L398.2,566.8 L395.8,565.7 L395.8,565.7 L390.5,563.3 L390.5,563.3 L386.6,561.7 L385.7,561.4 L384.7,561.5 L379.3,562.9 L379.3,563.0 L372.4,564.9 L372.4,564.9 L365.5,566.9 L365.5,566.9 L358.6,569.0 L358.6,569.0 L351.7,571.1 L351.7,571.1 L344.8,573.3 L344.8,573.3 L337.9,575.6 L337.9,575.6 L331.0,577.9 L331.0,577.9 L324.1,580.3 L324.1,580.3 L317.2,582.8 L317.2,582.8 L310.3,585.3 L310.3,585.3 L305.3,587.2 L304.3,587.9 L303.6,588.9 L302.8,591.1 L301.3,595.2 L299.7,599.3 L298.2,603.4 L296.7,607.6 L295.2,611.7 L293.6,615.8 L292.1,620.0Z" fill="#f5a83e" stroke="#d8862a" stroke-width="1.2"/>
<path d="M305.3,605.0 L305.2,605.5 L305.4,606.0 L305.9,606.4 L306.7,606.7 L307.5,606.8 L383.8,606.8 L384.6,606.7 L385.3,606.4 L385.9,606.0 L386.1,605.5 L386.3,604.3 L386.5,602.5 L386.8,600.7 L387.1,598.9 L387.3,597.1 L387.6,595.3 L387.8,593.5 L388.1,591.7 L388.4,589.9 L388.6,588.1 L388.9,586.3 L389.2,584.5 L389.4,582.7 L389.5,582.3 L389.3,581.8 L388.9,581.3 L388.1,581.0 L386.3,580.5 L386.2,580.5 L382.1,579.4 L382.1,579.4 L379.1,578.7 L378.3,578.6 L377.5,578.6 L373.4,579.3 L373.4,579.3 L368.0,580.1 L368.0,580.1 L362.6,581.0 L362.6,581.0 L357.2,582.0 L357.2,582.0 L351.8,582.9 L351.8,582.9 L346.5,583.9 L346.4,583.9 L341.1,584.9 L341.1,584.9 L335.7,586.0 L335.7,586.0 L330.3,587.1 L330.3,587.1 L324.9,588.2 L324.9,588.2 L319.5,589.3 L319.5,589.3 L315.7,590.2 L314.8,590.5 L314.3,591.0 L313.7,591.9 L312.5,593.8 L311.3,595.6 L310.1,597.5 L308.9,599.3 L307.7,601.2 L306.6,603.1 L305.4,604.9Z" fill="#f9c36a" opacity="0.9"/>
<ellipse cx="354.3" cy="597.1" rx="10.5" ry="5.2" fill="#c7b4ee" stroke="#9c86d4" stroke-width="1"/>
<ellipse cx="353.3" cy="595.9" rx="5.8" ry="1.8" fill="#ffffff" opacity="0.25"/>
<path d="M349.1,597.6 Q353.3,594.5 356.9,596.9" stroke="#7d58b6" stroke-width="1.6" fill="none" stroke-linecap="round"/>
<path d="M398.9,620.8 L399.0,622.1 L399.7,623.1 L400.7,623.8 L401.9,624.1 L507.7,624.1 L508.8,623.9 L509.7,623.3 L510.4,622.3 L510.7,621.2 L510.5,620.1 L509.9,619.1 L507.0,616.0 L507.0,616.0 L503.5,612.0 L503.5,612.0 L499.9,608.1 L499.9,608.1 L496.3,604.2 L496.3,604.2 L492.7,600.3 L492.7,600.3 L489.1,596.4 L489.1,596.4 L485.5,592.6 L485.5,592.6 L481.9,588.8 L481.9,588.8 L478.3,584.9 L478.3,584.9 L474.8,581.2 L474.8,581.1 L471.2,577.4 L471.2,577.4 L467.6,573.6 L467.6,573.6 L464.0,569.9 L464.0,569.9 L461.7,567.5 L460.8,566.9 L459.6,566.6 L454.1,566.6 L454.1,566.6 L446.6,566.6 L446.6,566.6 L439.2,566.7 L439.2,566.7 L431.7,566.8 L431.7,566.8 L424.3,567.1 L424.3,567.1 L416.8,567.4 L416.8,567.4 L409.4,567.8 L409.4,567.8 L405.9,568.0 L404.8,568.3 L404.0,568.8 L403.3,569.7 L403.1,570.7 L403.1,570.8 L402.7,574.8 L402.4,578.8 L402.1,582.8 L401.7,586.8 L401.4,590.8 L401.1,594.8 L400.7,598.8 L400.4,602.8 L400.0,606.8 L399.7,610.8 L399.4,614.8 L399.0,618.8Z" fill="#f5a83e" stroke="#d8862a" stroke-width="1.2"/>
<path d="M409.2,605.6 L409.3,606.2 L409.8,606.7 L410.6,607.0 L411.5,607.1 L494.1,607.1 L494.9,607.0 L495.7,606.7 L496.2,606.3 L496.4,605.8 L496.3,605.3 L495.8,604.9 L493.6,603.4 L493.6,603.4 L490.8,601.7 L490.8,601.7 L488.0,599.9 L488.0,599.9 L485.2,598.2 L485.2,598.2 L482.4,596.4 L482.4,596.4 L479.6,594.7 L479.6,594.7 L476.8,592.9 L476.8,592.9 L474.0,591.2 L474.0,591.2 L471.2,589.5 L471.2,589.5 L468.4,587.8 L468.4,587.8 L465.6,586.1 L465.6,586.1 L462.8,584.4 L462.8,584.4 L460.0,582.7 L460.0,582.7 L458.3,581.7 L457.5,581.4 L456.6,581.2 L452.3,581.2 L452.3,581.2 L446.5,581.2 L446.5,581.2 L440.7,581.3 L440.6,581.3 L434.9,581.3 L434.8,581.3 L429.0,581.4 L429.0,581.4 L423.2,581.6 L423.2,581.6 L417.4,581.8 L417.4,581.8 L414.7,581.9 L413.9,582.0 L413.2,582.2 L412.7,582.6 L412.5,583.1 L412.5,583.1 L412.2,584.9 L412.0,586.7 L411.7,588.5 L411.4,590.3 L411.2,592.1 L410.9,593.9 L410.7,595.7 L410.4,597.5 L410.1,599.3 L409.9,601.1 L409.6,602.9 L409.3,604.7Z" fill="#f9c36a" opacity="0.9"/>
<ellipse cx="442.5" cy="597.7" rx="10.5" ry="5.2" fill="#c7b4ee" stroke="#9c86d4" stroke-width="1"/>
<ellipse cx="441.5" cy="596.5" rx="5.8" ry="1.8" fill="#ffffff" opacity="0.25"/>
<path d="M437.3,598.2 Q441.5,595.1 445.2,597.5" stroke="#7d58b6" stroke-width="1.6" fill="none" stroke-linecap="round"/>
<path d="M453.0,410.1 L451.9,410.2 L450.8,410.7 L450.0,411.6 L449.6,412.7 L449.7,413.8 L450.2,414.9 L450.4,415.1 L453.1,418.9 L453.8,419.8 L454.8,420.6 L456.0,421.0 L457.3,420.8 L459.8,419.8 L465.6,417.5 L467.8,416.7 L468.8,416.0 L469.5,415.0 L469.7,413.9 L469.5,412.7 L468.8,411.7 L467.8,411.1 L466.6,410.9 L466.0,410.9 L462.0,410.9 L457.9,410.7 L453.8,410.2Z" fill="#f5a83e" stroke="#d8862a" stroke-width="1.2"/>
<path d="M454.4,409.7 L453.5,409.7 L452.7,410.0 L452.0,410.4 L451.7,410.9 L451.8,411.4 L452.2,411.8 L452.3,411.9 L454.5,413.6 L455.0,414.0 L455.7,414.4 L456.7,414.6 L457.7,414.5 L459.7,414.1 L464.2,413.0 L465.9,412.7 L466.7,412.4 L467.2,411.9 L467.4,411.4 L467.2,410.9 L466.7,410.4 L465.9,410.1 L465.0,410.0 L464.5,410.1 L461.3,410.0 L458.2,409.9 L455.0,409.8Z" fill="#f9c36a" opacity="0.9"/>
<path d="M384.7,432.9 L383.6,433.3 L382.7,434.1 L382.2,435.2 L382.1,436.4 L382.6,437.5 L383.4,438.4 L387.2,441.0 L391.3,444.0 L395.4,446.9 L399.6,449.9 L403.7,452.9 L406.7,455.1 L407.4,455.5 L408.3,455.6 L414.3,455.9 L421.6,456.3 L429.0,456.7 L435.6,457.2 L436.6,457.1 L441.8,455.7 L447.8,454.2 L451.5,453.3 L452.7,452.6 L453.5,451.5 L454.2,450.0 L455.7,446.4 L457.3,442.7 L458.9,439.1 L460.4,435.5 L460.5,435.2 L460.8,433.9 L460.4,432.6 L459.6,431.6 L457.9,430.4 L457.9,430.4 L454.6,428.0 L453.7,427.5 L452.7,427.4 L446.5,427.6 L446.5,427.6 L438.8,428.0 L438.7,428.0 L431.0,428.5 L431.0,428.5 L423.3,429.0 L423.2,429.0 L415.5,429.6 L415.5,429.6 L407.8,430.3 L407.8,430.3 L400.0,431.1 L400.0,431.1 L392.3,432.0 L392.3,432.0Z" fill="#f5a83e" stroke="#d8862a" stroke-width="1.2"/>
<path d="M393.6,434.6 L392.7,434.8 L392.0,435.2 L391.6,435.6 L391.6,436.2 L391.9,436.7 L392.5,437.1 L395.5,438.3 L398.7,439.6 L401.9,440.9 L405.1,442.3 L408.4,443.6 L410.7,444.6 L411.3,444.8 L412.0,444.8 L416.6,445.0 L422.4,445.1 L428.1,445.3 L433.3,445.5 L434.0,445.5 L438.1,444.9 L442.8,444.2 L445.7,443.8 L446.6,443.5 L447.3,443.0 L447.8,442.3 L449.0,440.7 L450.2,439.0 L451.4,437.4 L452.6,435.8 L452.7,435.7 L452.9,435.1 L452.6,434.5 L451.9,434.0 L450.6,433.5 L450.6,433.5 L448.0,432.4 L447.4,432.2 L446.6,432.1 L441.8,432.2 L441.8,432.2 L435.7,432.4 L435.7,432.4 L429.7,432.6 L429.7,432.6 L423.7,432.9 L423.6,432.9 L417.6,433.1 L417.6,433.1 L411.6,433.5 L411.5,433.5 L405.5,433.8 L405.5,433.8 L399.5,434.2 L399.4,434.2Z" fill="#f9c36a" opacity="0.9"/>
<ellipse cx="425.8" cy="440.5" rx="10.5" ry="5.2" fill="#c7b4ee" stroke="#9c86d4" stroke-width="1"/>
<ellipse cx="424.8" cy="439.3" rx="5.8" ry="1.8" fill="#ffffff" opacity="0.25"/>
<path d="M420.6,441.0 Q424.8,437.9 428.4,440.3" stroke="#7d58b6" stroke-width="1.6" fill="none" stroke-linecap="round"/>
<path d="M381.9,540.6 L380.9,541.2 L380.3,542.3 L380.1,543.5 L380.4,544.6 L381.9,547.7 L383.7,551.4 L385.5,555.1 L386.5,557.3 L387.1,558.2 L388.0,558.8 L391.8,560.4 L397.1,562.8 L401.4,564.7 L402.9,565.0 L409.2,564.6 L416.7,564.2 L424.2,563.9 L431.6,563.6 L439.1,563.5 L446.6,563.4 L454.1,563.4 L460.6,563.4 L461.8,563.2 L466.1,561.3 L471.2,559.0 L476.4,556.8 L481.6,554.6 L486.7,552.5 L488.6,551.7 L489.6,551.0 L490.3,549.8 L490.4,548.5 L489.9,545.1 L489.4,541.6 L488.9,538.1 L488.3,534.6 L487.8,531.1 L487.7,530.2 L487.4,529.2 L486.7,528.4 L485.9,527.9 L482.2,526.3 L482.2,526.3 L476.2,523.7 L476.2,523.7 L470.1,521.2 L470.1,521.2 L464.1,518.7 L464.1,518.7 L458.1,516.3 L458.1,516.3 L453.6,514.5 L452.6,514.3 L451.5,514.4 L446.8,516.0 L446.8,516.0 L440.5,518.1 L440.5,518.1 L434.2,520.3 L434.2,520.3 L427.9,522.5 L427.9,522.5 L421.6,524.8 L421.6,524.8 L415.3,527.2 L415.3,527.2 L409.0,529.6 L409.0,529.6 L402.7,532.0 L402.7,532.1 L396.4,534.6 L396.4,534.6 L390.1,537.1 L390.1,537.1 L383.8,539.8 L383.8,539.8Z" fill="#f5a83e" stroke="#d8862a" stroke-width="1.2"/>
<path d="M394.4,538.7 L393.6,539.0 L393.1,539.5 L392.9,540.0 L393.2,540.6 L394.3,541.9 L395.7,543.6 L397.1,545.3 L397.9,546.3 L398.4,546.7 L399.1,546.9 L402.0,547.7 L406.2,548.7 L409.6,549.6 L410.7,549.7 L415.6,549.5 L421.5,549.4 L427.3,549.2 L433.1,549.1 L439.0,549.0 L444.8,549.0 L450.7,549.0 L455.7,549.0 L456.7,548.9 L460.0,548.1 L464.0,547.0 L468.1,546.0 L472.1,545.1 L476.1,544.1 L477.5,543.8 L478.4,543.4 L478.9,542.9 L479.0,542.3 L478.6,540.8 L478.2,539.2 L477.8,537.6 L477.4,536.1 L477.0,534.5 L476.8,534.1 L476.6,533.6 L476.1,533.3 L475.5,533.0 L472.6,532.3 L472.6,532.3 L467.9,531.1 L467.9,531.1 L463.2,530.0 L463.2,530.0 L458.5,528.9 L458.4,528.9 L453.8,527.8 L453.7,527.8 L450.2,527.0 L449.5,526.9 L448.7,527.0 L445.0,527.7 L445.0,527.7 L440.1,528.6 L440.0,528.6 L435.1,529.6 L435.1,529.6 L430.2,530.6 L430.2,530.6 L425.3,531.7 L425.3,531.7 L420.4,532.7 L420.4,532.7 L415.5,533.8 L415.5,533.8 L410.6,534.9 L410.6,534.9 L405.7,536.0 L405.6,536.0 L400.7,537.2 L400.7,537.2 L395.8,538.4 L395.8,538.4Z" fill="#f9c36a" opacity="0.9"/>
<ellipse cx="434.8" cy="541.7" rx="10.5" ry="5.2" fill="#c7b4ee" stroke="#9c86d4" stroke-width="1"/>
<ellipse cx="433.8" cy="540.5" rx="5.8" ry="1.8" fill="#ffffff" opacity="0.25"/>
<path d="M429.6,542.2 Q433.8,539.1 437.5,541.5" stroke="#7d58b6" stroke-width="1.6" fill="none" stroke-linecap="round"/>
<path d="M383.8,481.7 L383.2,482.6 L382.9,483.6 L383.1,484.7 L383.6,485.7 L384.5,486.4 L385.5,486.8 L390.1,487.4 L397.1,488.5 L404.1,489.6 L411.0,490.8 L418.0,492.0 L424.9,493.4 L431.9,494.8 L438.8,496.2 L442.8,497.1 L444.1,497.1 L445.2,496.6 L446.1,495.6 L446.4,494.4 L446.3,493.2 L446.2,492.9 L444.9,489.2 L443.6,485.4 L442.4,481.7 L441.1,478.0 L439.8,474.2 L438.6,470.5 L437.3,466.8 L436.0,463.1 L435.7,462.2 L435.1,461.2 L434.2,460.5 L433.1,460.2 L428.8,459.9 L428.8,459.9 L421.5,459.5 L421.4,459.4 L414.1,459.1 L414.1,459.1 L408.7,458.9 L407.6,459.0 L406.5,459.7 L404.5,461.6 L404.5,461.6 L401.1,464.9 L401.1,464.9 L397.7,468.2 L397.7,468.2 L394.3,471.5 L394.3,471.5 L390.8,474.8 L390.8,474.8 L387.4,478.1 L387.4,478.1 L384.0,481.5 L384.0,481.5Z" fill="#f5a83e" stroke="#d8862a" stroke-width="1.2"/>
<path d="M391.3,476.5 L390.8,477.0 L390.6,477.4 L390.7,477.9 L391.1,478.4 L391.8,478.7 L392.6,478.8 L396.2,479.1 L401.6,479.6 L407.0,480.1 L412.5,480.7 L417.9,481.2 L423.3,481.8 L428.7,482.4 L434.2,483.1 L437.3,483.5 L438.3,483.5 L439.2,483.3 L439.8,482.8 L440.1,482.3 L440.0,481.7 L439.9,481.6 L438.9,479.9 L437.9,478.2 L436.9,476.6 L435.9,474.9 L435.0,473.2 L434.0,471.5 L433.0,469.9 L432.0,468.2 L431.8,467.8 L431.3,467.4 L430.6,467.0 L429.7,466.9 L426.4,466.8 L426.3,466.8 L420.6,466.6 L420.6,466.6 L414.9,466.4 L414.9,466.4 L410.7,466.3 L409.8,466.4 L409.0,466.7 L407.4,467.5 L407.4,467.5 L404.8,469.0 L404.7,469.0 L402.1,470.5 L402.1,470.5 L399.4,472.0 L399.4,472.0 L396.7,473.5 L396.7,473.5 L394.1,475.0 L394.1,475.0 L391.4,476.5 L391.4,476.5Z" fill="#f9c36a" opacity="0.9"/>
<ellipse cx="416.8" cy="476.8" rx="10.5" ry="5.2" fill="#c7b4ee" stroke="#9c86d4" stroke-width="1"/>
<ellipse cx="415.8" cy="475.6" rx="5.8" ry="1.8" fill="#ffffff" opacity="0.25"/>
<path d="M411.5,477.3 Q415.7,474.2 419.4,476.6" stroke="#7d58b6" stroke-width="1.6" fill="none" stroke-linecap="round"/>
<path d="M382.5,425.2 L382.1,426.2 L382.2,427.3 L382.6,428.3 L383.4,429.1 L384.3,429.5 L385.4,429.6 L391.9,428.8 L399.7,427.9 L407.5,427.1 L415.2,426.4 L423.0,425.8 L430.8,425.3 L438.6,424.8 L446.4,424.4 L447.4,424.4 L448.5,424.2 L449.4,423.6 L450.0,422.7 L450.3,421.7 L450.2,420.6 L449.7,419.6 L447.8,417.0 L447.8,417.0 L445.0,413.3 L445.0,413.3 L442.3,409.5 L442.3,409.5 L441.9,409.1 L441.1,408.3 L440.1,407.9 L437.7,407.4 L437.7,407.4 L433.8,406.7 L433.7,406.7 L429.8,406.1 L429.7,406.0 L425.9,405.6 L425.8,405.5 L422.0,405.2 L421.8,405.2 L418.1,405.1 L417.9,405.1 L414.2,405.2 L414.0,405.2 L410.2,405.5 L410.1,405.5 L406.3,405.9 L406.2,406.0 L402.3,406.6 L402.2,406.6 L398.3,407.3 L398.3,407.3 L394.3,408.1 L393.3,408.2 L392.1,408.8 L391.2,409.7 L390.9,410.3 L388.7,414.1 L386.6,417.9 L384.4,421.7Z" fill="#f5a83e" stroke="#d8862a" stroke-width="1.2"/>
<path d="M389.7,417.7 L389.4,418.2 L389.4,418.7 L389.8,419.2 L390.4,419.5 L391.2,419.7 L392.0,419.7 L397.0,419.4 L403.1,419.0 L409.2,418.6 L415.3,418.3 L421.3,418.0 L427.4,417.8 L433.5,417.6 L439.5,417.4 L440.3,417.4 L441.2,417.3 L441.9,417.0 L442.4,416.6 L442.6,416.2 L442.5,415.7 L442.1,415.2 L440.6,414.1 L440.6,414.1 L438.5,412.4 L438.5,412.4 L436.3,410.7 L436.3,410.7 L436.1,410.5 L435.4,410.2 L434.6,410.0 L432.8,409.8 L432.8,409.8 L429.7,409.4 L429.6,409.4 L426.6,409.1 L426.5,409.1 L423.6,408.9 L423.5,408.9 L420.5,408.8 L420.4,408.8 L417.5,408.7 L417.3,408.7 L414.4,408.8 L414.3,408.8 L411.3,408.9 L411.2,408.9 L408.3,409.1 L408.2,409.1 L405.2,409.4 L405.1,409.4 L402.0,409.7 L402.0,409.7 L398.9,410.0 L398.1,410.1 L397.2,410.4 L396.5,410.8 L396.2,411.1 L394.6,412.8 L392.9,414.5 L391.2,416.2Z" fill="#f9c36a" opacity="0.9"/>
<ellipse cx="414.5" cy="416.1" rx="10.5" ry="5.2" fill="#c7b4ee" stroke="#9c86d4" stroke-width="1"/>
<ellipse cx="413.5" cy="414.9" rx="5.8" ry="1.8" fill="#ffffff" opacity="0.25"/>
<path d="M409.2,416.6 Q413.4,413.5 417.1,415.9" stroke="#7d58b6" stroke-width="1.6" fill="none" stroke-linecap="round"/>
<path d="M441.4,459.1 L440.3,459.7 L439.6,460.6 L439.2,461.8 L439.4,463.0 L440.3,465.7 L441.6,469.5 L442.9,473.2 L444.1,476.9 L445.4,480.7 L446.7,484.4 L447.9,488.1 L449.0,491.2 L449.6,492.2 L450.5,493.0 L451.7,493.3 L452.8,493.1 L454.7,492.5 L460.9,490.3 L467.1,488.3 L473.4,486.3 L479.6,484.3 L485.8,482.5 L492.0,480.6 L498.0,478.9 L499.1,478.3 L499.9,477.4 L500.2,476.2 L500.0,475.0 L499.4,473.9 L498.4,473.2 L497.8,473.0 L497.8,473.0 L491.5,470.4 L491.5,470.4 L485.2,467.8 L485.2,467.8 L478.9,465.3 L478.9,465.3 L472.5,462.8 L472.5,462.8 L466.2,460.4 L466.2,460.4 L459.9,458.1 L459.9,458.1 L454.9,456.3 L454.0,456.1 L453.1,456.2 L448.6,457.3 L448.5,457.3 L442.6,458.8 L442.6,458.8Z" fill="#f5a83e" stroke="#d8862a" stroke-width="1.2"/>
<path d="M446.6,464.3 L445.7,464.6 L445.1,465.0 L444.8,465.5 L445.0,466.1 L445.7,467.3 L446.7,469.0 L447.7,470.7 L448.7,472.3 L449.7,474.0 L450.7,475.7 L451.6,477.4 L452.5,478.8 L452.9,479.2 L453.7,479.5 L454.5,479.7 L455.4,479.6 L456.9,479.3 L461.7,478.4 L466.6,477.4 L471.5,476.5 L476.3,475.7 L481.2,474.8 L486.0,474.0 L490.7,473.2 L491.6,473.0 L492.2,472.5 L492.4,472.0 L492.3,471.5 L491.8,471.0 L491.0,470.7 L490.6,470.6 L490.6,470.6 L485.6,469.4 L485.6,469.4 L480.7,468.2 L480.7,468.2 L475.8,467.1 L475.8,467.1 L470.8,466.0 L470.8,466.0 L465.9,464.9 L465.9,464.9 L461.0,463.8 L461.0,463.8 L457.0,463.0 L456.4,463.0 L455.7,463.0 L452.1,463.5 L452.1,463.5 L447.5,464.2 L447.5,464.2Z" fill="#f9c36a" opacity="0.9"/>
<ellipse cx="458.9" cy="473.0" rx="10.5" ry="5.2" fill="#c7b4ee" stroke="#9c86d4" stroke-width="1"/>
<ellipse cx="457.9" cy="471.8" rx="5.8" ry="1.8" fill="#ffffff" opacity="0.25"/>
<path d="M453.7,473.5 Q457.9,470.4 461.5,472.8" stroke="#7d58b6" stroke-width="1.6" fill="none" stroke-linecap="round"/>
<path d="M460.8,422.8 L459.7,423.6 L459.1,424.6 L458.9,425.9 L459.3,427.1 L460.1,428.1 L463.4,430.5 L464.8,431.1 L470.9,431.8 L478.1,432.8 L485.4,433.9 L492.6,435.1 L499.9,436.3 L507.1,437.6 L514.3,438.9 L521.6,440.4 L525.3,441.1 L526.6,441.1 L527.8,440.5 L528.6,439.5 L528.7,439.2 L530.4,435.7 L532.1,432.2 L533.8,428.7 L535.1,426.0 L535.4,424.9 L535.2,423.7 L534.6,422.7 L533.6,422.0 L531.7,421.1 L531.6,421.1 L525.4,418.3 L525.4,418.3 L519.2,415.7 L519.2,415.6 L512.9,413.0 L512.9,413.0 L506.7,410.4 L506.7,410.4 L502.0,408.5 L501.0,408.3 L499.9,408.5 L495.7,409.9 L495.7,409.9 L490.0,411.9 L489.9,411.9 L484.2,414.0 L484.1,414.0 L478.4,416.1 L478.4,416.1 L472.6,418.3 L472.6,418.3 L466.8,420.5 L466.8,420.5 L461.0,422.8 L461.0,422.8Z" fill="#f5a83e" stroke="#d8862a" stroke-width="1.2"/>
<path d="M469.5,421.1 L468.7,421.4 L468.2,421.9 L468.1,422.5 L468.4,423.0 L469.0,423.5 L471.6,424.6 L472.7,424.8 L477.4,425.2 L483.1,425.6 L488.7,426.1 L494.4,426.6 L500.0,427.2 L505.7,427.7 L511.3,428.4 L517.0,429.0 L519.9,429.3 L520.9,429.3 L521.8,429.1 L522.4,428.6 L522.5,428.5 L523.8,426.9 L525.2,425.3 L526.5,423.8 L527.5,422.5 L527.7,422.0 L527.6,421.5 L527.1,421.0 L526.3,420.7 L524.8,420.3 L524.8,420.3 L520.0,419.1 L519.9,419.1 L515.1,417.9 L515.1,417.9 L510.2,416.7 L510.2,416.7 L505.3,415.5 L505.3,415.5 L501.7,414.7 L500.9,414.6 L500.1,414.6 L496.8,415.3 L496.8,415.3 L492.3,416.2 L492.3,416.2 L487.8,417.1 L487.8,417.1 L483.3,418.1 L483.2,418.1 L478.7,419.1 L478.7,419.1 L474.2,420.1 L474.2,420.1 L469.7,421.1 L469.7,421.1Z" fill="#f9c36a" opacity="0.9"/>
<ellipse cx="505.9" cy="424.2" rx="10.5" ry="5.2" fill="#c7b4ee" stroke="#9c86d4" stroke-width="1"/>
<ellipse cx="504.9" cy="423.0" rx="5.8" ry="1.8" fill="#ffffff" opacity="0.25"/>
<path d="M500.6,424.7 Q504.8,421.6 508.5,424.0" stroke="#7d58b6" stroke-width="1.6" fill="none" stroke-linecap="round"/>
<path d="M448.6,501.8 L450.4,505.1 L452.2,508.3 L453.2,510.2 L453.9,511.0 L454.7,511.5 L459.2,513.3 L465.3,515.7 L471.4,518.2 L477.4,520.7 L483.5,523.3 L488.3,525.4 L489.9,525.6 L494.7,524.9 L500.8,524.1 L506.8,523.3 L512.9,522.5 L517.9,521.9 L519.1,521.5 L522.4,519.5 L526.5,517.0 L530.6,514.5 L534.7,512.1 L538.9,509.6 L543.0,507.2 L545.2,505.9 L546.1,505.1 L546.6,504.1 L546.7,502.9 L546.3,501.8 L545.6,500.9 L540.9,497.4 L540.9,497.4 L535.9,493.6 L535.8,493.6 L530.8,489.8 L530.8,489.8 L525.7,486.1 L525.7,486.0 L520.7,482.3 L520.7,482.3 L516.7,479.4 L515.1,478.9 L511.8,478.6 L510.8,478.7 L505.3,480.2 L505.3,480.2 L499.1,481.9 L499.1,481.9 L492.9,483.7 L492.9,483.7 L486.7,485.5 L486.7,485.5 L480.5,487.4 L480.5,487.4 L474.3,489.3 L474.3,489.3 L468.1,491.3 L468.1,491.3 L461.9,493.4 L461.9,493.4 L455.7,495.5 L455.7,495.5 L450.4,497.3 L449.4,497.9 L449.2,498.1 L448.4,499.1 L448.2,500.5 L448.6,501.7Z" fill="#f5a83e" stroke="#d8862a" stroke-width="1.2"/>
<path d="M459.5,499.4 L460.9,500.9 L462.3,502.4 L463.1,503.2 L463.6,503.6 L464.3,503.8 L467.8,504.6 L472.6,505.7 L477.3,506.8 L482.0,508.0 L486.7,509.1 L490.5,510.1 L491.8,510.2 L495.5,509.9 L500.2,509.5 L504.9,509.1 L509.7,508.8 L513.6,508.5 L514.5,508.3 L517.1,507.4 L520.3,506.3 L523.5,505.2 L526.7,504.1 L529.9,503.0 L533.1,501.9 L534.9,501.3 L535.6,500.9 L536.0,500.5 L536.1,499.9 L535.8,499.4 L535.1,499.1 L531.5,497.5 L531.5,497.5 L527.6,495.7 L527.6,495.7 L523.6,494.0 L523.6,494.0 L519.7,492.4 L519.7,492.4 L515.7,490.7 L515.7,490.7 L512.6,489.4 L511.4,489.1 L508.8,489.0 L508.0,489.1 L503.8,489.7 L503.8,489.7 L498.9,490.5 L498.9,490.5 L494.1,491.3 L494.1,491.3 L489.3,492.1 L489.3,492.1 L484.4,493.0 L484.4,493.0 L479.6,493.8 L479.6,493.8 L474.8,494.7 L474.7,494.7 L469.9,495.7 L469.9,495.7 L465.1,496.6 L465.1,496.6 L460.9,497.4 L460.1,497.7 L460.0,497.8 L459.4,498.3 L459.2,498.8 L459.5,499.4Z" fill="#f9c36a" opacity="0.9"/>
<ellipse cx="503.3" cy="502.0" rx="10.5" ry="5.2" fill="#c7b4ee" stroke="#9c86d4" stroke-width="1"/>
<ellipse cx="502.3" cy="500.8" rx="5.8" ry="1.8" fill="#ffffff" opacity="0.25"/>
<path d="M498.0,502.5 Q502.2,499.4 505.9,501.8" stroke="#7d58b6" stroke-width="1.6" fill="none" stroke-linecap="round"/>
<path d="M493.7,528.3 L492.6,528.7 L491.7,529.5 L491.2,530.6 L491.1,531.7 L491.5,534.2 L492.0,537.7 L492.5,541.1 L493.1,544.6 L493.6,548.1 L493.7,548.8 L494.0,549.8 L494.7,550.7 L495.7,551.2 L499.7,552.5 L506.4,554.7 L513.1,557.0 L519.8,559.4 L525.6,561.5 L526.7,561.7 L532.8,561.5 L539.8,561.4 L546.7,561.3 L553.7,561.3 L560.6,561.4 L567.6,561.6 L574.5,561.8 L581.4,562.0 L581.7,562.1 L582.8,561.9 L583.8,561.3 L584.5,560.4 L584.9,559.3 L584.7,558.2 L584.2,557.1 L583.3,556.4 L582.3,555.9 L582.2,555.9 L575.9,552.5 L575.9,552.5 L569.5,549.2 L569.5,549.2 L563.1,546.0 L563.1,546.0 L556.7,542.8 L556.7,542.8 L550.4,539.7 L550.3,539.6 L544.0,536.6 L544.0,536.6 L537.6,533.6 L537.6,533.6 L531.2,530.6 L531.2,530.6 L524.8,527.7 L524.8,527.7 L519.6,525.4 L518.0,525.1 L513.3,525.7 L513.2,525.7 L507.2,526.4 L507.2,526.4 L501.2,527.2 L501.2,527.2 L495.2,528.1 L495.1,528.1Z" fill="#f5a83e" stroke="#d8862a" stroke-width="1.2"/>
<path d="M501.8,535.0 L500.9,535.2 L500.3,535.6 L499.9,536.1 L499.8,536.6 L500.1,537.7 L500.5,539.2 L500.9,540.8 L501.3,542.4 L501.7,544.0 L501.8,544.3 L502.1,544.7 L502.6,545.1 L503.4,545.3 L506.5,545.9 L511.7,546.9 L516.9,548.0 L522.2,549.0 L526.7,550.0 L527.6,550.1 L532.3,550.0 L537.8,549.9 L543.2,549.9 L548.6,549.9 L554.0,549.9 L559.4,550.0 L564.8,550.1 L570.3,550.2 L570.5,550.2 L571.4,550.2 L572.1,549.9 L572.7,549.5 L572.9,549.0 L572.8,548.5 L572.4,548.0 L571.7,547.7 L570.9,547.4 L570.9,547.4 L565.9,545.9 L565.9,545.9 L560.9,544.4 L560.9,544.4 L556.0,543.0 L556.0,543.0 L551.0,541.6 L551.0,541.5 L546.0,540.1 L546.0,540.1 L541.0,538.8 L541.0,538.8 L536.1,537.4 L536.1,537.4 L531.1,536.1 L531.1,536.1 L526.1,534.8 L526.1,534.8 L522.0,533.7 L520.8,533.6 L517.1,533.9 L517.1,533.9 L512.4,534.2 L512.4,534.2 L507.7,534.6 L507.7,534.6 L503.0,534.9 L502.9,534.9Z" fill="#f9c36a" opacity="0.9"/>
<ellipse cx="531.5" cy="545.0" rx="10.5" ry="5.2" fill="#c7b4ee" stroke="#9c86d4" stroke-width="1"/>
<ellipse cx="530.5" cy="543.8" rx="5.8" ry="1.8" fill="#ffffff" opacity="0.25"/>
<path d="M526.3,545.5 Q530.5,542.4 534.2,544.8" stroke="#7d58b6" stroke-width="1.6" fill="none" stroke-linecap="round"/>
<path d="M457.5,450.4 L457.3,451.6 L457.5,452.8 L458.2,453.8 L459.2,454.4 L461.0,455.1 L467.3,457.4 L473.7,459.8 L480.0,462.3 L486.4,464.8 L492.7,467.4 L499.1,470.1 L505.4,472.8 L511.0,475.2 L512.0,475.4 L514.5,475.6 L515.8,475.4 L516.9,474.7 L518.2,473.4 L521.0,470.6 L523.8,467.8 L526.6,465.0 L529.4,462.2 L532.3,459.4 L534.7,457.0 L535.4,456.0 L535.6,454.9 L535.4,453.8 L534.8,452.8 L534.3,452.2 L534.3,452.2 L530.8,448.4 L530.8,448.4 L528.3,445.6 L527.6,445.0 L526.7,444.7 L521.0,443.5 L520.9,443.5 L513.7,442.1 L513.7,442.1 L506.5,440.7 L506.5,440.7 L499.3,439.4 L499.3,439.4 L492.1,438.2 L492.1,438.2 L484.9,437.1 L484.9,437.1 L477.7,436.0 L477.7,436.0 L470.5,435.0 L470.4,435.0 L466.7,434.5 L465.4,434.6 L464.3,435.3 L463.5,436.3 L463.4,436.7 L461.8,440.4 L460.2,444.0 L458.7,447.6Z" fill="#f5a83e" stroke="#d8862a" stroke-width="1.2"/>
<path d="M466.2,449.0 L466.0,449.5 L466.2,450.1 L466.7,450.5 L467.5,450.8 L468.9,451.1 L473.9,452.2 L478.8,453.2 L483.8,454.4 L488.7,455.5 L493.7,456.7 L498.6,457.8 L503.6,459.1 L508.0,460.2 L508.7,460.3 L510.7,460.4 L511.7,460.3 L512.5,460.0 L513.5,459.4 L515.7,458.1 L517.9,456.8 L520.1,455.6 L522.3,454.3 L524.5,453.1 L526.4,452.0 L526.9,451.5 L527.1,451.0 L527.0,450.5 L526.5,450.1 L526.1,449.8 L526.1,449.8 L523.4,448.1 L523.4,448.1 L521.4,446.9 L520.8,446.6 L520.2,446.4 L515.7,445.9 L515.7,445.9 L510.1,445.3 L510.0,445.3 L504.4,444.6 L504.4,444.6 L498.8,444.1 L498.8,444.1 L493.2,443.5 L493.2,443.5 L487.6,443.0 L487.5,443.0 L481.9,442.5 L481.9,442.5 L476.3,442.1 L476.3,442.1 L473.3,441.9 L472.4,441.9 L471.5,442.2 L470.9,442.7 L470.8,442.9 L469.5,444.5 L468.3,446.1 L467.1,447.8Z" fill="#f9c36a" opacity="0.9"/>
<ellipse cx="497.1" cy="452.3" rx="10.5" ry="5.2" fill="#c7b4ee" stroke="#9c86d4" stroke-width="1"/>
<ellipse cx="496.1" cy="451.1" rx="5.8" ry="1.8" fill="#ffffff" opacity="0.25"/>
<path d="M491.8,452.8 Q496.0,449.7 499.7,452.1" stroke="#7d58b6" stroke-width="1.6" fill="none" stroke-linecap="round"/>
<path d="M650.1,485.4 L651.2,485.6 L652.3,485.3 L653.3,484.7 L653.9,483.8 L654.2,482.7 L655.2,456.6 L655.0,455.4 L654.3,454.4 L653.3,453.7 L646.5,451.0 L646.4,451.0 L638.7,448.1 L638.6,448.1 L630.9,445.2 L630.8,445.2 L623.1,442.5 L623.0,442.5 L615.3,439.8 L615.2,439.8 L607.5,437.2 L607.4,437.2 L599.7,434.7 L599.6,434.7 L591.9,432.3 L591.8,432.2 L584.1,429.9 L584.0,429.9 L576.3,427.7 L576.2,427.6 L568.5,425.5 L568.4,425.5 L560.7,423.4 L560.6,423.4 L553.8,421.6 L552.5,421.6 L548.6,422.3 L548.6,422.3 L543.8,423.1 L543.7,423.1 L541.2,423.6 L539.9,424.2 L539.0,425.2 L538.3,426.6 L536.7,430.1 L535.0,433.6 L533.3,437.1 L531.6,440.6 L531.3,441.3 L531.0,442.5 L531.1,443.7 L531.8,444.7 L533.2,446.2 L536.7,450.1 L539.2,452.9 L539.9,453.4 L540.8,453.8 L547.3,455.2 L555.2,457.0 L563.1,458.9 L571.1,460.9 L579.0,462.9 L586.9,465.1 L594.9,467.3 L602.8,469.7 L610.8,472.1 L618.7,474.6 L626.6,477.2 L634.6,479.9 L642.5,482.7Z" fill="#f5a83e" stroke="#d8862a" stroke-width="1.2"/>
<path d="M638.0,463.7 L638.8,463.8 L639.7,463.6 L640.4,463.4 L640.9,463.0 L641.1,462.5 L641.9,450.7 L641.8,450.2 L641.2,449.7 L640.4,449.4 L635.1,448.2 L635.1,448.2 L629.0,446.9 L629.0,446.9 L622.9,445.6 L622.9,445.6 L616.9,444.4 L616.8,444.4 L610.8,443.1 L610.7,443.1 L604.7,442.0 L604.7,442.0 L598.6,440.8 L598.6,440.8 L592.5,439.8 L592.5,439.8 L586.4,438.7 L586.4,438.7 L580.3,437.7 L580.3,437.7 L574.3,436.7 L574.2,436.7 L568.2,435.8 L568.2,435.8 L562.8,435.0 L561.8,435.0 L558.8,435.3 L558.8,435.3 L555.0,435.6 L555.0,435.6 L553.0,435.9 L552.0,436.1 L551.3,436.6 L550.8,437.2 L549.5,438.8 L548.1,440.4 L546.8,441.9 L545.5,443.5 L545.3,443.8 L545.0,444.4 L545.2,444.9 L545.6,445.3 L546.7,446.0 L549.5,447.8 L551.4,449.0 L552.0,449.3 L552.7,449.4 L557.7,450.1 L563.9,450.9 L570.1,451.7 L576.3,452.6 L582.5,453.6 L588.7,454.5 L594.9,455.5 L601.1,456.6 L607.3,457.7 L613.5,458.8 L619.6,460.0 L625.8,461.2 L632.0,462.4Z" fill="#f9c36a" opacity="0.9"/>
<ellipse cx="594.2" cy="450.4" rx="10.5" ry="5.2" fill="#c7b4ee" stroke="#9c86d4" stroke-width="1"/>
<ellipse cx="593.2" cy="449.2" rx="5.8" ry="1.8" fill="#ffffff" opacity="0.25"/>
<path d="M589.0,450.9 Q593.2,447.8 596.8,450.2" stroke="#7d58b6" stroke-width="1.6" fill="none" stroke-linecap="round"/>
<path d="M521.5,474.7 L520.8,475.8 L520.6,477.0 L521.0,478.3 L521.8,479.2 L522.5,479.8 L527.6,483.5 L532.7,487.2 L537.8,491.0 L542.8,494.8 L547.9,498.7 L552.2,502.0 L553.4,502.5 L560.3,504.0 L568.3,505.8 L576.3,507.6 L584.3,509.6 L592.3,511.7 L600.2,513.8 L608.2,516.0 L616.2,518.3 L624.2,520.7 L632.2,523.2 L640.2,525.8 L648.2,528.5 L648.4,528.6 L649.5,528.8 L650.6,528.5 L651.5,527.9 L652.2,527.0 L652.4,525.9 L653.8,492.4 L653.6,491.1 L652.9,490.1 L651.8,489.4 L649.4,488.5 L649.3,488.5 L641.4,485.7 L641.4,485.7 L633.5,482.9 L633.5,482.9 L625.6,480.2 L625.6,480.2 L617.7,477.6 L617.7,477.6 L609.8,475.1 L609.8,475.1 L601.9,472.7 L601.9,472.7 L594.0,470.4 L594.0,470.4 L586.1,468.2 L586.1,468.2 L578.2,466.0 L578.2,466.0 L570.3,464.0 L570.3,464.0 L562.4,462.0 L562.4,462.0 L554.5,460.1 L554.5,460.1 L546.6,458.3 L546.6,458.3 L541.1,457.1 L540.1,457.1 L539.1,457.3 L538.3,457.9 L537.3,458.9 L537.3,458.9 L534.5,461.7 L534.5,461.7 L531.7,464.5 L531.7,464.5 L528.9,467.2 L528.9,467.2 L526.1,470.0 L526.1,470.0 L523.3,472.8 L523.3,472.9Z" fill="#f5a83e" stroke="#d8862a" stroke-width="1.2"/>
<path d="M536.9,480.7 L536.4,481.2 L536.2,481.8 L536.5,482.3 L537.2,482.8 L537.7,483.0 L541.7,484.7 L545.7,486.4 L549.6,488.1 L553.6,489.8 L557.5,491.5 L560.8,493.0 L561.8,493.3 L567.2,493.9 L573.4,494.7 L579.7,495.6 L585.9,496.4 L592.1,497.4 L598.3,498.3 L604.6,499.3 L610.8,500.4 L617.0,501.5 L623.3,502.6 L629.5,503.7 L635.7,504.9 L635.9,505.0 L636.8,505.1 L637.6,505.0 L638.4,504.7 L638.8,504.3 L639.0,503.8 L640.1,488.7 L639.9,488.1 L639.4,487.7 L638.6,487.4 L636.7,487.0 L636.6,487.0 L630.5,485.7 L630.5,485.7 L624.3,484.4 L624.3,484.4 L618.2,483.2 L618.1,483.2 L612.0,482.1 L612.0,482.1 L605.8,480.9 L605.8,480.9 L599.7,479.9 L599.6,479.8 L593.5,478.8 L593.5,478.8 L587.3,477.8 L587.3,477.8 L581.2,476.8 L581.1,476.8 L575.0,475.9 L575.0,475.9 L568.8,475.0 L568.8,475.0 L562.7,474.2 L562.6,474.2 L556.5,473.4 L556.5,473.4 L552.2,472.8 L551.4,472.8 L550.7,472.9 L550.1,473.2 L549.3,473.6 L549.3,473.6 L547.1,474.9 L547.1,474.9 L544.9,476.1 L544.9,476.1 L542.7,477.4 L542.7,477.4 L540.5,478.6 L540.5,478.6 L538.3,479.9 L538.3,479.9Z" fill="#f9c36a" opacity="0.9"/>
<ellipse cx="594.8" cy="490.1" rx="10.5" ry="5.2" fill="#c7b4ee" stroke="#9c86d4" stroke-width="1"/>
<ellipse cx="593.8" cy="488.9" rx="5.8" ry="1.8" fill="#ffffff" opacity="0.25"/>
<path d="M589.6,490.6 Q593.8,487.5 597.5,489.9" stroke="#7d58b6" stroke-width="1.6" fill="none" stroke-linecap="round"/>
<path d="M468.2,563.8 L467.3,564.5 L466.7,565.4 L466.4,566.6 L466.6,567.7 L467.3,568.7 L469.9,571.4 L473.5,575.2 L477.1,578.9 L480.7,582.7 L484.3,586.6 L487.9,590.4 L491.5,594.3 L495.0,598.1 L498.6,602.0 L502.2,605.9 L505.8,609.9 L509.4,613.8 L513.0,617.8 L516.6,621.8 L517.8,623.1 L518.8,623.8 L520.0,624.1 L534.9,624.1 L536.1,623.8 L537.2,623.1 L537.8,621.9 L538.2,620.4 L539.3,616.7 L540.3,613.0 L541.4,609.4 L542.5,605.7 L543.5,602.0 L544.6,598.3 L545.1,596.7 L545.2,595.4 L544.7,594.2 L543.2,592.0 L543.2,592.0 L540.6,588.0 L540.6,588.0 L537.9,584.0 L537.9,584.0 L535.2,580.0 L535.2,580.0 L532.6,576.0 L532.6,576.0 L529.9,572.1 L529.9,572.1 L527.3,568.1 L527.3,568.1 L525.4,565.4 L524.8,564.7 L524.0,564.3 L518.7,562.4 L518.7,562.4 L512.0,560.0 L512.0,560.0 L505.4,557.8 L505.4,557.7 L498.7,555.5 L498.7,555.5 L493.6,553.9 L492.6,553.7 L491.6,554.0 L488.0,555.4 L488.0,555.4 L482.8,557.6 L482.8,557.6 L477.7,559.7 L477.7,559.7 L472.5,562.0 L472.5,562.0Z" fill="#f5a83e" stroke="#d8862a" stroke-width="1.2"/>
<path d="M477.5,573.5 L476.8,573.8 L476.3,574.2 L476.1,574.7 L476.3,575.2 L476.8,575.6 L478.8,576.9 L481.6,578.6 L484.4,580.3 L487.2,582.0 L490.1,583.7 L492.9,585.4 L495.7,587.2 L498.5,588.9 L501.3,590.7 L504.1,592.4 L506.9,594.2 L509.7,596.0 L512.5,597.7 L515.3,599.5 L516.2,600.1 L517.0,600.5 L518.0,600.6 L529.5,600.6 L530.5,600.5 L531.3,600.1 L531.8,599.6 L532.1,598.9 L533.0,597.3 L533.8,595.6 L534.6,594.0 L535.5,592.3 L536.3,590.6 L537.1,589.0 L537.5,588.3 L537.6,587.7 L537.2,587.1 L536.0,586.1 L536.0,586.1 L534.0,584.3 L534.0,584.3 L531.9,582.5 L531.9,582.5 L529.8,580.7 L529.8,580.7 L527.7,579.0 L527.7,579.0 L525.7,577.2 L525.7,577.2 L523.6,575.4 L523.6,575.4 L522.2,574.2 L521.7,573.9 L521.0,573.7 L516.9,572.8 L516.9,572.8 L511.7,571.8 L511.7,571.8 L506.5,570.7 L506.5,570.7 L501.3,569.7 L501.3,569.7 L497.3,569.0 L496.5,568.9 L495.7,569.0 L492.9,569.7 L492.9,569.7 L488.9,570.6 L488.9,570.6 L484.9,571.6 L484.9,571.6 L480.9,572.6 L480.9,572.6Z" fill="#f9c36a" opacity="0.9"/>
<ellipse cx="505.5" cy="585.8" rx="10.5" ry="5.2" fill="#c7b4ee" stroke="#9c86d4" stroke-width="1"/>
<ellipse cx="504.5" cy="584.6" rx="5.8" ry="1.8" fill="#ffffff" opacity="0.25"/>
<path d="M500.3,586.3 Q504.5,583.2 508.1,585.6" stroke="#7d58b6" stroke-width="1.6" fill="none" stroke-linecap="round"/>
<path d="M541.6,620.3 L541.5,621.4 L541.8,622.4 L542.4,623.3 L543.4,623.9 L544.5,624.1 L645.6,624.1 L646.7,623.9 L647.7,623.3 L648.3,622.3 L648.6,621.2 L650.0,584.7 L649.8,583.5 L649.1,582.4 L648.1,581.8 L646.8,581.6 L644.6,581.8 L644.6,581.8 L638.5,582.3 L638.5,582.3 L632.5,582.9 L632.5,582.9 L626.4,583.6 L626.4,583.6 L620.3,584.3 L620.3,584.3 L614.3,585.0 L614.3,585.0 L608.2,585.8 L608.2,585.8 L602.2,586.7 L602.1,586.7 L596.1,587.6 L596.1,587.6 L590.0,588.5 L590.0,588.5 L584.0,589.5 L583.9,589.5 L577.9,590.6 L577.9,590.6 L571.8,591.7 L571.8,591.7 L565.8,592.9 L565.7,592.9 L559.7,594.1 L559.7,594.1 L553.6,595.3 L553.6,595.3 L550.2,596.1 L549.2,596.5 L548.5,597.2 L548.0,598.2 L547.7,599.2 L546.6,602.9 L545.6,606.6 L544.5,610.2 L543.4,613.9 L542.4,617.6Z" fill="#f5a83e" stroke="#d8862a" stroke-width="1.2"/>
<path d="M554.6,609.3 L554.5,609.8 L554.8,610.3 L555.3,610.7 L556.0,611.0 L556.8,611.1 L635.7,611.1 L636.6,611.0 L637.3,610.7 L637.8,610.3 L638.1,609.8 L639.2,593.3 L639.0,592.8 L638.5,592.3 L637.6,592.0 L636.7,591.9 L635.0,592.0 L634.9,592.0 L630.2,592.3 L630.2,592.3 L625.5,592.5 L625.5,592.5 L620.8,592.8 L620.7,592.8 L616.0,593.1 L616.0,593.1 L611.3,593.5 L611.3,593.5 L606.6,593.8 L606.6,593.8 L601.8,594.2 L601.8,594.2 L597.1,594.6 L597.1,594.6 L592.4,595.1 L592.4,595.1 L587.7,595.5 L587.6,595.5 L582.9,596.0 L582.9,596.0 L578.2,596.5 L578.2,596.5 L573.5,597.0 L573.4,597.0 L568.7,597.5 L568.7,597.6 L564.0,598.1 L564.0,598.1 L561.3,598.4 L560.6,598.6 L560.0,599.0 L559.6,599.4 L559.4,599.9 L558.5,601.5 L557.7,603.2 L556.9,604.8 L556.0,606.5 L555.2,608.1Z" fill="#f9c36a" opacity="0.9"/>
<ellipse cx="594.8" cy="604.9" rx="10.5" ry="5.2" fill="#c7b4ee" stroke="#9c86d4" stroke-width="1"/>
<ellipse cx="593.8" cy="603.7" rx="5.8" ry="1.8" fill="#ffffff" opacity="0.25"/>
<path d="M589.5,605.4 Q593.7,602.3 597.4,604.7" stroke="#7d58b6" stroke-width="1.6" fill="none" stroke-linecap="round"/>
<path d="M534.4,564.7 L533.1,565.0 L532.1,565.8 L531.5,566.9 L531.5,568.2 L531.9,569.3 L532.6,570.3 L535.2,574.2 L537.9,578.2 L540.6,582.2 L543.2,586.2 L545.9,590.2 L546.8,591.6 L547.7,592.4 L548.8,592.9 L549.9,592.9 L553.0,592.2 L559.1,590.9 L565.1,589.7 L571.2,588.6 L577.3,587.4 L583.4,586.4 L589.5,585.4 L595.6,584.4 L601.7,583.5 L607.8,582.6 L613.9,581.8 L620.0,581.1 L626.0,580.4 L628.2,580.2 L629.3,579.8 L630.2,579.1 L630.8,578.0 L630.9,576.9 L630.5,575.8 L629.8,574.9 L628.8,574.3 L622.4,572.4 L622.4,572.4 L615.6,570.3 L615.5,570.3 L608.7,568.3 L608.6,568.3 L602.2,566.5 L601.6,566.4 L595.2,566.0 L595.1,566.0 L588.2,565.6 L588.2,565.6 L581.3,565.2 L581.3,565.2 L574.4,565.0 L574.4,565.0 L567.5,564.8 L567.5,564.8 L560.6,564.6 L560.5,564.6 L553.7,564.5 L553.6,564.5 L546.7,564.5 L546.7,564.5 L539.8,564.6 L539.8,564.6Z" fill="#f5a83e" stroke="#d8862a" stroke-width="1.2"/>
<path d="M543.4,568.0 L542.4,568.2 L541.6,568.5 L541.1,569.0 L541.1,569.6 L541.5,570.1 L542.0,570.6 L544.0,572.4 L546.1,574.1 L548.2,575.9 L550.3,577.7 L552.3,579.5 L553.1,580.2 L553.7,580.5 L554.6,580.7 L555.5,580.7 L557.9,580.4 L562.6,579.9 L567.4,579.3 L572.1,578.8 L576.9,578.3 L581.6,577.8 L586.4,577.4 L591.1,576.9 L595.9,576.5 L600.6,576.1 L605.4,575.8 L610.1,575.4 L614.9,575.1 L616.5,575.0 L617.4,574.9 L618.1,574.5 L618.5,574.1 L618.6,573.5 L618.4,573.0 L617.8,572.6 L617.0,572.4 L612.1,571.5 L612.0,571.5 L606.7,570.6 L606.7,570.6 L601.3,569.7 L601.3,569.7 L596.3,568.9 L595.8,568.8 L590.8,568.6 L590.7,568.6 L585.4,568.5 L585.3,568.5 L580.0,568.3 L579.9,568.3 L574.6,568.2 L574.6,568.2 L569.2,568.1 L569.2,568.1 L563.8,568.0 L563.8,568.0 L558.4,568.0 L558.4,568.0 L553.0,568.0 L553.0,568.0 L547.6,568.0 L547.6,568.0Z" fill="#f9c36a" opacity="0.9"/>
<ellipse cx="577.3" cy="575.3" rx="10.5" ry="5.2" fill="#c7b4ee" stroke="#9c86d4" stroke-width="1"/>
<ellipse cx="576.3" cy="574.1" rx="5.8" ry="1.8" fill="#ffffff" opacity="0.25"/>
<path d="M572.0,575.8 Q576.2,572.7 579.9,575.1" stroke="#7d58b6" stroke-width="1.6" fill="none" stroke-linecap="round"/>
<path d="M569.4,416.4 L568.2,416.7 L567.3,417.4 L566.7,418.5 L566.6,419.7 L566.9,420.8 L567.7,421.7 L568.8,422.3 L569.3,422.4 L577.1,424.6 L584.9,426.8 L592.8,429.2 L600.6,431.6 L608.4,434.1 L616.3,436.8 L624.1,439.4 L631.9,442.2 L639.8,445.1 L647.6,448.0 L651.5,449.6 L652.6,449.8 L653.7,449.5 L654.7,448.9 L655.3,448.0 L655.6,446.9 L656.2,431.7 L656.0,430.5 L655.4,429.5 L654.4,428.8 L653.3,428.6 L650.0,428.5 L645.9,428.4 L641.8,428.0 L637.8,427.5 L633.7,426.8 L629.6,425.9 L625.6,424.8 L621.5,423.6 L617.5,422.3 L613.5,421.1 L613.5,421.1 L609.6,419.9 L609.5,419.8 L605.6,418.7 L605.5,418.7 L601.7,417.7 L601.6,417.7 L597.8,416.9 L597.6,416.9 L593.9,416.3 L593.7,416.3 L590.0,415.9 L589.8,415.9 L586.0,415.7 L585.9,415.7 L582.1,415.7 L582.0,415.7 L578.1,415.8 L578.0,415.8 L574.1,416.0 L574.1,416.0 L570.1,416.3Z" fill="#f5a83e" stroke="#d8862a" stroke-width="1.2"/>
<path d="M580.1,420.9 L579.2,421.1 L578.4,421.4 L578.0,421.9 L577.9,422.4 L578.2,422.9 L578.8,423.3 L579.6,423.6 L580.0,423.6 L586.1,424.6 L592.2,425.6 L598.3,426.7 L604.4,427.8 L610.5,428.9 L616.6,430.1 L622.7,431.3 L628.9,432.5 L635.0,433.8 L641.1,435.2 L644.1,435.8 L645.0,435.9 L645.9,435.8 L646.6,435.6 L647.1,435.1 L647.3,434.6 L647.8,427.8 L647.6,427.3 L647.2,426.8 L646.4,426.5 L645.5,426.4 L642.9,426.4 L639.7,426.3 L636.6,426.1 L633.4,425.9 L630.2,425.6 L627.1,425.2 L623.9,424.7 L620.7,424.2 L617.6,423.6 L614.5,423.0 L614.5,423.0 L611.4,422.5 L611.4,422.5 L608.3,422.0 L608.3,422.0 L605.3,421.5 L605.2,421.5 L602.2,421.2 L602.1,421.1 L599.2,420.9 L599.0,420.9 L596.1,420.7 L596.0,420.7 L593.0,420.6 L592.9,420.6 L590.0,420.6 L589.9,420.6 L586.9,420.7 L586.8,420.7 L583.8,420.8 L583.7,420.8 L580.6,420.9Z" fill="#f9c36a" opacity="0.9"/>
<ellipse cx="617.6" cy="429.1" rx="10.5" ry="5.2" fill="#c7b4ee" stroke="#9c86d4" stroke-width="1"/>
<ellipse cx="616.6" cy="427.9" rx="5.8" ry="1.8" fill="#ffffff" opacity="0.25"/>
<path d="M612.4,429.6 Q616.6,426.5 620.2,428.9" stroke="#7d58b6" stroke-width="1.6" fill="none" stroke-linecap="round"/>
<path d="M527.4,520.2 L526.6,520.9 L526.1,521.9 L526.0,522.9 L526.2,524.0 L526.8,524.9 L527.7,525.5 L532.5,527.7 L538.9,530.7 L545.3,533.7 L551.7,536.8 L558.2,539.9 L564.6,543.1 L571.0,546.4 L577.4,549.7 L583.8,553.0 L590.2,556.5 L596.5,559.9 L602.5,563.2 L603.1,563.5 L609.5,565.3 L616.4,567.2 L623.4,569.3 L630.3,571.4 L637.2,573.6 L644.1,575.9 L646.5,576.7 L647.6,576.8 L648.7,576.6 L649.6,575.9 L650.2,575.0 L650.5,574.0 L652.0,535.5 L651.8,534.2 L651.1,533.2 L650.0,532.5 L647.1,531.5 L647.1,531.5 L639.2,528.9 L639.2,528.9 L631.2,526.3 L631.2,526.3 L623.3,523.8 L623.2,523.8 L615.3,521.4 L615.3,521.4 L607.4,519.1 L607.3,519.1 L599.4,516.9 L599.4,516.9 L591.5,514.8 L591.4,514.7 L583.5,512.7 L583.5,512.7 L575.6,510.8 L575.5,510.7 L567.6,508.9 L567.6,508.9 L559.7,507.1 L559.6,507.1 L553.4,505.8 L552.3,505.8 L551.3,506.1 L548.7,507.6 L548.7,507.6 L544.6,510.0 L544.6,510.0 L540.5,512.4 L540.5,512.4 L536.4,514.8 L536.4,514.8 L532.3,517.3 L532.3,517.3 L528.2,519.7 L528.2,519.7Z" fill="#f5a83e" stroke="#d8862a" stroke-width="1.2"/>
<path d="M543.0,527.1 L542.4,527.4 L542.0,527.8 L541.9,528.3 L542.1,528.8 L542.5,529.2 L543.2,529.4 L547.0,530.4 L552.0,531.8 L557.0,533.1 L562.0,534.5 L567.0,535.9 L572.0,537.4 L577.0,538.8 L582.0,540.3 L586.9,541.8 L591.9,543.4 L596.9,544.9 L601.5,546.4 L602.1,546.5 L607.0,547.3 L612.4,548.2 L617.8,549.2 L623.2,550.1 L628.6,551.1 L634.0,552.1 L635.9,552.5 L636.8,552.5 L637.6,552.4 L638.3,552.1 L638.8,551.7 L639.0,551.2 L640.2,533.9 L640.0,533.4 L639.5,532.9 L638.6,532.6 L636.4,532.2 L636.4,532.2 L630.2,531.0 L630.2,531.0 L624.0,529.8 L624.0,529.8 L617.8,528.7 L617.8,528.7 L611.6,527.6 L611.5,527.6 L605.4,526.6 L605.3,526.6 L599.2,525.6 L599.1,525.6 L593.0,524.6 L592.9,524.6 L586.8,523.7 L586.7,523.7 L580.6,522.8 L580.5,522.8 L574.4,522.0 L574.3,522.0 L568.1,521.2 L568.1,521.2 L563.3,520.6 L562.4,520.6 L561.6,520.7 L559.6,521.4 L559.6,521.4 L556.4,522.5 L556.4,522.5 L553.2,523.5 L553.2,523.5 L550.0,524.6 L550.0,524.6 L546.8,525.7 L546.8,525.7 L543.6,526.8 L543.6,526.9Z" fill="#f9c36a" opacity="0.9"/>
<ellipse cx="598.3" cy="537.1" rx="10.5" ry="5.2" fill="#c7b4ee" stroke="#9c86d4" stroke-width="1"/>
<ellipse cx="597.3" cy="535.9" rx="5.8" ry="1.8" fill="#ffffff" opacity="0.25"/>
<path d="M593.1,537.6 Q597.3,534.5 601.0,536.9" stroke="#7d58b6" stroke-width="1.6" fill="none" stroke-linecap="round"/>
<path d="M279.5,599 L282,587.6 L285.6,576 L288.5,564.6 L293,553 L299.4,542 L306,540 L313,536 L320,527 L325,515 L328,503 L333,496 L340,490 L355,485 L365,482.5 L374,482.5 L385,484 L396,482 L406,480 L413,483 L420,489 L433,492 L445,495 L466,500 L479,503 L484,520 L495,537 L512,546 L522,550 L530,565 L537,580 L542,599Z" fill="#f28f76" stroke="#e5734f" stroke-width="1.5"/>
<g fill="none" stroke="#f5a68b" stroke-linecap="round" opacity="0.75"><path d="M313,600 C316,570 320,548 331,533 C341,522 353,518 366,517" stroke-width="13"/><path d="M358,600 C358,585 360,568 370,556 C382,546 405,548 428,566" stroke-width="11"/><path d="M404,511 C425,512 450,522 464,546" stroke-width="9"/><path d="M480,600 C482,585 490,572 500,566" stroke-width="8"/></g>
<g transform="translate(371.5,515) rotate(-5)"><ellipse rx="13" ry="6" fill="#c7a9e6" stroke="#a27fd0" stroke-width="1.2"/><ellipse cx="0" cy="1" rx="7.2" ry="2.1" fill="#9a72c6" opacity="0.7"/><ellipse cx="-2.6" cy="-1.8" rx="6.5" ry="1.8" fill="#e6d8f6" opacity="0.8"/></g>
<g transform="translate(330,548) rotate(-60)"><ellipse rx="11" ry="6.5" fill="#c7a9e6" stroke="#a27fd0" stroke-width="1.2"/><ellipse cx="0" cy="1" rx="6.1" ry="2.3" fill="#9a72c6" opacity="0.7"/><ellipse cx="-2.2" cy="-1.9" rx="5.5" ry="1.9" fill="#e6d8f6" opacity="0.8"/></g>
<g transform="translate(433,530) rotate(20)"><ellipse rx="12" ry="6.5" fill="#c7a9e6" stroke="#a27fd0" stroke-width="1.2"/><ellipse cx="0" cy="1" rx="6.6" ry="2.3" fill="#9a72c6" opacity="0.7"/><ellipse cx="-2.4" cy="-1.9" rx="6.0" ry="1.9" fill="#e6d8f6" opacity="0.8"/></g>
<g transform="translate(479.7,577) rotate(35)"><ellipse rx="11" ry="6.5" fill="#c7a9e6" stroke="#a27fd0" stroke-width="1.2"/><ellipse cx="0" cy="1" rx="6.1" ry="2.3" fill="#9a72c6" opacity="0.7"/><ellipse cx="-2.2" cy="-1.9" rx="5.5" ry="1.9" fill="#e6d8f6" opacity="0.8"/></g>
<g fill="none" stroke-linecap="round" stroke-linejoin="round"><path d="M237,493 L262,494 L288,495 M321,487 C325,478 330,470 335,463 C339,456 348,450 358,446 L367.5,439 L367.5,425 M367.5,425 L360,417 L357.5,413 M367.5,425 L375,417 L377.5,413 M367.5,438 L345,437.5 L320,437.5 M368,438 L382,432 L395,430 M368,440 L382,446 L395,452 M281,528 L259,530 L255,545 L252,560 L248,582 L244,600 M257,532 L233,532 M262,534 L270,541 M252,560 L270,554 L281,553 M240,494 L238,512" stroke="#9ea487" stroke-width="5.2"/><path d="M237,493 L262,494 L288,495 M321,487 C325,478 330,470 335,463 C339,456 348,450 358,446 L367.5,439 L367.5,425 M367.5,425 L360,417 L357.5,413 M367.5,425 L375,417 L377.5,413 M367.5,438 L345,437.5 L320,437.5 M368,438 L382,432 L395,430 M368,440 L382,446 L395,452 M281,528 L259,530 L255,545 L252,560 L248,582 L244,600 M257,532 L233,532 M262,534 L270,541 M252,560 L270,554 L281,553 M240,494 L238,512" stroke="#cdd2ba" stroke-width="2.8"/></g>
<path d="M290,491 L306,488 L321,485 L326,494 L327,508 L324,523 L319,533 L311,540 L300,543 L290,541 L284,536 L279,529 L270,530 L277,520 L282,506 L286,497Z" fill="#c8ccb1" stroke="#a7ad90" stroke-width="1.5" stroke-linejoin="round"/>
<path d="M296,494 L317,490 L321,504 L318,522 L306,533 L293,532 L288,513Z" fill="#dde0cc" opacity="0.85"/>
<g transform="translate(303,510) rotate(-20)"><ellipse rx="10.5" ry="9" fill="#c7a9e6" stroke="#a27fd0" stroke-width="1.2"/><ellipse cx="0" cy="1" rx="5.8" ry="3.1" fill="#9a72c6" opacity="0.7"/><ellipse cx="-2.1" cy="-2.7" rx="5.2" ry="2.7" fill="#e6d8f6" opacity="0.8"/></g>
<path d="M478.7,499 L477,512 L475,526 L471.5,539 L464,550 L451.4,559 L437,568 L428,577 L424,588 L423,596 L428.7,596 L430.5,585 L437,575.6 L451.4,566.5 L469.6,557.4 L484,553 L497,550 L513,545 L519,543 L500.6,537.4 L491.5,526.4 L487,513.7 L483.3,501 L480.6,495.5Z" fill="#f6cb3c" stroke="#e8a51e" stroke-width="1.3" stroke-linejoin="round"/>
<path d="M480,505 L483,520 L489,535 L482,545 L474,545 L478,530Z" fill="#fbe37a" opacity="0.9"/>
<path d="M477,464 L480,461 L483,460 L490,462 L496,460 L499,458 L503,458 L505,461 L508,463 L512,467 L518,471 L522,477 L528,484 L539,494 L548,501 L554,507 L552,511 L546,515 L543,525 L539,533 L532,539 L524,543 L518,544 L510,541 L500,535 L492,527 L488,513 L484,501 L484,489 L480,477 L477,469Z" fill="#1f8fe0" stroke="#1270c6" stroke-width="1.8" stroke-linejoin="round"/>
<path d="M481,466 L490,464 L497,462 L504,462 L510,467 L518,474 L524,482 L533,491 L545,500 L538,503 L522,500 L506,497 L492,499 L486,490 L482,477Z" fill="#5cb4f0" opacity="0.92"/>
<path d="M488,468 L498,466 L505,472 L507,484 L502,492 L493,492 L488,481Z" fill="#a8d8f8" opacity="0.65"/>
<g transform="translate(515,522) rotate(25)"><ellipse rx="12" ry="6.5" fill="#2a64b8" stroke="#1a4f9e" stroke-width="1"/><ellipse cx="2" cy="-1" rx="7" ry="3.5" fill="#8fb0e8" opacity="0.8"/></g>
<ellipse cx="527" cy="519" rx="8" ry="5" fill="#9fd0f6" opacity="0.6" transform="rotate(20 527 519)"/>
<path d="M466.0,5.0 C488.7,0.4 524.3,13.4 547.0,18.0 C524.3,22.6 488.7,9.6 466.0,5.0Z" fill="#fbe5d3" stroke="#ea9a82" stroke-width="1.4"/>
<path d="M493.0,23.0 C515.7,18.4 551.3,31.4 574.0,36.0 C551.3,40.6 515.7,27.6 493.0,23.0Z" fill="#fbe5d3" stroke="#ea9a82" stroke-width="1.4"/>
<path d="M476.0,7.5 C493.1,5.9 519.9,14.9 537.0,16.5 C519.9,18.1 493.1,9.1 476.0,7.5Z" fill="#fdf3e9"/>
<path d="M503.0,25.5 C520.1,23.9 546.9,32.4 564.0,34.0 C546.9,35.6 520.1,27.1 503.0,25.5Z" fill="#fdf3e9"/>
</g>
<g stroke="#111" stroke-width="1.7" fill="none">
<line x1="117" y1="68.2" x2="186" y2="68.2"/>
<line x1="111" y1="135.8" x2="186" y2="135.8"/>
<line x1="135.5" y1="201" x2="186" y2="201"/>
<line x1="122.5" y1="336.9" x2="186" y2="336.9"/>
<line x1="103" y1="471.5" x2="186" y2="471.5"/>
<line x1="82" y1="530" x2="290" y2="530"/>
<line x1="53.4" y1="573.4" x2="350" y2="573.4"/>
<line x1="567" y1="213.6" x2="636" y2="213.6"/>
<line x1="519" y1="330.5" x2="636" y2="330.5"/>
<line x1="529" y1="493.5" x2="636" y2="493.5"/>
<line x1="466" y1="559.5" x2="636" y2="559.5"/>
<line x1="506" y1="11.5" x2="636" y2="21"/>
<line x1="550" y1="33" x2="636" y2="21"/>
</g>
<g stroke="#111" stroke-width="1.8" fill="none">
<path d="M210.8 21 H186.2 V114.8 H210.8"/>
<path d="M210.8 118.9 H186.2 V152.9 H210.8"/>
<path d="M210.8 157.5 H186.2 V243 H210.8"/>
<path d="M210.8 247.4 H186.2 V424 H210.8"/>
<path d="M210.8 428 H186.2 V515 H210.8"/>
</g>
<g id="lbl">
<text x="0.5" y="73.2">Stratum corneum</text>
<text x="0.5" y="138.4">Stratum lucidum</text>
<text x="0.5" y="206">Stratum granulosum</text>
<text x="0.5" y="341">Stratum spinosum</text>
<text x="0.5" y="476.8">Stratum basale</text>
<text x="0.5" y="534.3">Melanocyte</text>
<text x="0.5" y="578">Dermis</text>
<text x="642" y="25">Dead cells filled</text>
<text x="642" y="42">with keratin</text>
<text x="642" y="219.3">Lamellar granules</text>
<text x="642" y="336">Keratinocyte</text>
<text x="642" y="498.8">Merkel cell</text>
<text x="642" y="564">Sensory neuron</text>
</g>
</svg>
</body></html>
